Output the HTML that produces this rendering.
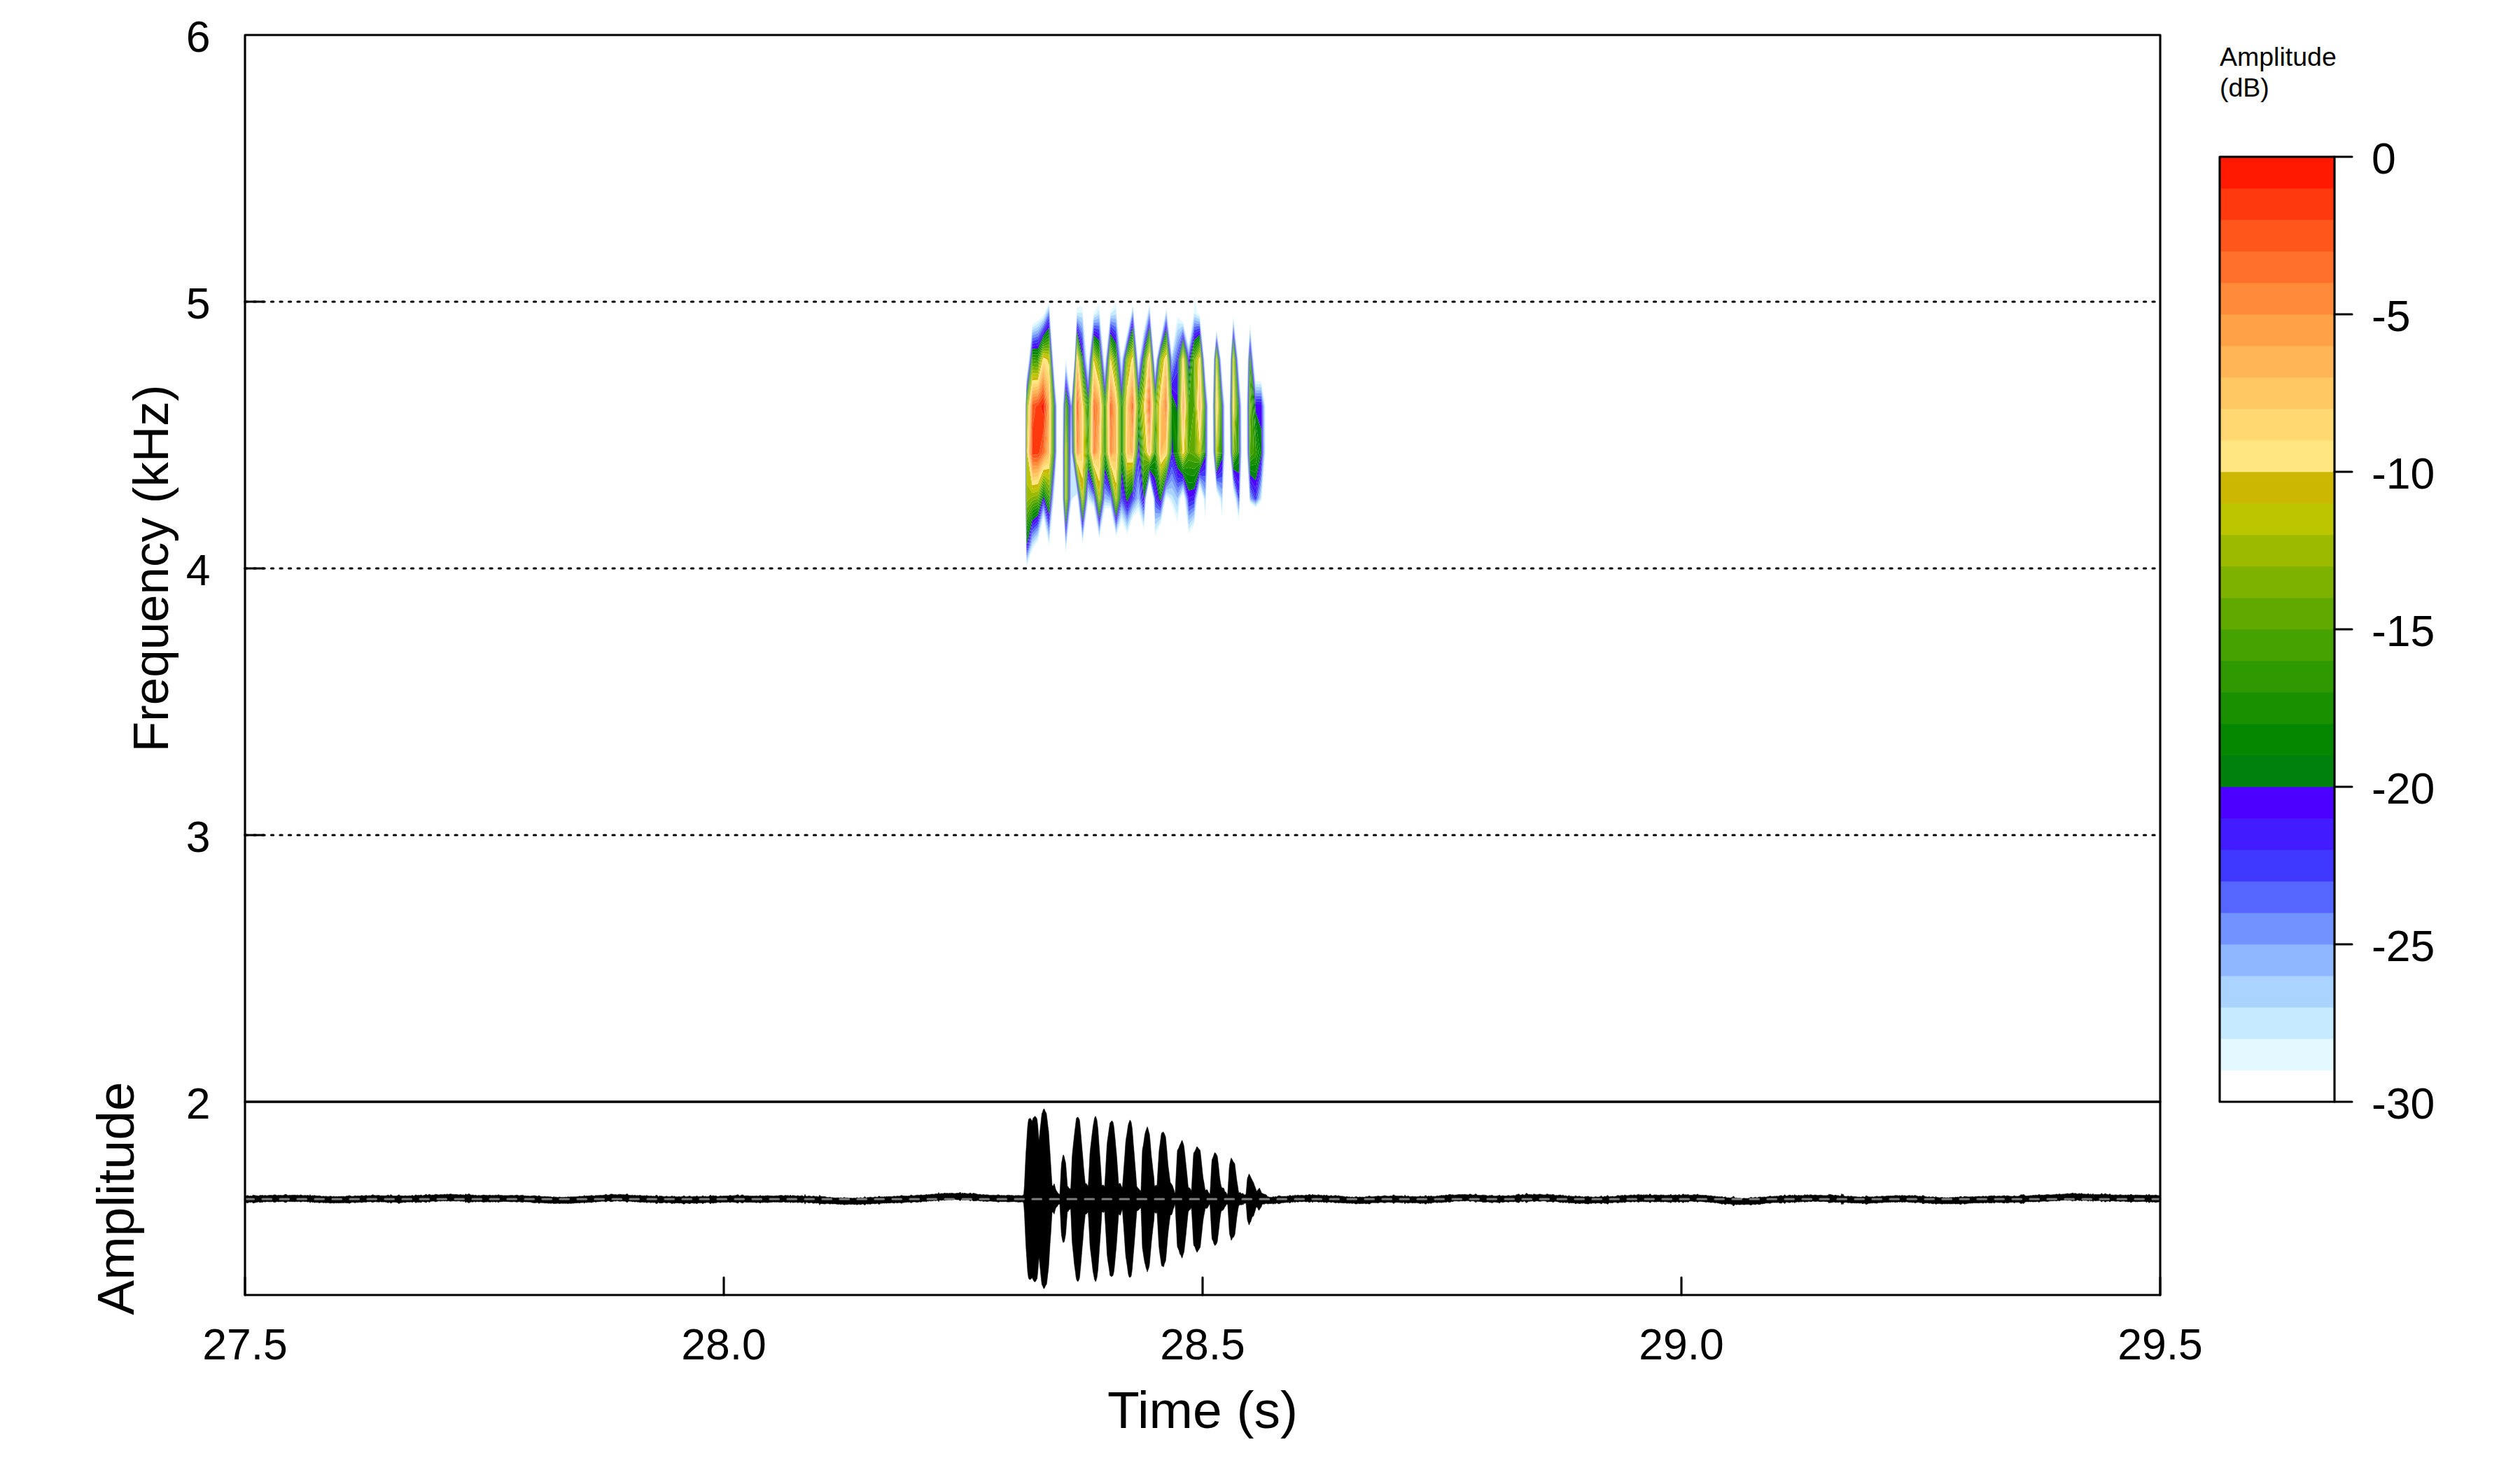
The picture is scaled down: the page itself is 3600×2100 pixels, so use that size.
<!DOCTYPE html>
<html lang="en"><head><meta charset="utf-8"><title>Spectrogram</title>
<style>html,body{margin:0;padding:0;background:#fff}svg{display:block}text{font-family:"Liberation Sans",sans-serif;fill:#000}</style></head><body>
<svg width="3600" height="2100" viewBox="0 0 3600 2100">
<rect width="3600" height="2100" fill="#fff"/>
<g id="spectro">
<path fill="#E3F8FF" d="M1466.7,810.0L1466.7,806.5L1465.8,778.9L1465.6,778.9ZM1465.6,778.9L1465.8,778.9L1464.9,712.6L1464.8,712.6ZM1464.8,712.6L1464.9,712.6L1464.8,646.3L1464.7,646.3ZM1464.7,646.3L1464.8,646.3L1465.0,580.1L1464.9,580.1ZM1464.9,580.1L1465.0,580.1L1466.7,537.9L1466.7,534.9ZM1474.7,785.3L1474.7,780.7L1466.7,806.5L1466.7,810.0ZM1469.9,513.8L1469.5,513.8L1466.7,534.9L1466.7,537.9ZM1469.5,513.8L1469.9,513.8L1474.7,467.8L1474.7,464.0ZM1478.8,778.9L1475.9,778.9L1474.7,780.7L1474.7,785.3ZM1475.9,778.9L1478.8,778.9L1482.7,773.6L1482.7,769.5ZM1482.7,462.4L1482.7,458.0L1474.7,464.0L1474.7,467.8ZM1490.7,739.3L1490.7,736.0L1482.7,769.5L1482.7,773.6ZM1490.7,453.7L1490.7,450.5L1482.7,458.0L1482.7,462.4ZM1498.6,786.7L1498.6,778.9L1498.4,778.9ZM1498.4,778.9L1498.6,778.9L1498.6,775.4L1490.7,736.0L1490.7,739.3ZM1493.3,447.6L1492.0,447.6L1490.7,450.5L1490.7,453.7ZM1492.0,447.6L1493.3,447.6L1498.6,435.6L1498.6,432.5ZM1498.8,778.9L1498.6,778.9L1498.6,786.7ZM1498.6,778.9L1498.8,778.9L1505.6,712.6L1505.1,712.6L1498.6,775.4ZM1505.1,712.6L1505.6,712.6L1506.6,700.6L1506.6,694.5ZM1506.6,543.5L1506.6,539.0L1504.8,513.8L1504.5,513.8ZM1504.5,513.8L1504.8,513.8L1499.9,447.6L1499.6,447.6ZM1499.6,447.6L1499.9,447.6L1498.6,432.5L1498.6,435.6ZM1510.2,646.3L1509.8,646.3L1506.6,694.5L1506.6,700.6ZM1509.8,646.3L1510.2,646.3L1510.2,580.1L1509.8,580.1ZM1509.8,580.1L1510.2,580.1L1506.6,539.0L1506.6,543.5ZM1522.6,791.7L1522.6,786.9L1522.2,778.9L1521.9,778.9ZM1521.9,778.9L1522.2,778.9L1518.0,712.6L1517.7,712.6ZM1517.7,712.6L1518.0,712.6L1517.9,646.3L1517.6,646.3ZM1517.6,646.3L1517.9,646.3L1518.4,580.1L1518.1,580.1ZM1518.1,580.1L1518.4,580.1L1522.6,515.9L1522.6,513.8L1522.4,513.8ZM1522.4,513.8L1522.6,513.8L1522.6,511.4ZM1523.7,778.9L1523.3,778.9L1522.6,786.9L1522.6,791.7ZM1523.3,778.9L1523.7,778.9L1530.5,717.2L1530.5,713.4ZM1530.5,573.6L1530.5,571.5L1522.7,513.8L1522.6,513.8L1522.6,515.9ZM1522.6,513.8L1522.7,513.8L1522.6,511.4ZM1533.5,712.6L1531.0,712.6L1530.5,713.4L1530.5,717.2ZM1531.0,712.6L1533.5,712.6L1538.5,707.6L1538.5,705.1ZM1535.1,513.8L1535.0,513.8L1530.5,571.5L1530.5,573.6ZM1535.0,513.8L1535.1,513.8L1538.5,447.6L1538.3,447.6ZM1538.3,447.6L1538.5,447.6L1538.5,446.8L1538.5,438.6ZM1546.5,778.3L1546.5,774.6L1539.7,712.6L1539.3,712.6ZM1539.3,712.6L1539.7,712.6L1538.5,705.1L1538.5,707.6ZM1546.5,446.8L1546.5,438.6L1538.5,438.6L1538.5,446.8ZM1554.5,717.7L1554.5,712.6L1546.5,774.6L1546.5,778.3ZM1554.5,529.9L1554.5,524.9L1553.0,513.8L1552.3,513.8ZM1552.3,513.8L1553.0,513.8L1546.9,447.6L1546.5,447.6ZM1546.5,447.6L1546.9,447.6L1546.5,438.6L1546.5,446.8ZM1562.5,725.1L1562.5,721.7L1554.5,712.6L1554.5,717.7ZM1555.7,513.8L1555.3,513.8L1554.5,524.9L1554.5,529.9ZM1555.3,513.8L1555.7,513.8L1562.5,450.5L1562.5,447.6L1562.4,447.6ZM1562.4,447.6L1562.5,447.6L1562.5,447.1ZM1570.4,770.0L1570.4,766.7L1562.5,721.7L1562.5,725.1ZM1566.8,447.6L1562.5,447.6L1562.5,450.5ZM1562.5,447.6L1566.8,447.6L1570.4,441.5L1570.4,432.9L1562.5,447.1ZM1578.4,726.8L1578.4,722.1L1570.4,766.7L1570.4,770.0ZM1578.4,527.7L1578.4,522.9L1577.5,513.8L1577.0,513.8ZM1577.0,513.8L1577.5,513.8L1571.0,447.6L1570.7,447.6ZM1570.7,447.6L1571.0,447.6L1570.4,432.9L1570.4,441.5ZM1586.4,725.9L1586.4,722.5L1578.4,722.1L1578.4,726.8ZM1579.5,513.8L1579.1,513.8L1578.4,522.9L1578.4,527.7ZM1579.1,513.8L1579.5,513.8L1586.4,447.9L1586.4,447.6L1586.1,447.6ZM1586.1,447.6L1586.4,447.6L1586.4,444.7ZM1594.4,766.7L1594.4,763.6L1586.4,722.5L1586.4,725.9ZM1587.3,447.6L1586.4,447.6L1586.4,447.9ZM1586.4,447.6L1587.3,447.6L1594.4,440.9L1594.4,431.4L1586.4,444.7ZM1602.3,743.2L1602.3,738.1L1594.4,763.6L1594.4,766.7ZM1602.3,519.8L1602.3,513.8L1601.7,513.8ZM1601.7,513.8L1602.3,513.8L1594.9,447.6L1594.6,447.6ZM1594.6,447.6L1594.9,447.6L1594.4,431.4L1594.4,440.9ZM1610.3,763.3L1610.3,758.2L1602.3,738.1L1602.3,743.2ZM1602.8,513.8L1602.3,513.8L1602.3,519.8ZM1602.3,513.8L1602.8,513.8L1610.3,477.0L1610.3,474.6ZM1618.3,739.6L1618.3,735.3L1610.3,758.2L1610.3,763.3ZM1616.5,447.6L1615.9,447.6L1610.3,474.6L1610.3,477.0ZM1615.9,447.6L1616.5,447.6L1618.3,436.1L1618.3,432.9ZM1626.3,729.2L1626.3,723.7L1618.3,735.3L1618.3,739.6ZM1626.3,523.3L1626.3,518.6L1625.9,513.8L1625.5,513.8ZM1625.5,513.8L1625.9,513.8L1619.7,447.6L1619.4,447.6ZM1619.4,447.6L1619.7,447.6L1618.3,432.9L1618.3,436.1ZM1634.2,756.7L1634.2,751.9L1626.3,723.7L1626.3,729.2ZM1627.5,513.8L1626.9,513.8L1626.3,518.6L1626.3,523.3ZM1626.9,513.8L1627.5,513.8L1634.2,473.3L1634.2,469.7ZM1637.5,712.6L1637.2,712.6L1634.2,751.9L1634.2,756.7ZM1637.2,712.6L1637.5,712.6L1642.2,688.0L1642.2,686.1ZM1639.8,447.6L1639.0,447.6L1634.2,469.7L1634.2,473.3ZM1639.0,447.6L1639.8,447.6L1642.2,436.6L1642.2,432.9ZM1650.2,766.7L1650.2,758.4L1647.9,712.6L1647.5,712.6ZM1647.5,712.6L1647.9,712.6L1642.2,686.1L1642.2,688.0ZM1650.2,529.4L1650.2,525.5L1649.2,513.8L1648.9,513.8ZM1648.9,513.8L1649.2,513.8L1643.5,447.6L1643.2,447.6ZM1643.2,447.6L1643.5,447.6L1642.2,432.9L1642.2,436.6ZM1658.2,748.0L1658.2,744.5L1650.2,758.4L1650.2,766.7ZM1651.9,513.8L1651.5,513.8L1650.2,525.5L1650.2,529.4ZM1651.5,513.8L1651.9,513.8L1658.2,482.8L1658.2,480.7ZM1665.4,712.6L1664.7,712.6L1658.2,744.5L1658.2,748.0ZM1664.7,712.6L1665.4,712.6L1666.2,709.5L1666.2,706.4ZM1665.3,447.6L1664.9,447.6L1658.2,480.7L1658.2,482.8ZM1664.9,447.6L1665.3,447.6L1666.2,441.7L1666.2,438.6ZM1674.1,720.7L1674.1,715.3L1672.5,712.6L1669.3,712.6ZM1669.3,712.6L1672.5,712.6L1666.2,706.4L1666.2,709.5ZM1674.1,506.9L1674.1,503.4L1667.4,447.6L1667.0,447.6ZM1667.0,447.6L1667.4,447.6L1666.2,438.6L1666.2,441.7ZM1682.1,746.7L1682.1,735.3L1674.1,715.3L1674.1,720.7ZM1682.1,461.9L1682.1,452.5L1674.1,503.4L1674.1,506.9ZM1686.4,712.6L1685.0,712.6L1682.1,735.3L1682.1,746.7ZM1685.0,712.6L1686.4,712.6L1690.1,705.0L1690.1,702.1ZM1690.1,462.6L1690.1,460.0L1682.1,452.5L1682.1,461.9ZM1698.1,762.5L1698.1,756.2L1692.8,712.6L1692.1,712.6ZM1692.1,712.6L1692.8,712.6L1690.1,702.1L1690.1,705.0ZM1698.1,495.4L1698.1,492.4L1690.1,460.0L1690.1,462.6ZM1706.0,750.0L1706.0,745.0L1698.1,756.2L1698.1,762.5ZM1706.0,447.6L1705.5,447.6L1698.1,492.4L1698.1,495.4ZM1705.5,447.6L1706.0,447.6L1706.0,421.0ZM1710.5,712.6L1709.9,712.6L1706.0,745.0L1706.0,750.0ZM1709.9,712.6L1710.5,712.6L1714.0,696.0L1714.0,693.3ZM1714.0,453.1L1714.0,450.0L1710.5,447.6L1706.0,447.6ZM1706.0,447.6L1710.5,447.6L1706.0,421.0ZM1722.0,745.0L1722.0,733.0L1720.4,712.6L1719.5,712.6ZM1719.5,712.6L1720.4,712.6L1714.0,693.3L1714.0,696.0ZM1722.0,537.5L1722.0,532.8L1720.7,513.8L1720.4,513.8ZM1720.4,513.8L1720.7,513.8L1714.0,450.0L1714.0,453.1ZM1722.9,712.6L1722.6,712.6L1722.0,733.0L1722.0,745.0ZM1722.6,712.6L1722.9,712.6L1726.1,646.3L1725.7,646.3ZM1725.7,646.3L1726.1,646.3L1726.2,580.1L1725.8,580.1ZM1725.8,580.1L1726.2,580.1L1722.0,532.8L1722.0,537.5ZM1737.9,703.1L1737.9,700.0L1732.9,646.3L1732.6,646.3ZM1732.6,646.3L1732.9,646.3L1732.5,580.1L1732.3,580.1ZM1732.3,580.1L1732.5,580.1L1733.9,513.8L1733.7,513.8ZM1733.7,513.8L1733.9,513.8L1737.9,472.4L1737.9,470.0ZM1745.9,740.0L1745.9,729.0L1743.7,712.6L1742.3,712.6ZM1742.3,712.6L1743.7,712.6L1737.9,700.0L1737.9,703.1ZM1745.9,539.3L1745.9,534.2L1744.5,513.8L1744.1,513.8ZM1744.1,513.8L1744.5,513.8L1737.9,470.0L1737.9,472.4ZM1746.8,712.6L1746.4,712.6L1745.9,729.0L1745.9,740.0ZM1746.4,712.6L1746.8,712.6L1750.1,646.3L1749.7,646.3ZM1749.7,646.3L1750.1,646.3L1749.9,580.1L1749.5,580.1ZM1749.5,580.1L1749.9,580.1L1745.9,534.2L1745.9,539.3ZM1761.9,702.1L1761.9,698.7L1757.1,646.3L1756.8,646.3ZM1756.8,646.3L1757.1,646.3L1756.6,580.1L1756.3,580.1ZM1756.3,580.1L1756.6,580.1L1757.8,513.8L1757.6,513.8ZM1757.6,513.8L1757.8,513.8L1761.9,454.2L1761.9,450.8ZM1769.8,743.3L1769.8,738.6L1765.2,712.6L1764.4,712.6ZM1764.4,712.6L1765.2,712.6L1761.9,698.7L1761.9,702.1ZM1769.8,531.1L1769.8,525.3L1769.1,513.8L1768.7,513.8ZM1768.7,513.8L1769.1,513.8L1761.9,450.8L1761.9,454.2ZM1771.7,712.6L1771.4,712.6L1769.8,738.6L1769.8,743.3ZM1771.4,712.6L1771.7,712.6L1774.2,646.3L1773.8,646.3ZM1773.8,646.3L1774.2,646.3L1773.9,580.1L1773.5,580.1ZM1773.5,580.1L1773.9,580.1L1769.8,525.3L1769.8,531.1ZM1785.8,718.0L1785.8,716.5L1785.0,712.6L1784.7,712.6ZM1784.7,712.6L1785.0,712.6L1781.3,646.3L1780.9,646.3ZM1780.9,646.3L1781.3,646.3L1781.1,580.1L1780.8,580.1ZM1780.8,580.1L1781.1,580.1L1782.6,513.8L1782.3,513.8ZM1782.3,513.8L1782.6,513.8L1785.8,465.9L1785.8,461.7ZM1793.8,725.0L1793.8,723.2L1785.8,716.5L1785.8,718.0ZM1793.8,548.8L1793.8,544.7L1790.8,513.8L1790.4,513.8ZM1790.4,513.8L1790.8,513.8L1785.8,461.7L1785.8,465.9ZM1801.8,716.0L1801.8,712.6L1793.8,723.2L1793.8,725.0ZM1801.8,548.8L1801.8,544.7L1793.8,544.7L1793.8,548.8ZM1802.4,712.6L1801.8,712.6L1801.8,716.0ZM1801.8,712.6L1802.4,712.6L1807.8,646.3L1807.2,646.3ZM1807.2,646.3L1807.8,646.3L1807.7,580.1L1807.0,580.1ZM1807.0,580.1L1807.7,580.1L1801.8,544.7L1801.8,548.8Z"/>
<path fill="#C6EAFF" d="M1466.7,806.5L1466.7,803.1L1465.9,778.9L1465.8,778.9ZM1465.8,778.9L1465.9,778.9L1465.0,712.6L1464.9,712.6ZM1464.9,712.6L1465.0,712.6L1464.9,646.3L1464.8,646.3ZM1464.8,646.3L1464.9,646.3L1465.2,580.1L1465.0,580.1ZM1465.0,580.1L1465.2,580.1L1466.7,540.9L1466.7,537.9ZM1474.7,780.7L1474.7,778.9L1474.1,778.9L1466.7,803.1L1466.7,806.5ZM1474.1,778.9L1474.7,778.9L1474.7,776.0ZM1470.3,513.8L1469.9,513.8L1466.7,537.9L1466.7,540.9ZM1469.9,513.8L1470.3,513.8L1474.7,471.7L1474.7,467.8ZM1475.9,778.9L1474.7,778.9L1474.7,780.7ZM1474.7,778.9L1475.9,778.9L1482.7,769.5L1482.7,765.4L1474.7,776.0ZM1482.7,466.9L1482.7,462.4L1474.7,467.8L1474.7,471.7ZM1490.7,736.0L1490.7,732.7L1482.7,765.4L1482.7,769.5ZM1490.7,456.8L1490.7,453.7L1482.7,462.4L1482.7,466.9ZM1498.6,775.4L1498.6,770.3L1490.7,732.7L1490.7,736.0ZM1494.7,447.6L1493.3,447.6L1490.7,453.7L1490.7,456.8ZM1493.3,447.6L1494.7,447.6L1498.6,438.8L1498.6,435.6ZM1505.1,712.6L1504.6,712.6L1498.6,770.3L1498.6,775.4ZM1504.6,712.6L1505.1,712.6L1506.6,694.5L1506.6,688.5ZM1506.6,548.1L1506.6,543.5L1504.5,513.8L1504.1,513.8ZM1504.1,513.8L1504.5,513.8L1499.6,447.6L1499.4,447.6ZM1499.4,447.6L1499.6,447.6L1498.6,435.6L1498.6,438.8ZM1509.8,646.3L1509.4,646.3L1506.6,688.5L1506.6,694.5ZM1509.4,646.3L1509.8,646.3L1509.8,580.1L1509.4,580.1ZM1509.4,580.1L1509.8,580.1L1506.6,543.5L1506.6,548.1ZM1522.6,786.9L1522.6,782.2L1522.4,778.9L1522.2,778.9ZM1522.2,778.9L1522.4,778.9L1518.2,712.6L1518.0,712.6ZM1518.0,712.6L1518.2,712.6L1518.2,646.3L1517.9,646.3ZM1517.9,646.3L1518.2,646.3L1518.7,580.1L1518.4,580.1ZM1518.4,580.1L1518.7,580.1L1522.6,520.9L1522.6,515.9ZM1523.3,778.9L1522.9,778.9L1522.6,782.2L1522.6,786.9ZM1522.9,778.9L1523.3,778.9L1530.5,713.4L1530.5,712.6L1530.2,712.6ZM1530.2,712.6L1530.5,712.6L1530.5,646.3L1530.4,646.3ZM1530.4,646.3L1530.5,646.3L1530.5,640.3ZM1530.5,575.8L1530.5,573.6L1522.6,515.9L1522.6,520.9ZM1531.0,712.6L1530.5,712.6L1530.5,713.4ZM1530.5,712.6L1531.0,712.6L1538.5,705.1L1538.5,702.6L1530.6,646.3L1530.5,646.3ZM1530.5,646.3L1530.6,646.3L1530.5,640.3ZM1535.3,513.8L1535.1,513.8L1530.5,573.6L1530.5,575.8ZM1535.1,513.8L1535.3,513.8L1538.5,450.5L1538.5,447.6L1538.5,447.6ZM1538.5,447.6L1538.5,447.6L1538.5,446.8ZM1546.5,774.6L1546.5,770.9L1540.1,712.6L1539.7,712.6ZM1539.7,712.6L1540.1,712.6L1538.5,702.6L1538.5,705.1ZM1546.5,454.5L1546.5,447.6L1538.5,447.6L1538.5,450.5ZM1538.5,447.6L1546.5,447.6L1546.5,446.8L1538.5,446.8ZM1554.5,712.6L1554.0,712.6L1546.5,770.9L1546.5,774.6ZM1554.0,712.6L1554.5,712.6L1554.5,707.1ZM1554.5,534.9L1554.5,529.9L1552.3,513.8L1551.7,513.8ZM1551.7,513.8L1552.3,513.8L1546.5,447.6L1546.5,447.6L1546.5,454.5ZM1546.5,447.6L1546.5,447.6L1546.5,446.8ZM1562.5,721.7L1562.5,718.3L1557.4,712.6L1554.5,712.6ZM1554.5,712.6L1557.4,712.6L1554.5,707.1ZM1556.1,513.8L1555.7,513.8L1554.5,529.9L1554.5,534.9ZM1555.7,513.8L1556.1,513.8L1562.5,454.1L1562.5,450.5ZM1570.4,766.7L1570.4,763.4L1562.5,718.3L1562.5,721.7ZM1570.4,449.2L1570.4,447.6L1566.8,447.6L1562.5,450.5L1562.5,454.1ZM1566.8,447.6L1570.4,447.6L1570.4,441.5ZM1578.4,722.1L1578.4,717.3L1570.4,763.4L1570.4,766.7ZM1578.4,532.4L1578.4,527.7L1577.0,513.8L1576.5,513.8ZM1576.5,513.8L1577.0,513.8L1570.7,447.6L1570.4,447.6L1570.4,449.2ZM1570.4,447.6L1570.7,447.6L1570.4,441.5ZM1586.4,722.5L1586.4,719.2L1578.4,717.3L1578.4,722.1ZM1579.9,513.8L1579.5,513.8L1578.4,527.7L1578.4,532.4ZM1579.5,513.8L1579.9,513.8L1586.4,451.5L1586.4,447.9ZM1594.4,763.6L1594.4,760.5L1586.4,719.2L1586.4,722.5ZM1594.4,449.3L1594.4,447.6L1587.3,447.6L1586.4,447.9L1586.4,451.5ZM1587.3,447.6L1594.4,447.6L1594.4,440.9ZM1602.3,738.1L1602.3,733.0L1594.4,760.5L1594.4,763.6ZM1602.3,525.9L1602.3,519.8L1601.7,513.8L1601.1,513.8ZM1601.1,513.8L1601.7,513.8L1594.6,447.6L1594.4,447.6L1594.4,449.3ZM1594.4,447.6L1594.6,447.6L1594.4,440.9ZM1610.3,758.2L1610.3,753.1L1602.3,733.0L1602.3,738.1ZM1603.3,513.8L1602.8,513.8L1602.3,519.8L1602.3,525.9ZM1602.8,513.8L1603.3,513.8L1610.3,479.5L1610.3,477.0ZM1618.3,735.3L1618.3,730.9L1610.3,753.1L1610.3,758.2ZM1617.0,447.6L1616.5,447.6L1610.3,477.0L1610.3,479.5ZM1616.5,447.6L1617.0,447.6L1618.3,439.3L1618.3,436.1ZM1626.3,723.7L1626.3,718.1L1618.3,730.9L1618.3,735.3ZM1626.3,528.0L1626.3,523.3L1625.5,513.8L1625.1,513.8ZM1625.1,513.8L1625.5,513.8L1619.4,447.6L1619.1,447.6ZM1619.1,447.6L1619.4,447.6L1618.3,436.1L1618.3,439.3ZM1634.2,751.9L1634.2,747.0L1626.3,718.1L1626.3,723.7ZM1628.1,513.8L1627.5,513.8L1626.3,523.3L1626.3,528.0ZM1627.5,513.8L1628.1,513.8L1634.2,477.0L1634.2,473.3ZM1637.2,712.6L1636.8,712.6L1634.2,747.0L1634.2,751.9ZM1636.8,712.6L1637.2,712.6L1642.2,686.1L1642.2,684.2ZM1640.6,447.6L1639.8,447.6L1634.2,473.3L1634.2,477.0ZM1639.8,447.6L1640.6,447.6L1642.2,440.2L1642.2,436.6ZM1650.2,758.4L1650.2,750.1L1648.4,712.6L1647.9,712.6ZM1647.9,712.6L1648.4,712.6L1642.2,684.2L1642.2,686.1ZM1650.2,533.3L1650.2,529.4L1648.9,513.8L1648.6,513.8ZM1648.6,513.8L1648.9,513.8L1643.2,447.6L1642.9,447.6ZM1642.9,447.6L1643.2,447.6L1642.2,436.6L1642.2,440.2ZM1658.2,744.5L1658.2,740.9L1650.2,750.1L1650.2,758.4ZM1652.3,513.8L1651.9,513.8L1650.2,529.4L1650.2,533.3ZM1651.9,513.8L1652.3,513.8L1658.2,484.8L1658.2,482.8ZM1664.7,712.6L1664.0,712.6L1658.2,740.9L1658.2,744.5ZM1664.0,712.6L1664.7,712.6L1666.2,706.4L1666.2,703.4ZM1665.8,447.6L1665.3,447.6L1658.2,482.8L1658.2,484.8ZM1665.3,447.6L1665.8,447.6L1666.2,444.8L1666.2,441.7ZM1674.1,715.3L1674.1,712.6L1672.5,712.6ZM1672.5,712.6L1674.1,712.6L1674.1,707.5L1666.2,703.4L1666.2,706.4ZM1674.1,510.3L1674.1,506.9L1667.0,447.6L1666.5,447.6ZM1666.5,447.6L1667.0,447.6L1666.2,441.7L1666.2,444.8ZM1682.1,735.3L1682.1,724.0L1676.8,712.6L1674.1,712.6L1674.1,715.3ZM1674.1,712.6L1676.8,712.6L1674.1,707.5ZM1682.1,471.4L1682.1,461.9L1674.1,506.9L1674.1,510.3ZM1685.0,712.6L1683.5,712.6L1682.1,724.0L1682.1,735.3ZM1683.5,712.6L1685.0,712.6L1690.1,702.1L1690.1,699.1ZM1690.1,465.3L1690.1,462.6L1682.1,461.9L1682.1,471.4ZM1698.1,756.2L1698.1,749.9L1693.6,712.6L1692.8,712.6ZM1692.8,712.6L1693.6,712.6L1690.1,699.1L1690.1,702.1ZM1698.1,498.5L1698.1,495.4L1690.1,462.6L1690.1,465.3ZM1706.0,745.0L1706.0,740.0L1698.1,749.9L1698.1,756.2ZM1706.0,452.3L1706.0,447.6L1698.1,495.4L1698.1,498.5ZM1709.9,712.6L1709.3,712.6L1706.0,740.0L1706.0,745.0ZM1709.3,712.6L1709.9,712.6L1714.0,693.3L1714.0,690.5ZM1714.0,456.3L1714.0,453.1L1706.0,447.6L1706.0,452.3ZM1722.0,733.0L1722.0,721.0L1721.3,712.6L1720.4,712.6ZM1720.4,712.6L1721.3,712.6L1714.0,690.5L1714.0,693.3ZM1722.0,542.2L1722.0,537.5L1720.4,513.8L1720.0,513.8ZM1720.0,513.8L1720.4,513.8L1714.0,453.1L1714.0,456.3ZM1722.6,712.6L1722.2,712.6L1722.0,721.0L1722.0,733.0ZM1722.2,712.6L1722.6,712.6L1725.7,646.3L1725.2,646.3ZM1725.2,646.3L1725.7,646.3L1725.8,580.1L1725.3,580.1ZM1725.3,580.1L1725.8,580.1L1722.0,537.5L1722.0,542.2ZM1737.9,700.0L1737.9,696.8L1733.2,646.3L1732.9,646.3ZM1732.9,646.3L1733.2,646.3L1732.8,580.1L1732.5,580.1ZM1732.5,580.1L1732.8,580.1L1734.1,513.8L1733.9,513.8ZM1733.9,513.8L1734.1,513.8L1737.9,474.7L1737.9,472.4ZM1745.9,729.0L1745.9,718.1L1745.2,712.6L1743.7,712.6ZM1743.7,712.6L1745.2,712.6L1737.9,696.8L1737.9,700.0ZM1745.9,544.4L1745.9,539.3L1744.1,513.8L1743.8,513.8ZM1743.8,513.8L1744.1,513.8L1737.9,472.4L1737.9,474.7ZM1746.4,712.6L1746.1,712.6L1745.9,718.1L1745.9,729.0ZM1746.1,712.6L1746.4,712.6L1749.7,646.3L1749.3,646.3ZM1749.3,646.3L1749.7,646.3L1749.5,580.1L1749.0,580.1ZM1749.0,580.1L1749.5,580.1L1745.9,539.3L1745.9,544.4ZM1761.9,698.7L1761.9,695.2L1757.4,646.3L1757.1,646.3ZM1757.1,646.3L1757.4,646.3L1756.9,580.1L1756.6,580.1ZM1756.6,580.1L1756.9,580.1L1758.0,513.8L1757.8,513.8ZM1757.8,513.8L1758.0,513.8L1761.9,457.5L1761.9,454.2ZM1769.8,738.6L1769.8,733.9L1766.1,712.6L1765.2,712.6ZM1765.2,712.6L1766.1,712.6L1761.9,695.2L1761.9,698.7ZM1769.8,536.9L1769.8,531.1L1768.7,513.8L1768.3,513.8ZM1768.3,513.8L1768.7,513.8L1761.9,454.2L1761.9,457.5ZM1771.4,712.6L1771.2,712.6L1769.8,733.9L1769.8,738.6ZM1771.2,712.6L1771.4,712.6L1773.8,646.3L1773.4,646.3ZM1773.4,646.3L1773.8,646.3L1773.5,580.1L1773.1,580.1ZM1773.1,580.1L1773.5,580.1L1769.8,531.1L1769.8,536.9ZM1785.8,716.5L1785.8,714.9L1785.3,712.6L1785.0,712.6ZM1785.0,712.6L1785.3,712.6L1781.6,646.3L1781.3,646.3ZM1781.3,646.3L1781.6,646.3L1781.4,580.1L1781.1,580.1ZM1781.1,580.1L1781.4,580.1L1782.9,513.8L1782.6,513.8ZM1782.6,513.8L1782.9,513.8L1785.8,470.2L1785.8,465.9ZM1793.8,723.2L1793.8,721.3L1785.8,714.9L1785.8,716.5ZM1793.8,553.0L1793.8,548.8L1790.4,513.8L1790.0,513.8ZM1790.0,513.8L1790.4,513.8L1785.8,465.9L1785.8,470.2ZM1801.8,712.6L1800.4,712.6L1793.8,721.3L1793.8,723.2ZM1800.4,712.6L1801.8,712.6L1801.8,704.8ZM1801.8,553.0L1801.8,548.8L1793.8,548.8L1793.8,553.0ZM1801.8,712.6L1807.2,646.3L1806.5,646.3L1801.8,704.8ZM1806.5,646.3L1807.2,646.3L1807.0,580.1L1806.3,580.1ZM1806.3,580.1L1807.0,580.1L1801.8,548.8L1801.8,553.0Z"/>
<path fill="#AAD4FF" d="M1466.7,803.1L1466.7,799.6L1466.0,778.9L1465.9,778.9ZM1465.9,778.9L1466.0,778.9L1465.1,712.6L1465.0,712.6ZM1465.0,712.6L1465.1,712.6L1465.0,646.3L1464.9,646.3ZM1464.9,646.3L1465.0,646.3L1465.3,580.1L1465.2,580.1ZM1465.2,580.1L1465.3,580.1L1466.7,543.9L1466.7,540.9ZM1474.1,778.9L1473.0,778.9L1466.7,799.6L1466.7,803.1ZM1473.0,778.9L1474.1,778.9L1474.7,776.0L1474.7,771.4ZM1470.7,513.8L1470.3,513.8L1466.7,540.9L1466.7,543.9ZM1470.3,513.8L1470.7,513.8L1474.7,475.5L1474.7,471.7ZM1482.7,765.4L1482.7,761.3L1474.7,771.4L1474.7,776.0ZM1482.7,471.3L1482.7,466.9L1474.7,471.7L1474.7,475.5ZM1490.7,732.7L1490.7,729.4L1482.7,761.3L1482.7,765.4ZM1490.7,460.0L1490.7,456.8L1482.7,466.9L1482.7,471.3ZM1498.6,770.3L1498.6,765.3L1490.7,729.4L1490.7,732.7ZM1496.1,447.6L1494.7,447.6L1490.7,456.8L1490.7,460.0ZM1494.7,447.6L1496.1,447.6L1498.6,441.9L1498.6,438.8ZM1504.6,712.6L1504.0,712.6L1498.6,765.3L1498.6,770.3ZM1504.0,712.6L1504.6,712.6L1506.6,688.5L1506.6,682.5ZM1506.6,552.7L1506.6,548.1L1504.1,513.8L1503.8,513.8ZM1503.8,513.8L1504.1,513.8L1499.4,447.6L1499.1,447.6ZM1499.1,447.6L1499.4,447.6L1498.6,438.8L1498.6,441.9ZM1509.4,646.3L1509.0,646.3L1506.6,682.5L1506.6,688.5ZM1509.0,646.3L1509.4,646.3L1509.4,580.1L1509.0,580.1ZM1509.0,580.1L1509.4,580.1L1506.6,548.1L1506.6,552.7ZM1522.6,782.2L1522.6,778.9L1522.4,778.9ZM1522.4,778.9L1522.6,778.9L1522.6,777.5L1518.5,712.6L1518.2,712.6ZM1518.2,712.6L1518.5,712.6L1518.4,646.3L1518.2,646.3ZM1518.2,646.3L1518.4,646.3L1519.1,580.1L1518.7,580.1ZM1518.7,580.1L1519.1,580.1L1522.6,525.8L1522.6,520.9ZM1522.9,778.9L1522.6,778.9L1522.6,782.2ZM1522.6,778.9L1522.9,778.9L1530.2,712.6L1529.7,712.6L1522.6,777.5ZM1529.7,712.6L1530.2,712.6L1530.4,646.3L1530.0,646.3ZM1530.0,646.3L1530.4,646.3L1530.5,640.3L1530.5,610.2ZM1530.5,577.9L1530.5,575.8L1522.6,520.9L1522.6,525.8ZM1538.5,702.6L1538.5,700.1L1531.0,646.3L1530.6,646.3ZM1530.6,646.3L1531.0,646.3L1530.5,610.2L1530.5,640.3ZM1535.4,513.8L1535.3,513.8L1530.5,575.8L1530.5,577.9ZM1535.3,513.8L1535.4,513.8L1538.5,453.7L1538.5,450.5ZM1546.5,770.9L1546.5,767.2L1540.5,712.6L1540.1,712.6ZM1540.1,712.6L1540.5,712.6L1538.5,700.1L1538.5,702.6ZM1546.5,462.2L1546.5,454.5L1538.5,450.5L1538.5,453.7ZM1554.0,712.6L1553.5,712.6L1546.5,767.2L1546.5,770.9ZM1553.5,712.6L1554.0,712.6L1554.5,707.1L1554.5,701.6ZM1554.5,539.9L1554.5,534.9L1551.7,513.8L1551.0,513.8ZM1551.0,513.8L1551.7,513.8L1546.5,454.5L1546.5,462.2ZM1562.5,718.3L1562.5,715.0L1560.4,712.6L1557.4,712.6ZM1557.4,712.6L1560.4,712.6L1554.5,701.6L1554.5,707.1ZM1556.4,513.8L1556.1,513.8L1554.5,534.9L1554.5,539.9ZM1556.1,513.8L1556.4,513.8L1562.5,457.6L1562.5,454.1ZM1570.4,763.4L1570.4,760.2L1562.5,715.0L1562.5,718.3ZM1570.4,454.5L1570.4,449.2L1562.5,454.1L1562.5,457.6ZM1578.4,717.3L1578.4,712.6L1570.4,760.2L1570.4,763.4ZM1578.4,537.2L1578.4,532.4L1576.5,513.8L1576.0,513.8ZM1576.0,513.8L1576.5,513.8L1570.4,449.2L1570.4,454.5ZM1586.4,719.2L1586.4,715.9L1578.4,712.6L1578.4,717.3ZM1580.3,513.8L1579.9,513.8L1578.4,532.4L1578.4,537.2ZM1579.9,513.8L1580.3,513.8L1586.4,455.1L1586.4,451.5ZM1594.4,760.5L1594.4,757.4L1586.4,715.9L1586.4,719.2ZM1594.4,455.3L1594.4,449.3L1586.4,451.5L1586.4,455.1ZM1602.3,733.0L1602.3,727.9L1594.4,757.4L1594.4,760.5ZM1602.3,531.9L1602.3,525.9L1601.1,513.8L1600.5,513.8ZM1600.5,513.8L1601.1,513.8L1594.4,449.3L1594.4,455.3ZM1610.3,753.1L1610.3,747.9L1602.3,727.9L1602.3,733.0ZM1603.8,513.8L1603.3,513.8L1602.3,525.9L1602.3,531.9ZM1603.3,513.8L1603.8,513.8L1610.3,481.9L1610.3,479.5ZM1618.3,730.9L1618.3,726.6L1610.3,747.9L1610.3,753.1ZM1617.5,447.6L1617.0,447.6L1610.3,479.5L1610.3,481.9ZM1617.0,447.6L1617.5,447.6L1618.3,442.5L1618.3,439.3ZM1626.3,718.1L1626.3,712.6L1618.3,726.6L1618.3,730.9ZM1626.3,532.8L1626.3,528.0L1625.1,513.8L1624.7,513.8ZM1624.7,513.8L1625.1,513.8L1619.1,447.6L1618.8,447.6ZM1618.8,447.6L1619.1,447.6L1618.3,439.3L1618.3,442.5ZM1634.2,747.0L1634.2,742.2L1626.3,712.6L1626.3,718.1ZM1628.7,513.8L1628.1,513.8L1626.3,528.0L1626.3,532.8ZM1628.1,513.8L1628.7,513.8L1634.2,480.7L1634.2,477.0ZM1636.8,712.6L1636.4,712.6L1634.2,742.2L1634.2,747.0ZM1636.4,712.6L1636.8,712.6L1642.2,684.2L1642.2,682.3ZM1641.4,447.6L1640.6,447.6L1634.2,477.0L1634.2,480.7ZM1640.6,447.6L1641.4,447.6L1642.2,443.9L1642.2,440.2ZM1650.2,750.1L1650.2,741.7L1648.8,712.6L1648.4,712.6ZM1648.4,712.6L1648.8,712.6L1642.2,682.3L1642.2,684.2ZM1650.2,537.2L1650.2,533.3L1648.6,513.8L1648.3,513.8ZM1648.3,513.8L1648.6,513.8L1642.9,447.6L1642.5,447.6ZM1642.5,447.6L1642.9,447.6L1642.2,440.2L1642.2,443.9ZM1658.2,740.9L1658.2,737.4L1650.2,741.7L1650.2,750.1ZM1652.7,513.8L1652.3,513.8L1650.2,533.3L1650.2,537.2ZM1652.3,513.8L1652.7,513.8L1658.2,486.9L1658.2,484.8ZM1664.0,712.6L1663.3,712.6L1658.2,737.4L1658.2,740.9ZM1663.3,712.6L1664.0,712.6L1666.2,703.4L1666.2,700.3ZM1666.2,447.9L1666.2,447.6L1665.8,447.6L1658.2,484.8L1658.2,486.9ZM1665.8,447.6L1666.2,447.6L1666.2,444.8ZM1674.1,707.5L1674.1,697.3L1666.2,700.3L1666.2,703.4ZM1674.1,513.8L1674.1,510.3L1666.5,447.6L1666.2,447.6L1666.2,447.9ZM1666.2,447.6L1666.5,447.6L1666.2,444.8ZM1682.1,724.0L1682.1,712.6L1676.8,712.6ZM1676.8,712.6L1682.1,712.6L1674.1,697.3L1674.1,707.5ZM1674.1,513.8L1682.1,480.8L1682.1,471.4L1674.1,510.3ZM1683.5,712.6L1682.1,712.6L1682.1,724.0ZM1682.1,712.6L1683.5,712.6L1690.1,699.1L1690.1,696.2ZM1690.1,467.9L1690.1,465.3L1682.1,471.4L1682.1,480.8ZM1698.1,749.9L1698.1,743.6L1694.3,712.6L1693.6,712.6ZM1693.6,712.6L1694.3,712.6L1690.1,696.2L1690.1,699.1ZM1698.1,501.6L1698.1,498.5L1690.1,465.3L1690.1,467.9ZM1706.0,740.0L1706.0,735.0L1698.1,743.6L1698.1,749.9ZM1706.0,457.1L1706.0,452.3L1698.1,498.5L1698.1,501.6ZM1709.3,712.6L1708.7,712.6L1706.0,735.0L1706.0,740.0ZM1708.7,712.6L1709.3,712.6L1714.0,690.5L1714.0,687.8ZM1714.0,459.4L1714.0,456.3L1706.0,452.3L1706.0,457.1ZM1722.0,721.0L1722.0,712.6L1721.3,712.6ZM1721.3,712.6L1722.0,712.6L1722.0,709.7L1714.0,687.8L1714.0,690.5ZM1722.0,547.0L1722.0,542.2L1720.0,513.8L1719.7,513.8ZM1719.7,513.8L1720.0,513.8L1714.0,456.3L1714.0,459.4ZM1722.2,712.6L1722.0,712.6L1722.0,721.0ZM1722.0,712.6L1722.2,712.6L1725.2,646.3L1724.8,646.3L1722.0,709.7ZM1724.8,646.3L1725.2,646.3L1725.3,580.1L1724.9,580.1ZM1724.9,580.1L1725.3,580.1L1722.0,542.2L1722.0,547.0ZM1737.9,696.8L1737.9,693.7L1733.5,646.3L1733.2,646.3ZM1733.2,646.3L1733.5,646.3L1733.1,580.1L1732.8,580.1ZM1732.8,580.1L1733.1,580.1L1734.4,513.8L1734.1,513.8ZM1734.1,513.8L1734.4,513.8L1737.9,477.1L1737.9,474.7ZM1745.9,718.1L1745.9,712.6L1745.2,712.6ZM1745.2,712.6L1745.9,712.6L1745.9,708.2L1737.9,693.7L1737.9,696.8ZM1745.9,549.5L1745.9,544.4L1743.8,513.8L1743.4,513.8ZM1743.4,513.8L1743.8,513.8L1737.9,474.7L1737.9,477.1ZM1746.1,712.6L1745.9,712.6L1745.9,718.1ZM1745.9,712.6L1746.1,712.6L1749.3,646.3L1748.9,646.3L1745.9,708.2ZM1748.9,646.3L1749.3,646.3L1749.0,580.1L1748.6,580.1ZM1748.6,580.1L1749.0,580.1L1745.9,544.4L1745.9,549.5ZM1761.9,695.2L1761.9,691.7L1757.7,646.3L1757.4,646.3ZM1757.4,646.3L1757.7,646.3L1757.1,580.1L1756.9,580.1ZM1756.9,580.1L1757.1,580.1L1758.3,513.8L1758.0,513.8ZM1758.0,513.8L1758.3,513.8L1761.9,460.9L1761.9,457.5ZM1769.8,733.9L1769.8,729.1L1766.9,712.6L1766.1,712.6ZM1766.1,712.6L1766.9,712.6L1761.9,691.7L1761.9,695.2ZM1769.8,542.6L1769.8,536.9L1768.3,513.8L1767.9,513.8ZM1767.9,513.8L1768.3,513.8L1761.9,457.5L1761.9,460.9ZM1771.2,712.6L1770.9,712.6L1769.8,729.1L1769.8,733.9ZM1770.9,712.6L1771.2,712.6L1773.4,646.3L1773.0,646.3ZM1773.0,646.3L1773.4,646.3L1773.1,580.1L1772.7,580.1ZM1772.7,580.1L1773.1,580.1L1769.8,536.9L1769.8,542.6ZM1785.8,714.9L1785.8,713.4L1785.6,712.6L1785.3,712.6ZM1785.3,712.6L1785.6,712.6L1782.0,646.3L1781.6,646.3ZM1781.6,646.3L1782.0,646.3L1781.7,580.1L1781.4,580.1ZM1781.4,580.1L1781.7,580.1L1783.2,513.8L1782.9,513.8ZM1782.9,513.8L1783.2,513.8L1785.8,474.4L1785.8,470.2ZM1793.8,721.3L1793.8,719.5L1785.8,713.4L1785.8,714.9ZM1793.8,557.2L1793.8,553.0L1790.0,513.8L1789.6,513.8ZM1789.6,513.8L1790.0,513.8L1785.8,470.2L1785.8,474.4ZM1800.4,712.6L1799.0,712.6L1793.8,719.5L1793.8,721.3ZM1799.0,712.6L1800.4,712.6L1801.8,704.8L1801.8,697.0ZM1801.8,557.2L1801.8,553.0L1793.8,553.0L1793.8,557.2ZM1806.5,646.3L1805.9,646.3L1801.8,697.0L1801.8,704.8ZM1805.9,646.3L1806.5,646.3L1806.3,580.1L1805.6,580.1ZM1805.6,580.1L1806.3,580.1L1801.8,553.0L1801.8,557.2Z"/>
<path fill="#8EB7FF" d="M1466.7,799.6L1466.7,796.2L1466.1,778.9L1466.0,778.9ZM1466.0,778.9L1466.1,778.9L1465.3,712.6L1465.1,712.6ZM1465.1,712.6L1465.3,712.6L1465.1,646.3L1465.0,646.3ZM1465.0,646.3L1465.1,646.3L1465.4,580.1L1465.3,580.1ZM1465.3,580.1L1465.4,580.1L1466.7,547.0L1466.7,543.9ZM1473.0,778.9L1472.0,778.9L1466.7,796.2L1466.7,799.6ZM1472.0,778.9L1473.0,778.9L1474.7,771.4L1474.7,766.7ZM1471.1,513.8L1470.7,513.8L1466.7,543.9L1466.7,547.0ZM1470.7,513.8L1471.1,513.8L1474.7,479.3L1474.7,475.5ZM1482.7,761.3L1482.7,757.2L1474.7,766.7L1474.7,771.4ZM1482.7,475.7L1482.7,471.3L1474.7,475.5L1474.7,479.3ZM1490.7,729.4L1490.7,726.1L1482.7,757.2L1482.7,761.3ZM1490.7,463.2L1490.7,460.0L1482.7,471.3L1482.7,475.7ZM1498.6,765.3L1498.6,760.3L1490.7,726.1L1490.7,729.4ZM1497.5,447.6L1496.1,447.6L1490.7,460.0L1490.7,463.2ZM1496.1,447.6L1497.5,447.6L1498.6,445.1L1498.6,441.9ZM1504.0,712.6L1503.5,712.6L1498.6,760.3L1498.6,765.3ZM1503.5,712.6L1504.0,712.6L1506.6,682.5L1506.6,676.5ZM1506.6,557.2L1506.6,552.7L1503.8,513.8L1503.5,513.8ZM1503.5,513.8L1503.8,513.8L1499.1,447.6L1498.8,447.6ZM1498.8,447.6L1499.1,447.6L1498.6,441.9L1498.6,445.1ZM1509.0,646.3L1508.6,646.3L1506.6,676.5L1506.6,682.5ZM1508.6,646.3L1509.0,646.3L1509.0,580.1L1508.6,580.1ZM1508.6,580.1L1509.0,580.1L1506.6,552.7L1506.6,557.2ZM1522.6,777.5L1522.6,773.0L1518.8,712.6L1518.5,712.6ZM1518.5,712.6L1518.8,712.6L1518.7,646.3L1518.4,646.3ZM1518.4,646.3L1518.7,646.3L1519.4,580.1L1519.1,580.1ZM1519.1,580.1L1519.4,580.1L1522.6,530.7L1522.6,525.8ZM1529.7,712.6L1529.2,712.6L1522.6,773.0L1522.6,777.5ZM1529.2,712.6L1529.7,712.6L1530.0,646.3L1529.5,646.3ZM1529.5,646.3L1530.0,646.3L1530.5,610.2L1530.5,580.1ZM1530.5,580.1L1530.5,577.9L1522.6,525.8L1522.6,530.7ZM1538.5,700.1L1538.5,697.6L1531.3,646.3L1531.0,646.3ZM1531.0,646.3L1531.3,646.3L1530.5,580.1L1530.5,610.2ZM1530.5,580.1L1535.6,513.8L1535.4,513.8L1530.5,577.9ZM1535.4,513.8L1535.6,513.8L1538.5,456.9L1538.5,453.7ZM1546.5,767.2L1546.5,763.5L1540.9,712.6L1540.5,712.6ZM1540.5,712.6L1540.9,712.6L1538.5,697.6L1538.5,700.1ZM1546.5,469.9L1546.5,462.2L1538.5,453.7L1538.5,456.9ZM1553.5,712.6L1553.1,712.6L1546.5,763.5L1546.5,767.2ZM1553.1,712.6L1553.5,712.6L1554.5,701.6L1554.5,696.0ZM1554.5,544.9L1554.5,539.9L1551.0,513.8L1550.3,513.8ZM1550.3,513.8L1551.0,513.8L1546.5,462.2L1546.5,469.9ZM1562.5,715.0L1562.5,712.6L1560.4,712.6ZM1560.4,712.6L1562.5,712.6L1562.5,711.7L1554.5,696.0L1554.5,701.6ZM1556.8,513.8L1556.4,513.8L1554.5,539.9L1554.5,544.9ZM1556.4,513.8L1556.8,513.8L1562.5,461.1L1562.5,457.6ZM1570.4,760.2L1570.4,756.9L1562.6,712.6L1562.5,712.6L1562.5,715.0ZM1562.5,712.6L1562.6,712.6L1562.5,711.7ZM1570.4,459.9L1570.4,454.5L1562.5,457.6L1562.5,461.1ZM1578.4,712.6L1577.9,712.6L1570.4,756.9L1570.4,760.2ZM1577.9,712.6L1578.4,712.6L1578.4,705.2ZM1578.4,542.0L1578.4,537.2L1576.0,513.8L1575.5,513.8ZM1575.5,513.8L1576.0,513.8L1570.4,454.5L1570.4,459.9ZM1586.4,715.9L1586.4,712.6L1578.4,712.6ZM1578.4,712.6L1586.4,712.6L1578.4,705.2ZM1580.6,513.8L1580.3,513.8L1578.4,537.2L1578.4,542.0ZM1580.3,513.8L1580.6,513.8L1586.4,458.7L1586.4,455.1ZM1594.4,757.4L1594.4,754.3L1586.4,712.6L1586.4,715.9ZM1594.4,461.2L1594.4,455.3L1586.4,455.1L1586.4,458.7ZM1602.3,727.9L1602.3,722.8L1594.4,754.3L1594.4,757.4ZM1602.3,537.9L1602.3,531.9L1600.5,513.8L1599.9,513.8ZM1599.9,513.8L1600.5,513.8L1594.4,455.3L1594.4,461.2ZM1610.3,747.9L1610.3,742.8L1602.3,722.8L1602.3,727.9ZM1604.3,513.8L1603.8,513.8L1602.3,531.9L1602.3,537.9ZM1603.8,513.8L1604.3,513.8L1610.3,484.4L1610.3,481.9ZM1618.3,726.6L1618.3,722.2L1610.3,742.8L1610.3,747.9ZM1618.0,447.6L1617.5,447.6L1610.3,481.9L1610.3,484.4ZM1617.5,447.6L1618.0,447.6L1618.3,445.7L1618.3,442.5ZM1626.3,712.6L1623.8,712.6L1618.3,722.2L1618.3,726.6ZM1623.8,712.6L1626.3,712.6L1626.3,696.0ZM1626.3,537.5L1626.3,532.8L1624.7,513.8L1624.4,513.8ZM1624.4,513.8L1624.7,513.8L1618.8,447.6L1618.5,447.6ZM1618.5,447.6L1618.8,447.6L1618.3,442.5L1618.3,445.7ZM1634.2,742.2L1634.2,737.3L1627.6,712.6L1626.3,712.6ZM1626.3,712.6L1627.6,712.6L1626.3,696.0ZM1629.3,513.8L1628.7,513.8L1626.3,532.8L1626.3,537.5ZM1628.7,513.8L1629.3,513.8L1634.2,484.4L1634.2,480.7ZM1636.4,712.6L1636.1,712.6L1634.2,737.3L1634.2,742.2ZM1636.1,712.6L1636.4,712.6L1642.2,682.3L1642.2,680.4ZM1642.2,447.6L1641.4,447.6L1634.2,480.7L1634.2,484.4ZM1641.4,447.6L1642.2,447.6L1642.2,443.9ZM1650.2,741.7L1650.2,733.4L1649.2,712.6L1648.8,712.6ZM1648.8,712.6L1649.2,712.6L1642.2,680.4L1642.2,682.3ZM1650.2,541.1L1650.2,537.2L1648.3,513.8L1648.0,513.8ZM1648.0,513.8L1648.3,513.8L1642.5,447.6L1642.2,447.6ZM1642.2,447.6L1642.5,447.6L1642.2,443.9ZM1658.2,737.4L1658.2,733.8L1650.2,733.4L1650.2,741.7ZM1653.1,513.8L1652.7,513.8L1650.2,537.2L1650.2,541.1ZM1652.7,513.8L1653.1,513.8L1658.2,489.0L1658.2,486.9ZM1663.3,712.6L1662.5,712.6L1658.2,733.8L1658.2,737.4ZM1662.5,712.6L1663.3,712.6L1666.2,700.3L1666.2,697.2ZM1666.2,451.6L1666.2,447.9L1658.2,486.9L1658.2,489.0ZM1674.1,697.3L1674.1,687.1L1666.2,697.2L1666.2,700.3ZM1674.1,522.1L1674.1,513.8L1673.7,513.8ZM1673.7,513.8L1674.1,513.8L1666.2,447.9L1666.2,451.6ZM1682.1,712.6L1682.1,705.2L1674.1,687.1L1674.1,697.3ZM1676.4,513.8L1674.1,513.8L1674.1,522.1ZM1674.1,513.8L1676.4,513.8L1682.1,490.2L1682.1,480.8ZM1682.1,712.6L1690.1,696.2L1690.1,693.3L1682.1,705.2ZM1690.1,470.6L1690.1,467.9L1682.1,480.8L1682.1,490.2ZM1698.1,743.6L1698.1,737.2L1695.1,712.6L1694.3,712.6ZM1694.3,712.6L1695.1,712.6L1690.1,693.3L1690.1,696.2ZM1698.1,504.6L1698.1,501.6L1690.1,467.9L1690.1,470.6ZM1706.0,735.0L1706.0,730.1L1698.1,737.2L1698.1,743.6ZM1706.0,461.9L1706.0,457.1L1698.1,501.6L1698.1,504.6ZM1708.7,712.6L1708.1,712.6L1706.0,730.1L1706.0,735.0ZM1708.1,712.6L1708.7,712.6L1714.0,687.8L1714.0,685.0ZM1714.0,462.5L1714.0,459.4L1706.0,457.1L1706.0,461.9ZM1722.0,709.7L1722.0,699.9L1714.0,685.0L1714.0,687.8ZM1722.0,551.7L1722.0,547.0L1719.7,513.8L1719.4,513.8ZM1719.4,513.8L1719.7,513.8L1714.0,459.4L1714.0,462.5ZM1724.8,646.3L1724.4,646.3L1722.0,699.9L1722.0,709.7ZM1724.4,646.3L1724.8,646.3L1724.9,580.1L1724.5,580.1ZM1724.5,580.1L1724.9,580.1L1722.0,547.0L1722.0,551.7ZM1737.9,693.7L1737.9,690.5L1733.8,646.3L1733.5,646.3ZM1733.5,646.3L1733.8,646.3L1733.3,580.1L1733.1,580.1ZM1733.1,580.1L1733.3,580.1L1734.6,513.8L1734.4,513.8ZM1734.4,513.8L1734.6,513.8L1737.9,479.5L1737.9,477.1ZM1745.9,708.2L1745.9,699.4L1737.9,690.5L1737.9,693.7ZM1745.9,554.6L1745.9,549.5L1743.4,513.8L1743.1,513.8ZM1743.1,513.8L1743.4,513.8L1737.9,477.1L1737.9,479.5ZM1748.9,646.3L1748.4,646.3L1745.9,699.4L1745.9,708.2ZM1748.4,646.3L1748.9,646.3L1748.6,580.1L1748.1,580.1ZM1748.1,580.1L1748.6,580.1L1745.9,549.5L1745.9,554.6ZM1761.9,691.7L1761.9,688.2L1758.0,646.3L1757.7,646.3ZM1757.7,646.3L1758.0,646.3L1757.4,580.1L1757.1,580.1ZM1757.1,580.1L1757.4,580.1L1758.5,513.8L1758.3,513.8ZM1758.3,513.8L1758.5,513.8L1761.9,464.2L1761.9,460.9ZM1769.8,729.1L1769.8,724.4L1767.7,712.6L1766.9,712.6ZM1766.9,712.6L1767.7,712.6L1761.9,688.2L1761.9,691.7ZM1769.8,548.4L1769.8,542.6L1767.9,513.8L1767.5,513.8ZM1767.5,513.8L1767.9,513.8L1761.9,460.9L1761.9,464.2ZM1770.9,712.6L1770.6,712.6L1769.8,724.4L1769.8,729.1ZM1770.6,712.6L1770.9,712.6L1773.0,646.3L1772.6,646.3ZM1772.6,646.3L1773.0,646.3L1772.7,580.1L1772.2,580.1ZM1772.2,580.1L1772.7,580.1L1769.8,542.6L1769.8,548.4ZM1785.8,713.4L1785.8,712.6L1785.6,712.6ZM1785.6,712.6L1785.8,712.6L1785.8,709.5L1782.3,646.3L1782.0,646.3ZM1782.0,646.3L1782.3,646.3L1782.1,580.1L1781.7,580.1ZM1781.7,580.1L1782.1,580.1L1783.5,513.8L1783.2,513.8ZM1783.2,513.8L1783.5,513.8L1785.8,478.7L1785.8,474.4ZM1793.8,719.5L1793.8,717.6L1787.0,712.6L1785.8,712.6L1785.8,713.4ZM1785.8,712.6L1787.0,712.6L1785.8,709.5ZM1793.8,561.3L1793.8,557.2L1789.6,513.8L1789.2,513.8ZM1789.2,513.8L1789.6,513.8L1785.8,474.4L1785.8,478.7ZM1799.0,712.6L1797.6,712.6L1793.8,717.6L1793.8,719.5ZM1797.6,712.6L1799.0,712.6L1801.8,697.0L1801.8,689.2ZM1801.8,561.3L1801.8,557.2L1793.8,557.2L1793.8,561.3ZM1805.9,646.3L1805.3,646.3L1801.8,689.2L1801.8,697.0ZM1805.3,646.3L1805.9,646.3L1805.6,580.1L1804.9,580.1ZM1804.9,580.1L1805.6,580.1L1801.8,557.2L1801.8,561.3Z"/>
<path fill="#7192FF" d="M1466.7,796.2L1466.7,792.7L1466.2,778.9L1466.1,778.9ZM1466.1,778.9L1466.2,778.9L1465.4,712.6L1465.3,712.6ZM1465.3,712.6L1465.4,712.6L1465.2,646.3L1465.1,646.3ZM1465.1,646.3L1465.2,646.3L1465.5,580.1L1465.4,580.1ZM1465.4,580.1L1465.5,580.1L1466.7,550.0L1466.7,547.0ZM1472.0,778.9L1470.9,778.9L1466.7,792.7L1466.7,796.2ZM1470.9,778.9L1472.0,778.9L1474.7,766.7L1474.7,762.0ZM1471.5,513.8L1471.1,513.8L1466.7,547.0L1466.7,550.0ZM1471.1,513.8L1471.5,513.8L1474.7,483.2L1474.7,479.3ZM1482.7,757.2L1482.7,753.1L1474.7,762.0L1474.7,766.7ZM1482.7,480.2L1482.7,475.7L1474.7,479.3L1474.7,483.2ZM1490.7,726.1L1490.7,722.8L1482.7,753.1L1482.7,757.2ZM1490.7,466.3L1490.7,463.2L1482.7,475.7L1482.7,480.2ZM1498.6,760.3L1498.6,755.3L1490.7,722.8L1490.7,726.1ZM1498.6,448.5L1498.6,447.6L1497.5,447.6L1490.7,463.2L1490.7,466.3ZM1497.5,447.6L1498.6,447.6L1498.6,445.1ZM1503.5,712.6L1503.0,712.6L1498.6,755.3L1498.6,760.3ZM1503.0,712.6L1503.5,712.6L1506.6,676.5L1506.6,670.4ZM1506.6,561.8L1506.6,557.2L1503.5,513.8L1503.1,513.8ZM1503.1,513.8L1503.5,513.8L1498.8,447.6L1498.6,447.6L1498.6,448.5ZM1498.6,447.6L1498.8,447.6L1498.6,445.1ZM1508.6,646.3L1508.2,646.3L1506.6,670.4L1506.6,676.5ZM1508.2,646.3L1508.6,646.3L1508.6,580.1L1508.2,580.1ZM1508.2,580.1L1508.6,580.1L1506.6,557.2L1506.6,561.8ZM1522.6,773.0L1522.6,768.6L1519.1,712.6L1518.8,712.6ZM1518.8,712.6L1519.1,712.6L1519.0,646.3L1518.7,646.3ZM1518.7,646.3L1519.0,646.3L1519.7,580.1L1519.4,580.1ZM1519.4,580.1L1519.7,580.1L1522.6,535.7L1522.6,530.7ZM1529.2,712.6L1528.7,712.6L1522.6,768.6L1522.6,773.0ZM1528.7,712.6L1529.2,712.6L1529.5,646.3L1529.0,646.3ZM1529.0,646.3L1529.5,646.3L1530.5,580.1L1529.8,580.1ZM1529.8,580.1L1530.5,580.1L1522.6,530.7L1522.6,535.7ZM1538.5,697.6L1538.5,695.1L1531.7,646.3L1531.3,646.3ZM1531.3,646.3L1531.7,646.3L1530.9,580.1L1530.5,580.1ZM1530.5,580.1L1530.9,580.1L1535.8,513.8L1535.6,513.8ZM1535.6,513.8L1535.8,513.8L1538.5,460.1L1538.5,456.9ZM1546.5,763.5L1546.5,759.8L1541.3,712.6L1540.9,712.6ZM1540.9,712.6L1541.3,712.6L1538.5,695.1L1538.5,697.6ZM1546.5,477.6L1546.5,469.9L1538.5,456.9L1538.5,460.1ZM1553.1,712.6L1552.6,712.6L1546.5,759.8L1546.5,763.5ZM1552.6,712.6L1553.1,712.6L1554.5,696.0L1554.5,690.5ZM1554.5,550.0L1554.5,544.9L1550.3,513.8L1549.7,513.8ZM1549.7,513.8L1550.3,513.8L1546.5,469.9L1546.5,477.6ZM1562.5,711.7L1562.5,708.6L1554.5,690.5L1554.5,696.0ZM1557.2,513.8L1556.8,513.8L1554.5,544.9L1554.5,550.0ZM1556.8,513.8L1557.2,513.8L1562.5,464.7L1562.5,461.1ZM1570.4,756.9L1570.4,753.6L1563.2,712.6L1562.6,712.6ZM1562.6,712.6L1563.2,712.6L1562.5,708.6L1562.5,711.7ZM1570.4,465.2L1570.4,459.9L1562.5,461.1L1562.5,464.7ZM1577.9,712.6L1577.3,712.6L1570.4,753.6L1570.4,756.9ZM1577.3,712.6L1577.9,712.6L1578.4,705.2L1578.4,697.9ZM1578.4,546.7L1578.4,542.0L1575.5,513.8L1575.0,513.8ZM1575.0,513.8L1575.5,513.8L1570.4,459.9L1570.4,465.2ZM1586.4,712.6L1586.4,709.4L1578.4,697.9L1578.4,705.2ZM1581.0,513.8L1580.6,513.8L1578.4,542.0L1578.4,546.7ZM1580.6,513.8L1581.0,513.8L1586.4,462.3L1586.4,458.7ZM1594.4,754.3L1594.4,751.2L1587.0,712.6L1586.4,712.6ZM1586.4,712.6L1587.0,712.6L1586.4,709.4ZM1594.4,467.1L1594.4,461.2L1586.4,458.7L1586.4,462.3ZM1602.3,722.8L1602.3,717.7L1594.4,751.2L1594.4,754.3ZM1602.3,543.9L1602.3,537.9L1599.9,513.8L1599.2,513.8ZM1599.2,513.8L1599.9,513.8L1594.4,461.2L1594.4,467.1ZM1610.3,742.8L1610.3,737.7L1602.3,717.7L1602.3,722.8ZM1604.8,513.8L1604.3,513.8L1602.3,537.9L1602.3,543.9ZM1604.3,513.8L1604.8,513.8L1610.3,486.8L1610.3,484.4ZM1618.3,722.2L1618.3,717.8L1610.3,737.7L1610.3,742.8ZM1618.3,449.3L1618.3,447.6L1618.0,447.6L1610.3,484.4L1610.3,486.8ZM1618.0,447.6L1618.3,447.6L1618.3,445.7ZM1623.8,712.6L1621.3,712.6L1618.3,717.8L1618.3,722.2ZM1621.3,712.6L1623.8,712.6L1626.3,696.0L1626.3,679.5ZM1626.3,542.2L1626.3,537.5L1624.4,513.8L1624.0,513.8ZM1624.0,513.8L1624.4,513.8L1618.5,447.6L1618.3,447.6L1618.3,449.3ZM1618.3,447.6L1618.5,447.6L1618.3,445.7ZM1634.2,737.3L1634.2,732.5L1628.9,712.6L1627.6,712.6ZM1627.6,712.6L1628.9,712.6L1626.3,679.5L1626.3,696.0ZM1629.9,513.8L1629.3,513.8L1626.3,537.5L1626.3,542.2ZM1629.3,513.8L1629.9,513.8L1634.2,488.1L1634.2,484.4ZM1636.1,712.6L1635.7,712.6L1634.2,732.5L1634.2,737.3ZM1635.7,712.6L1636.1,712.6L1642.2,680.4L1642.2,678.5ZM1642.2,451.2L1642.2,447.6L1634.2,484.4L1634.2,488.1ZM1650.2,733.4L1650.2,725.1L1649.6,712.6L1649.2,712.6ZM1649.2,712.6L1649.6,712.6L1642.2,678.5L1642.2,680.4ZM1650.2,545.0L1650.2,541.1L1648.0,513.8L1647.7,513.8ZM1647.7,513.8L1648.0,513.8L1642.2,447.6L1642.2,451.2ZM1658.2,733.8L1658.2,730.3L1650.2,725.1L1650.2,733.4ZM1653.6,513.8L1653.1,513.8L1650.2,541.1L1650.2,545.0ZM1653.1,513.8L1653.6,513.8L1658.2,491.0L1658.2,489.0ZM1662.5,712.6L1661.8,712.6L1658.2,730.3L1658.2,733.8ZM1661.8,712.6L1662.5,712.6L1666.2,697.2L1666.2,694.1ZM1666.2,455.2L1666.2,451.6L1658.2,489.0L1658.2,491.0ZM1674.1,687.1L1674.1,676.9L1666.2,694.1L1666.2,697.2ZM1674.1,530.4L1674.1,522.1L1673.7,513.8L1673.2,513.8ZM1673.2,513.8L1673.7,513.8L1666.2,451.6L1666.2,455.2ZM1682.1,705.2L1682.1,697.9L1674.1,676.9L1674.1,687.1ZM1678.7,513.8L1676.4,513.8L1674.1,522.1L1674.1,530.4ZM1676.4,513.8L1678.7,513.8L1682.1,499.7L1682.1,490.2ZM1690.1,693.3L1690.1,690.3L1682.1,697.9L1682.1,705.2ZM1690.1,473.2L1690.1,470.6L1682.1,490.2L1682.1,499.7ZM1698.1,737.2L1698.1,730.9L1695.9,712.6L1695.1,712.6ZM1695.1,712.6L1695.9,712.6L1690.1,690.3L1690.1,693.3ZM1698.1,507.7L1698.1,504.6L1690.1,470.6L1690.1,473.2ZM1706.0,730.1L1706.0,725.1L1698.1,730.9L1698.1,737.2ZM1706.0,466.6L1706.0,461.9L1698.1,504.6L1698.1,507.7ZM1708.1,712.6L1707.5,712.6L1706.0,725.1L1706.0,730.1ZM1707.5,712.6L1708.1,712.6L1714.0,685.0L1714.0,682.2ZM1714.0,465.6L1714.0,462.5L1706.0,461.9L1706.0,466.6ZM1722.0,699.9L1722.0,690.2L1714.0,682.2L1714.0,685.0ZM1722.0,556.4L1722.0,551.7L1719.4,513.8L1719.0,513.8ZM1719.0,513.8L1719.4,513.8L1714.0,462.5L1714.0,465.6ZM1724.4,646.3L1723.9,646.3L1722.0,690.2L1722.0,699.9ZM1723.9,646.3L1724.4,646.3L1724.5,580.1L1724.1,580.1ZM1724.1,580.1L1724.5,580.1L1722.0,551.7L1722.0,556.4ZM1737.9,690.5L1737.9,687.4L1734.1,646.3L1733.8,646.3ZM1733.8,646.3L1734.1,646.3L1733.6,580.1L1733.3,580.1ZM1733.3,580.1L1733.6,580.1L1734.8,513.8L1734.6,513.8ZM1734.6,513.8L1734.8,513.8L1737.9,481.8L1737.9,479.5ZM1745.9,699.4L1745.9,690.5L1737.9,687.4L1737.9,690.5ZM1745.9,559.7L1745.9,554.6L1743.1,513.8L1742.7,513.8ZM1742.7,513.8L1743.1,513.8L1737.9,479.5L1737.9,481.8ZM1748.4,646.3L1748.0,646.3L1745.9,690.5L1745.9,699.4ZM1748.0,646.3L1748.4,646.3L1748.1,580.1L1747.7,580.1ZM1747.7,580.1L1748.1,580.1L1745.9,554.6L1745.9,559.7ZM1761.9,688.2L1761.9,684.7L1758.4,646.3L1758.0,646.3ZM1758.0,646.3L1758.4,646.3L1757.7,580.1L1757.4,580.1ZM1757.4,580.1L1757.7,580.1L1758.7,513.8L1758.5,513.8ZM1758.5,513.8L1758.7,513.8L1761.9,467.6L1761.9,464.2ZM1769.8,724.4L1769.8,719.7L1768.6,712.6L1767.7,712.6ZM1767.7,712.6L1768.6,712.6L1761.9,684.7L1761.9,688.2ZM1769.8,554.2L1769.8,548.4L1767.5,513.8L1767.2,513.8ZM1767.2,513.8L1767.5,513.8L1761.9,464.2L1761.9,467.6ZM1770.6,712.6L1770.3,712.6L1769.8,719.7L1769.8,724.4ZM1770.3,712.6L1770.6,712.6L1772.6,646.3L1772.2,646.3ZM1772.2,646.3L1772.6,646.3L1772.2,580.1L1771.8,580.1ZM1771.8,580.1L1772.2,580.1L1769.8,548.4L1769.8,554.2ZM1785.8,709.5L1785.8,703.1L1782.7,646.3L1782.3,646.3ZM1782.3,646.3L1782.7,646.3L1782.4,580.1L1782.1,580.1ZM1782.1,580.1L1782.4,580.1L1783.7,513.8L1783.5,513.8ZM1783.5,513.8L1783.7,513.8L1785.8,482.9L1785.8,478.7ZM1793.8,717.6L1793.8,715.8L1789.5,712.6L1787.0,712.6ZM1787.0,712.6L1789.5,712.6L1785.8,703.1L1785.8,709.5ZM1793.8,565.5L1793.8,561.3L1789.2,513.8L1788.8,513.8ZM1788.8,513.8L1789.2,513.8L1785.8,478.7L1785.8,482.9ZM1797.6,712.6L1796.2,712.6L1793.8,715.8L1793.8,717.6ZM1796.2,712.6L1797.6,712.6L1801.8,689.2L1801.8,681.4ZM1801.8,565.5L1801.8,561.3L1793.8,561.3L1793.8,565.5ZM1805.3,646.3L1804.6,646.3L1801.8,681.4L1801.8,689.2ZM1804.6,646.3L1805.3,646.3L1804.9,580.1L1804.2,580.1ZM1804.2,580.1L1804.9,580.1L1801.8,561.3L1801.8,565.5Z"/>
<path fill="#5566FF" d="M1466.7,792.7L1466.7,789.2L1466.4,778.9L1466.2,778.9ZM1466.2,778.9L1466.4,778.9L1465.5,712.6L1465.4,712.6ZM1465.4,712.6L1465.5,712.6L1465.3,646.3L1465.2,646.3ZM1465.2,646.3L1465.3,646.3L1465.6,580.1L1465.5,580.1ZM1465.5,580.1L1465.6,580.1L1466.7,553.0L1466.7,550.0ZM1470.9,778.9L1469.9,778.9L1466.7,789.2L1466.7,792.7ZM1469.9,778.9L1470.9,778.9L1474.7,762.0L1474.7,757.3ZM1471.9,513.8L1471.5,513.8L1466.7,550.0L1466.7,553.0ZM1471.5,513.8L1471.9,513.8L1474.7,487.0L1474.7,483.2ZM1482.7,753.1L1482.7,749.0L1474.7,757.3L1474.7,762.0ZM1482.7,484.6L1482.7,480.2L1474.7,483.2L1474.7,487.0ZM1490.7,722.8L1490.7,719.5L1482.7,749.0L1482.7,753.1ZM1490.7,469.5L1490.7,466.3L1482.7,480.2L1482.7,484.6ZM1498.6,755.3L1498.6,750.3L1490.7,719.5L1490.7,722.8ZM1498.6,453.4L1498.6,448.5L1490.7,466.3L1490.7,469.5ZM1503.0,712.6L1502.5,712.6L1498.6,750.3L1498.6,755.3ZM1502.5,712.6L1503.0,712.6L1506.6,670.4L1506.6,664.4ZM1506.6,566.4L1506.6,561.8L1503.1,513.8L1502.8,513.8ZM1502.8,513.8L1503.1,513.8L1498.6,448.5L1498.6,453.4ZM1508.2,646.3L1507.8,646.3L1506.6,664.4L1506.6,670.4ZM1507.8,646.3L1508.2,646.3L1508.2,580.1L1507.8,580.1ZM1507.8,580.1L1508.2,580.1L1506.6,561.8L1506.6,566.4ZM1522.6,768.6L1522.6,764.1L1519.4,712.6L1519.1,712.6ZM1519.1,712.6L1519.4,712.6L1519.3,646.3L1519.0,646.3ZM1519.0,646.3L1519.3,646.3L1520.0,580.1L1519.7,580.1ZM1519.7,580.1L1520.0,580.1L1522.6,540.6L1522.6,535.7ZM1528.7,712.6L1528.2,712.6L1522.6,764.1L1522.6,768.6ZM1528.2,712.6L1528.7,712.6L1529.0,646.3L1528.5,646.3ZM1528.5,646.3L1529.0,646.3L1529.8,580.1L1529.0,580.1ZM1529.0,580.1L1529.8,580.1L1522.6,535.7L1522.6,540.6ZM1538.5,695.1L1538.5,692.6L1532.0,646.3L1531.7,646.3ZM1531.7,646.3L1532.0,646.3L1531.3,580.1L1530.9,580.1ZM1530.9,580.1L1531.3,580.1L1535.9,513.8L1535.8,513.8ZM1535.8,513.8L1535.9,513.8L1538.5,463.3L1538.5,460.1ZM1546.5,759.8L1546.5,756.2L1541.7,712.6L1541.3,712.6ZM1541.3,712.6L1541.7,712.6L1538.5,692.6L1538.5,695.1ZM1546.5,485.3L1546.5,477.6L1538.5,460.1L1538.5,463.3ZM1552.6,712.6L1552.1,712.6L1546.5,756.2L1546.5,759.8ZM1552.1,712.6L1552.6,712.6L1554.5,690.5L1554.5,685.0ZM1554.5,555.0L1554.5,550.0L1549.7,513.8L1549.0,513.8ZM1549.0,513.8L1549.7,513.8L1546.5,477.6L1546.5,485.3ZM1562.5,708.6L1562.5,705.5L1554.5,685.0L1554.5,690.5ZM1557.6,513.8L1557.2,513.8L1554.5,550.0L1554.5,555.0ZM1557.2,513.8L1557.6,513.8L1562.5,468.2L1562.5,464.7ZM1570.4,753.6L1570.4,750.3L1563.8,712.6L1563.2,712.6ZM1563.2,712.6L1563.8,712.6L1562.5,705.5L1562.5,708.6ZM1570.4,470.5L1570.4,465.2L1562.5,464.7L1562.5,468.2ZM1577.3,712.6L1576.8,712.6L1570.4,750.3L1570.4,753.6ZM1576.8,712.6L1577.3,712.6L1578.4,697.9L1578.4,690.5ZM1578.4,551.5L1578.4,546.7L1575.0,513.8L1574.5,513.8ZM1574.5,513.8L1575.0,513.8L1570.4,465.2L1570.4,470.5ZM1586.4,709.4L1586.4,706.1L1578.4,690.5L1578.4,697.9ZM1581.4,513.8L1581.0,513.8L1578.4,546.7L1578.4,551.5ZM1581.0,513.8L1581.4,513.8L1586.4,465.9L1586.4,462.3ZM1594.4,751.2L1594.4,748.2L1587.6,712.6L1587.0,712.6ZM1587.0,712.6L1587.6,712.6L1586.4,706.1L1586.4,709.4ZM1594.4,473.0L1594.4,467.1L1586.4,462.3L1586.4,465.9ZM1602.3,717.7L1602.3,712.6L1594.4,748.2L1594.4,751.2ZM1602.3,550.0L1602.3,543.9L1599.2,513.8L1598.6,513.8ZM1598.6,513.8L1599.2,513.8L1594.4,467.1L1594.4,473.0ZM1610.3,737.7L1610.3,732.6L1602.3,712.6L1602.3,717.7ZM1605.3,513.8L1604.8,513.8L1602.3,543.9L1602.3,550.0ZM1604.8,513.8L1605.3,513.8L1610.3,489.3L1610.3,486.8ZM1618.3,717.8L1618.3,713.5L1610.3,732.6L1610.3,737.7ZM1618.3,453.6L1618.3,449.3L1610.3,486.8L1610.3,489.3ZM1621.3,712.6L1618.8,712.6L1618.3,713.5L1618.3,717.8ZM1618.8,712.6L1621.3,712.6L1626.3,679.5L1626.3,662.9ZM1626.3,547.0L1626.3,542.2L1624.0,513.8L1623.6,513.8ZM1623.6,513.8L1624.0,513.8L1618.3,449.3L1618.3,453.6ZM1634.2,732.5L1634.2,727.6L1630.2,712.6L1628.9,712.6ZM1628.9,712.6L1630.2,712.6L1626.3,662.9L1626.3,679.5ZM1630.6,513.8L1629.9,513.8L1626.3,542.2L1626.3,547.0ZM1629.9,513.8L1630.6,513.8L1634.2,491.7L1634.2,488.1ZM1635.7,712.6L1635.4,712.6L1634.2,727.6L1634.2,732.5ZM1635.4,712.6L1635.7,712.6L1642.2,678.5L1642.2,676.6ZM1642.2,454.8L1642.2,451.2L1634.2,488.1L1634.2,491.7ZM1650.2,725.1L1650.2,716.8L1650.0,712.6L1649.6,712.6ZM1649.6,712.6L1650.0,712.6L1642.2,676.6L1642.2,678.5ZM1650.2,548.9L1650.2,545.0L1647.7,513.8L1647.3,513.8ZM1647.3,513.8L1647.7,513.8L1642.2,451.2L1642.2,454.8ZM1658.2,730.3L1658.2,726.8L1650.2,716.8L1650.2,725.1ZM1654.0,513.8L1653.6,513.8L1650.2,545.0L1650.2,548.9ZM1653.6,513.8L1654.0,513.8L1658.2,493.1L1658.2,491.0ZM1661.8,712.6L1661.1,712.6L1658.2,726.8L1658.2,730.3ZM1661.1,712.6L1661.8,712.6L1666.2,694.1L1666.2,691.0ZM1666.2,458.9L1666.2,455.2L1658.2,491.0L1658.2,493.1ZM1674.1,676.9L1674.1,666.7L1666.2,691.0L1666.2,694.1ZM1674.1,538.7L1674.1,530.4L1673.2,513.8L1672.8,513.8ZM1672.8,513.8L1673.2,513.8L1666.2,455.2L1666.2,458.9ZM1682.1,697.9L1682.1,690.5L1674.1,666.7L1674.1,676.9ZM1681.0,513.8L1678.7,513.8L1674.1,530.4L1674.1,538.7ZM1678.7,513.8L1681.0,513.8L1682.1,509.1L1682.1,499.7ZM1690.1,690.3L1690.1,687.4L1682.1,690.5L1682.1,697.9ZM1690.1,475.8L1690.1,473.2L1682.1,499.7L1682.1,509.1ZM1698.1,730.9L1698.1,724.6L1696.6,712.6L1695.9,712.6ZM1695.9,712.6L1696.6,712.6L1690.1,687.4L1690.1,690.3ZM1698.1,510.8L1698.1,507.7L1690.1,473.2L1690.1,475.8ZM1706.0,725.1L1706.0,720.1L1698.1,724.6L1698.1,730.9ZM1706.0,471.4L1706.0,466.6L1698.1,507.7L1698.1,510.8ZM1707.5,712.6L1706.9,712.6L1706.0,720.1L1706.0,725.1ZM1706.9,712.6L1707.5,712.6L1714.0,682.2L1714.0,679.5ZM1714.0,468.8L1714.0,465.6L1706.0,466.6L1706.0,471.4ZM1722.0,690.2L1722.0,680.5L1714.0,679.5L1714.0,682.2ZM1722.0,561.2L1722.0,556.4L1719.0,513.8L1718.7,513.8ZM1718.7,513.8L1719.0,513.8L1714.0,465.6L1714.0,468.8ZM1723.9,646.3L1723.5,646.3L1722.0,680.5L1722.0,690.2ZM1723.5,646.3L1723.9,646.3L1724.1,580.1L1723.7,580.1ZM1723.7,580.1L1724.1,580.1L1722.0,556.4L1722.0,561.2ZM1737.9,687.4L1737.9,684.2L1734.4,646.3L1734.1,646.3ZM1734.1,646.3L1734.4,646.3L1733.8,580.1L1733.6,580.1ZM1733.6,580.1L1733.8,580.1L1735.1,513.8L1734.8,513.8ZM1734.8,513.8L1735.1,513.8L1737.9,484.2L1737.9,481.8ZM1745.9,690.5L1745.9,681.7L1737.9,684.2L1737.9,687.4ZM1745.9,564.8L1745.9,559.7L1742.7,513.8L1742.4,513.8ZM1742.4,513.8L1742.7,513.8L1737.9,481.8L1737.9,484.2ZM1748.0,646.3L1747.6,646.3L1745.9,681.7L1745.9,690.5ZM1747.6,646.3L1748.0,646.3L1747.7,580.1L1747.2,580.1ZM1747.2,580.1L1747.7,580.1L1745.9,559.7L1745.9,564.8ZM1761.9,684.7L1761.9,681.2L1758.7,646.3L1758.4,646.3ZM1758.4,646.3L1758.7,646.3L1758.0,580.1L1757.7,580.1ZM1757.7,580.1L1758.0,580.1L1758.9,513.8L1758.7,513.8ZM1758.7,513.8L1758.9,513.8L1761.9,470.9L1761.9,467.6ZM1769.8,719.7L1769.8,715.0L1769.4,712.6L1768.6,712.6ZM1768.6,712.6L1769.4,712.6L1761.9,681.2L1761.9,684.7ZM1769.8,559.9L1769.8,554.2L1767.2,513.8L1766.8,513.8ZM1766.8,513.8L1767.2,513.8L1761.9,467.6L1761.9,470.9ZM1770.3,712.6L1770.0,712.6L1769.8,715.0L1769.8,719.7ZM1770.0,712.6L1770.3,712.6L1772.2,646.3L1771.8,646.3ZM1771.8,646.3L1772.2,646.3L1771.8,580.1L1771.4,580.1ZM1771.4,580.1L1771.8,580.1L1769.8,554.2L1769.8,559.9ZM1785.8,703.1L1785.8,696.8L1783.0,646.3L1782.7,646.3ZM1782.7,646.3L1783.0,646.3L1782.7,580.1L1782.4,580.1ZM1782.4,580.1L1782.7,580.1L1784.0,513.8L1783.7,513.8ZM1783.7,513.8L1784.0,513.8L1785.8,487.1L1785.8,482.9ZM1793.8,715.8L1793.8,713.9L1792.0,712.6L1789.5,712.6ZM1789.5,712.6L1792.0,712.6L1785.8,696.8L1785.8,703.1ZM1793.8,569.7L1793.8,565.5L1788.8,513.8L1788.4,513.8ZM1788.4,513.8L1788.8,513.8L1785.8,482.9L1785.8,487.1ZM1796.2,712.6L1794.8,712.6L1793.8,713.9L1793.8,715.8ZM1794.8,712.6L1796.2,712.6L1801.8,681.4L1801.8,673.6ZM1801.8,569.7L1801.8,565.5L1793.8,565.5L1793.8,569.7ZM1804.6,646.3L1804.0,646.3L1801.8,673.6L1801.8,681.4ZM1804.0,646.3L1804.6,646.3L1804.2,580.1L1803.5,580.1ZM1803.5,580.1L1804.2,580.1L1801.8,565.5L1801.8,569.7Z"/>
<path fill="#3F39FF" d="M1466.7,789.2L1466.7,785.8L1466.5,778.9L1466.4,778.9ZM1466.4,778.9L1466.5,778.9L1465.6,712.6L1465.5,712.6ZM1465.5,712.6L1465.6,712.6L1465.5,646.3L1465.3,646.3ZM1465.3,646.3L1465.5,646.3L1465.8,580.1L1465.6,580.1ZM1465.6,580.1L1465.8,580.1L1466.7,556.0L1466.7,553.0ZM1469.9,778.9L1468.8,778.9L1466.7,785.8L1466.7,789.2ZM1468.8,778.9L1469.9,778.9L1474.7,757.3L1474.7,752.6ZM1472.3,513.8L1471.9,513.8L1466.7,553.0L1466.7,556.0ZM1471.9,513.8L1472.3,513.8L1474.7,490.8L1474.7,487.0ZM1482.7,749.0L1482.7,744.9L1474.7,752.6L1474.7,757.3ZM1482.7,489.0L1482.7,484.6L1474.7,487.0L1474.7,490.8ZM1490.7,719.5L1490.7,716.2L1482.7,744.9L1482.7,749.0ZM1490.7,472.7L1490.7,469.5L1482.7,484.6L1482.7,489.0ZM1498.6,750.3L1498.6,745.2L1490.7,716.2L1490.7,719.5ZM1498.6,458.2L1498.6,453.4L1490.7,469.5L1490.7,472.7ZM1502.5,712.6L1502.0,712.6L1498.6,745.2L1498.6,750.3ZM1502.0,712.6L1502.5,712.6L1506.6,664.4L1506.6,658.4ZM1506.6,570.9L1506.6,566.4L1502.8,513.8L1502.5,513.8ZM1502.5,513.8L1502.8,513.8L1498.6,453.4L1498.6,458.2ZM1507.8,646.3L1507.4,646.3L1506.6,658.4L1506.6,664.4ZM1507.4,646.3L1507.8,646.3L1507.8,580.1L1507.4,580.1ZM1507.4,580.1L1507.8,580.1L1506.6,566.4L1506.6,570.9ZM1522.6,764.1L1522.6,759.6L1519.6,712.6L1519.4,712.6ZM1519.4,712.6L1519.6,712.6L1519.5,646.3L1519.3,646.3ZM1519.3,646.3L1519.5,646.3L1520.3,580.1L1520.0,580.1ZM1520.0,580.1L1520.3,580.1L1522.6,545.5L1522.6,540.6ZM1528.2,712.6L1527.7,712.6L1522.6,759.6L1522.6,764.1ZM1527.7,712.6L1528.2,712.6L1528.5,646.3L1528.0,646.3ZM1528.0,646.3L1528.5,646.3L1529.0,580.1L1528.2,580.1ZM1528.2,580.1L1529.0,580.1L1522.6,540.6L1522.6,545.5ZM1538.5,692.6L1538.5,690.1L1532.4,646.3L1532.0,646.3ZM1532.0,646.3L1532.4,646.3L1531.6,580.1L1531.3,580.1ZM1531.3,580.1L1531.6,580.1L1536.1,513.8L1535.9,513.8ZM1535.9,513.8L1536.1,513.8L1538.5,466.5L1538.5,463.3ZM1546.5,756.2L1546.5,752.5L1542.2,712.6L1541.7,712.6ZM1541.7,712.6L1542.2,712.6L1538.5,690.1L1538.5,692.6ZM1546.5,493.0L1546.5,485.3L1538.5,463.3L1538.5,466.5ZM1552.1,712.6L1551.6,712.6L1546.5,752.5L1546.5,756.2ZM1551.6,712.6L1552.1,712.6L1554.5,685.0L1554.5,679.5ZM1554.5,560.0L1554.5,555.0L1549.0,513.8L1548.3,513.8ZM1548.3,513.8L1549.0,513.8L1546.5,485.3L1546.5,493.0ZM1562.5,705.5L1562.5,702.3L1554.5,679.5L1554.5,685.0ZM1558.0,513.8L1557.6,513.8L1554.5,555.0L1554.5,560.0ZM1557.6,513.8L1558.0,513.8L1562.5,471.8L1562.5,468.2ZM1570.4,750.3L1570.4,747.0L1564.4,712.6L1563.8,712.6ZM1563.8,712.6L1564.4,712.6L1562.5,702.3L1562.5,705.5ZM1570.4,475.9L1570.4,470.5L1562.5,468.2L1562.5,471.8ZM1576.8,712.6L1576.2,712.6L1570.4,747.0L1570.4,750.3ZM1576.2,712.6L1576.8,712.6L1578.4,690.5L1578.4,683.2ZM1578.4,556.3L1578.4,551.5L1574.5,513.8L1574.0,513.8ZM1574.0,513.8L1574.5,513.8L1570.4,470.5L1570.4,475.9ZM1586.4,706.1L1586.4,702.9L1578.4,683.2L1578.4,690.5ZM1581.8,513.8L1581.4,513.8L1578.4,551.5L1578.4,556.3ZM1581.4,513.8L1581.8,513.8L1586.4,469.5L1586.4,465.9ZM1594.4,748.2L1594.4,745.1L1588.2,712.6L1587.6,712.6ZM1587.6,712.6L1588.2,712.6L1586.4,702.9L1586.4,706.1ZM1594.4,478.9L1594.4,473.0L1586.4,465.9L1586.4,469.5ZM1602.3,712.6L1601.6,712.6L1594.4,745.1L1594.4,748.2ZM1601.6,712.6L1602.3,712.6L1602.3,699.4ZM1602.3,556.0L1602.3,550.0L1598.6,513.8L1598.0,513.8ZM1598.0,513.8L1598.6,513.8L1594.4,473.0L1594.4,478.9ZM1610.3,732.6L1610.3,727.5L1604.4,712.6L1602.3,712.6ZM1602.3,712.6L1604.4,712.6L1602.3,699.4ZM1605.8,513.8L1605.3,513.8L1602.3,550.0L1602.3,556.0ZM1605.3,513.8L1605.8,513.8L1610.3,491.7L1610.3,489.3ZM1618.3,713.5L1618.3,712.6L1616.6,712.6L1610.3,727.5L1610.3,732.6ZM1616.6,712.6L1618.3,712.6L1618.3,709.4ZM1618.3,457.9L1618.3,453.6L1610.3,489.3L1610.3,491.7ZM1618.8,712.6L1618.3,712.6L1618.3,713.5ZM1618.3,712.6L1618.8,712.6L1626.3,662.9L1626.3,646.3L1618.3,709.4ZM1626.3,551.7L1626.3,547.0L1623.6,513.8L1623.2,513.8ZM1623.2,513.8L1623.6,513.8L1618.3,453.6L1618.3,457.9ZM1634.2,727.6L1634.2,722.8L1631.5,712.6L1630.2,712.6ZM1630.2,712.6L1631.5,712.6L1626.3,646.3L1626.3,662.9ZM1631.2,513.8L1630.6,513.8L1626.3,547.0L1626.3,551.7ZM1630.6,513.8L1631.2,513.8L1634.2,495.4L1634.2,491.7ZM1635.4,712.6L1635.0,712.6L1634.2,722.8L1634.2,727.6ZM1635.0,712.6L1635.4,712.6L1642.2,676.6L1642.2,674.7ZM1642.2,458.5L1642.2,454.8L1634.2,491.7L1634.2,495.4ZM1650.2,716.8L1650.2,712.6L1650.0,712.6ZM1650.0,712.6L1650.2,712.6L1650.2,706.6L1642.2,674.7L1642.2,676.6ZM1650.2,552.8L1650.2,548.9L1647.3,513.8L1647.0,513.8ZM1647.0,513.8L1647.3,513.8L1642.2,454.8L1642.2,458.5ZM1658.2,726.8L1658.2,723.2L1651.3,712.6L1650.2,712.6L1650.2,716.8ZM1650.2,712.6L1651.3,712.6L1650.2,706.6ZM1654.4,513.8L1654.0,513.8L1650.2,548.9L1650.2,552.8ZM1654.0,513.8L1654.4,513.8L1658.2,495.2L1658.2,493.1ZM1661.1,712.6L1660.4,712.6L1658.2,723.2L1658.2,726.8ZM1660.4,712.6L1661.1,712.6L1666.2,691.0L1666.2,688.0ZM1666.2,462.5L1666.2,458.9L1658.2,493.1L1658.2,495.2ZM1674.1,666.7L1674.1,656.5L1666.2,688.0L1666.2,691.0ZM1674.1,547.0L1674.1,538.7L1672.8,513.8L1672.4,513.8ZM1672.4,513.8L1672.8,513.8L1666.2,458.9L1666.2,462.5ZM1682.1,690.5L1682.1,683.2L1674.1,656.5L1674.1,666.7ZM1682.1,530.4L1682.1,513.8L1681.0,513.8L1674.1,538.7L1674.1,547.0ZM1681.0,513.8L1682.1,513.8L1682.1,509.1ZM1690.1,687.4L1690.1,684.5L1682.1,683.2L1682.1,690.5ZM1682.4,513.8L1682.1,513.8L1682.1,530.4ZM1682.1,513.8L1682.4,513.8L1690.1,478.5L1690.1,475.8L1682.1,509.1ZM1698.1,724.6L1698.1,718.3L1697.4,712.6L1696.6,712.6ZM1696.6,712.6L1697.4,712.6L1690.1,684.5L1690.1,687.4ZM1698.1,513.8L1698.1,510.8L1690.1,475.8L1690.1,478.5ZM1706.0,720.1L1706.0,715.1L1698.1,718.3L1698.1,724.6ZM1698.1,513.8L1706.0,476.2L1706.0,471.4L1698.1,510.8ZM1706.9,712.6L1706.3,712.6L1706.0,715.1L1706.0,720.1ZM1706.3,712.6L1706.9,712.6L1714.0,679.5L1714.0,676.7ZM1714.0,471.9L1714.0,468.8L1706.0,471.4L1706.0,476.2ZM1722.0,680.5L1722.0,670.7L1714.0,676.7L1714.0,679.5ZM1722.0,565.9L1722.0,561.2L1718.7,513.8L1718.4,513.8ZM1718.4,513.8L1718.7,513.8L1714.0,468.8L1714.0,471.9ZM1723.5,646.3L1723.1,646.3L1722.0,670.7L1722.0,680.5ZM1723.1,646.3L1723.5,646.3L1723.7,580.1L1723.2,580.1ZM1723.2,580.1L1723.7,580.1L1722.0,561.2L1722.0,565.9ZM1737.9,684.2L1737.9,681.1L1734.7,646.3L1734.4,646.3ZM1734.4,646.3L1734.7,646.3L1734.1,580.1L1733.8,580.1ZM1733.8,580.1L1734.1,580.1L1735.3,513.8L1735.1,513.8ZM1735.1,513.8L1735.3,513.8L1737.9,486.6L1737.9,484.2ZM1745.9,681.7L1745.9,672.9L1737.9,681.1L1737.9,684.2ZM1745.9,569.9L1745.9,564.8L1742.4,513.8L1742.0,513.8ZM1742.0,513.8L1742.4,513.8L1737.9,484.2L1737.9,486.6ZM1747.6,646.3L1747.2,646.3L1745.9,672.9L1745.9,681.7ZM1747.2,646.3L1747.6,646.3L1747.2,580.1L1746.8,580.1ZM1746.8,580.1L1747.2,580.1L1745.9,564.8L1745.9,569.9ZM1761.9,681.2L1761.9,677.7L1759.0,646.3L1758.7,646.3ZM1758.7,646.3L1759.0,646.3L1758.2,580.1L1758.0,580.1ZM1758.0,580.1L1758.2,580.1L1759.2,513.8L1758.9,513.8ZM1758.9,513.8L1759.2,513.8L1761.9,474.3L1761.9,470.9ZM1769.8,715.0L1769.8,712.6L1769.4,712.6ZM1769.4,712.6L1769.8,712.6L1769.8,705.2L1761.9,677.7L1761.9,681.2ZM1769.8,565.7L1769.8,559.9L1766.8,513.8L1766.4,513.8ZM1766.4,513.8L1766.8,513.8L1761.9,470.9L1761.9,474.3ZM1770.0,712.6L1769.8,712.6L1769.8,715.0ZM1769.8,712.6L1770.0,712.6L1771.8,646.3L1771.4,646.3L1769.8,705.2ZM1771.4,646.3L1771.8,646.3L1771.4,580.1L1770.9,580.1ZM1770.9,580.1L1771.4,580.1L1769.8,559.9L1769.8,565.7ZM1785.8,696.8L1785.8,690.5L1783.4,646.3L1783.0,646.3ZM1783.0,646.3L1783.4,646.3L1783.0,580.1L1782.7,580.1ZM1782.7,580.1L1783.0,580.1L1784.3,513.8L1784.0,513.8ZM1784.0,513.8L1784.3,513.8L1785.8,491.4L1785.8,487.1ZM1793.8,713.9L1793.8,712.6L1792.0,712.6ZM1792.0,712.6L1793.8,712.6L1793.8,709.2L1785.8,690.5L1785.8,696.8ZM1793.8,573.8L1793.8,569.7L1788.4,513.8L1787.9,513.8ZM1787.9,513.8L1788.4,513.8L1785.8,487.1L1785.8,491.4ZM1794.8,712.6L1793.8,712.6L1793.8,713.9ZM1793.8,712.6L1794.8,712.6L1801.8,673.6L1801.8,665.8L1793.8,709.2ZM1801.8,573.8L1801.8,569.7L1793.8,569.7L1793.8,573.8ZM1804.0,646.3L1803.4,646.3L1801.8,665.8L1801.8,673.6ZM1803.4,646.3L1804.0,646.3L1803.5,580.1L1802.8,580.1ZM1802.8,580.1L1803.5,580.1L1801.8,569.7L1801.8,573.8Z"/>
<path fill="#421CFF" d="M1466.7,785.8L1466.7,782.3L1466.6,778.9L1466.5,778.9ZM1466.5,778.9L1466.6,778.9L1465.7,712.6L1465.6,712.6ZM1465.6,712.6L1465.7,712.6L1465.6,646.3L1465.5,646.3ZM1465.5,646.3L1465.6,646.3L1465.9,580.1L1465.8,580.1ZM1465.8,580.1L1465.9,580.1L1466.7,559.0L1466.7,556.0ZM1468.8,778.9L1467.8,778.9L1466.7,782.3L1466.7,785.8ZM1467.8,778.9L1468.8,778.9L1474.7,752.6L1474.7,747.9ZM1472.7,513.8L1472.3,513.8L1466.7,556.0L1466.7,559.0ZM1472.3,513.8L1472.7,513.8L1474.7,494.7L1474.7,490.8ZM1482.7,744.9L1482.7,740.8L1474.7,747.9L1474.7,752.6ZM1482.7,493.4L1482.7,489.0L1474.7,490.8L1474.7,494.7ZM1490.7,716.2L1490.7,712.9L1482.7,740.8L1482.7,744.9ZM1490.7,475.8L1490.7,472.7L1482.7,489.0L1482.7,493.4ZM1498.6,745.2L1498.6,740.2L1490.7,712.9L1490.7,716.2ZM1498.6,463.0L1498.6,458.2L1490.7,472.7L1490.7,475.8ZM1502.0,712.6L1501.5,712.6L1498.6,740.2L1498.6,745.2ZM1501.5,712.6L1502.0,712.6L1506.6,658.4L1506.6,652.4ZM1506.6,575.5L1506.6,570.9L1502.5,513.8L1502.1,513.8ZM1502.1,513.8L1502.5,513.8L1498.6,458.2L1498.6,463.0ZM1507.4,646.3L1507.0,646.3L1506.6,652.4L1506.6,658.4ZM1507.0,646.3L1507.4,646.3L1507.4,580.1L1507.0,580.1ZM1507.0,580.1L1507.4,580.1L1506.6,570.9L1506.6,575.5ZM1522.6,759.6L1522.6,755.1L1519.9,712.6L1519.6,712.6ZM1519.6,712.6L1519.9,712.6L1519.8,646.3L1519.5,646.3ZM1519.5,646.3L1519.8,646.3L1520.7,580.1L1520.3,580.1ZM1520.3,580.1L1520.7,580.1L1522.6,550.5L1522.6,545.5ZM1527.7,712.6L1527.2,712.6L1522.6,755.1L1522.6,759.6ZM1527.2,712.6L1527.7,712.6L1528.0,646.3L1527.5,646.3ZM1527.5,646.3L1528.0,646.3L1528.2,580.1L1527.4,580.1ZM1527.4,580.1L1528.2,580.1L1522.6,545.5L1522.6,550.5ZM1538.5,690.1L1538.5,687.6L1532.7,646.3L1532.4,646.3ZM1532.4,646.3L1532.7,646.3L1532.0,580.1L1531.6,580.1ZM1531.6,580.1L1532.0,580.1L1536.3,513.8L1536.1,513.8ZM1536.1,513.8L1536.3,513.8L1538.5,469.8L1538.5,466.5ZM1546.5,752.5L1546.5,748.8L1542.6,712.6L1542.2,712.6ZM1542.2,712.6L1542.6,712.6L1538.5,687.6L1538.5,690.1ZM1546.5,500.7L1546.5,493.0L1538.5,466.5L1538.5,469.8ZM1551.6,712.6L1551.2,712.6L1546.5,748.8L1546.5,752.5ZM1551.2,712.6L1551.6,712.6L1554.5,679.5L1554.5,674.0ZM1554.5,565.0L1554.5,560.0L1548.3,513.8L1547.6,513.8ZM1547.6,513.8L1548.3,513.8L1546.5,493.0L1546.5,500.7ZM1562.5,702.3L1562.5,699.2L1554.5,674.0L1554.5,679.5ZM1558.3,513.8L1558.0,513.8L1554.5,560.0L1554.5,565.0ZM1558.0,513.8L1558.3,513.8L1562.5,475.3L1562.5,471.8ZM1570.4,747.0L1570.4,743.8L1564.9,712.6L1564.4,712.6ZM1564.4,712.6L1564.9,712.6L1562.5,699.2L1562.5,702.3ZM1570.4,481.2L1570.4,475.9L1562.5,471.8L1562.5,475.3ZM1576.2,712.6L1575.7,712.6L1570.4,743.8L1570.4,747.0ZM1575.7,712.6L1576.2,712.6L1578.4,683.2L1578.4,675.8ZM1578.4,561.0L1578.4,556.3L1574.0,513.8L1573.5,513.8ZM1573.5,513.8L1574.0,513.8L1570.4,475.9L1570.4,481.2ZM1586.4,702.9L1586.4,699.7L1578.4,675.8L1578.4,683.2ZM1582.1,513.8L1581.8,513.8L1578.4,556.3L1578.4,561.0ZM1581.8,513.8L1582.1,513.8L1586.4,473.1L1586.4,469.5ZM1594.4,745.1L1594.4,742.0L1588.7,712.6L1588.2,712.6ZM1588.2,712.6L1588.7,712.6L1586.4,699.7L1586.4,702.9ZM1594.4,484.8L1594.4,478.9L1586.4,469.5L1586.4,473.1ZM1601.6,712.6L1601.0,712.6L1594.4,742.0L1594.4,745.1ZM1601.0,712.6L1601.6,712.6L1602.3,699.4L1602.3,686.1ZM1602.3,562.0L1602.3,556.0L1598.0,513.8L1597.4,513.8ZM1597.4,513.8L1598.0,513.8L1594.4,478.9L1594.4,484.8ZM1610.3,727.5L1610.3,722.3L1606.4,712.6L1604.4,712.6ZM1604.4,712.6L1606.4,712.6L1602.3,686.1L1602.3,699.4ZM1606.3,513.8L1605.8,513.8L1602.3,556.0L1602.3,562.0ZM1605.8,513.8L1606.3,513.8L1610.3,494.2L1610.3,491.7ZM1616.6,712.6L1614.4,712.6L1610.3,722.3L1610.3,727.5ZM1614.4,712.6L1616.6,712.6L1618.3,709.4L1618.3,705.3ZM1618.3,462.2L1618.3,457.9L1610.3,491.7L1610.3,494.2ZM1626.3,646.3L1625.8,646.3L1618.3,705.3L1618.3,709.4ZM1625.8,646.3L1626.3,646.3L1626.3,635.3ZM1626.3,556.4L1626.3,551.7L1623.2,513.8L1622.8,513.8ZM1622.8,513.8L1623.2,513.8L1618.3,457.9L1618.3,462.2ZM1634.2,722.8L1634.2,717.9L1632.8,712.6L1631.5,712.6ZM1631.5,712.6L1632.8,712.6L1627.2,646.3L1626.3,646.3ZM1626.3,646.3L1627.2,646.3L1626.3,635.3ZM1631.8,513.8L1631.2,513.8L1626.3,551.7L1626.3,556.4ZM1631.2,513.8L1631.8,513.8L1634.2,499.1L1634.2,495.4ZM1635.0,712.6L1634.6,712.6L1634.2,717.9L1634.2,722.8ZM1634.6,712.6L1635.0,712.6L1642.2,674.7L1642.2,672.9ZM1642.2,462.1L1642.2,458.5L1634.2,495.4L1634.2,499.1ZM1650.2,706.6L1650.2,694.5L1642.2,672.9L1642.2,674.7ZM1650.2,556.7L1650.2,552.8L1647.0,513.8L1646.7,513.8ZM1646.7,513.8L1647.0,513.8L1642.2,458.5L1642.2,462.1ZM1658.2,723.2L1658.2,719.7L1653.6,712.6L1651.3,712.6ZM1651.3,712.6L1653.6,712.6L1650.2,694.5L1650.2,706.6ZM1654.8,513.8L1654.4,513.8L1650.2,552.8L1650.2,556.7ZM1654.4,513.8L1654.8,513.8L1658.2,497.3L1658.2,495.2ZM1660.4,712.6L1659.6,712.6L1658.2,719.7L1658.2,723.2ZM1659.6,712.6L1660.4,712.6L1666.2,688.0L1666.2,684.9ZM1666.2,466.1L1666.2,462.5L1658.2,495.2L1658.2,497.3ZM1674.1,656.5L1674.1,646.3L1666.2,684.9L1666.2,688.0ZM1674.1,555.2L1674.1,547.0L1672.4,513.8L1671.9,513.8ZM1671.9,513.8L1672.4,513.8L1666.2,462.5L1666.2,466.1ZM1682.1,683.2L1682.1,675.8L1674.1,646.3L1674.1,656.5ZM1682.1,563.5L1682.1,530.4L1674.1,547.0L1674.1,555.2ZM1690.1,684.5L1690.1,681.5L1682.1,675.8L1682.1,683.2ZM1683.0,513.8L1682.4,513.8L1682.1,530.4L1682.1,563.5ZM1682.4,513.8L1683.0,513.8L1690.1,481.1L1690.1,478.5ZM1698.1,718.3L1698.1,712.6L1697.4,712.6ZM1697.4,712.6L1698.1,712.6L1698.1,711.5L1690.1,681.5L1690.1,684.5ZM1698.1,524.0L1698.1,513.8L1697.5,513.8ZM1697.5,513.8L1698.1,513.8L1690.1,478.5L1690.1,481.1ZM1706.0,715.1L1706.0,712.6L1698.1,712.6L1698.1,718.3ZM1698.1,712.6L1706.0,712.6L1706.0,707.9L1698.1,711.5ZM1699.1,513.8L1698.1,513.8L1698.1,524.0ZM1698.1,513.8L1699.1,513.8L1706.0,480.9L1706.0,476.2ZM1706.3,712.6L1706.0,712.6L1706.0,715.1ZM1706.0,712.6L1706.3,712.6L1714.0,676.7L1714.0,674.0L1706.0,707.9ZM1714.0,475.0L1714.0,471.9L1706.0,476.2L1706.0,480.9ZM1722.0,670.7L1722.0,661.0L1714.0,674.0L1714.0,676.7ZM1722.0,570.6L1722.0,565.9L1718.4,513.8L1718.1,513.8ZM1718.1,513.8L1718.4,513.8L1714.0,471.9L1714.0,475.0ZM1723.1,646.3L1722.6,646.3L1722.0,661.0L1722.0,670.7ZM1722.6,646.3L1723.1,646.3L1723.2,580.1L1722.8,580.1ZM1722.8,580.1L1723.2,580.1L1722.0,565.9L1722.0,570.6ZM1737.9,681.1L1737.9,677.9L1735.0,646.3L1734.7,646.3ZM1734.7,646.3L1735.0,646.3L1734.3,580.1L1734.1,580.1ZM1734.1,580.1L1734.3,580.1L1735.5,513.8L1735.3,513.8ZM1735.3,513.8L1735.5,513.8L1737.9,489.0L1737.9,486.6ZM1745.9,672.9L1745.9,664.0L1737.9,677.9L1737.9,681.1ZM1745.9,575.0L1745.9,569.9L1742.0,513.8L1741.7,513.8ZM1741.7,513.8L1742.0,513.8L1737.9,486.6L1737.9,489.0ZM1747.2,646.3L1746.8,646.3L1745.9,664.0L1745.9,672.9ZM1746.8,646.3L1747.2,646.3L1746.8,580.1L1746.4,580.1ZM1746.4,580.1L1746.8,580.1L1745.9,569.9L1745.9,575.0ZM1761.9,677.7L1761.9,674.2L1759.3,646.3L1759.0,646.3ZM1759.0,646.3L1759.3,646.3L1758.5,580.1L1758.2,580.1ZM1758.2,580.1L1758.5,580.1L1759.4,513.8L1759.2,513.8ZM1759.2,513.8L1759.4,513.8L1761.9,477.6L1761.9,474.3ZM1769.8,705.2L1769.8,690.5L1761.9,674.2L1761.9,677.7ZM1769.8,571.4L1769.8,565.7L1766.4,513.8L1766.0,513.8ZM1766.0,513.8L1766.4,513.8L1761.9,474.3L1761.9,477.6ZM1771.4,646.3L1771.0,646.3L1769.8,690.5L1769.8,705.2ZM1771.0,646.3L1771.4,646.3L1770.9,580.1L1770.5,580.1ZM1770.5,580.1L1770.9,580.1L1769.8,565.7L1769.8,571.4ZM1785.8,690.5L1785.8,684.2L1783.7,646.3L1783.4,646.3ZM1783.4,646.3L1783.7,646.3L1783.4,580.1L1783.0,580.1ZM1783.0,580.1L1783.4,580.1L1784.6,513.8L1784.3,513.8ZM1784.3,513.8L1784.6,513.8L1785.8,495.6L1785.8,491.4ZM1793.8,709.2L1793.8,697.8L1785.8,684.2L1785.8,690.5ZM1793.8,578.0L1793.8,573.8L1787.9,513.8L1787.5,513.8ZM1787.5,513.8L1787.9,513.8L1785.8,491.4L1785.8,495.6ZM1801.8,665.8L1801.8,658.0L1793.8,697.8L1793.8,709.2ZM1801.8,578.0L1801.8,573.8L1793.8,573.8L1793.8,578.0ZM1803.4,646.3L1802.7,646.3L1801.8,658.0L1801.8,665.8ZM1802.7,646.3L1803.4,646.3L1802.8,580.1L1802.1,580.1ZM1802.1,580.1L1802.8,580.1L1801.8,573.8L1801.8,578.0Z"/>
<path fill="#4C00FF" d="M1466.7,782.3L1466.7,778.9L1466.6,778.9ZM1466.6,778.9L1466.7,778.9L1465.8,712.6L1465.7,712.6ZM1465.7,712.6L1465.8,712.6L1465.7,646.3L1465.6,646.3ZM1465.6,646.3L1465.7,646.3L1466.0,580.1L1465.9,580.1ZM1465.9,580.1L1466.0,580.1L1466.7,562.0L1466.7,559.0ZM1467.8,778.9L1466.7,778.9L1466.7,782.3ZM1466.7,778.9L1467.8,778.9L1474.7,747.9L1474.7,743.2ZM1473.1,513.8L1472.7,513.8L1466.7,559.0L1466.7,562.0ZM1472.7,513.8L1473.1,513.8L1474.7,498.5L1474.7,494.7ZM1482.7,740.8L1482.7,736.7L1474.7,743.2L1474.7,747.9ZM1482.7,497.9L1482.7,493.4L1474.7,494.7L1474.7,498.5ZM1490.7,712.9L1490.7,712.6L1489.6,712.6L1482.7,736.7L1482.7,740.8ZM1489.6,712.6L1490.7,712.6L1490.7,709.2ZM1490.7,479.0L1490.7,475.8L1482.7,493.4L1482.7,497.9ZM1498.6,740.2L1498.6,735.2L1492.0,712.6L1490.7,712.6L1490.7,712.9ZM1490.7,712.6L1492.0,712.6L1490.7,709.2ZM1498.6,467.9L1498.6,463.0L1490.7,475.8L1490.7,479.0ZM1501.5,712.6L1501.0,712.6L1498.6,735.2L1498.6,740.2ZM1501.0,712.6L1501.5,712.6L1506.6,652.4L1506.6,646.3ZM1506.6,580.1L1506.6,575.5L1502.1,513.8L1501.8,513.8ZM1501.8,513.8L1502.1,513.8L1498.6,463.0L1498.6,467.9ZM1507.0,646.3L1506.6,646.3L1506.6,652.4ZM1506.6,646.3L1507.0,646.3L1507.0,580.1L1506.6,580.1ZM1506.6,580.1L1507.0,580.1L1506.6,575.5ZM1522.6,755.1L1522.6,750.7L1520.2,712.6L1519.9,712.6ZM1519.9,712.6L1520.2,712.6L1520.1,646.3L1519.8,646.3ZM1519.8,646.3L1520.1,646.3L1521.0,580.1L1520.7,580.1ZM1520.7,580.1L1521.0,580.1L1522.6,555.4L1522.6,550.5ZM1527.2,712.6L1526.7,712.6L1522.6,750.7L1522.6,755.1ZM1526.7,712.6L1527.2,712.6L1527.5,646.3L1527.0,646.3ZM1527.0,646.3L1527.5,646.3L1527.4,580.1L1526.6,580.1ZM1526.6,580.1L1527.4,580.1L1522.6,550.5L1522.6,555.4ZM1538.5,687.6L1538.5,685.1L1533.1,646.3L1532.7,646.3ZM1532.7,646.3L1533.1,646.3L1532.3,580.1L1532.0,580.1ZM1532.0,580.1L1532.3,580.1L1536.4,513.8L1536.3,513.8ZM1536.3,513.8L1536.4,513.8L1538.5,473.0L1538.5,469.8ZM1546.5,748.8L1546.5,745.1L1543.0,712.6L1542.6,712.6ZM1542.6,712.6L1543.0,712.6L1538.5,685.1L1538.5,687.6ZM1546.5,508.4L1546.5,500.7L1538.5,469.8L1538.5,473.0ZM1551.2,712.6L1550.7,712.6L1546.5,745.1L1546.5,748.8ZM1550.7,712.6L1551.2,712.6L1554.5,674.0L1554.5,668.4ZM1554.5,570.0L1554.5,565.0L1547.6,513.8L1547.0,513.8ZM1547.0,513.8L1547.6,513.8L1546.5,500.7L1546.5,508.4ZM1562.5,699.2L1562.5,696.1L1554.5,668.4L1554.5,674.0ZM1558.7,513.8L1558.3,513.8L1554.5,565.0L1554.5,570.0ZM1558.3,513.8L1558.7,513.8L1562.5,478.8L1562.5,475.3ZM1570.4,743.8L1570.4,740.5L1565.5,712.6L1564.9,712.6ZM1564.9,712.6L1565.5,712.6L1562.5,696.1L1562.5,699.2ZM1570.4,486.6L1570.4,481.2L1562.5,475.3L1562.5,478.8ZM1575.7,712.6L1575.1,712.6L1570.4,740.5L1570.4,743.8ZM1575.1,712.6L1575.7,712.6L1578.4,675.8L1578.4,668.4ZM1578.4,565.8L1578.4,561.0L1573.5,513.8L1573.0,513.8ZM1573.0,513.8L1573.5,513.8L1570.4,481.2L1570.4,486.6ZM1586.4,699.7L1586.4,696.4L1578.4,668.4L1578.4,675.8ZM1582.5,513.8L1582.1,513.8L1578.4,561.0L1578.4,565.8ZM1582.1,513.8L1582.5,513.8L1586.4,476.7L1586.4,473.1ZM1594.4,742.0L1594.4,738.9L1589.3,712.6L1588.7,712.6ZM1588.7,712.6L1589.3,712.6L1586.4,696.4L1586.4,699.7ZM1594.4,490.8L1594.4,484.8L1586.4,473.1L1586.4,476.7ZM1601.0,712.6L1600.3,712.6L1594.4,738.9L1594.4,742.0ZM1600.3,712.6L1601.0,712.6L1602.3,686.1L1602.3,672.9ZM1602.3,568.0L1602.3,562.0L1597.4,513.8L1596.8,513.8ZM1596.8,513.8L1597.4,513.8L1594.4,484.8L1594.4,490.8ZM1610.3,722.3L1610.3,717.2L1608.5,712.6L1606.4,712.6ZM1606.4,712.6L1608.5,712.6L1602.3,672.9L1602.3,686.1ZM1606.8,513.8L1606.3,513.8L1602.3,562.0L1602.3,568.0ZM1606.3,513.8L1606.8,513.8L1610.3,496.6L1610.3,494.2ZM1614.4,712.6L1612.3,712.6L1610.3,717.2L1610.3,722.3ZM1612.3,712.6L1614.4,712.6L1618.3,705.3L1618.3,701.2ZM1618.3,466.5L1618.3,462.2L1610.3,494.2L1610.3,496.6ZM1625.8,646.3L1625.2,646.3L1618.3,701.2L1618.3,705.3ZM1625.2,646.3L1625.8,646.3L1626.3,635.3L1626.3,624.3ZM1626.3,561.2L1626.3,556.4L1622.8,513.8L1622.5,513.8ZM1622.5,513.8L1622.8,513.8L1618.3,462.2L1618.3,466.5ZM1634.2,717.9L1634.2,713.1L1634.1,712.6L1632.8,712.6ZM1632.8,712.6L1634.1,712.6L1628.0,646.3L1627.2,646.3ZM1627.2,646.3L1628.0,646.3L1626.3,624.3L1626.3,635.3ZM1632.4,513.8L1631.8,513.8L1626.3,556.4L1626.3,561.2ZM1631.8,513.8L1632.4,513.8L1634.2,502.8L1634.2,499.1ZM1634.6,712.6L1634.3,712.6L1634.2,713.1L1634.2,717.9ZM1634.3,712.6L1634.6,712.6L1642.2,672.9L1642.2,671.0ZM1642.2,465.8L1642.2,462.1L1634.2,499.1L1634.2,502.8ZM1650.2,694.5L1650.2,682.5L1642.2,671.0L1642.2,672.9ZM1650.2,560.6L1650.2,556.7L1646.7,513.8L1646.4,513.8ZM1646.4,513.8L1646.7,513.8L1642.2,462.1L1642.2,465.8ZM1658.2,719.7L1658.2,716.1L1655.9,712.6L1653.6,712.6ZM1653.6,712.6L1655.9,712.6L1650.2,682.5L1650.2,694.5ZM1655.2,513.8L1654.8,513.8L1650.2,556.7L1650.2,560.6ZM1654.8,513.8L1655.2,513.8L1658.2,499.3L1658.2,497.3ZM1659.6,712.6L1658.9,712.6L1658.2,716.1L1658.2,719.7ZM1658.9,712.6L1659.6,712.6L1666.2,684.9L1666.2,681.8ZM1666.2,469.8L1666.2,466.1L1658.2,497.3L1658.2,499.3ZM1674.1,646.3L1673.5,646.3L1666.2,681.8L1666.2,684.9ZM1673.5,646.3L1674.1,646.3L1674.1,624.3ZM1674.1,563.5L1674.1,555.2L1671.9,513.8L1671.5,513.8ZM1671.5,513.8L1671.9,513.8L1666.2,466.1L1666.2,469.8ZM1682.1,675.8L1682.1,668.4L1676.1,646.3L1674.1,646.3ZM1674.1,646.3L1676.1,646.3L1682.1,589.6L1682.1,580.1L1680.5,580.1L1674.1,624.3ZM1680.5,580.1L1682.1,580.1L1682.1,563.5L1674.1,555.2L1674.1,563.5ZM1690.1,681.5L1690.1,678.6L1682.1,668.4L1682.1,675.8ZM1682.4,580.1L1682.1,580.1L1682.1,589.6ZM1682.1,580.1L1682.4,580.1L1683.5,513.8L1683.0,513.8L1682.1,563.5ZM1683.0,513.8L1683.5,513.8L1690.1,483.7L1690.1,481.1ZM1698.1,711.5L1698.1,700.7L1690.1,678.6L1690.1,681.5ZM1698.1,534.2L1698.1,524.0L1697.5,513.8L1696.9,513.8ZM1696.9,513.8L1697.5,513.8L1690.1,481.1L1690.1,483.7ZM1706.0,707.9L1706.0,698.4L1698.1,700.7L1698.1,711.5ZM1700.1,513.8L1699.1,513.8L1698.1,524.0L1698.1,534.2ZM1699.1,513.8L1700.1,513.8L1706.0,485.7L1706.0,480.9ZM1714.0,674.0L1714.0,671.2L1706.0,698.4L1706.0,707.9ZM1714.0,478.2L1714.0,475.0L1706.0,480.9L1706.0,485.7ZM1722.0,661.0L1722.0,651.2L1714.0,671.2L1714.0,674.0ZM1722.0,575.4L1722.0,570.6L1718.1,513.8L1717.7,513.8ZM1717.7,513.8L1718.1,513.8L1714.0,475.0L1714.0,478.2ZM1722.6,646.3L1722.2,646.3L1722.0,651.2L1722.0,661.0ZM1722.2,646.3L1722.6,646.3L1722.8,580.1L1722.4,580.1ZM1722.4,580.1L1722.8,580.1L1722.0,570.6L1722.0,575.4ZM1737.9,677.9L1737.9,674.7L1735.3,646.3L1735.0,646.3ZM1735.0,646.3L1735.3,646.3L1734.6,580.1L1734.3,580.1ZM1734.3,580.1L1734.6,580.1L1735.7,513.8L1735.5,513.8ZM1735.5,513.8L1735.7,513.8L1737.9,491.3L1737.9,489.0ZM1745.9,664.0L1745.9,655.2L1737.9,674.7L1737.9,677.9ZM1745.9,580.1L1745.9,575.0L1741.7,513.8L1741.3,513.8ZM1741.3,513.8L1741.7,513.8L1737.9,489.0L1737.9,491.3ZM1746.8,646.3L1746.3,646.3L1745.9,655.2L1745.9,664.0ZM1746.3,646.3L1746.8,646.3L1746.4,580.1L1745.9,580.1ZM1745.9,580.1L1746.4,580.1L1745.9,575.0ZM1761.9,674.2L1761.9,670.8L1759.6,646.3L1759.3,646.3ZM1759.3,646.3L1759.6,646.3L1758.8,580.1L1758.5,580.1ZM1758.5,580.1L1758.8,580.1L1759.6,513.8L1759.4,513.8ZM1759.4,513.8L1759.6,513.8L1761.9,481.0L1761.9,477.6ZM1769.8,690.5L1769.8,675.8L1761.9,670.8L1761.9,674.2ZM1769.8,577.2L1769.8,571.4L1766.0,513.8L1765.6,513.8ZM1765.6,513.8L1766.0,513.8L1761.9,477.6L1761.9,481.0ZM1771.0,646.3L1770.6,646.3L1769.8,675.8L1769.8,690.5ZM1770.6,646.3L1771.0,646.3L1770.5,580.1L1770.1,580.1ZM1770.1,580.1L1770.5,580.1L1769.8,571.4L1769.8,577.2ZM1785.8,684.2L1785.8,677.9L1784.1,646.3L1783.7,646.3ZM1783.7,646.3L1784.1,646.3L1783.7,580.1L1783.4,580.1ZM1783.4,580.1L1783.7,580.1L1784.9,513.8L1784.6,513.8ZM1784.6,513.8L1784.9,513.8L1785.8,499.8L1785.8,495.6ZM1793.8,697.8L1793.8,686.3L1785.8,677.9L1785.8,684.2ZM1793.8,588.4L1793.8,580.1L1793.2,580.1ZM1793.2,580.1L1793.8,580.1L1793.8,578.0L1787.5,513.8L1787.1,513.8ZM1787.1,513.8L1787.5,513.8L1785.8,495.6L1785.8,499.8ZM1801.8,658.0L1801.8,650.2L1793.8,686.3L1793.8,697.8ZM1801.8,613.2L1801.8,580.1L1793.8,580.1L1793.8,588.4ZM1793.8,580.1L1801.8,580.1L1801.8,578.0L1793.8,578.0ZM1802.7,646.3L1802.1,646.3L1801.8,650.2L1801.8,658.0ZM1802.1,646.3L1802.7,646.3L1802.1,580.1L1801.8,580.1L1801.8,613.2ZM1801.8,580.1L1802.1,580.1L1801.8,578.0Z"/>
<path fill="#00800D" d="M1466.7,778.9L1466.7,770.0L1466.0,712.6L1465.8,712.6ZM1465.8,712.6L1466.0,712.6L1465.8,646.3L1465.7,646.3ZM1465.7,646.3L1465.8,646.3L1466.1,580.1L1466.0,580.1ZM1466.0,580.1L1466.1,580.1L1466.7,565.0L1466.7,562.0ZM1466.7,778.9L1474.7,743.2L1474.7,738.5L1466.7,770.0ZM1473.5,513.8L1473.1,513.8L1466.7,562.0L1466.7,565.0ZM1473.1,513.8L1473.5,513.8L1474.7,502.3L1474.7,498.5ZM1482.7,736.7L1482.7,732.7L1474.7,738.5L1474.7,743.2ZM1482.7,502.3L1482.7,497.9L1474.7,498.5L1474.7,502.3ZM1489.6,712.6L1488.4,712.6L1482.7,732.7L1482.7,736.7ZM1488.4,712.6L1489.6,712.6L1490.7,709.2L1490.7,705.4ZM1490.7,482.2L1490.7,479.0L1482.7,497.9L1482.7,502.3ZM1498.6,735.2L1498.6,730.2L1493.5,712.6L1492.0,712.6ZM1492.0,712.6L1493.5,712.6L1490.7,705.4L1490.7,709.2ZM1498.6,472.7L1498.6,467.9L1490.7,479.0L1490.7,482.2ZM1501.0,712.6L1500.4,712.6L1498.6,730.2L1498.6,735.2ZM1500.4,712.6L1501.0,712.6L1506.6,646.3L1506.0,646.3ZM1506.0,646.3L1506.6,646.3L1506.6,580.1L1506.0,580.1ZM1506.0,580.1L1506.6,580.1L1501.8,513.8L1501.5,513.8ZM1501.5,513.8L1501.8,513.8L1498.6,467.9L1498.6,472.7ZM1522.6,750.7L1522.6,746.2L1520.5,712.6L1520.2,712.6ZM1520.2,712.6L1520.5,712.6L1520.4,646.3L1520.1,646.3ZM1520.1,646.3L1520.4,646.3L1521.3,580.1L1521.0,580.1ZM1521.0,580.1L1521.3,580.1L1522.6,560.3L1522.6,555.4ZM1526.7,712.6L1526.2,712.6L1522.6,746.2L1522.6,750.7ZM1526.2,712.6L1526.7,712.6L1527.0,646.3L1526.5,646.3ZM1526.5,646.3L1527.0,646.3L1526.6,580.1L1525.8,580.1ZM1525.8,580.1L1526.6,580.1L1522.6,555.4L1522.6,560.3ZM1538.5,685.1L1538.5,682.6L1533.4,646.3L1533.1,646.3ZM1533.1,646.3L1533.4,646.3L1532.7,580.1L1532.3,580.1ZM1532.3,580.1L1532.7,580.1L1536.6,513.8L1536.4,513.8ZM1536.4,513.8L1536.6,513.8L1538.5,476.2L1538.5,473.0ZM1546.5,745.1L1546.5,741.4L1543.4,712.6L1543.0,712.6ZM1543.0,712.6L1543.4,712.6L1538.5,682.6L1538.5,685.1ZM1546.5,515.8L1546.5,513.8L1546.3,513.8ZM1546.3,513.8L1546.5,513.8L1546.5,508.4L1538.5,473.0L1538.5,476.2ZM1550.7,712.6L1550.2,712.6L1546.5,741.4L1546.5,745.1ZM1550.2,712.6L1550.7,712.6L1554.5,668.4L1554.5,662.9ZM1554.5,575.1L1554.5,570.0L1547.0,513.8L1546.5,513.8L1546.5,515.8ZM1546.5,513.8L1547.0,513.8L1546.5,508.4ZM1562.5,696.1L1562.5,693.0L1554.5,662.9L1554.5,668.4ZM1559.1,513.8L1558.7,513.8L1554.5,570.0L1554.5,575.1ZM1558.7,513.8L1559.1,513.8L1562.5,482.4L1562.5,478.8ZM1570.4,740.5L1570.4,737.2L1566.1,712.6L1565.5,712.6ZM1565.5,712.6L1566.1,712.6L1562.5,693.0L1562.5,696.1ZM1570.4,491.9L1570.4,486.6L1562.5,478.8L1562.5,482.4ZM1575.1,712.6L1574.6,712.6L1570.4,737.2L1570.4,740.5ZM1574.6,712.6L1575.1,712.6L1578.4,668.4L1578.4,661.1ZM1578.4,570.6L1578.4,565.8L1573.0,513.8L1572.5,513.8ZM1572.5,513.8L1573.0,513.8L1570.4,486.6L1570.4,491.9ZM1586.4,696.4L1586.4,693.2L1578.4,661.1L1578.4,668.4ZM1582.9,513.8L1582.5,513.8L1578.4,565.8L1578.4,570.6ZM1582.5,513.8L1582.9,513.8L1586.4,480.3L1586.4,476.7ZM1594.4,738.9L1594.4,735.8L1589.9,712.6L1589.3,712.6ZM1589.3,712.6L1589.9,712.6L1586.4,693.2L1586.4,696.4ZM1594.4,496.7L1594.4,490.8L1586.4,476.7L1586.4,480.3ZM1600.3,712.6L1599.6,712.6L1594.4,735.8L1594.4,738.9ZM1599.6,712.6L1600.3,712.6L1602.3,672.9L1602.3,659.6ZM1602.3,574.1L1602.3,568.0L1596.8,513.8L1596.2,513.8ZM1596.2,513.8L1596.8,513.8L1594.4,490.8L1594.4,496.7ZM1610.3,717.2L1610.3,712.6L1608.5,712.6ZM1608.5,712.6L1610.3,712.6L1610.3,712.0L1602.3,659.6L1602.3,672.9ZM1607.3,513.8L1606.8,513.8L1602.3,568.0L1602.3,574.1ZM1606.8,513.8L1607.3,513.8L1610.3,499.1L1610.3,496.6ZM1612.3,712.6L1610.3,712.6L1610.3,717.2ZM1610.3,712.6L1612.3,712.6L1618.3,701.2L1618.3,697.2L1610.3,712.0ZM1618.3,470.8L1618.3,466.5L1610.3,496.6L1610.3,499.1ZM1625.2,646.3L1624.7,646.3L1618.3,697.2L1618.3,701.2ZM1624.7,646.3L1625.2,646.3L1626.3,624.3L1626.3,613.2ZM1626.3,565.9L1626.3,561.2L1622.5,513.8L1622.1,513.8ZM1622.1,513.8L1622.5,513.8L1618.3,466.5L1618.3,470.8ZM1634.2,713.1L1634.2,712.6L1634.1,712.6ZM1634.1,712.6L1634.2,712.6L1634.2,704.0L1628.9,646.3L1628.0,646.3ZM1628.0,646.3L1628.9,646.3L1626.3,613.2L1626.3,624.3ZM1633.0,513.8L1632.4,513.8L1626.3,561.2L1626.3,565.9ZM1632.4,513.8L1633.0,513.8L1634.2,506.5L1634.2,502.8ZM1634.3,712.6L1634.2,712.6L1634.2,713.1ZM1634.2,712.6L1634.3,712.6L1642.2,671.0L1642.2,669.1L1634.2,704.0ZM1642.2,469.4L1642.2,465.8L1634.2,502.8L1634.2,506.5ZM1650.2,682.5L1650.2,670.4L1642.2,669.1L1642.2,671.0ZM1650.2,564.5L1650.2,560.6L1646.4,513.8L1646.1,513.8ZM1646.1,513.8L1646.4,513.8L1642.2,465.8L1642.2,469.4ZM1658.2,716.1L1658.2,712.6L1655.9,712.6ZM1655.9,712.6L1658.2,712.6L1650.2,670.4L1650.2,682.5ZM1655.7,513.8L1655.2,513.8L1650.2,560.6L1650.2,564.5ZM1655.2,513.8L1655.7,513.8L1658.2,501.4L1658.2,499.3ZM1658.9,712.6L1658.2,712.6L1658.2,716.1ZM1658.2,712.6L1658.9,712.6L1666.2,681.8L1666.2,678.7ZM1666.2,473.4L1666.2,469.8L1658.2,499.3L1658.2,501.4ZM1673.5,646.3L1672.9,646.3L1666.2,678.7L1666.2,681.8ZM1672.9,646.3L1673.5,646.3L1674.1,624.3L1674.1,602.2ZM1674.1,571.8L1674.1,563.5L1671.5,513.8L1671.0,513.8ZM1671.0,513.8L1671.5,513.8L1666.2,469.8L1666.2,473.4ZM1682.1,668.4L1682.1,661.1L1678.1,646.3L1676.1,646.3ZM1676.1,646.3L1678.1,646.3L1682.1,608.5L1682.1,589.6L1680.5,580.1L1677.3,580.1L1674.1,602.2L1674.1,624.3ZM1677.3,580.1L1680.5,580.1L1674.1,563.5L1674.1,571.8ZM1690.1,678.6L1690.1,675.7L1682.1,661.1L1682.1,668.4ZM1682.9,580.1L1682.4,580.1L1682.1,589.6L1682.1,608.5ZM1682.4,580.1L1682.9,580.1L1684.1,513.8L1683.5,513.8ZM1683.5,513.8L1684.1,513.8L1690.1,486.4L1690.1,483.7ZM1698.1,700.7L1698.1,689.8L1690.1,675.7L1690.1,678.6ZM1698.1,544.4L1698.1,534.2L1696.9,513.8L1696.3,513.8ZM1696.3,513.8L1696.9,513.8L1690.1,483.7L1690.1,486.4ZM1706.0,698.4L1706.0,688.9L1698.1,689.8L1698.1,700.7ZM1701.1,513.8L1700.1,513.8L1698.1,534.2L1698.1,544.4ZM1700.1,513.8L1701.1,513.8L1706.0,490.5L1706.0,485.7ZM1714.0,671.2L1714.0,668.4L1706.0,688.9L1706.0,698.4ZM1714.0,481.3L1714.0,478.2L1706.0,485.7L1706.0,490.5ZM1722.0,651.2L1722.0,646.3L1721.5,646.3L1714.0,668.4L1714.0,671.2ZM1721.5,646.3L1722.0,646.3L1722.0,580.1ZM1722.0,580.1L1722.0,575.4L1717.7,513.8L1717.4,513.8ZM1717.4,513.8L1717.7,513.8L1714.0,478.2L1714.0,481.3ZM1722.2,646.3L1722.0,646.3L1722.0,651.2ZM1722.0,646.3L1722.2,646.3L1722.4,580.1L1722.0,580.1ZM1722.0,580.1L1722.4,580.1L1722.0,575.4ZM1737.9,674.7L1737.9,671.6L1735.6,646.3L1735.3,646.3ZM1735.3,646.3L1735.6,646.3L1734.9,580.1L1734.6,580.1ZM1734.6,580.1L1734.9,580.1L1736.0,513.8L1735.7,513.8ZM1735.7,513.8L1736.0,513.8L1737.9,493.7L1737.9,491.3ZM1745.9,655.2L1745.9,646.3L1737.9,671.6L1737.9,674.7ZM1745.9,646.3L1745.9,580.1L1745.3,580.1ZM1745.3,580.1L1745.9,580.1L1741.3,513.8L1741.0,513.8ZM1741.0,513.8L1741.3,513.8L1737.9,491.3L1737.9,493.7ZM1746.3,646.3L1745.9,646.3L1745.9,655.2ZM1745.9,646.3L1746.3,646.3L1745.9,580.1ZM1761.9,670.8L1761.9,667.3L1760.0,646.3L1759.6,646.3ZM1759.6,646.3L1760.0,646.3L1759.0,580.1L1758.8,580.1ZM1758.8,580.1L1759.0,580.1L1759.9,513.8L1759.6,513.8ZM1759.6,513.8L1759.9,513.8L1761.9,484.3L1761.9,481.0ZM1769.8,675.8L1769.8,661.1L1761.9,667.3L1761.9,670.8ZM1769.8,602.2L1769.8,580.1L1769.5,580.1ZM1769.5,580.1L1769.8,580.1L1769.8,577.2L1765.6,513.8L1765.2,513.8ZM1765.2,513.8L1765.6,513.8L1761.9,481.0L1761.9,484.3ZM1770.6,646.3L1770.2,646.3L1769.8,661.1L1769.8,675.8ZM1770.2,646.3L1770.6,646.3L1770.1,580.1L1769.8,580.1L1769.8,602.2ZM1769.8,580.1L1770.1,580.1L1769.8,577.2ZM1785.8,677.9L1785.8,671.6L1784.4,646.3L1784.1,646.3ZM1784.1,646.3L1784.4,646.3L1784.0,580.1L1783.7,580.1ZM1783.7,580.1L1784.0,580.1L1785.2,513.8L1784.9,513.8ZM1784.9,513.8L1785.2,513.8L1785.8,504.1L1785.8,499.8ZM1793.8,686.3L1793.8,674.9L1785.8,671.6L1785.8,677.9ZM1793.8,604.9L1793.8,588.4L1793.2,580.1L1792.1,580.1ZM1792.1,580.1L1793.2,580.1L1787.1,513.8L1786.7,513.8ZM1786.7,513.8L1787.1,513.8L1785.8,499.8L1785.8,504.1ZM1801.8,650.2L1801.8,646.3L1800.4,646.3L1793.8,674.9L1793.8,686.3ZM1800.4,646.3L1801.8,646.3L1801.8,613.2L1793.8,588.4L1793.8,604.9ZM1802.1,646.3L1801.8,646.3L1801.8,650.2ZM1801.8,646.3L1802.1,646.3L1801.8,613.2Z"/>
<path fill="#058800" d="M1466.7,770.0L1466.7,761.2L1466.1,712.6L1466.0,712.6ZM1466.0,712.6L1466.1,712.6L1465.9,646.3L1465.8,646.3ZM1465.8,646.3L1465.9,646.3L1466.3,580.1L1466.1,580.1ZM1466.1,580.1L1466.3,580.1L1466.7,568.0L1466.7,565.0ZM1474.7,738.5L1474.7,733.8L1466.7,761.2L1466.7,770.0ZM1473.9,513.8L1473.5,513.8L1466.7,565.0L1466.7,568.0ZM1473.5,513.8L1473.9,513.8L1474.7,506.2L1474.7,502.3ZM1482.7,732.7L1482.7,728.6L1474.7,733.8L1474.7,738.5ZM1482.7,506.7L1482.7,502.3L1474.7,502.3L1474.7,506.2ZM1488.4,712.6L1487.3,712.6L1482.7,728.6L1482.7,732.7ZM1487.3,712.6L1488.4,712.6L1490.7,705.4L1490.7,701.6ZM1490.7,485.3L1490.7,482.2L1482.7,502.3L1482.7,506.7ZM1498.6,730.2L1498.6,725.2L1494.9,712.6L1493.5,712.6ZM1493.5,712.6L1494.9,712.6L1490.7,701.6L1490.7,705.4ZM1498.6,477.6L1498.6,472.7L1490.7,482.2L1490.7,485.3ZM1500.4,712.6L1499.9,712.6L1498.6,725.2L1498.6,730.2ZM1499.9,712.6L1500.4,712.6L1506.0,646.3L1505.4,646.3ZM1505.4,646.3L1506.0,646.3L1506.0,580.1L1505.5,580.1ZM1505.5,580.1L1506.0,580.1L1501.5,513.8L1501.1,513.8ZM1501.1,513.8L1501.5,513.8L1498.6,472.7L1498.6,477.6ZM1522.6,746.2L1522.6,741.7L1520.8,712.6L1520.5,712.6ZM1520.5,712.6L1520.8,712.6L1520.6,646.3L1520.4,646.3ZM1520.4,646.3L1520.6,646.3L1521.6,580.1L1521.3,580.1ZM1521.3,580.1L1521.6,580.1L1522.6,565.3L1522.6,560.3ZM1526.2,712.6L1525.8,712.6L1522.6,741.7L1522.6,746.2ZM1525.8,712.6L1526.2,712.6L1526.5,646.3L1526.0,646.3ZM1526.0,646.3L1526.5,646.3L1525.8,580.1L1525.0,580.1ZM1525.0,580.1L1525.8,580.1L1522.6,560.3L1522.6,565.3ZM1538.5,682.6L1538.5,680.1L1533.8,646.3L1533.4,646.3ZM1533.4,646.3L1533.8,646.3L1533.0,580.1L1532.7,580.1ZM1532.7,580.1L1533.0,580.1L1536.8,513.8L1536.6,513.8ZM1536.6,513.8L1536.8,513.8L1538.5,479.4L1538.5,476.2ZM1546.5,741.4L1546.5,737.7L1543.8,712.6L1543.4,712.6ZM1543.4,712.6L1543.8,712.6L1538.5,680.1L1538.5,682.6ZM1546.5,522.2L1546.5,515.8L1546.3,513.8L1545.6,513.8ZM1545.6,513.8L1546.3,513.8L1538.5,476.2L1538.5,479.4ZM1550.2,712.6L1549.7,712.6L1546.5,737.7L1546.5,741.4ZM1549.7,712.6L1550.2,712.6L1554.5,662.9L1554.5,657.4ZM1554.5,580.1L1554.5,575.1L1546.5,515.8L1546.5,522.2ZM1562.5,693.0L1562.5,689.9L1554.5,657.4L1554.5,662.9ZM1554.5,580.1L1559.5,513.8L1559.1,513.8L1554.5,575.1ZM1559.1,513.8L1559.5,513.8L1562.5,485.9L1562.5,482.4ZM1570.4,737.2L1570.4,733.9L1566.7,712.6L1566.1,712.6ZM1566.1,712.6L1566.7,712.6L1562.5,689.9L1562.5,693.0ZM1570.4,497.3L1570.4,491.9L1562.5,482.4L1562.5,485.9ZM1574.6,712.6L1574.0,712.6L1570.4,733.9L1570.4,737.2ZM1574.0,712.6L1574.6,712.6L1578.4,661.1L1578.4,653.7ZM1578.4,575.3L1578.4,570.6L1572.5,513.8L1572.0,513.8ZM1572.0,513.8L1572.5,513.8L1570.4,491.9L1570.4,497.3ZM1586.4,693.2L1586.4,690.0L1578.4,653.7L1578.4,661.1ZM1583.3,513.8L1582.9,513.8L1578.4,570.6L1578.4,575.3ZM1582.9,513.8L1583.3,513.8L1586.4,483.9L1586.4,480.3ZM1594.4,735.8L1594.4,732.7L1590.5,712.6L1589.9,712.6ZM1589.9,712.6L1590.5,712.6L1586.4,690.0L1586.4,693.2ZM1594.4,502.6L1594.4,496.7L1586.4,480.3L1586.4,483.9ZM1599.6,712.6L1598.9,712.6L1594.4,732.7L1594.4,735.8ZM1598.9,712.6L1599.6,712.6L1602.3,659.6L1602.3,646.3ZM1602.3,580.1L1602.3,574.1L1596.2,513.8L1595.5,513.8ZM1595.5,513.8L1596.2,513.8L1594.4,496.7L1594.4,502.6ZM1610.3,712.0L1610.3,706.3L1602.3,646.3L1602.3,659.6ZM1602.3,580.1L1607.8,513.8L1607.3,513.8L1602.3,574.1ZM1607.3,513.8L1607.8,513.8L1610.3,501.6L1610.3,499.1ZM1618.3,697.2L1618.3,693.1L1610.3,706.3L1610.3,712.0ZM1618.3,475.1L1618.3,470.8L1610.3,499.1L1610.3,501.6ZM1624.7,646.3L1624.2,646.3L1618.3,693.1L1618.3,697.2ZM1624.2,646.3L1624.7,646.3L1626.3,613.2L1626.3,602.2ZM1626.3,570.6L1626.3,565.9L1622.1,513.8L1621.7,513.8ZM1621.7,513.8L1622.1,513.8L1618.3,470.8L1618.3,475.1ZM1634.2,704.0L1634.2,694.4L1629.8,646.3L1628.9,646.3ZM1628.9,646.3L1629.8,646.3L1626.3,602.2L1626.3,613.2ZM1633.6,513.8L1633.0,513.8L1626.3,565.9L1626.3,570.6ZM1633.0,513.8L1633.6,513.8L1634.2,510.1L1634.2,506.5ZM1642.2,669.1L1642.2,667.2L1634.2,694.4L1634.2,704.0ZM1642.2,473.1L1642.2,469.4L1634.2,506.5L1634.2,510.1ZM1650.2,670.4L1650.2,658.4L1642.2,667.2L1642.2,669.1ZM1650.2,568.4L1650.2,564.5L1646.1,513.8L1645.8,513.8ZM1645.8,513.8L1646.1,513.8L1642.2,469.4L1642.2,473.1ZM1658.2,712.6L1658.2,707.1L1650.2,658.4L1650.2,670.4ZM1656.1,513.8L1655.7,513.8L1650.2,564.5L1650.2,568.4ZM1655.7,513.8L1656.1,513.8L1658.2,503.5L1658.2,501.4ZM1658.2,712.6L1666.2,678.7L1666.2,675.6L1658.2,707.1ZM1666.2,477.1L1666.2,473.4L1658.2,501.4L1658.2,503.5ZM1672.9,646.3L1672.2,646.3L1666.2,675.6L1666.2,678.7ZM1672.2,646.3L1672.9,646.3L1674.1,602.2L1674.1,580.1ZM1674.1,580.1L1674.1,571.8L1671.0,513.8L1670.6,513.8ZM1670.6,513.8L1671.0,513.8L1666.2,473.4L1666.2,477.1ZM1682.1,661.1L1682.1,653.7L1680.1,646.3L1678.1,646.3ZM1678.1,646.3L1680.1,646.3L1682.1,627.4L1682.1,608.5L1677.3,580.1L1674.1,580.1L1674.1,602.2ZM1674.1,580.1L1677.3,580.1L1674.1,571.8ZM1690.1,675.7L1690.1,672.7L1682.1,653.7L1682.1,661.1ZM1683.4,580.1L1682.9,580.1L1682.1,608.5L1682.1,627.4ZM1682.9,580.1L1683.4,580.1L1684.7,513.8L1684.1,513.8ZM1684.1,513.8L1684.7,513.8L1690.1,489.0L1690.1,486.4ZM1698.1,689.8L1698.1,678.9L1690.1,672.7L1690.1,675.7ZM1698.1,554.6L1698.1,544.4L1696.3,513.8L1695.7,513.8ZM1695.7,513.8L1696.3,513.8L1690.1,486.4L1690.1,489.0ZM1706.0,688.9L1706.0,679.5L1698.1,678.9L1698.1,689.8ZM1702.1,513.8L1701.1,513.8L1698.1,544.4L1698.1,554.6ZM1701.1,513.8L1702.1,513.8L1706.0,495.2L1706.0,490.5ZM1714.0,668.4L1714.0,665.7L1706.0,679.5L1706.0,688.9ZM1714.0,484.4L1714.0,481.3L1706.0,490.5L1706.0,495.2ZM1721.5,646.3L1720.6,646.3L1714.0,665.7L1714.0,668.4ZM1720.6,646.3L1721.5,646.3L1722.0,580.1L1721.4,580.1ZM1721.4,580.1L1722.0,580.1L1717.4,513.8L1717.1,513.8ZM1717.1,513.8L1717.4,513.8L1714.0,481.3L1714.0,484.4ZM1737.9,671.6L1737.9,668.4L1735.9,646.3L1735.6,646.3ZM1735.6,646.3L1735.9,646.3L1735.1,580.1L1734.9,580.1ZM1734.9,580.1L1735.1,580.1L1736.2,513.8L1736.0,513.8ZM1736.0,513.8L1736.2,513.8L1737.9,496.1L1737.9,493.7ZM1745.9,646.3L1744.9,646.3L1737.9,668.4L1737.9,671.6ZM1744.9,646.3L1745.9,646.3L1745.3,580.1L1744.7,580.1ZM1744.7,580.1L1745.3,580.1L1741.0,513.8L1740.6,513.8ZM1740.6,513.8L1741.0,513.8L1737.9,493.7L1737.9,496.1ZM1761.9,667.3L1761.9,663.8L1760.3,646.3L1760.0,646.3ZM1760.0,646.3L1760.3,646.3L1759.3,580.1L1759.0,580.1ZM1759.0,580.1L1759.3,580.1L1760.1,513.8L1759.9,513.8ZM1759.9,513.8L1760.1,513.8L1761.9,487.7L1761.9,484.3ZM1769.8,661.1L1769.8,646.3L1761.9,663.8L1761.9,667.3ZM1769.8,646.3L1769.8,602.2L1769.5,580.1L1768.8,580.1ZM1768.8,580.1L1769.5,580.1L1765.2,513.8L1764.9,513.8ZM1764.9,513.8L1765.2,513.8L1761.9,484.3L1761.9,487.7ZM1770.2,646.3L1769.8,646.3L1769.8,661.1ZM1769.8,646.3L1770.2,646.3L1769.8,602.2ZM1785.8,671.6L1785.8,665.3L1784.8,646.3L1784.4,646.3ZM1784.4,646.3L1784.8,646.3L1784.3,580.1L1784.0,580.1ZM1784.0,580.1L1784.3,580.1L1785.4,513.8L1785.2,513.8ZM1785.2,513.8L1785.4,513.8L1785.8,508.3L1785.8,504.1ZM1793.8,674.9L1793.8,663.5L1785.8,665.3L1785.8,671.6ZM1793.8,621.5L1793.8,604.9L1792.1,580.1L1790.9,580.1ZM1790.9,580.1L1792.1,580.1L1786.7,513.8L1786.3,513.8ZM1786.3,513.8L1786.7,513.8L1785.8,504.1L1785.8,508.3ZM1800.4,646.3L1797.8,646.3L1793.8,663.5L1793.8,674.9ZM1797.8,646.3L1800.4,646.3L1793.8,604.9L1793.8,621.5Z"/>
<path fill="#189000" d="M1466.7,761.2L1466.7,752.4L1466.2,712.6L1466.1,712.6ZM1466.1,712.6L1466.2,712.6L1466.0,646.3L1465.9,646.3ZM1465.9,646.3L1466.0,646.3L1466.4,580.1L1466.3,580.1ZM1466.3,580.1L1466.4,580.1L1466.7,571.1L1466.7,568.0ZM1474.7,733.8L1474.7,729.1L1466.7,752.4L1466.7,761.2ZM1474.3,513.8L1473.9,513.8L1466.7,568.0L1466.7,571.1ZM1473.9,513.8L1474.3,513.8L1474.7,510.0L1474.7,506.2ZM1482.7,728.6L1482.7,724.5L1474.7,729.1L1474.7,733.8ZM1482.7,511.2L1482.7,506.7L1474.7,506.2L1474.7,510.0ZM1487.3,712.6L1486.1,712.6L1482.7,724.5L1482.7,728.6ZM1486.1,712.6L1487.3,712.6L1490.7,701.6L1490.7,697.8ZM1490.7,488.5L1490.7,485.3L1482.7,506.7L1482.7,511.2ZM1498.6,725.2L1498.6,720.1L1496.4,712.6L1494.9,712.6ZM1494.9,712.6L1496.4,712.6L1490.7,697.8L1490.7,701.6ZM1498.6,482.4L1498.6,477.6L1490.7,485.3L1490.7,488.5ZM1499.9,712.6L1499.4,712.6L1498.6,720.1L1498.6,725.2ZM1499.4,712.6L1499.9,712.6L1505.4,646.3L1504.8,646.3ZM1504.8,646.3L1505.4,646.3L1505.5,580.1L1504.9,580.1ZM1504.9,580.1L1505.5,580.1L1501.1,513.8L1500.8,513.8ZM1500.8,513.8L1501.1,513.8L1498.6,477.6L1498.6,482.4ZM1522.6,741.7L1522.6,737.2L1521.0,712.6L1520.8,712.6ZM1520.8,712.6L1521.0,712.6L1520.9,646.3L1520.6,646.3ZM1520.6,646.3L1520.9,646.3L1521.9,580.1L1521.6,580.1ZM1521.6,580.1L1521.9,580.1L1522.6,570.2L1522.6,565.3ZM1525.8,712.6L1525.3,712.6L1522.6,737.2L1522.6,741.7ZM1525.3,712.6L1525.8,712.6L1526.0,646.3L1525.5,646.3ZM1525.5,646.3L1526.0,646.3L1525.0,580.1L1524.2,580.1ZM1524.2,580.1L1525.0,580.1L1522.6,565.3L1522.6,570.2ZM1538.5,680.1L1538.5,677.6L1534.1,646.3L1533.8,646.3ZM1533.8,646.3L1534.1,646.3L1533.4,580.1L1533.0,580.1ZM1533.0,580.1L1533.4,580.1L1536.9,513.8L1536.8,513.8ZM1536.8,513.8L1536.9,513.8L1538.5,482.6L1538.5,479.4ZM1546.5,737.7L1546.5,734.0L1544.2,712.6L1543.8,712.6ZM1543.8,712.6L1544.2,712.6L1538.5,677.6L1538.5,680.1ZM1546.5,528.6L1546.5,522.2L1545.6,513.8L1545.0,513.8ZM1545.0,513.8L1545.6,513.8L1538.5,479.4L1538.5,482.6ZM1549.7,712.6L1549.3,712.6L1546.5,734.0L1546.5,737.7ZM1549.3,712.6L1549.7,712.6L1554.5,657.4L1554.5,651.9ZM1554.5,613.2L1554.5,580.1L1553.6,580.1ZM1553.6,580.1L1554.5,580.1L1546.5,522.2L1546.5,528.6ZM1562.5,689.9L1562.5,686.8L1554.5,651.9L1554.5,657.4ZM1555.0,580.1L1554.5,580.1L1554.5,613.2ZM1554.5,580.1L1555.0,580.1L1559.8,513.8L1559.5,513.8ZM1559.5,513.8L1559.8,513.8L1562.5,489.4L1562.5,485.9ZM1570.4,733.9L1570.4,730.6L1567.3,712.6L1566.7,712.6ZM1566.7,712.6L1567.3,712.6L1562.5,686.8L1562.5,689.9ZM1570.4,502.6L1570.4,497.3L1562.5,485.9L1562.5,489.4ZM1574.0,712.6L1573.5,712.6L1570.4,730.6L1570.4,733.9ZM1573.5,712.6L1574.0,712.6L1578.4,653.7L1578.4,646.3ZM1578.4,580.1L1578.4,575.3L1572.0,513.8L1571.5,513.8ZM1571.5,513.8L1572.0,513.8L1570.4,497.3L1570.4,502.6ZM1586.4,690.0L1586.4,686.8L1578.4,646.3L1578.4,653.7ZM1578.4,580.1L1583.6,513.8L1583.3,513.8L1578.4,575.3ZM1583.3,513.8L1583.6,513.8L1586.4,487.5L1586.4,483.9ZM1594.4,732.7L1594.4,729.6L1591.1,712.6L1590.5,712.6ZM1590.5,712.6L1591.1,712.6L1586.4,686.8L1586.4,690.0ZM1594.4,508.5L1594.4,502.6L1586.4,483.9L1586.4,487.5ZM1598.9,712.6L1598.2,712.6L1594.4,729.6L1594.4,732.7ZM1598.2,712.6L1598.9,712.6L1602.3,646.3L1601.6,646.3ZM1601.6,646.3L1602.3,646.3L1602.3,580.1L1601.6,580.1ZM1601.6,580.1L1602.3,580.1L1595.5,513.8L1594.9,513.8ZM1594.9,513.8L1595.5,513.8L1594.4,502.6L1594.4,508.5ZM1610.3,706.3L1610.3,700.6L1603.1,646.3L1602.3,646.3ZM1602.3,646.3L1603.1,646.3L1603.1,580.1L1602.3,580.1ZM1602.3,580.1L1603.1,580.1L1608.3,513.8L1607.8,513.8ZM1607.8,513.8L1608.3,513.8L1610.3,504.0L1610.3,501.6ZM1618.3,693.1L1618.3,689.0L1610.3,700.6L1610.3,706.3ZM1618.3,479.4L1618.3,475.1L1610.3,501.6L1610.3,504.0ZM1624.2,646.3L1623.7,646.3L1618.3,689.0L1618.3,693.1ZM1623.7,646.3L1624.2,646.3L1626.3,602.2L1626.3,591.1ZM1626.3,575.4L1626.3,570.6L1621.7,513.8L1621.3,513.8ZM1621.3,513.8L1621.7,513.8L1618.3,475.1L1618.3,479.4ZM1634.2,694.4L1634.2,684.8L1630.7,646.3L1629.8,646.3ZM1629.8,646.3L1630.7,646.3L1626.3,591.1L1626.3,602.2ZM1634.2,513.8L1633.6,513.8L1626.3,570.6L1626.3,575.4ZM1633.6,513.8L1634.2,513.8L1634.2,510.1ZM1642.2,667.2L1642.2,665.3L1634.2,684.8L1634.2,694.4ZM1634.2,513.8L1642.2,476.7L1642.2,473.1L1634.2,510.1ZM1650.2,658.4L1650.2,646.3L1642.2,665.3L1642.2,667.2ZM1650.2,572.3L1650.2,568.4L1645.8,513.8L1645.5,513.8ZM1645.5,513.8L1645.8,513.8L1642.2,473.1L1642.2,476.7ZM1658.2,707.1L1658.2,701.6L1650.2,646.3L1650.2,658.4ZM1656.5,513.8L1656.1,513.8L1650.2,568.4L1650.2,572.3ZM1656.1,513.8L1656.5,513.8L1658.2,505.5L1658.2,503.5ZM1666.2,675.6L1666.2,672.5L1658.2,701.6L1658.2,707.1ZM1666.2,480.7L1666.2,477.1L1658.2,503.5L1658.2,505.5ZM1672.2,646.3L1671.6,646.3L1666.2,672.5L1666.2,675.6ZM1671.6,646.3L1672.2,646.3L1674.1,580.1L1673.6,580.1ZM1673.6,580.1L1674.1,580.1L1670.6,513.8L1670.2,513.8ZM1670.2,513.8L1670.6,513.8L1666.2,477.1L1666.2,480.7ZM1682.1,653.7L1682.1,646.3L1680.1,646.3ZM1680.1,646.3L1682.1,646.3L1682.1,627.4L1674.1,580.1ZM1690.1,672.7L1690.1,669.8L1682.1,646.3L1682.1,653.7ZM1682.1,646.3L1683.9,580.1L1683.4,580.1L1682.1,627.4ZM1683.4,580.1L1683.9,580.1L1685.3,513.8L1684.7,513.8ZM1684.7,513.8L1685.3,513.8L1690.1,491.7L1690.1,489.0ZM1698.1,678.9L1698.1,668.1L1690.1,669.8L1690.1,672.7ZM1698.1,564.8L1698.1,554.6L1695.7,513.8L1695.1,513.8ZM1695.1,513.8L1695.7,513.8L1690.1,489.0L1690.1,491.7ZM1706.0,679.5L1706.0,670.0L1698.1,668.1L1698.1,678.9ZM1703.1,513.8L1702.1,513.8L1698.1,554.6L1698.1,564.8ZM1702.1,513.8L1703.1,513.8L1706.0,500.0L1706.0,495.2ZM1714.0,665.7L1714.0,662.9L1706.0,670.0L1706.0,679.5ZM1714.0,487.5L1714.0,484.4L1706.0,495.2L1706.0,500.0ZM1720.6,646.3L1719.6,646.3L1714.0,662.9L1714.0,665.7ZM1719.6,646.3L1720.6,646.3L1721.4,580.1L1720.8,580.1ZM1720.8,580.1L1721.4,580.1L1717.1,513.8L1716.8,513.8ZM1716.8,513.8L1717.1,513.8L1714.0,484.4L1714.0,487.5ZM1737.9,668.4L1737.9,665.3L1736.2,646.3L1735.9,646.3ZM1735.9,646.3L1736.2,646.3L1735.4,580.1L1735.1,580.1ZM1735.1,580.1L1735.4,580.1L1736.4,513.8L1736.2,513.8ZM1736.2,513.8L1736.4,513.8L1737.9,498.4L1737.9,496.1ZM1744.9,646.3L1743.9,646.3L1737.9,665.3L1737.9,668.4ZM1743.9,646.3L1744.9,646.3L1744.7,580.1L1744.1,580.1ZM1744.1,580.1L1744.7,580.1L1740.6,513.8L1740.2,513.8ZM1740.2,513.8L1740.6,513.8L1737.9,496.1L1737.9,498.4ZM1761.9,663.8L1761.9,660.3L1760.6,646.3L1760.3,646.3ZM1760.3,646.3L1760.6,646.3L1759.6,580.1L1759.3,580.1ZM1759.3,580.1L1759.6,580.1L1760.3,513.8L1760.1,513.8ZM1760.1,513.8L1760.3,513.8L1761.9,491.0L1761.9,487.7ZM1769.8,646.3L1768.3,646.3L1761.9,660.3L1761.9,663.8ZM1768.3,646.3L1769.8,646.3L1768.8,580.1L1768.0,580.1ZM1768.0,580.1L1768.8,580.1L1764.9,513.8L1764.5,513.8ZM1764.5,513.8L1764.9,513.8L1761.9,487.7L1761.9,491.0ZM1785.8,665.3L1785.8,659.0L1785.1,646.3L1784.8,646.3ZM1784.8,646.3L1785.1,646.3L1784.7,580.1L1784.3,580.1ZM1784.3,580.1L1784.7,580.1L1785.7,513.8L1785.4,513.8ZM1785.4,513.8L1785.7,513.8L1785.8,512.6L1785.8,508.3ZM1793.8,663.5L1793.8,652.1L1785.8,659.0L1785.8,665.3ZM1793.8,638.1L1793.8,621.5L1790.9,580.1L1789.8,580.1ZM1789.8,580.1L1790.9,580.1L1786.3,513.8L1785.9,513.8ZM1785.9,513.8L1786.3,513.8L1785.8,508.3L1785.8,512.6ZM1797.8,646.3L1795.1,646.3L1793.8,652.1L1793.8,663.5ZM1795.1,646.3L1797.8,646.3L1793.8,621.5L1793.8,638.1Z"/>
<path fill="#2E9900" d="M1466.7,752.4L1466.7,743.5L1466.3,712.6L1466.2,712.6ZM1466.2,712.6L1466.3,712.6L1466.2,646.3L1466.0,646.3ZM1466.0,646.3L1466.2,646.3L1466.5,580.1L1466.4,580.1ZM1466.4,580.1L1466.5,580.1L1466.7,574.1L1466.7,571.1ZM1474.7,729.1L1474.7,724.4L1466.7,743.5L1466.7,752.4ZM1474.7,513.8L1474.3,513.8L1466.7,571.1L1466.7,574.1ZM1474.3,513.8L1474.7,513.8L1474.7,510.0ZM1482.7,724.5L1482.7,720.4L1474.7,724.4L1474.7,729.1ZM1482.7,515.6L1482.7,513.8L1474.7,513.8ZM1474.7,513.8L1482.7,513.8L1482.7,511.2L1474.7,510.0ZM1486.1,712.6L1484.9,712.6L1482.7,720.4L1482.7,724.5ZM1484.9,712.6L1486.1,712.6L1490.7,697.8L1490.7,693.9ZM1483.1,513.8L1482.7,513.8L1482.7,515.6ZM1482.7,513.8L1483.1,513.8L1490.7,491.7L1490.7,488.5L1482.7,511.2ZM1498.6,720.1L1498.6,715.1L1497.9,712.6L1496.4,712.6ZM1496.4,712.6L1497.9,712.6L1490.7,693.9L1490.7,697.8ZM1498.6,487.2L1498.6,482.4L1490.7,488.5L1490.7,491.7ZM1499.4,712.6L1498.9,712.6L1498.6,715.1L1498.6,720.1ZM1498.9,712.6L1499.4,712.6L1504.8,646.3L1504.2,646.3ZM1504.2,646.3L1504.8,646.3L1504.9,580.1L1504.3,580.1ZM1504.3,580.1L1504.9,580.1L1500.8,513.8L1500.5,513.8ZM1500.5,513.8L1500.8,513.8L1498.6,482.4L1498.6,487.2ZM1522.6,737.2L1522.6,732.8L1521.3,712.6L1521.0,712.6ZM1521.0,712.6L1521.3,712.6L1521.2,646.3L1520.9,646.3ZM1520.9,646.3L1521.2,646.3L1522.3,580.1L1521.9,580.1ZM1521.9,580.1L1522.3,580.1L1522.6,575.2L1522.6,570.2ZM1525.3,712.6L1524.8,712.6L1522.6,732.8L1522.6,737.2ZM1524.8,712.6L1525.3,712.6L1525.5,646.3L1525.0,646.3ZM1525.0,646.3L1525.5,646.3L1524.2,580.1L1523.4,580.1ZM1523.4,580.1L1524.2,580.1L1522.6,570.2L1522.6,575.2ZM1538.5,677.6L1538.5,675.1L1534.5,646.3L1534.1,646.3ZM1534.1,646.3L1534.5,646.3L1533.7,580.1L1533.4,580.1ZM1533.4,580.1L1533.7,580.1L1537.1,513.8L1536.9,513.8ZM1536.9,513.8L1537.1,513.8L1538.5,485.8L1538.5,482.6ZM1546.5,734.0L1546.5,730.3L1544.6,712.6L1544.2,712.6ZM1544.2,712.6L1544.6,712.6L1538.5,675.1L1538.5,677.6ZM1546.5,535.1L1546.5,528.6L1545.0,513.8L1544.3,513.8ZM1544.3,513.8L1545.0,513.8L1538.5,482.6L1538.5,485.8ZM1549.3,712.6L1548.8,712.6L1546.5,730.3L1546.5,734.0ZM1548.8,712.6L1549.3,712.6L1554.5,651.9L1554.5,646.3ZM1554.5,646.3L1554.5,613.2L1553.6,580.1L1552.7,580.1ZM1552.7,580.1L1553.6,580.1L1546.5,528.6L1546.5,535.1ZM1562.5,686.8L1562.5,683.7L1554.5,646.3L1554.5,651.9ZM1554.5,646.3L1555.6,580.1L1555.0,580.1L1554.5,613.2ZM1555.0,580.1L1555.6,580.1L1560.2,513.8L1559.8,513.8ZM1559.8,513.8L1560.2,513.8L1562.5,493.0L1562.5,489.4ZM1570.4,730.6L1570.4,727.4L1567.8,712.6L1567.3,712.6ZM1567.3,712.6L1567.8,712.6L1562.5,683.7L1562.5,686.8ZM1570.4,507.9L1570.4,502.6L1562.5,489.4L1562.5,493.0ZM1573.5,712.6L1572.9,712.6L1570.4,727.4L1570.4,730.6ZM1572.9,712.6L1573.5,712.6L1578.4,646.3L1577.6,646.3ZM1577.6,646.3L1578.4,646.3L1578.4,580.1L1577.7,580.1ZM1577.7,580.1L1578.4,580.1L1571.5,513.8L1571.0,513.8ZM1571.0,513.8L1571.5,513.8L1570.4,502.6L1570.4,507.9ZM1586.4,686.8L1586.4,683.5L1579.0,646.3L1578.4,646.3ZM1578.4,646.3L1579.0,646.3L1579.0,580.1L1578.4,580.1ZM1578.4,580.1L1579.0,580.1L1584.0,513.8L1583.6,513.8ZM1583.6,513.8L1584.0,513.8L1586.4,491.1L1586.4,487.5ZM1594.4,729.6L1594.4,726.5L1591.7,712.6L1591.1,712.6ZM1591.1,712.6L1591.7,712.6L1586.4,683.5L1586.4,686.8ZM1594.4,514.6L1594.4,513.8L1594.2,513.8ZM1594.2,513.8L1594.4,513.8L1594.4,508.5L1586.4,487.5L1586.4,491.1ZM1598.2,712.6L1597.5,712.6L1594.4,726.5L1594.4,729.6ZM1597.5,712.6L1598.2,712.6L1601.6,646.3L1600.9,646.3ZM1600.9,646.3L1601.6,646.3L1601.6,580.1L1600.9,580.1ZM1600.9,580.1L1601.6,580.1L1594.9,513.8L1594.4,513.8L1594.4,514.6ZM1594.4,513.8L1594.9,513.8L1594.4,508.5ZM1610.3,700.6L1610.3,694.9L1603.9,646.3L1603.1,646.3ZM1603.1,646.3L1603.9,646.3L1603.9,580.1L1603.1,580.1ZM1603.1,580.1L1603.9,580.1L1608.8,513.8L1608.3,513.8ZM1608.3,513.8L1608.8,513.8L1610.3,506.5L1610.3,504.0ZM1618.3,689.0L1618.3,685.0L1610.3,694.9L1610.3,700.6ZM1618.3,483.7L1618.3,479.4L1610.3,504.0L1610.3,506.5ZM1623.7,646.3L1623.2,646.3L1618.3,685.0L1618.3,689.0ZM1623.2,646.3L1623.7,646.3L1626.3,591.1L1626.3,580.1ZM1626.3,580.1L1626.3,575.4L1621.3,513.8L1621.0,513.8ZM1621.0,513.8L1621.3,513.8L1618.3,479.4L1618.3,483.7ZM1634.2,684.8L1634.2,675.2L1631.6,646.3L1630.7,646.3ZM1630.7,646.3L1631.6,646.3L1626.3,580.1L1626.3,591.1ZM1626.3,580.1L1634.2,523.3L1634.2,513.8L1626.3,575.4ZM1642.2,665.3L1642.2,663.4L1634.2,675.2L1634.2,684.8ZM1635.0,513.8L1634.2,513.8L1634.2,523.3ZM1634.2,513.8L1635.0,513.8L1642.2,480.3L1642.2,476.7ZM1650.2,646.3L1649.4,646.3L1642.2,663.4L1642.2,665.3ZM1649.4,646.3L1650.2,646.3L1650.2,613.2ZM1650.2,576.2L1650.2,572.3L1645.5,513.8L1645.1,513.8ZM1645.1,513.8L1645.5,513.8L1642.2,476.7L1642.2,480.3ZM1658.2,701.6L1658.2,696.0L1651.0,646.3L1650.2,646.3ZM1650.2,646.3L1651.0,646.3L1650.2,613.2ZM1656.9,513.8L1656.5,513.8L1650.2,572.3L1650.2,576.2ZM1656.5,513.8L1656.9,513.8L1658.2,507.6L1658.2,505.5ZM1666.2,672.5L1666.2,669.5L1658.2,696.0L1658.2,701.6ZM1666.2,484.3L1666.2,480.7L1658.2,505.5L1658.2,507.6ZM1671.6,646.3L1670.9,646.3L1666.2,669.5L1666.2,672.5ZM1670.9,646.3L1671.6,646.3L1673.6,580.1L1673.0,580.1ZM1673.0,580.1L1673.6,580.1L1670.2,513.8L1669.7,513.8ZM1669.7,513.8L1670.2,513.8L1666.2,480.7L1666.2,484.3ZM1690.1,669.8L1690.1,666.9L1683.1,646.3L1682.1,646.3ZM1682.1,646.3L1683.1,646.3L1684.4,580.1L1683.9,580.1ZM1683.9,580.1L1684.4,580.1L1685.8,513.8L1685.3,513.8ZM1685.3,513.8L1685.8,513.8L1690.1,494.3L1690.1,491.7ZM1698.1,668.1L1698.1,657.2L1690.1,666.9L1690.1,669.8ZM1698.1,575.0L1698.1,564.8L1695.1,513.8L1694.5,513.8ZM1694.5,513.8L1695.1,513.8L1690.1,491.7L1690.1,494.3ZM1706.0,670.0L1706.0,660.5L1698.1,657.2L1698.1,668.1ZM1704.1,513.8L1703.1,513.8L1698.1,564.8L1698.1,575.0ZM1703.1,513.8L1704.1,513.8L1706.0,504.8L1706.0,500.0ZM1714.0,662.9L1714.0,660.2L1706.0,660.5L1706.0,670.0ZM1714.0,490.7L1714.0,487.5L1706.0,500.0L1706.0,504.8ZM1719.6,646.3L1718.7,646.3L1714.0,660.2L1714.0,662.9ZM1718.7,646.3L1719.6,646.3L1720.8,580.1L1720.2,580.1ZM1720.2,580.1L1720.8,580.1L1716.8,513.8L1716.4,513.8ZM1716.4,513.8L1716.8,513.8L1714.0,487.5L1714.0,490.7ZM1737.9,665.3L1737.9,662.1L1736.5,646.3L1736.2,646.3ZM1736.2,646.3L1736.5,646.3L1735.6,580.1L1735.4,580.1ZM1735.4,580.1L1735.6,580.1L1736.7,513.8L1736.4,513.8ZM1736.4,513.8L1736.7,513.8L1737.9,500.8L1737.9,498.4ZM1743.9,646.3L1742.9,646.3L1737.9,662.1L1737.9,665.3ZM1742.9,646.3L1743.9,646.3L1744.1,580.1L1743.5,580.1ZM1743.5,580.1L1744.1,580.1L1740.2,513.8L1739.9,513.8ZM1739.9,513.8L1740.2,513.8L1737.9,498.4L1737.9,500.8ZM1761.9,660.3L1761.9,656.8L1760.9,646.3L1760.6,646.3ZM1760.6,646.3L1760.9,646.3L1759.8,580.1L1759.6,580.1ZM1759.6,580.1L1759.8,580.1L1760.5,513.8L1760.3,513.8ZM1760.3,513.8L1760.5,513.8L1761.9,494.4L1761.9,491.0ZM1768.3,646.3L1766.7,646.3L1761.9,656.8L1761.9,660.3ZM1766.7,646.3L1768.3,646.3L1768.0,580.1L1767.3,580.1ZM1767.3,580.1L1768.0,580.1L1764.5,513.8L1764.1,513.8ZM1764.1,513.8L1764.5,513.8L1761.9,491.0L1761.9,494.4ZM1785.8,659.0L1785.8,652.7L1785.5,646.3L1785.1,646.3ZM1785.1,646.3L1785.5,646.3L1785.0,580.1L1784.7,580.1ZM1784.7,580.1L1785.0,580.1L1785.8,528.3L1785.8,513.8L1785.7,513.8ZM1785.7,513.8L1785.8,513.8L1785.8,512.6ZM1793.8,652.1L1793.8,646.3L1791.1,646.3L1785.8,652.7L1785.8,659.0ZM1791.1,646.3L1793.8,646.3L1793.8,638.1L1789.8,580.1L1788.7,580.1ZM1788.7,580.1L1789.8,580.1L1785.9,513.8L1785.8,513.8L1785.8,528.3ZM1785.8,513.8L1785.9,513.8L1785.8,512.6ZM1795.1,646.3L1793.8,646.3L1793.8,652.1ZM1793.8,646.3L1795.1,646.3L1793.8,638.1Z"/>
<path fill="#46A200" d="M1466.7,743.5L1466.7,734.7L1466.4,712.6L1466.3,712.6ZM1466.3,712.6L1466.4,712.6L1466.3,646.3L1466.2,646.3ZM1466.2,646.3L1466.3,646.3L1466.6,580.1L1466.5,580.1ZM1466.5,580.1L1466.6,580.1L1466.7,577.1L1466.7,574.1ZM1474.7,724.4L1474.7,719.7L1466.7,734.7L1466.7,743.5ZM1474.7,518.7L1474.7,513.8L1466.7,574.1L1466.7,577.1ZM1482.7,720.4L1482.7,716.3L1474.7,719.7L1474.7,724.4ZM1482.7,520.1L1482.7,515.6L1474.7,513.8L1474.7,518.7ZM1484.9,712.6L1483.7,712.6L1482.7,716.3L1482.7,720.4ZM1483.7,712.6L1484.9,712.6L1490.7,693.9L1490.7,690.1ZM1484.2,513.8L1483.1,513.8L1482.7,515.6L1482.7,520.1ZM1483.1,513.8L1484.2,513.8L1490.7,494.8L1490.7,491.7ZM1498.6,715.1L1498.6,712.6L1497.9,712.6ZM1497.9,712.6L1498.6,712.6L1498.6,708.7L1490.7,690.1L1490.7,693.9ZM1498.6,492.1L1498.6,487.2L1490.7,491.7L1490.7,494.8ZM1498.9,712.6L1498.6,712.6L1498.6,715.1ZM1498.6,712.6L1498.9,712.6L1504.2,646.3L1503.6,646.3L1498.6,708.7ZM1503.6,646.3L1504.2,646.3L1504.3,580.1L1503.8,580.1ZM1503.8,580.1L1504.3,580.1L1500.5,513.8L1500.1,513.8ZM1500.1,513.8L1500.5,513.8L1498.6,487.2L1498.6,492.1ZM1522.6,732.8L1522.6,728.3L1521.6,712.6L1521.3,712.6ZM1521.3,712.6L1521.6,712.6L1521.5,646.3L1521.2,646.3ZM1521.2,646.3L1521.5,646.3L1522.6,580.1L1522.3,580.1ZM1522.3,580.1L1522.6,580.1L1522.6,575.2ZM1524.8,712.6L1524.3,712.6L1522.6,728.3L1522.6,732.8ZM1524.3,712.6L1524.8,712.6L1525.0,646.3L1524.5,646.3ZM1524.5,646.3L1525.0,646.3L1523.4,580.1L1522.6,580.1ZM1522.6,580.1L1523.4,580.1L1522.6,575.2ZM1538.5,675.1L1538.5,672.6L1534.8,646.3L1534.5,646.3ZM1534.5,646.3L1534.8,646.3L1534.1,580.1L1533.7,580.1ZM1533.7,580.1L1534.1,580.1L1537.3,513.8L1537.1,513.8ZM1537.1,513.8L1537.3,513.8L1538.5,489.1L1538.5,485.8ZM1546.5,730.3L1546.5,726.6L1545.0,712.6L1544.6,712.6ZM1544.6,712.6L1545.0,712.6L1538.5,672.6L1538.5,675.1ZM1546.5,541.5L1546.5,535.1L1544.3,513.8L1543.6,513.8ZM1543.6,513.8L1544.3,513.8L1538.5,485.8L1538.5,489.1ZM1548.8,712.6L1548.3,712.6L1546.5,726.6L1546.5,730.3ZM1548.3,712.6L1548.8,712.6L1554.5,646.3L1553.4,646.3ZM1553.4,646.3L1554.5,646.3L1552.7,580.1L1551.8,580.1ZM1551.8,580.1L1552.7,580.1L1546.5,535.1L1546.5,541.5ZM1562.5,683.7L1562.5,680.6L1555.1,646.3L1554.5,646.3ZM1554.5,646.3L1555.1,646.3L1556.1,580.1L1555.6,580.1ZM1555.6,580.1L1556.1,580.1L1560.6,513.8L1560.2,513.8ZM1560.2,513.8L1560.6,513.8L1562.5,496.5L1562.5,493.0ZM1570.4,727.4L1570.4,724.1L1568.4,712.6L1567.8,712.6ZM1567.8,712.6L1568.4,712.6L1562.5,680.6L1562.5,683.7ZM1570.4,513.3L1570.4,507.9L1562.5,493.0L1562.5,496.5ZM1572.9,712.6L1572.4,712.6L1570.4,724.1L1570.4,727.4ZM1572.4,712.6L1572.9,712.6L1577.6,646.3L1576.7,646.3ZM1576.7,646.3L1577.6,646.3L1577.7,580.1L1577.0,580.1ZM1577.0,580.1L1577.7,580.1L1571.0,513.8L1570.5,513.8ZM1570.5,513.8L1571.0,513.8L1570.4,507.9L1570.4,513.3ZM1586.4,683.5L1586.4,680.3L1579.7,646.3L1579.0,646.3ZM1579.0,646.3L1579.7,646.3L1579.5,580.1L1579.0,580.1ZM1579.0,580.1L1579.5,580.1L1584.4,513.8L1584.0,513.8ZM1584.0,513.8L1584.4,513.8L1586.4,494.7L1586.4,491.1ZM1594.4,726.5L1594.4,723.4L1592.3,712.6L1591.7,712.6ZM1591.7,712.6L1592.3,712.6L1586.4,680.3L1586.4,683.5ZM1594.4,521.8L1594.4,514.6L1594.2,513.8L1593.0,513.8ZM1593.0,513.8L1594.2,513.8L1586.4,491.1L1586.4,494.7ZM1597.5,712.6L1596.8,712.6L1594.4,723.4L1594.4,726.5ZM1596.8,712.6L1597.5,712.6L1600.9,646.3L1600.2,646.3ZM1600.2,646.3L1600.9,646.3L1600.9,580.1L1600.2,580.1ZM1600.2,580.1L1600.9,580.1L1594.4,514.6L1594.4,521.8ZM1610.3,694.9L1610.3,689.2L1604.6,646.3L1603.9,646.3ZM1603.9,646.3L1604.6,646.3L1604.7,580.1L1603.9,580.1ZM1603.9,580.1L1604.7,580.1L1609.3,513.8L1608.8,513.8ZM1608.8,513.8L1609.3,513.8L1610.3,508.9L1610.3,506.5ZM1618.3,685.0L1618.3,680.9L1610.3,689.2L1610.3,694.9ZM1618.3,488.0L1618.3,483.7L1610.3,506.5L1610.3,508.9ZM1623.2,646.3L1622.7,646.3L1618.3,680.9L1618.3,685.0ZM1622.7,646.3L1623.2,646.3L1626.3,580.1L1625.7,580.1ZM1625.7,580.1L1626.3,580.1L1621.0,513.8L1620.6,513.8ZM1620.6,513.8L1621.0,513.8L1618.3,483.7L1618.3,488.0ZM1634.2,675.2L1634.2,665.6L1632.5,646.3L1631.6,646.3ZM1631.6,646.3L1632.5,646.3L1627.6,580.1L1626.3,580.1ZM1626.3,580.1L1627.6,580.1L1634.2,532.8L1634.2,523.3ZM1642.2,663.4L1642.2,661.5L1634.2,665.6L1634.2,675.2ZM1635.8,513.8L1635.0,513.8L1634.2,523.3L1634.2,532.8ZM1635.0,513.8L1635.8,513.8L1642.2,484.0L1642.2,480.3ZM1649.4,646.3L1648.6,646.3L1642.2,661.5L1642.2,663.4ZM1648.6,646.3L1649.4,646.3L1650.2,613.2L1650.2,580.1ZM1650.2,580.1L1650.2,576.2L1645.1,513.8L1644.8,513.8ZM1644.8,513.8L1645.1,513.8L1642.2,480.3L1642.2,484.0ZM1658.2,696.0L1658.2,690.5L1651.8,646.3L1651.0,646.3ZM1651.0,646.3L1651.8,646.3L1650.2,580.1L1650.2,613.2ZM1650.2,580.1L1657.3,513.8L1656.9,513.8L1650.2,576.2ZM1656.9,513.8L1657.3,513.8L1658.2,509.7L1658.2,507.6ZM1666.2,669.5L1666.2,666.4L1658.2,690.5L1658.2,696.0ZM1666.2,488.0L1666.2,484.3L1658.2,507.6L1658.2,509.7ZM1670.9,646.3L1670.3,646.3L1666.2,666.4L1666.2,669.5ZM1670.3,646.3L1670.9,646.3L1673.0,580.1L1672.4,580.1ZM1672.4,580.1L1673.0,580.1L1669.7,513.8L1669.3,513.8ZM1669.3,513.8L1669.7,513.8L1666.2,484.3L1666.2,488.0ZM1690.1,666.9L1690.1,663.9L1684.1,646.3L1683.1,646.3ZM1683.1,646.3L1684.1,646.3L1684.9,580.1L1684.4,580.1ZM1684.4,580.1L1684.9,580.1L1686.4,513.8L1685.8,513.8ZM1685.8,513.8L1686.4,513.8L1690.1,496.9L1690.1,494.3ZM1698.1,657.2L1698.1,646.3L1690.1,663.9L1690.1,666.9ZM1698.1,646.3L1698.1,580.1L1697.7,580.1ZM1697.7,580.1L1698.1,580.1L1698.1,575.0L1694.5,513.8L1693.9,513.8ZM1693.9,513.8L1694.5,513.8L1690.1,494.3L1690.1,496.9ZM1706.0,660.5L1706.0,651.1L1698.1,646.3L1698.1,657.2ZM1698.1,646.3L1706.0,580.1L1698.1,580.1ZM1698.1,580.1L1706.0,580.1L1705.1,513.8L1704.1,513.8L1698.1,575.0ZM1704.1,513.8L1705.1,513.8L1706.0,509.5L1706.0,504.8ZM1714.0,660.2L1714.0,657.4L1706.0,651.1L1706.0,660.5ZM1714.0,493.8L1714.0,490.7L1706.0,504.8L1706.0,509.5ZM1718.7,646.3L1717.8,646.3L1714.0,657.4L1714.0,660.2ZM1717.8,646.3L1718.7,646.3L1720.2,580.1L1719.6,580.1ZM1719.6,580.1L1720.2,580.1L1716.4,513.8L1716.1,513.8ZM1716.1,513.8L1716.4,513.8L1714.0,490.7L1714.0,493.8ZM1737.9,662.1L1737.9,659.0L1736.8,646.3L1736.5,646.3ZM1736.5,646.3L1736.8,646.3L1735.9,580.1L1735.6,580.1ZM1735.6,580.1L1735.9,580.1L1736.9,513.8L1736.7,513.8ZM1736.7,513.8L1736.9,513.8L1737.9,503.2L1737.9,500.8ZM1742.9,646.3L1741.9,646.3L1737.9,659.0L1737.9,662.1ZM1741.9,646.3L1742.9,646.3L1743.5,580.1L1742.9,580.1ZM1742.9,580.1L1743.5,580.1L1739.9,513.8L1739.5,513.8ZM1739.5,513.8L1739.9,513.8L1737.9,500.8L1737.9,503.2ZM1761.9,656.8L1761.9,653.3L1761.2,646.3L1760.9,646.3ZM1760.9,646.3L1761.2,646.3L1760.1,580.1L1759.8,580.1ZM1759.8,580.1L1760.1,580.1L1760.8,513.8L1760.5,513.8ZM1760.5,513.8L1760.8,513.8L1761.9,497.7L1761.9,494.4ZM1766.7,646.3L1765.1,646.3L1761.9,653.3L1761.9,656.8ZM1765.1,646.3L1766.7,646.3L1767.3,580.1L1766.6,580.1ZM1766.6,580.1L1767.3,580.1L1764.1,513.8L1763.7,513.8ZM1763.7,513.8L1764.1,513.8L1761.9,494.4L1761.9,497.7ZM1785.8,652.7L1785.8,646.3L1785.5,646.3ZM1785.5,646.3L1785.8,646.3L1785.3,580.1L1785.0,580.1ZM1785.0,580.1L1785.3,580.1L1785.8,549.0L1785.8,528.3ZM1791.1,646.3L1785.8,646.3L1785.8,652.7ZM1785.8,646.3L1791.1,646.3L1788.7,580.1L1787.5,580.1ZM1787.5,580.1L1788.7,580.1L1785.8,528.3L1785.8,549.0Z"/>
<path fill="#60AA00" d="M1466.7,734.7L1466.7,725.9L1466.6,712.6L1466.4,712.6ZM1466.4,712.6L1466.6,712.6L1466.4,646.3L1466.3,646.3ZM1466.3,646.3L1466.4,646.3L1466.7,580.1L1466.6,580.1ZM1466.6,580.1L1466.7,580.1L1466.7,577.1ZM1474.7,719.7L1474.7,715.0L1466.7,725.9L1466.7,734.7ZM1466.7,580.1L1474.7,523.6L1474.7,518.7L1466.7,577.1ZM1482.7,716.3L1482.7,712.6L1481.4,712.6L1474.7,715.0L1474.7,719.7ZM1481.4,712.6L1482.7,712.6L1482.7,712.1ZM1482.7,524.6L1482.7,520.1L1474.7,518.7L1474.7,523.6ZM1483.7,712.6L1482.7,712.6L1482.7,716.3ZM1482.7,712.6L1483.7,712.6L1490.7,690.1L1490.7,686.3L1482.7,712.1ZM1485.3,513.8L1484.2,513.8L1482.7,520.1L1482.7,524.6ZM1484.2,513.8L1485.3,513.8L1490.7,498.0L1490.7,494.8ZM1498.6,708.7L1498.6,700.9L1490.7,686.3L1490.7,690.1ZM1498.6,496.9L1498.6,492.1L1490.7,494.8L1490.7,498.0ZM1503.6,646.3L1502.9,646.3L1498.6,700.9L1498.6,708.7ZM1502.9,646.3L1503.6,646.3L1503.8,580.1L1503.2,580.1ZM1503.2,580.1L1503.8,580.1L1500.1,513.8L1499.8,513.8ZM1499.8,513.8L1500.1,513.8L1498.6,492.1L1498.6,496.9ZM1522.6,728.3L1522.6,723.8L1521.9,712.6L1521.6,712.6ZM1521.6,712.6L1521.9,712.6L1521.7,646.3L1521.5,646.3ZM1521.5,646.3L1521.7,646.3L1522.6,596.7L1522.6,580.1ZM1524.3,712.6L1523.8,712.6L1522.6,723.8L1522.6,728.3ZM1523.8,712.6L1524.3,712.6L1524.5,646.3L1524.0,646.3ZM1524.0,646.3L1524.5,646.3L1522.6,580.1L1522.6,596.7ZM1538.5,672.6L1538.5,670.1L1535.2,646.3L1534.8,646.3ZM1534.8,646.3L1535.2,646.3L1534.4,580.1L1534.1,580.1ZM1534.1,580.1L1534.4,580.1L1537.4,513.8L1537.3,513.8ZM1537.3,513.8L1537.4,513.8L1538.5,492.3L1538.5,489.1ZM1546.5,726.6L1546.5,722.9L1545.4,712.6L1545.0,712.6ZM1545.0,712.6L1545.4,712.6L1538.5,670.1L1538.5,672.6ZM1546.5,547.9L1546.5,541.5L1543.6,513.8L1543.0,513.8ZM1543.0,513.8L1543.6,513.8L1538.5,489.1L1538.5,492.3ZM1548.3,712.6L1547.8,712.6L1546.5,722.9L1546.5,726.6ZM1547.8,712.6L1548.3,712.6L1553.4,646.3L1552.4,646.3ZM1552.4,646.3L1553.4,646.3L1551.8,580.1L1550.9,580.1ZM1550.9,580.1L1551.8,580.1L1546.5,541.5L1546.5,547.9ZM1562.5,680.6L1562.5,677.5L1555.8,646.3L1555.1,646.3ZM1555.1,646.3L1555.8,646.3L1556.7,580.1L1556.1,580.1ZM1556.1,580.1L1556.7,580.1L1561.0,513.8L1560.6,513.8ZM1560.6,513.8L1561.0,513.8L1562.5,500.0L1562.5,496.5ZM1570.4,724.1L1570.4,720.8L1569.0,712.6L1568.4,712.6ZM1568.4,712.6L1569.0,712.6L1562.5,677.5L1562.5,680.6ZM1570.4,520.2L1570.4,513.8L1568.9,513.8ZM1568.9,513.8L1570.4,513.8L1570.4,513.3L1562.5,496.5L1562.5,500.0ZM1572.4,712.6L1571.8,712.6L1570.4,720.8L1570.4,724.1ZM1571.8,712.6L1572.4,712.6L1576.7,646.3L1575.9,646.3ZM1575.9,646.3L1576.7,646.3L1577.0,580.1L1576.3,580.1ZM1576.3,580.1L1577.0,580.1L1570.5,513.8L1570.4,513.8L1570.4,520.2ZM1570.4,513.8L1570.5,513.8L1570.4,513.3ZM1586.4,680.3L1586.4,677.1L1580.3,646.3L1579.7,646.3ZM1579.7,646.3L1580.3,646.3L1580.1,580.1L1579.5,580.1ZM1579.5,580.1L1580.1,580.1L1584.8,513.8L1584.4,513.8ZM1584.4,513.8L1584.8,513.8L1586.4,498.3L1586.4,494.7ZM1594.4,723.4L1594.4,720.3L1592.9,712.6L1592.3,712.6ZM1592.3,712.6L1592.9,712.6L1586.4,677.1L1586.4,680.3ZM1594.4,529.1L1594.4,521.8L1593.0,513.8L1591.7,513.8ZM1591.7,513.8L1593.0,513.8L1586.4,494.7L1586.4,498.3ZM1596.8,712.6L1596.1,712.6L1594.4,720.3L1594.4,723.4ZM1596.1,712.6L1596.8,712.6L1600.2,646.3L1599.4,646.3ZM1599.4,646.3L1600.2,646.3L1600.2,580.1L1599.4,580.1ZM1599.4,580.1L1600.2,580.1L1594.4,521.8L1594.4,529.1ZM1610.3,689.2L1610.3,683.5L1605.4,646.3L1604.6,646.3ZM1604.6,646.3L1605.4,646.3L1605.5,580.1L1604.7,580.1ZM1604.7,580.1L1605.5,580.1L1609.8,513.8L1609.3,513.8ZM1609.3,513.8L1609.8,513.8L1610.3,511.4L1610.3,508.9ZM1618.3,680.9L1618.3,676.8L1610.3,683.5L1610.3,689.2ZM1618.3,492.3L1618.3,488.0L1610.3,508.9L1610.3,511.4ZM1622.7,646.3L1622.2,646.3L1618.3,676.8L1618.3,680.9ZM1622.2,646.3L1622.7,646.3L1625.7,580.1L1625.0,580.1ZM1625.0,580.1L1625.7,580.1L1620.6,513.8L1620.2,513.8ZM1620.2,513.8L1620.6,513.8L1618.3,488.0L1618.3,492.3ZM1634.2,665.6L1634.2,656.0L1633.4,646.3L1632.5,646.3ZM1632.5,646.3L1633.4,646.3L1628.9,580.1L1627.6,580.1ZM1627.6,580.1L1628.9,580.1L1634.2,542.2L1634.2,532.8ZM1642.2,661.5L1642.2,659.6L1634.2,656.0L1634.2,665.6ZM1636.6,513.8L1635.8,513.8L1634.2,532.8L1634.2,542.2ZM1635.8,513.8L1636.6,513.8L1642.2,487.6L1642.2,484.0ZM1648.6,646.3L1647.8,646.3L1642.2,659.6L1642.2,661.5ZM1647.8,646.3L1648.6,646.3L1650.2,580.1L1649.6,580.1ZM1649.6,580.1L1650.2,580.1L1644.8,513.8L1644.5,513.8ZM1644.5,513.8L1644.8,513.8L1642.2,484.0L1642.2,487.6ZM1658.2,690.5L1658.2,685.0L1652.6,646.3L1651.8,646.3ZM1651.8,646.3L1652.6,646.3L1651.3,580.1L1650.2,580.1ZM1650.2,580.1L1651.3,580.1L1657.8,513.8L1657.3,513.8ZM1657.3,513.8L1657.8,513.8L1658.2,511.8L1658.2,509.7ZM1666.2,666.4L1666.2,663.3L1658.2,685.0L1658.2,690.5ZM1666.2,491.6L1666.2,488.0L1658.2,509.7L1658.2,511.8ZM1670.3,646.3L1669.7,646.3L1666.2,663.3L1666.2,666.4ZM1669.7,646.3L1670.3,646.3L1672.4,580.1L1671.8,580.1ZM1671.8,580.1L1672.4,580.1L1669.3,513.8L1668.8,513.8ZM1668.8,513.8L1669.3,513.8L1666.2,488.0L1666.2,491.6ZM1690.1,663.9L1690.1,661.0L1685.1,646.3L1684.1,646.3ZM1684.1,646.3L1685.1,646.3L1685.5,580.1L1684.9,580.1ZM1684.9,580.1L1685.5,580.1L1687.0,513.8L1686.4,513.8ZM1686.4,513.8L1687.0,513.8L1690.1,499.6L1690.1,496.9ZM1698.1,646.3L1696.7,646.3L1690.1,661.0L1690.1,663.9ZM1696.7,646.3L1698.1,646.3L1697.7,580.1L1696.9,580.1ZM1696.9,580.1L1697.7,580.1L1693.9,513.8L1693.3,513.8ZM1693.3,513.8L1693.9,513.8L1690.1,496.9L1690.1,499.6ZM1706.0,651.1L1706.0,646.3L1698.1,646.3ZM1698.1,646.3L1706.0,646.3L1706.0,580.1ZM1706.0,580.1L1706.0,513.8L1705.1,513.8ZM1705.1,513.8L1706.0,513.8L1706.0,509.5ZM1714.0,657.4L1714.0,654.6L1707.2,646.3L1706.0,646.3L1706.0,651.1ZM1706.0,646.3L1707.2,646.3L1706.9,580.1L1706.0,580.1ZM1706.0,580.1L1706.9,580.1L1706.2,513.8L1706.0,513.8ZM1706.0,513.8L1706.2,513.8L1714.0,496.9L1714.0,493.8L1706.0,509.5ZM1717.8,646.3L1716.8,646.3L1714.0,654.6L1714.0,657.4ZM1716.8,646.3L1717.8,646.3L1719.6,580.1L1719.0,580.1ZM1719.0,580.1L1719.6,580.1L1716.1,513.8L1715.8,513.8ZM1715.8,513.8L1716.1,513.8L1714.0,493.8L1714.0,496.9ZM1737.9,659.0L1737.9,655.8L1737.1,646.3L1736.8,646.3ZM1736.8,646.3L1737.1,646.3L1736.1,580.1L1735.9,580.1ZM1735.9,580.1L1736.1,580.1L1737.1,513.8L1736.9,513.8ZM1736.9,513.8L1737.1,513.8L1737.9,505.5L1737.9,503.2ZM1741.9,646.3L1740.9,646.3L1737.9,655.8L1737.9,659.0ZM1740.9,646.3L1741.9,646.3L1742.9,580.1L1742.2,580.1ZM1742.2,580.1L1742.9,580.1L1739.5,513.8L1739.2,513.8ZM1739.2,513.8L1739.5,513.8L1737.9,503.2L1737.9,505.5ZM1761.9,653.3L1761.9,649.8L1761.6,646.3L1761.2,646.3ZM1761.2,646.3L1761.6,646.3L1760.4,580.1L1760.1,580.1ZM1760.1,580.1L1760.4,580.1L1761.0,513.8L1760.8,513.8ZM1760.8,513.8L1761.0,513.8L1761.9,501.1L1761.9,497.7ZM1765.1,646.3L1763.5,646.3L1761.9,649.8L1761.9,653.3ZM1763.5,646.3L1765.1,646.3L1766.6,580.1L1765.9,580.1ZM1765.9,580.1L1766.6,580.1L1763.7,513.8L1763.3,513.8ZM1763.3,513.8L1763.7,513.8L1761.9,497.7L1761.9,501.1ZM1785.8,646.3L1785.8,602.2L1785.6,580.1L1785.3,580.1ZM1785.3,580.1L1785.6,580.1L1785.8,569.7L1785.8,549.0ZM1785.8,646.3L1787.5,580.1L1786.4,580.1L1785.8,602.2ZM1786.4,580.1L1787.5,580.1L1785.8,549.0L1785.8,569.7Z"/>
<path fill="#7DB300" d="M1466.7,725.9L1466.7,717.0L1466.7,712.6L1466.6,712.6ZM1466.6,712.6L1466.7,712.6L1466.5,646.3L1466.4,646.3ZM1466.4,646.3L1466.5,646.3L1466.7,602.2L1466.7,580.1ZM1474.7,715.0L1474.7,712.6L1470.7,712.6L1466.7,717.0L1466.7,725.9ZM1470.7,712.6L1474.7,712.6L1474.7,709.8ZM1467.4,580.1L1466.7,580.1L1466.7,602.2ZM1466.7,580.1L1467.4,580.1L1474.7,528.6L1474.7,523.6ZM1481.4,712.6L1474.7,712.6L1474.7,715.0ZM1474.7,712.6L1481.4,712.6L1482.7,712.1L1482.7,706.9L1474.7,709.8ZM1482.7,529.2L1482.7,524.6L1474.7,523.6L1474.7,528.6ZM1490.7,686.3L1490.7,682.5L1482.7,706.9L1482.7,712.1ZM1486.4,513.8L1485.3,513.8L1482.7,524.6L1482.7,529.2ZM1485.3,513.8L1486.4,513.8L1490.7,501.2L1490.7,498.0ZM1498.6,700.9L1498.6,693.1L1490.7,682.5L1490.7,686.3ZM1498.6,501.7L1498.6,496.9L1490.7,498.0L1490.7,501.2ZM1502.9,646.3L1502.3,646.3L1498.6,693.1L1498.6,700.9ZM1502.3,646.3L1502.9,646.3L1503.2,580.1L1502.6,580.1ZM1502.6,580.1L1503.2,580.1L1499.8,513.8L1499.5,513.8ZM1499.5,513.8L1499.8,513.8L1498.6,496.9L1498.6,501.7ZM1522.6,723.8L1522.6,719.3L1522.2,712.6L1521.9,712.6ZM1521.9,712.6L1522.2,712.6L1522.0,646.3L1521.7,646.3ZM1521.7,646.3L1522.0,646.3L1522.6,613.2L1522.6,596.7ZM1523.8,712.6L1523.3,712.6L1522.6,719.3L1522.6,723.8ZM1523.3,712.6L1523.8,712.6L1524.0,646.3L1523.6,646.3ZM1523.6,646.3L1524.0,646.3L1522.6,596.7L1522.6,613.2ZM1538.5,670.1L1538.5,667.6L1535.5,646.3L1535.2,646.3ZM1535.2,646.3L1535.5,646.3L1534.8,580.1L1534.4,580.1ZM1534.4,580.1L1534.8,580.1L1537.6,513.8L1537.4,513.8ZM1537.4,513.8L1537.6,513.8L1538.5,495.5L1538.5,492.3ZM1546.5,722.9L1546.5,719.3L1545.8,712.6L1545.4,712.6ZM1545.4,712.6L1545.8,712.6L1538.5,667.6L1538.5,670.1ZM1546.5,554.4L1546.5,547.9L1543.0,513.8L1542.3,513.8ZM1542.3,513.8L1543.0,513.8L1538.5,492.3L1538.5,495.5ZM1547.8,712.6L1547.4,712.6L1546.5,719.3L1546.5,722.9ZM1547.4,712.6L1547.8,712.6L1552.4,646.3L1551.3,646.3ZM1551.3,646.3L1552.4,646.3L1550.9,580.1L1550.0,580.1ZM1550.0,580.1L1550.9,580.1L1546.5,547.9L1546.5,554.4ZM1562.5,677.5L1562.5,674.3L1556.5,646.3L1555.8,646.3ZM1555.8,646.3L1556.5,646.3L1557.2,580.1L1556.7,580.1ZM1556.7,580.1L1557.2,580.1L1561.4,513.8L1561.0,513.8ZM1561.0,513.8L1561.4,513.8L1562.5,503.6L1562.5,500.0ZM1570.4,720.8L1570.4,717.5L1569.6,712.6L1569.0,712.6ZM1569.0,712.6L1569.6,712.6L1562.5,674.3L1562.5,677.5ZM1570.4,527.2L1570.4,520.2L1568.9,513.8L1567.3,513.8ZM1567.3,513.8L1568.9,513.8L1562.5,500.0L1562.5,503.6ZM1571.8,712.6L1571.3,712.6L1570.4,717.5L1570.4,720.8ZM1571.3,712.6L1571.8,712.6L1575.9,646.3L1575.0,646.3ZM1575.0,646.3L1575.9,646.3L1576.3,580.1L1575.6,580.1ZM1575.6,580.1L1576.3,580.1L1570.4,520.2L1570.4,527.2ZM1586.4,677.1L1586.4,673.8L1581.0,646.3L1580.3,646.3ZM1580.3,646.3L1581.0,646.3L1580.7,580.1L1580.1,580.1ZM1580.1,580.1L1580.7,580.1L1585.1,513.8L1584.8,513.8ZM1584.8,513.8L1585.1,513.8L1586.4,501.9L1586.4,498.3ZM1594.4,720.3L1594.4,717.2L1593.5,712.6L1592.9,712.6ZM1592.9,712.6L1593.5,712.6L1586.4,673.8L1586.4,677.1ZM1594.4,536.4L1594.4,529.1L1591.7,513.8L1590.5,513.8ZM1590.5,513.8L1591.7,513.8L1586.4,498.3L1586.4,501.9ZM1596.1,712.6L1595.4,712.6L1594.4,717.2L1594.4,720.3ZM1595.4,712.6L1596.1,712.6L1599.4,646.3L1598.7,646.3ZM1598.7,646.3L1599.4,646.3L1599.4,580.1L1598.7,580.1ZM1598.7,580.1L1599.4,580.1L1594.4,529.1L1594.4,536.4ZM1610.3,683.5L1610.3,677.8L1606.1,646.3L1605.4,646.3ZM1605.4,646.3L1606.1,646.3L1606.3,580.1L1605.5,580.1ZM1605.5,580.1L1606.3,580.1L1610.3,513.8L1609.8,513.8ZM1609.8,513.8L1610.3,513.8L1610.3,511.4ZM1618.3,676.8L1618.3,672.8L1610.3,677.8L1610.3,683.5ZM1610.3,513.8L1618.3,496.6L1618.3,492.3L1610.3,511.4ZM1622.2,646.3L1621.6,646.3L1618.3,672.8L1618.3,676.8ZM1621.6,646.3L1622.2,646.3L1625.0,580.1L1624.4,580.1ZM1624.4,580.1L1625.0,580.1L1620.2,513.8L1619.8,513.8ZM1619.8,513.8L1620.2,513.8L1618.3,492.3L1618.3,496.6ZM1634.2,656.0L1634.2,646.3L1633.4,646.3ZM1633.4,646.3L1634.2,646.3L1630.3,580.1L1628.9,580.1ZM1628.9,580.1L1630.3,580.1L1634.2,551.7L1634.2,542.2ZM1642.2,659.6L1642.2,657.7L1634.2,646.3L1634.2,656.0ZM1637.4,513.8L1636.6,513.8L1634.2,542.2L1634.2,551.7ZM1636.6,513.8L1637.4,513.8L1642.2,491.3L1642.2,487.6ZM1647.8,646.3L1647.0,646.3L1642.2,657.7L1642.2,659.6ZM1647.0,646.3L1647.8,646.3L1649.6,580.1L1648.9,580.1ZM1648.9,580.1L1649.6,580.1L1644.5,513.8L1644.2,513.8ZM1644.2,513.8L1644.5,513.8L1642.2,487.6L1642.2,491.3ZM1658.2,685.0L1658.2,679.5L1653.4,646.3L1652.6,646.3ZM1652.6,646.3L1653.4,646.3L1652.5,580.1L1651.3,580.1ZM1651.3,580.1L1652.5,580.1L1658.2,513.8L1657.8,513.8ZM1657.8,513.8L1658.2,513.8L1658.2,511.8ZM1666.2,663.3L1666.2,660.2L1658.2,679.5L1658.2,685.0ZM1658.2,513.8L1666.2,495.3L1666.2,491.6L1658.2,511.8ZM1669.7,646.3L1669.0,646.3L1666.2,660.2L1666.2,663.3ZM1669.0,646.3L1669.7,646.3L1671.8,580.1L1671.3,580.1ZM1671.3,580.1L1671.8,580.1L1668.8,513.8L1668.4,513.8ZM1668.4,513.8L1668.8,513.8L1666.2,491.6L1666.2,495.3ZM1690.1,661.0L1690.1,658.1L1686.1,646.3L1685.1,646.3ZM1685.1,646.3L1686.1,646.3L1686.0,580.1L1685.5,580.1ZM1685.5,580.1L1686.0,580.1L1687.6,513.8L1687.0,513.8ZM1687.0,513.8L1687.6,513.8L1690.1,502.2L1690.1,499.6ZM1696.7,646.3L1695.4,646.3L1690.1,658.1L1690.1,661.0ZM1695.4,646.3L1696.7,646.3L1696.9,580.1L1696.2,580.1ZM1696.2,580.1L1696.9,580.1L1693.3,513.8L1692.7,513.8ZM1692.7,513.8L1693.3,513.8L1690.1,499.6L1690.1,502.2ZM1714.0,654.6L1714.0,651.9L1709.5,646.3L1707.2,646.3ZM1707.2,646.3L1709.5,646.3L1707.7,580.1L1706.9,580.1ZM1706.9,580.1L1707.7,580.1L1707.6,513.8L1706.2,513.8ZM1706.2,513.8L1707.6,513.8L1714.0,500.1L1714.0,496.9ZM1716.8,646.3L1715.9,646.3L1714.0,651.9L1714.0,654.6ZM1715.9,646.3L1716.8,646.3L1719.0,580.1L1718.4,580.1ZM1718.4,580.1L1719.0,580.1L1715.8,513.8L1715.5,513.8ZM1715.5,513.8L1715.8,513.8L1714.0,496.9L1714.0,500.1ZM1737.9,655.8L1737.9,652.7L1737.4,646.3L1737.1,646.3ZM1737.1,646.3L1737.4,646.3L1736.4,580.1L1736.1,580.1ZM1736.1,580.1L1736.4,580.1L1737.4,513.8L1737.1,513.8ZM1737.1,513.8L1737.4,513.8L1737.9,507.9L1737.9,505.5ZM1740.9,646.3L1739.9,646.3L1737.9,652.7L1737.9,655.8ZM1739.9,646.3L1740.9,646.3L1742.2,580.1L1741.6,580.1ZM1741.6,580.1L1742.2,580.1L1739.2,513.8L1738.8,513.8ZM1738.8,513.8L1739.2,513.8L1737.9,505.5L1737.9,507.9ZM1761.9,649.8L1761.9,646.3L1761.6,646.3ZM1761.6,646.3L1761.9,646.3L1760.7,580.1L1760.4,580.1ZM1760.4,580.1L1760.7,580.1L1761.2,513.8L1761.0,513.8ZM1761.0,513.8L1761.2,513.8L1761.9,504.4L1761.9,501.1ZM1763.5,646.3L1761.9,646.3L1761.9,649.8ZM1761.9,646.3L1763.5,646.3L1765.9,580.1L1765.1,580.1ZM1765.1,580.1L1765.9,580.1L1763.3,513.8L1762.9,513.8ZM1762.9,513.8L1763.3,513.8L1761.9,501.1L1761.9,504.4ZM1785.8,602.2L1785.8,580.1L1785.6,580.1ZM1785.6,580.1L1785.8,580.1L1785.8,569.7ZM1786.4,580.1L1785.8,580.1L1785.8,602.2ZM1785.8,580.1L1786.4,580.1L1785.8,569.7Z"/>
<path fill="#9CBB00" d="M1466.7,717.0L1466.7,712.6L1466.7,712.6ZM1466.7,712.6L1466.7,712.6L1466.7,690.5L1466.6,646.3L1466.5,646.3ZM1466.5,646.3L1466.6,646.3L1466.7,624.3L1466.7,602.2ZM1470.7,712.6L1466.7,712.6L1466.7,717.0ZM1466.7,712.6L1470.7,712.6L1474.7,709.8L1474.7,704.3L1466.7,690.5ZM1468.1,580.1L1467.4,580.1L1466.7,602.2L1466.7,624.3ZM1467.4,580.1L1468.1,580.1L1474.7,533.5L1474.7,528.6ZM1482.7,706.9L1482.7,701.7L1474.7,704.3L1474.7,709.8ZM1482.7,533.7L1482.7,529.2L1474.7,528.6L1474.7,533.5ZM1490.7,682.5L1490.7,678.7L1482.7,701.7L1482.7,706.9ZM1487.4,513.8L1486.4,513.8L1482.7,529.2L1482.7,533.7ZM1486.4,513.8L1487.4,513.8L1490.7,504.3L1490.7,501.2ZM1498.6,693.1L1498.6,685.3L1490.7,678.7L1490.7,682.5ZM1498.6,506.6L1498.6,501.7L1490.7,501.2L1490.7,504.3ZM1502.3,646.3L1501.7,646.3L1498.6,685.3L1498.6,693.1ZM1501.7,646.3L1502.3,646.3L1502.6,580.1L1502.1,580.1ZM1502.1,580.1L1502.6,580.1L1499.5,513.8L1499.1,513.8ZM1499.1,513.8L1499.5,513.8L1498.6,501.7L1498.6,506.6ZM1522.6,719.3L1522.6,714.8L1522.4,712.6L1522.2,712.6ZM1522.2,712.6L1522.4,712.6L1522.3,646.3L1522.0,646.3ZM1522.0,646.3L1522.3,646.3L1522.6,629.8L1522.6,613.2ZM1523.3,712.6L1522.8,712.6L1522.6,714.8L1522.6,719.3ZM1522.8,712.6L1523.3,712.6L1523.6,646.3L1523.1,646.3ZM1523.1,646.3L1523.6,646.3L1522.6,613.2L1522.6,629.8ZM1538.5,667.6L1538.5,665.1L1535.9,646.3L1535.5,646.3ZM1535.5,646.3L1535.9,646.3L1535.2,580.1L1534.8,580.1ZM1534.8,580.1L1535.2,580.1L1537.8,513.8L1537.6,513.8ZM1537.6,513.8L1537.8,513.8L1538.5,498.7L1538.5,495.5ZM1546.5,719.3L1546.5,715.6L1546.2,712.6L1545.8,712.6ZM1545.8,712.6L1546.2,712.6L1538.5,665.1L1538.5,667.6ZM1546.5,560.8L1546.5,554.4L1542.3,513.8L1541.6,513.8ZM1541.6,513.8L1542.3,513.8L1538.5,495.5L1538.5,498.7ZM1547.4,712.6L1546.9,712.6L1546.5,715.6L1546.5,719.3ZM1546.9,712.6L1547.4,712.6L1551.3,646.3L1550.2,646.3ZM1550.2,646.3L1551.3,646.3L1550.0,580.1L1549.2,580.1ZM1549.2,580.1L1550.0,580.1L1546.5,554.4L1546.5,560.8ZM1562.5,674.3L1562.5,671.2L1557.1,646.3L1556.5,646.3ZM1556.5,646.3L1557.1,646.3L1557.8,580.1L1557.2,580.1ZM1557.2,580.1L1557.8,580.1L1561.7,513.8L1561.4,513.8ZM1561.4,513.8L1561.7,513.8L1562.5,507.1L1562.5,503.6ZM1570.4,717.5L1570.4,714.2L1570.1,712.6L1569.6,712.6ZM1569.6,712.6L1570.1,712.6L1562.5,671.2L1562.5,674.3ZM1570.4,534.3L1570.4,527.2L1567.3,513.8L1565.6,513.8ZM1565.6,513.8L1567.3,513.8L1562.5,503.6L1562.5,507.1ZM1571.3,712.6L1570.7,712.6L1570.4,714.2L1570.4,717.5ZM1570.7,712.6L1571.3,712.6L1575.0,646.3L1574.2,646.3ZM1574.2,646.3L1575.0,646.3L1575.6,580.1L1574.9,580.1ZM1574.9,580.1L1575.6,580.1L1570.4,527.2L1570.4,534.3ZM1586.4,673.8L1586.4,670.6L1581.6,646.3L1581.0,646.3ZM1581.0,646.3L1581.6,646.3L1581.3,580.1L1580.7,580.1ZM1580.7,580.1L1581.3,580.1L1585.5,513.8L1585.1,513.8ZM1585.1,513.8L1585.5,513.8L1586.4,505.5L1586.4,501.9ZM1594.4,717.2L1594.4,714.2L1594.1,712.6L1593.5,712.6ZM1593.5,712.6L1594.1,712.6L1586.4,670.6L1586.4,673.8ZM1594.4,543.7L1594.4,536.4L1590.5,513.8L1589.3,513.8ZM1589.3,513.8L1590.5,513.8L1586.4,501.9L1586.4,505.5ZM1595.4,712.6L1594.7,712.6L1594.4,714.2L1594.4,717.2ZM1594.7,712.6L1595.4,712.6L1598.7,646.3L1598.0,646.3ZM1598.0,646.3L1598.7,646.3L1598.7,580.1L1598.0,580.1ZM1598.0,580.1L1598.7,580.1L1594.4,536.4L1594.4,543.7ZM1610.3,677.8L1610.3,672.1L1606.9,646.3L1606.1,646.3ZM1606.1,646.3L1606.9,646.3L1607.1,580.1L1606.3,580.1ZM1606.3,580.1L1607.1,580.1L1610.3,527.1L1610.3,513.8ZM1618.3,672.8L1618.3,668.7L1610.3,672.1L1610.3,677.8ZM1612.3,513.8L1610.3,513.8L1610.3,527.1ZM1610.3,513.8L1612.3,513.8L1618.3,500.9L1618.3,496.6ZM1621.6,646.3L1621.1,646.3L1618.3,668.7L1618.3,672.8ZM1621.1,646.3L1621.6,646.3L1624.4,580.1L1623.8,580.1ZM1623.8,580.1L1624.4,580.1L1619.8,513.8L1619.4,513.8ZM1619.4,513.8L1619.8,513.8L1618.3,496.6L1618.3,500.9ZM1634.2,646.3L1634.2,624.3L1631.6,580.1L1630.3,580.1ZM1630.3,580.1L1631.6,580.1L1634.2,561.2L1634.2,551.7ZM1642.2,657.7L1642.2,655.8L1635.6,646.3L1634.2,646.3ZM1634.2,646.3L1635.6,646.3L1634.2,624.3ZM1638.2,513.8L1637.4,513.8L1634.2,551.7L1634.2,561.2ZM1637.4,513.8L1638.2,513.8L1642.2,494.9L1642.2,491.3ZM1647.0,646.3L1646.2,646.3L1642.2,655.8L1642.2,657.7ZM1646.2,646.3L1647.0,646.3L1648.9,580.1L1648.3,580.1ZM1648.3,580.1L1648.9,580.1L1644.2,513.8L1643.9,513.8ZM1643.9,513.8L1644.2,513.8L1642.2,491.3L1642.2,494.9ZM1658.2,679.5L1658.2,674.0L1654.2,646.3L1653.4,646.3ZM1653.4,646.3L1654.2,646.3L1653.6,580.1L1652.5,580.1ZM1652.5,580.1L1653.6,580.1L1658.2,527.1L1658.2,513.8ZM1666.2,660.2L1666.2,657.1L1658.2,674.0L1658.2,679.5ZM1659.7,513.8L1658.2,513.8L1658.2,527.1ZM1658.2,513.8L1659.7,513.8L1666.2,498.9L1666.2,495.3ZM1669.0,646.3L1668.4,646.3L1666.2,657.1L1666.2,660.2ZM1668.4,646.3L1669.0,646.3L1671.3,580.1L1670.7,580.1ZM1670.7,580.1L1671.3,580.1L1668.4,513.8L1668.0,513.8ZM1668.0,513.8L1668.4,513.8L1666.2,495.3L1666.2,498.9ZM1690.1,658.1L1690.1,655.1L1687.1,646.3L1686.1,646.3ZM1686.1,646.3L1687.1,646.3L1686.5,580.1L1686.0,580.1ZM1686.0,580.1L1686.5,580.1L1688.1,513.8L1687.6,513.8ZM1687.6,513.8L1688.1,513.8L1690.1,504.9L1690.1,502.2ZM1695.4,646.3L1694.1,646.3L1690.1,655.1L1690.1,658.1ZM1694.1,646.3L1695.4,646.3L1696.2,580.1L1695.4,580.1ZM1695.4,580.1L1696.2,580.1L1692.7,513.8L1692.1,513.8ZM1692.1,513.8L1692.7,513.8L1690.1,502.2L1690.1,504.9ZM1714.0,651.9L1714.0,649.1L1711.7,646.3L1709.5,646.3ZM1709.5,646.3L1711.7,646.3L1708.6,580.1L1707.7,580.1ZM1707.7,580.1L1708.6,580.1L1709.1,513.8L1707.6,513.8ZM1707.6,513.8L1709.1,513.8L1714.0,503.2L1714.0,500.1ZM1715.9,646.3L1715.0,646.3L1714.0,649.1L1714.0,651.9ZM1715.0,646.3L1715.9,646.3L1718.4,580.1L1717.9,580.1ZM1717.9,580.1L1718.4,580.1L1715.5,513.8L1715.1,513.8ZM1715.1,513.8L1715.5,513.8L1714.0,500.1L1714.0,503.2ZM1737.9,652.7L1737.9,649.5L1737.6,646.3L1737.4,646.3ZM1737.4,646.3L1737.6,646.3L1736.7,580.1L1736.4,580.1ZM1736.4,580.1L1736.7,580.1L1737.6,513.8L1737.4,513.8ZM1737.4,513.8L1737.6,513.8L1737.9,510.3L1737.9,507.9ZM1739.9,646.3L1738.9,646.3L1737.9,649.5L1737.9,652.7ZM1738.9,646.3L1739.9,646.3L1741.6,580.1L1741.0,580.1ZM1741.0,580.1L1741.6,580.1L1738.8,513.8L1738.5,513.8ZM1738.5,513.8L1738.8,513.8L1737.9,507.9L1737.9,510.3ZM1761.9,646.3L1761.9,631.6L1760.9,580.1L1760.7,580.1ZM1760.7,580.1L1760.9,580.1L1761.5,513.8L1761.2,513.8ZM1761.2,513.8L1761.5,513.8L1761.9,507.8L1761.9,504.4ZM1761.9,646.3L1765.1,580.1L1764.4,580.1L1761.9,631.6ZM1764.4,580.1L1765.1,580.1L1762.9,513.8L1762.6,513.8ZM1762.6,513.8L1762.9,513.8L1761.9,504.4L1761.9,507.8Z"/>
<path fill="#BDC400" d="M1466.7,690.5L1466.7,646.3L1466.6,646.3ZM1466.6,646.3L1466.7,646.3L1466.7,624.3ZM1474.7,704.3L1474.7,698.8L1466.7,646.3L1466.7,690.5ZM1466.7,646.3L1468.8,580.1L1468.1,580.1L1466.7,624.3ZM1468.1,580.1L1468.8,580.1L1474.7,538.4L1474.7,533.5ZM1482.7,701.7L1482.7,696.4L1474.7,698.8L1474.7,704.3ZM1482.7,538.2L1482.7,533.7L1474.7,533.5L1474.7,538.4ZM1490.7,678.7L1490.7,674.9L1482.7,696.4L1482.7,701.7ZM1488.5,513.8L1487.4,513.8L1482.7,533.7L1482.7,538.2ZM1487.4,513.8L1488.5,513.8L1490.7,507.5L1490.7,504.3ZM1498.6,685.3L1498.6,677.5L1490.7,674.9L1490.7,678.7ZM1498.6,511.4L1498.6,506.6L1490.7,504.3L1490.7,507.5ZM1501.7,646.3L1501.1,646.3L1498.6,677.5L1498.6,685.3ZM1501.1,646.3L1501.7,646.3L1502.1,580.1L1501.5,580.1ZM1501.5,580.1L1502.1,580.1L1499.1,513.8L1498.8,513.8ZM1498.8,513.8L1499.1,513.8L1498.6,506.6L1498.6,511.4ZM1522.6,714.8L1522.6,712.6L1522.4,712.6ZM1522.4,712.6L1522.6,712.6L1522.6,646.3L1522.3,646.3ZM1522.3,646.3L1522.6,646.3L1522.6,629.8ZM1522.8,712.6L1522.6,712.6L1522.6,714.8ZM1522.6,712.6L1522.8,712.6L1523.1,646.3L1522.6,646.3ZM1522.6,646.3L1523.1,646.3L1522.6,629.8ZM1538.5,665.1L1538.5,662.6L1536.2,646.3L1535.9,646.3ZM1535.9,646.3L1536.2,646.3L1535.5,580.1L1535.2,580.1ZM1535.2,580.1L1535.5,580.1L1537.9,513.8L1537.8,513.8ZM1537.8,513.8L1537.9,513.8L1538.5,501.9L1538.5,498.7ZM1546.5,715.6L1546.5,712.6L1546.2,712.6ZM1546.2,712.6L1546.5,712.6L1546.5,707.7L1538.5,662.6L1538.5,665.1ZM1546.5,567.2L1546.5,560.8L1541.6,513.8L1541.0,513.8ZM1541.0,513.8L1541.6,513.8L1538.5,498.7L1538.5,501.9ZM1546.9,712.6L1546.5,712.6L1546.5,715.6ZM1546.5,712.6L1546.9,712.6L1550.2,646.3L1549.2,646.3L1546.5,707.7ZM1549.2,646.3L1550.2,646.3L1549.2,580.1L1548.3,580.1ZM1548.3,580.1L1549.2,580.1L1546.5,560.8L1546.5,567.2ZM1562.5,671.2L1562.5,668.1L1557.8,646.3L1557.1,646.3ZM1557.1,646.3L1557.8,646.3L1558.3,580.1L1557.8,580.1ZM1557.8,580.1L1558.3,580.1L1562.1,513.8L1561.7,513.8ZM1561.7,513.8L1562.1,513.8L1562.5,510.6L1562.5,507.1ZM1570.4,714.2L1570.4,712.6L1570.1,712.6ZM1570.1,712.6L1570.4,712.6L1570.4,704.3L1562.5,668.1L1562.5,671.2ZM1570.4,541.3L1570.4,534.3L1565.6,513.8L1564.0,513.8ZM1564.0,513.8L1565.6,513.8L1562.5,507.1L1562.5,510.6ZM1570.7,712.6L1570.4,712.6L1570.4,714.2ZM1570.4,712.6L1570.7,712.6L1574.2,646.3L1573.4,646.3L1570.4,704.3ZM1573.4,646.3L1574.2,646.3L1574.9,580.1L1574.2,580.1ZM1574.2,580.1L1574.9,580.1L1570.4,534.3L1570.4,541.3ZM1586.4,670.6L1586.4,667.4L1582.2,646.3L1581.6,646.3ZM1581.6,646.3L1582.2,646.3L1581.8,580.1L1581.3,580.1ZM1581.3,580.1L1581.8,580.1L1585.9,513.8L1585.5,513.8ZM1585.5,513.8L1585.9,513.8L1586.4,509.1L1586.4,505.5ZM1594.4,714.2L1594.4,712.6L1594.1,712.6ZM1594.1,712.6L1594.4,712.6L1594.4,705.2L1586.4,667.4L1586.4,670.6ZM1594.4,551.0L1594.4,543.7L1589.3,513.8L1588.0,513.8ZM1588.0,513.8L1589.3,513.8L1586.4,505.5L1586.4,509.1ZM1594.7,712.6L1594.4,712.6L1594.4,714.2ZM1594.4,712.6L1594.7,712.6L1598.0,646.3L1597.3,646.3L1594.4,705.2ZM1597.3,646.3L1598.0,646.3L1598.0,580.1L1597.3,580.1ZM1597.3,580.1L1598.0,580.1L1594.4,543.7L1594.4,551.0ZM1610.3,672.1L1610.3,666.3L1607.7,646.3L1606.9,646.3ZM1606.9,646.3L1607.7,646.3L1607.9,580.1L1607.1,580.1ZM1607.1,580.1L1607.9,580.1L1610.3,540.3L1610.3,527.1ZM1618.3,668.7L1618.3,664.6L1610.3,666.3L1610.3,672.1ZM1614.3,513.8L1612.3,513.8L1610.3,527.1L1610.3,540.3ZM1612.3,513.8L1614.3,513.8L1618.3,505.2L1618.3,500.9ZM1621.1,646.3L1620.6,646.3L1618.3,664.6L1618.3,668.7ZM1620.6,646.3L1621.1,646.3L1623.8,580.1L1623.2,580.1ZM1623.2,580.1L1623.8,580.1L1619.4,513.8L1619.1,513.8ZM1619.1,513.8L1619.4,513.8L1618.3,500.9L1618.3,505.2ZM1634.2,624.3L1634.2,602.2L1632.9,580.1L1631.6,580.1ZM1631.6,580.1L1632.9,580.1L1634.2,570.6L1634.2,561.2ZM1642.2,655.8L1642.2,653.9L1636.9,646.3L1635.6,646.3ZM1635.6,646.3L1636.9,646.3L1634.2,602.2L1634.2,624.3ZM1638.9,513.8L1638.2,513.8L1634.2,561.2L1634.2,570.6ZM1638.2,513.8L1638.9,513.8L1642.2,498.5L1642.2,494.9ZM1646.2,646.3L1645.4,646.3L1642.2,653.9L1642.2,655.8ZM1645.4,646.3L1646.2,646.3L1648.3,580.1L1647.6,580.1ZM1647.6,580.1L1648.3,580.1L1643.9,513.8L1643.6,513.8ZM1643.6,513.8L1643.9,513.8L1642.2,494.9L1642.2,498.5ZM1658.2,674.0L1658.2,668.4L1655.0,646.3L1654.2,646.3ZM1654.2,646.3L1655.0,646.3L1654.8,580.1L1653.6,580.1ZM1653.6,580.1L1654.8,580.1L1658.2,540.3L1658.2,527.1ZM1666.2,657.1L1666.2,654.1L1658.2,668.4L1658.2,674.0ZM1661.3,513.8L1659.7,513.8L1658.2,527.1L1658.2,540.3ZM1659.7,513.8L1661.3,513.8L1666.2,502.5L1666.2,498.9ZM1668.4,646.3L1667.7,646.3L1666.2,654.1L1666.2,657.1ZM1667.7,646.3L1668.4,646.3L1670.7,580.1L1670.1,580.1ZM1670.1,580.1L1670.7,580.1L1668.0,513.8L1667.5,513.8ZM1667.5,513.8L1668.0,513.8L1666.2,498.9L1666.2,502.5ZM1690.1,655.1L1690.1,652.2L1688.1,646.3L1687.1,646.3ZM1687.1,646.3L1688.1,646.3L1687.0,580.1L1686.5,580.1ZM1686.5,580.1L1687.0,580.1L1688.7,513.8L1688.1,513.8ZM1688.1,513.8L1688.7,513.8L1690.1,507.5L1690.1,504.9ZM1694.1,646.3L1692.7,646.3L1690.1,652.2L1690.1,655.1ZM1692.7,646.3L1694.1,646.3L1695.4,580.1L1694.6,580.1ZM1694.6,580.1L1695.4,580.1L1692.1,513.8L1691.5,513.8ZM1691.5,513.8L1692.1,513.8L1690.1,504.9L1690.1,507.5ZM1714.0,649.1L1714.0,646.3L1711.7,646.3ZM1711.7,646.3L1714.0,646.3L1709.4,580.1L1708.6,580.1ZM1708.6,580.1L1709.4,580.1L1710.5,513.8L1709.1,513.8ZM1709.1,513.8L1710.5,513.8L1714.0,506.3L1714.0,503.2ZM1715.0,646.3L1714.0,646.3L1714.0,649.1ZM1714.0,646.3L1715.0,646.3L1717.9,580.1L1717.3,580.1ZM1717.3,580.1L1717.9,580.1L1715.1,513.8L1714.8,513.8ZM1714.8,513.8L1715.1,513.8L1714.0,503.2L1714.0,506.3ZM1737.9,649.5L1737.9,646.3L1737.6,646.3ZM1737.6,646.3L1737.9,646.3L1736.9,580.1L1736.7,580.1ZM1736.7,580.1L1736.9,580.1L1737.8,513.8L1737.6,513.8ZM1737.6,513.8L1737.8,513.8L1737.9,512.6L1737.9,510.3ZM1738.9,646.3L1737.9,646.3L1737.9,649.5ZM1737.9,646.3L1738.9,646.3L1741.0,580.1L1740.4,580.1ZM1740.4,580.1L1741.0,580.1L1738.5,513.8L1738.1,513.8ZM1738.1,513.8L1738.5,513.8L1737.9,510.3L1737.9,512.6ZM1761.9,631.6L1761.9,616.9L1761.2,580.1L1760.9,580.1ZM1760.9,580.1L1761.2,580.1L1761.7,513.8L1761.5,513.8ZM1761.5,513.8L1761.7,513.8L1761.9,511.1L1761.9,507.8ZM1764.4,580.1L1763.7,580.1L1761.9,616.9L1761.9,631.6ZM1763.7,580.1L1764.4,580.1L1762.6,513.8L1762.2,513.8ZM1762.2,513.8L1762.6,513.8L1761.9,507.8L1761.9,511.1Z"/>
<path fill="#CCB800" d="M1474.7,698.8L1474.7,693.3L1467.6,646.3L1466.7,646.3ZM1466.7,646.3L1467.6,646.3L1469.5,580.1L1468.8,580.1ZM1468.8,580.1L1469.5,580.1L1474.7,543.3L1474.7,538.4ZM1482.7,696.4L1482.7,691.2L1474.7,693.3L1474.7,698.8ZM1482.7,542.7L1482.7,538.2L1474.7,538.4L1474.7,543.3ZM1490.7,674.9L1490.7,671.1L1482.7,691.2L1482.7,696.4ZM1489.6,513.8L1488.5,513.8L1482.7,538.2L1482.7,542.7ZM1488.5,513.8L1489.6,513.8L1490.7,510.7L1490.7,507.5ZM1498.6,677.5L1498.6,669.7L1490.7,671.1L1490.7,674.9ZM1498.6,521.2L1498.6,513.8L1496.0,513.8ZM1496.0,513.8L1498.6,513.8L1498.6,511.4L1490.7,507.5L1490.7,510.7ZM1501.1,646.3L1500.5,646.3L1498.6,669.7L1498.6,677.5ZM1500.5,646.3L1501.1,646.3L1501.5,580.1L1500.9,580.1ZM1500.9,580.1L1501.5,580.1L1498.8,513.8L1498.6,513.8L1498.6,521.2ZM1498.6,513.8L1498.8,513.8L1498.6,511.4ZM1538.5,662.6L1538.5,660.1L1536.6,646.3L1536.2,646.3ZM1536.2,646.3L1536.6,646.3L1535.9,580.1L1535.5,580.1ZM1535.5,580.1L1535.9,580.1L1538.1,513.8L1537.9,513.8ZM1537.9,513.8L1538.1,513.8L1538.5,505.1L1538.5,501.9ZM1546.5,707.7L1546.5,683.2L1538.5,660.1L1538.5,662.6ZM1546.5,573.7L1546.5,567.2L1541.0,513.8L1540.3,513.8ZM1540.3,513.8L1541.0,513.8L1538.5,501.9L1538.5,505.1ZM1549.2,646.3L1548.1,646.3L1546.5,683.2L1546.5,707.7ZM1548.1,646.3L1549.2,646.3L1548.3,580.1L1547.4,580.1ZM1547.4,580.1L1548.3,580.1L1546.5,567.2L1546.5,573.7ZM1562.5,668.1L1562.5,665.0L1558.5,646.3L1557.8,646.3ZM1557.8,646.3L1558.5,646.3L1558.9,580.1L1558.3,580.1ZM1558.3,580.1L1558.9,580.1L1562.5,514.8L1562.5,513.8L1562.1,513.8ZM1562.1,513.8L1562.5,513.8L1562.5,510.6ZM1570.4,704.3L1570.4,687.8L1562.5,665.0L1562.5,668.1ZM1570.4,548.4L1570.4,541.3L1564.0,513.8L1562.5,513.8L1562.5,514.8ZM1562.5,513.8L1564.0,513.8L1562.5,510.6ZM1573.4,646.3L1572.5,646.3L1570.4,687.8L1570.4,704.3ZM1572.5,646.3L1573.4,646.3L1574.2,580.1L1573.6,580.1ZM1573.6,580.1L1574.2,580.1L1570.4,541.3L1570.4,548.4ZM1586.4,667.4L1586.4,664.1L1582.9,646.3L1582.2,646.3ZM1582.2,646.3L1582.9,646.3L1582.4,580.1L1581.8,580.1ZM1581.8,580.1L1582.4,580.1L1586.3,513.8L1585.9,513.8ZM1585.9,513.8L1586.3,513.8L1586.4,512.7L1586.4,509.1ZM1594.4,705.2L1594.4,690.5L1586.4,664.1L1586.4,667.4ZM1594.4,558.2L1594.4,551.0L1588.0,513.8L1586.8,513.8ZM1586.8,513.8L1588.0,513.8L1586.4,509.1L1586.4,512.7ZM1597.3,646.3L1596.5,646.3L1594.4,690.5L1594.4,705.2ZM1596.5,646.3L1597.3,646.3L1597.3,580.1L1596.5,580.1ZM1596.5,580.1L1597.3,580.1L1594.4,551.0L1594.4,558.2ZM1610.3,666.3L1610.3,660.6L1608.4,646.3L1607.7,646.3ZM1607.7,646.3L1608.4,646.3L1608.7,580.1L1607.9,580.1ZM1607.9,580.1L1608.7,580.1L1610.3,553.6L1610.3,540.3ZM1618.3,664.6L1618.3,660.6L1610.3,660.6L1610.3,666.3ZM1616.3,513.8L1614.3,513.8L1610.3,540.3L1610.3,553.6ZM1614.3,513.8L1616.3,513.8L1618.3,509.5L1618.3,505.2ZM1620.6,646.3L1620.1,646.3L1618.3,660.6L1618.3,664.6ZM1620.1,646.3L1620.6,646.3L1623.2,580.1L1622.6,580.1ZM1622.6,580.1L1623.2,580.1L1619.1,513.8L1618.7,513.8ZM1618.7,513.8L1619.1,513.8L1618.3,505.2L1618.3,509.5ZM1634.2,602.2L1634.2,580.1L1632.9,580.1ZM1632.9,580.1L1634.2,580.1L1634.2,570.6ZM1642.2,653.9L1642.2,652.0L1638.2,646.3L1636.9,646.3ZM1636.9,646.3L1638.2,646.3L1634.2,580.1L1634.2,602.2ZM1634.2,580.1L1639.7,513.8L1638.9,513.8L1634.2,570.6ZM1638.9,513.8L1639.7,513.8L1642.2,502.2L1642.2,498.5ZM1645.4,646.3L1644.6,646.3L1642.2,652.0L1642.2,653.9ZM1644.6,646.3L1645.4,646.3L1647.6,580.1L1647.0,580.1ZM1647.0,580.1L1647.6,580.1L1643.6,513.8L1643.2,513.8ZM1643.2,513.8L1643.6,513.8L1642.2,498.5L1642.2,502.2ZM1658.2,668.4L1658.2,662.9L1655.8,646.3L1655.0,646.3ZM1655.0,646.3L1655.8,646.3L1655.9,580.1L1654.8,580.1ZM1654.8,580.1L1655.9,580.1L1658.2,553.6L1658.2,540.3ZM1666.2,654.1L1666.2,651.0L1658.2,662.9L1658.2,668.4ZM1662.9,513.8L1661.3,513.8L1658.2,540.3L1658.2,553.6ZM1661.3,513.8L1662.9,513.8L1666.2,506.2L1666.2,502.5ZM1667.7,646.3L1667.1,646.3L1666.2,651.0L1666.2,654.1ZM1667.1,646.3L1667.7,646.3L1670.1,580.1L1669.6,580.1ZM1669.6,580.1L1670.1,580.1L1667.5,513.8L1667.1,513.8ZM1667.1,513.8L1667.5,513.8L1666.2,502.5L1666.2,506.2ZM1690.1,652.2L1690.1,649.3L1689.1,646.3L1688.1,646.3ZM1688.1,646.3L1689.1,646.3L1687.5,580.1L1687.0,580.1ZM1687.0,580.1L1687.5,580.1L1689.3,513.8L1688.7,513.8ZM1688.7,513.8L1689.3,513.8L1690.1,510.1L1690.1,507.5ZM1692.7,646.3L1691.4,646.3L1690.1,649.3L1690.1,652.2ZM1691.4,646.3L1692.7,646.3L1694.6,580.1L1693.9,580.1ZM1693.9,580.1L1694.6,580.1L1691.5,513.8L1690.9,513.8ZM1690.9,513.8L1691.5,513.8L1690.1,507.5L1690.1,510.1ZM1714.0,646.3L1714.0,634.3L1710.2,580.1L1709.4,580.1ZM1709.4,580.1L1710.2,580.1L1712.0,513.8L1710.5,513.8ZM1710.5,513.8L1712.0,513.8L1714.0,509.4L1714.0,506.3ZM1714.0,646.3L1717.3,580.1L1716.7,580.1L1714.0,634.3ZM1716.7,580.1L1717.3,580.1L1714.8,513.8L1714.5,513.8ZM1714.5,513.8L1714.8,513.8L1714.0,506.3L1714.0,509.4ZM1737.9,646.3L1737.9,629.8L1737.2,580.1L1736.9,580.1ZM1736.9,580.1L1737.2,580.1L1737.9,523.3L1737.9,513.8L1737.8,513.8ZM1737.8,513.8L1737.9,513.8L1737.9,512.6ZM1737.9,646.3L1740.4,580.1L1739.8,580.1L1737.9,629.8ZM1739.8,580.1L1740.4,580.1L1738.1,513.8L1737.9,513.8L1737.9,523.3ZM1737.9,513.8L1738.1,513.8L1737.9,512.6ZM1761.9,616.9L1761.9,602.2L1761.5,580.1L1761.2,580.1ZM1761.2,580.1L1761.5,580.1L1761.9,521.6L1761.9,513.8L1761.7,513.8ZM1761.7,513.8L1761.9,513.8L1761.9,511.1ZM1763.7,580.1L1763.0,580.1L1761.9,602.2L1761.9,616.9ZM1763.0,580.1L1763.7,580.1L1762.2,513.8L1761.9,513.8L1761.9,521.6ZM1761.9,513.8L1762.2,513.8L1761.9,511.1Z"/>
<path fill="#FFE680" d="M1474.7,693.3L1474.7,687.8L1468.4,646.3L1467.6,646.3ZM1467.6,646.3L1468.4,646.3L1470.2,580.1L1469.5,580.1ZM1469.5,580.1L1470.2,580.1L1474.7,548.2L1474.7,543.3ZM1482.7,691.2L1482.7,686.0L1474.7,687.8L1474.7,693.3ZM1482.7,547.2L1482.7,542.7L1474.7,543.3L1474.7,548.2ZM1490.7,671.1L1490.7,667.3L1482.7,686.0L1482.7,691.2ZM1490.7,513.8L1489.6,513.8L1482.7,542.7L1482.7,547.2ZM1489.6,513.8L1490.7,513.8L1490.7,510.7ZM1498.6,669.7L1498.6,661.9L1490.7,667.3L1490.7,671.1ZM1498.6,535.9L1498.6,521.2L1496.0,513.8L1490.7,513.8ZM1490.7,513.8L1496.0,513.8L1490.7,510.7ZM1500.5,646.3L1499.9,646.3L1498.6,661.9L1498.6,669.7ZM1499.9,646.3L1500.5,646.3L1500.9,580.1L1500.4,580.1ZM1500.4,580.1L1500.9,580.1L1498.6,521.2L1498.6,535.9ZM1538.5,660.1L1538.5,657.6L1536.9,646.3L1536.6,646.3ZM1536.6,646.3L1536.9,646.3L1536.2,580.1L1535.9,580.1ZM1535.9,580.1L1536.2,580.1L1538.2,513.8L1538.1,513.8ZM1538.1,513.8L1538.2,513.8L1538.5,508.4L1538.5,505.1ZM1546.5,683.2L1546.5,658.6L1538.5,657.6L1538.5,660.1ZM1546.5,580.1L1546.5,573.7L1540.3,513.8L1539.7,513.8ZM1539.7,513.8L1540.3,513.8L1538.5,505.1L1538.5,508.4ZM1548.1,646.3L1547.0,646.3L1546.5,658.6L1546.5,683.2ZM1547.0,646.3L1548.1,646.3L1547.4,580.1L1546.5,580.1ZM1546.5,580.1L1547.4,580.1L1546.5,573.7ZM1562.5,665.0L1562.5,661.9L1559.1,646.3L1558.5,646.3ZM1558.5,646.3L1559.1,646.3L1559.4,580.1L1558.9,580.1ZM1558.9,580.1L1559.4,580.1L1562.5,524.9L1562.5,514.8ZM1570.4,687.8L1570.4,671.2L1562.5,661.9L1562.5,665.0ZM1570.4,555.4L1570.4,548.4L1562.5,514.8L1562.5,524.9ZM1572.5,646.3L1571.7,646.3L1570.4,671.2L1570.4,687.8ZM1571.7,646.3L1572.5,646.3L1573.6,580.1L1572.9,580.1ZM1572.9,580.1L1573.6,580.1L1570.4,548.4L1570.4,555.4ZM1586.4,664.1L1586.4,660.9L1583.5,646.3L1582.9,646.3ZM1582.9,646.3L1583.5,646.3L1583.0,580.1L1582.4,580.1ZM1582.4,580.1L1583.0,580.1L1586.4,520.7L1586.4,513.8L1586.3,513.8ZM1586.3,513.8L1586.4,513.8L1586.4,512.7ZM1594.4,690.5L1594.4,675.8L1586.4,660.9L1586.4,664.1ZM1594.4,565.5L1594.4,558.2L1586.8,513.8L1586.4,513.8L1586.4,520.7ZM1586.4,513.8L1586.8,513.8L1586.4,512.7ZM1596.5,646.3L1595.8,646.3L1594.4,675.8L1594.4,690.5ZM1595.8,646.3L1596.5,646.3L1596.5,580.1L1595.8,580.1ZM1595.8,580.1L1596.5,580.1L1594.4,558.2L1594.4,565.5ZM1610.3,660.6L1610.3,654.9L1609.2,646.3L1608.4,646.3ZM1608.4,646.3L1609.2,646.3L1609.5,580.1L1608.7,580.1ZM1608.7,580.1L1609.5,580.1L1610.3,566.8L1610.3,553.6ZM1618.3,660.6L1618.3,656.5L1610.3,654.9L1610.3,660.6ZM1618.3,513.8L1616.3,513.8L1610.3,553.6L1610.3,566.8ZM1616.3,513.8L1618.3,513.8L1618.3,509.5ZM1620.1,646.3L1619.6,646.3L1618.3,656.5L1618.3,660.6ZM1619.6,646.3L1620.1,646.3L1622.6,580.1L1622.0,580.1ZM1622.0,580.1L1622.6,580.1L1618.7,513.8L1618.3,513.8ZM1618.3,513.8L1618.7,513.8L1618.3,509.5ZM1642.2,652.0L1642.2,650.1L1639.6,646.3L1638.2,646.3ZM1638.2,646.3L1639.6,646.3L1635.3,580.1L1634.2,580.1ZM1634.2,580.1L1635.3,580.1L1640.5,513.8L1639.7,513.8ZM1639.7,513.8L1640.5,513.8L1642.2,505.8L1642.2,502.2ZM1644.6,646.3L1643.8,646.3L1642.2,650.1L1642.2,652.0ZM1643.8,646.3L1644.6,646.3L1647.0,580.1L1646.4,580.1ZM1646.4,580.1L1647.0,580.1L1643.2,513.8L1642.9,513.8ZM1642.9,513.8L1643.2,513.8L1642.2,502.2L1642.2,505.8ZM1658.2,662.9L1658.2,657.4L1656.6,646.3L1655.8,646.3ZM1655.8,646.3L1656.6,646.3L1657.0,580.1L1655.9,580.1ZM1655.9,580.1L1657.0,580.1L1658.2,566.8L1658.2,553.6ZM1666.2,651.0L1666.2,647.9L1658.2,657.4L1658.2,662.9ZM1664.4,513.8L1662.9,513.8L1658.2,553.6L1658.2,566.8ZM1662.9,513.8L1664.4,513.8L1666.2,509.8L1666.2,506.2ZM1667.1,646.3L1666.5,646.3L1666.2,647.9L1666.2,651.0ZM1666.5,646.3L1667.1,646.3L1669.6,580.1L1669.0,580.1ZM1669.0,580.1L1669.6,580.1L1667.1,513.8L1666.6,513.8ZM1666.6,513.8L1667.1,513.8L1666.2,506.2L1666.2,509.8ZM1690.1,649.3L1690.1,646.3L1689.1,646.3ZM1689.1,646.3L1690.1,646.3L1688.0,580.1L1687.5,580.1ZM1687.5,580.1L1688.0,580.1L1689.9,513.8L1689.3,513.8ZM1689.3,513.8L1689.9,513.8L1690.1,512.8L1690.1,510.1ZM1691.4,646.3L1690.1,646.3L1690.1,649.3ZM1690.1,646.3L1691.4,646.3L1693.9,580.1L1693.1,580.1ZM1693.1,580.1L1693.9,580.1L1690.9,513.8L1690.3,513.8ZM1690.3,513.8L1690.9,513.8L1690.1,510.1L1690.1,512.8ZM1714.0,634.3L1714.0,622.3L1711.1,580.1L1710.2,580.1ZM1710.2,580.1L1711.1,580.1L1713.4,513.8L1712.0,513.8ZM1712.0,513.8L1713.4,513.8L1714.0,512.6L1714.0,509.4ZM1716.7,580.1L1716.1,580.1L1714.0,622.3L1714.0,634.3ZM1716.1,580.1L1716.7,580.1L1714.5,513.8L1714.1,513.8ZM1714.1,513.8L1714.5,513.8L1714.0,509.4L1714.0,512.6ZM1737.9,629.8L1737.9,613.2L1737.4,580.1L1737.2,580.1ZM1737.2,580.1L1737.4,580.1L1737.9,542.2L1737.9,523.3ZM1739.8,580.1L1739.2,580.1L1737.9,613.2L1737.9,629.8ZM1739.2,580.1L1739.8,580.1L1737.9,523.3L1737.9,542.2ZM1761.9,602.2L1761.9,587.4L1761.7,580.1L1761.5,580.1ZM1761.5,580.1L1761.7,580.1L1761.9,560.6L1761.9,521.6ZM1763.0,580.1L1762.2,580.1L1761.9,587.4L1761.9,602.2ZM1762.2,580.1L1763.0,580.1L1761.9,521.6L1761.9,560.6Z"/>
<path fill="#FFD871" d="M1474.7,687.8L1474.7,682.2L1469.3,646.3L1468.4,646.3ZM1468.4,646.3L1469.3,646.3L1470.9,580.1L1470.2,580.1ZM1470.2,580.1L1470.9,580.1L1474.7,553.1L1474.7,548.2ZM1482.7,686.0L1482.7,680.8L1474.7,682.2L1474.7,687.8ZM1482.7,551.7L1482.7,547.2L1474.7,548.2L1474.7,553.1ZM1490.7,667.3L1490.7,663.5L1482.7,680.8L1482.7,686.0ZM1490.7,521.4L1490.7,513.8L1482.7,547.2L1482.7,551.7ZM1498.6,661.9L1498.6,654.1L1490.7,663.5L1490.7,667.3ZM1498.6,550.6L1498.6,535.9L1490.7,513.8L1490.7,521.4ZM1499.9,646.3L1499.3,646.3L1498.6,654.1L1498.6,661.9ZM1499.3,646.3L1499.9,646.3L1500.4,580.1L1499.8,580.1ZM1499.8,580.1L1500.4,580.1L1498.6,535.9L1498.6,550.6ZM1538.5,657.6L1538.5,655.1L1537.3,646.3L1536.9,646.3ZM1536.9,646.3L1537.3,646.3L1536.6,580.1L1536.2,580.1ZM1536.2,580.1L1536.6,580.1L1538.4,513.8L1538.2,513.8ZM1538.2,513.8L1538.4,513.8L1538.5,511.6L1538.5,508.4ZM1546.5,658.6L1546.5,646.3L1545.5,646.3L1538.5,655.1L1538.5,657.6ZM1545.5,646.3L1546.5,646.3L1546.5,580.1L1545.3,580.1ZM1545.3,580.1L1546.5,580.1L1539.7,513.8L1539.0,513.8ZM1539.0,513.8L1539.7,513.8L1538.5,508.4L1538.5,511.6ZM1547.0,646.3L1546.5,646.3L1546.5,658.6ZM1546.5,646.3L1547.0,646.3L1546.5,580.1ZM1562.5,661.9L1562.5,658.8L1559.8,646.3L1559.1,646.3ZM1559.1,646.3L1559.8,646.3L1560.0,580.1L1559.4,580.1ZM1559.4,580.1L1560.0,580.1L1562.5,534.9L1562.5,524.9ZM1570.4,671.2L1570.4,654.6L1562.5,658.8L1562.5,661.9ZM1570.4,562.5L1570.4,555.4L1562.5,524.9L1562.5,534.9ZM1571.7,646.3L1570.9,646.3L1570.4,654.6L1570.4,671.2ZM1570.9,646.3L1571.7,646.3L1572.9,580.1L1572.2,580.1ZM1572.2,580.1L1572.9,580.1L1570.4,555.4L1570.4,562.5ZM1586.4,660.9L1586.4,657.7L1584.2,646.3L1583.5,646.3ZM1583.5,646.3L1584.2,646.3L1583.5,580.1L1583.0,580.1ZM1583.0,580.1L1583.5,580.1L1586.4,530.6L1586.4,520.7ZM1594.4,675.8L1594.4,661.1L1586.4,657.7L1586.4,660.9ZM1594.4,572.8L1594.4,565.5L1586.4,520.7L1586.4,530.6ZM1595.8,646.3L1595.1,646.3L1594.4,661.1L1594.4,675.8ZM1595.1,646.3L1595.8,646.3L1595.8,580.1L1595.1,580.1ZM1595.1,580.1L1595.8,580.1L1594.4,565.5L1594.4,572.8ZM1610.3,654.9L1610.3,649.2L1609.9,646.3L1609.2,646.3ZM1609.2,646.3L1609.9,646.3L1610.3,580.1L1609.5,580.1ZM1609.5,580.1L1610.3,580.1L1610.3,566.8ZM1618.3,656.5L1618.3,652.4L1610.3,649.2L1610.3,654.9ZM1610.3,580.1L1618.3,524.9L1618.3,513.8L1610.3,566.8ZM1619.6,646.3L1619.1,646.3L1618.3,652.4L1618.3,656.5ZM1619.1,646.3L1619.6,646.3L1622.0,580.1L1621.4,580.1ZM1621.4,580.1L1622.0,580.1L1618.3,513.8L1618.3,524.9ZM1642.2,650.1L1642.2,648.2L1640.9,646.3L1639.6,646.3ZM1639.6,646.3L1640.9,646.3L1636.4,580.1L1635.3,580.1ZM1635.3,580.1L1636.4,580.1L1641.3,513.8L1640.5,513.8ZM1640.5,513.8L1641.3,513.8L1642.2,509.5L1642.2,505.8ZM1643.8,646.3L1643.0,646.3L1642.2,648.2L1642.2,650.1ZM1643.0,646.3L1643.8,646.3L1646.4,580.1L1645.7,580.1ZM1645.7,580.1L1646.4,580.1L1642.9,513.8L1642.6,513.8ZM1642.6,513.8L1642.9,513.8L1642.2,505.8L1642.2,509.5ZM1658.2,657.4L1658.2,651.9L1657.4,646.3L1656.6,646.3ZM1656.6,646.3L1657.4,646.3L1658.2,580.1L1657.0,580.1ZM1657.0,580.1L1658.2,580.1L1658.2,566.8ZM1666.2,647.9L1666.2,646.3L1663.5,646.3L1658.2,651.9L1658.2,657.4ZM1663.5,646.3L1666.2,646.3L1666.2,639.0L1658.2,580.1ZM1658.2,580.1L1666.0,513.8L1664.4,513.8L1658.2,566.8ZM1664.4,513.8L1666.0,513.8L1666.2,513.5L1666.2,509.8ZM1666.5,646.3L1666.2,646.3L1666.2,647.9ZM1666.2,646.3L1666.5,646.3L1669.0,580.1L1668.4,580.1L1666.2,639.0ZM1668.4,580.1L1669.0,580.1L1666.6,513.8L1666.2,513.8ZM1666.2,513.8L1666.6,513.8L1666.2,509.8L1666.2,513.5ZM1690.1,646.3L1690.1,629.8L1688.5,580.1L1688.0,580.1ZM1688.0,580.1L1688.5,580.1L1690.1,524.9L1690.1,513.8L1689.9,513.8ZM1689.9,513.8L1690.1,513.8L1690.1,512.8ZM1690.1,646.3L1693.1,580.1L1692.4,580.1L1690.1,629.8ZM1692.4,580.1L1693.1,580.1L1690.3,513.8L1690.1,513.8L1690.1,524.9ZM1690.1,513.8L1690.3,513.8L1690.1,512.8ZM1714.0,622.3L1714.0,610.2L1711.9,580.1L1711.1,580.1ZM1711.1,580.1L1711.9,580.1L1714.0,526.7L1714.0,513.8L1713.4,513.8ZM1713.4,513.8L1714.0,513.8L1714.0,512.6ZM1716.1,580.1L1715.5,580.1L1714.0,610.2L1714.0,622.3ZM1715.5,580.1L1716.1,580.1L1714.1,513.8L1714.0,513.8L1714.0,526.7ZM1714.0,513.8L1714.1,513.8L1714.0,512.6ZM1737.9,613.2L1737.9,596.7L1737.7,580.1L1737.4,580.1ZM1737.4,580.1L1737.7,580.1L1737.9,561.2L1737.9,542.2ZM1739.2,580.1L1738.6,580.1L1737.9,596.7L1737.9,613.2ZM1738.6,580.1L1739.2,580.1L1737.9,542.2L1737.9,561.2ZM1761.9,587.4L1761.9,580.1L1761.7,580.1ZM1761.7,580.1L1761.9,580.1L1761.9,560.6ZM1762.2,580.1L1761.9,580.1L1761.9,587.4ZM1761.9,580.1L1762.2,580.1L1761.9,560.6Z"/>
<path fill="#FFC863" d="M1474.7,682.2L1474.7,676.7L1470.1,646.3L1469.3,646.3ZM1469.3,646.3L1470.1,646.3L1471.6,580.1L1470.9,580.1ZM1470.9,580.1L1471.6,580.1L1474.7,558.0L1474.7,553.1ZM1482.7,680.8L1482.7,675.6L1474.7,676.7L1474.7,682.2ZM1482.7,556.2L1482.7,551.7L1474.7,553.1L1474.7,558.0ZM1490.7,663.5L1490.7,659.7L1482.7,675.6L1482.7,680.8ZM1490.7,529.1L1490.7,521.4L1482.7,551.7L1482.7,556.2ZM1498.6,654.1L1498.6,646.3L1490.7,659.7L1490.7,663.5ZM1498.6,565.4L1498.6,550.6L1490.7,521.4L1490.7,529.1ZM1499.3,646.3L1498.6,646.3L1498.6,654.1ZM1498.6,646.3L1499.3,646.3L1499.8,580.1L1499.2,580.1ZM1499.2,580.1L1499.8,580.1L1498.6,550.6L1498.6,565.4ZM1538.5,655.1L1538.5,652.6L1537.6,646.3L1537.3,646.3ZM1537.3,646.3L1537.6,646.3L1536.9,580.1L1536.6,580.1ZM1536.6,580.1L1536.9,580.1L1538.5,518.0L1538.5,513.8L1538.4,513.8ZM1538.4,513.8L1538.5,513.8L1538.5,511.6ZM1545.5,646.3L1543.5,646.3L1538.5,652.6L1538.5,655.1ZM1543.5,646.3L1545.5,646.3L1545.3,580.1L1544.0,580.1ZM1544.0,580.1L1545.3,580.1L1539.0,513.8L1538.5,513.8L1538.5,518.0ZM1538.5,513.8L1539.0,513.8L1538.5,511.6ZM1562.5,658.8L1562.5,655.7L1560.5,646.3L1559.8,646.3ZM1559.8,646.3L1560.5,646.3L1560.5,580.1L1560.0,580.1ZM1560.0,580.1L1560.5,580.1L1562.5,544.9L1562.5,534.9ZM1570.4,654.6L1570.4,646.3L1569.3,646.3L1562.5,655.7L1562.5,658.8ZM1569.3,646.3L1570.4,646.3L1570.4,629.8ZM1570.4,569.5L1570.4,562.5L1562.5,534.9L1562.5,544.9ZM1570.9,646.3L1570.4,646.3L1570.4,654.6ZM1570.4,646.3L1570.9,646.3L1572.2,580.1L1571.5,580.1L1570.4,629.8ZM1571.5,580.1L1572.2,580.1L1570.4,562.5L1570.4,569.5ZM1586.4,657.7L1586.4,654.4L1584.8,646.3L1584.2,646.3ZM1584.2,646.3L1584.8,646.3L1584.1,580.1L1583.5,580.1ZM1583.5,580.1L1584.1,580.1L1586.4,540.5L1586.4,530.6ZM1594.4,661.1L1594.4,646.3L1586.4,654.4L1586.4,657.7ZM1594.4,580.1L1594.4,572.8L1586.4,530.6L1586.4,540.5ZM1595.1,646.3L1594.4,646.3L1594.4,661.1ZM1594.4,646.3L1595.1,646.3L1595.1,580.1L1594.4,580.1ZM1594.4,580.1L1595.1,580.1L1594.4,572.8ZM1610.3,649.2L1610.3,646.3L1609.9,646.3ZM1609.9,646.3L1610.3,646.3L1610.3,580.1ZM1618.3,652.4L1618.3,648.4L1614.3,646.3L1610.3,646.3L1610.3,649.2ZM1610.3,646.3L1614.3,646.3L1611.9,580.1L1610.3,580.1ZM1610.3,580.1L1611.9,580.1L1618.3,535.9L1618.3,524.9ZM1619.1,646.3L1618.5,646.3L1618.3,648.4L1618.3,652.4ZM1618.5,646.3L1619.1,646.3L1621.4,580.1L1620.7,580.1ZM1620.7,580.1L1621.4,580.1L1618.3,524.9L1618.3,535.9ZM1642.2,648.2L1642.2,646.3L1640.9,646.3ZM1640.9,646.3L1642.2,646.3L1637.4,580.1L1636.4,580.1ZM1636.4,580.1L1637.4,580.1L1642.1,513.8L1641.3,513.8ZM1641.3,513.8L1642.1,513.8L1642.2,513.1L1642.2,509.5ZM1643.0,646.3L1642.2,646.3L1642.2,648.2ZM1642.2,646.3L1643.0,646.3L1645.7,580.1L1645.1,580.1ZM1645.1,580.1L1645.7,580.1L1642.6,513.8L1642.3,513.8ZM1642.3,513.8L1642.6,513.8L1642.2,509.5L1642.2,513.1ZM1658.2,651.9L1658.2,646.3L1657.4,646.3ZM1657.4,646.3L1658.2,646.3L1658.2,580.1ZM1663.5,646.3L1658.2,646.3L1658.2,651.9ZM1658.2,646.3L1663.5,646.3L1666.2,639.0L1666.2,624.3L1660.2,580.1L1658.2,580.1ZM1658.2,580.1L1660.2,580.1L1666.2,529.1L1666.2,513.8L1666.0,513.8ZM1666.0,513.8L1666.2,513.8L1666.2,513.5ZM1668.4,580.1L1667.9,580.1L1666.2,624.3L1666.2,639.0ZM1667.9,580.1L1668.4,580.1L1666.2,513.8L1666.2,513.8L1666.2,529.1ZM1666.2,513.8L1666.2,513.8L1666.2,513.5ZM1690.1,629.8L1690.1,613.2L1689.1,580.1L1688.5,580.1ZM1688.5,580.1L1689.1,580.1L1690.1,543.3L1690.1,524.9ZM1692.4,580.1L1691.6,580.1L1690.1,613.2L1690.1,629.8ZM1691.6,580.1L1692.4,580.1L1690.1,524.9L1690.1,543.3ZM1714.0,610.2L1714.0,598.2L1712.8,580.1L1711.9,580.1ZM1711.9,580.1L1712.8,580.1L1714.0,548.0L1714.0,526.7ZM1715.5,580.1L1714.9,580.1L1714.0,598.2L1714.0,610.2ZM1714.9,580.1L1715.5,580.1L1714.0,526.7L1714.0,548.0ZM1737.9,596.7L1737.9,580.1L1737.7,580.1ZM1737.7,580.1L1737.9,580.1L1737.9,561.2ZM1738.6,580.1L1737.9,580.1L1737.9,596.7ZM1737.9,580.1L1738.6,580.1L1737.9,561.2Z"/>
<path fill="#FFB555" d="M1474.7,676.7L1474.7,671.2L1470.9,646.3L1470.1,646.3ZM1470.1,646.3L1470.9,646.3L1472.3,580.1L1471.6,580.1ZM1471.6,580.1L1472.3,580.1L1474.7,562.9L1474.7,558.0ZM1482.7,675.6L1482.7,670.3L1474.7,671.2L1474.7,676.7ZM1482.7,560.7L1482.7,556.2L1474.7,558.0L1474.7,562.9ZM1490.7,659.7L1490.7,655.9L1482.7,670.3L1482.7,675.6ZM1490.7,536.7L1490.7,529.1L1482.7,556.2L1482.7,560.7ZM1498.6,646.3L1496.4,646.3L1490.7,655.9L1490.7,659.7ZM1496.4,646.3L1498.6,646.3L1498.6,580.1ZM1498.6,580.1L1498.6,565.4L1490.7,529.1L1490.7,536.7ZM1498.6,646.3L1499.2,580.1L1498.6,580.1ZM1498.6,580.1L1499.2,580.1L1498.6,565.4ZM1538.5,652.6L1538.5,650.1L1538.0,646.3L1537.6,646.3ZM1537.6,646.3L1538.0,646.3L1537.3,580.1L1536.9,580.1ZM1536.9,580.1L1537.3,580.1L1538.5,531.8L1538.5,518.0ZM1543.5,646.3L1541.5,646.3L1538.5,650.1L1538.5,652.6ZM1541.5,646.3L1543.5,646.3L1544.0,580.1L1542.8,580.1ZM1542.8,580.1L1544.0,580.1L1538.5,518.0L1538.5,531.8ZM1562.5,655.7L1562.5,652.6L1561.1,646.3L1560.5,646.3ZM1560.5,646.3L1561.1,646.3L1561.1,580.1L1560.5,580.1ZM1560.5,580.1L1561.1,580.1L1562.5,555.0L1562.5,544.9ZM1569.3,646.3L1567.0,646.3L1562.5,652.6L1562.5,655.7ZM1567.0,646.3L1569.3,646.3L1570.4,629.8L1570.4,596.7ZM1570.4,576.6L1570.4,569.5L1562.5,544.9L1562.5,555.0ZM1571.5,580.1L1570.8,580.1L1570.4,596.7L1570.4,629.8ZM1570.8,580.1L1571.5,580.1L1570.4,569.5L1570.4,576.6ZM1586.4,654.4L1586.4,651.2L1585.4,646.3L1584.8,646.3ZM1584.8,646.3L1585.4,646.3L1584.7,580.1L1584.1,580.1ZM1584.1,580.1L1584.7,580.1L1586.4,550.4L1586.4,540.5ZM1594.4,646.3L1591.2,646.3L1586.4,651.2L1586.4,654.4ZM1591.2,646.3L1594.4,646.3L1594.4,580.1L1592.4,580.1ZM1592.4,580.1L1594.4,580.1L1586.4,540.5L1586.4,550.4ZM1618.3,648.4L1618.3,646.3L1614.3,646.3ZM1614.3,646.3L1618.3,646.3L1618.3,636.9L1613.5,580.1L1611.9,580.1ZM1611.9,580.1L1613.5,580.1L1618.3,547.0L1618.3,535.9ZM1618.5,646.3L1618.3,646.3L1618.3,648.4ZM1618.3,646.3L1618.5,646.3L1620.7,580.1L1620.1,580.1L1618.3,636.9ZM1620.1,580.1L1620.7,580.1L1618.3,535.9L1618.3,547.0ZM1642.2,646.3L1642.2,631.6L1638.5,580.1L1637.4,580.1ZM1637.4,580.1L1638.5,580.1L1642.2,526.2L1642.2,513.8L1642.1,513.8ZM1642.1,513.8L1642.2,513.8L1642.2,513.1ZM1642.2,646.3L1645.1,580.1L1644.5,580.1L1642.2,631.6ZM1644.5,580.1L1645.1,580.1L1642.3,513.8L1642.2,513.8L1642.2,526.2ZM1642.2,513.8L1642.3,513.8L1642.2,513.1ZM1658.2,646.3L1666.2,624.3L1666.2,609.5L1662.2,580.1L1660.2,580.1ZM1660.2,580.1L1662.2,580.1L1666.2,546.1L1666.2,529.1ZM1667.9,580.1L1667.3,580.1L1666.2,609.5L1666.2,624.3ZM1667.3,580.1L1667.9,580.1L1666.2,529.1L1666.2,546.1ZM1690.1,613.2L1690.1,596.7L1689.6,580.1L1689.1,580.1ZM1689.1,580.1L1689.6,580.1L1690.1,561.7L1690.1,543.3ZM1691.6,580.1L1690.8,580.1L1690.1,596.7L1690.1,613.2ZM1690.8,580.1L1691.6,580.1L1690.1,543.3L1690.1,561.7ZM1714.0,598.2L1714.0,586.1L1713.6,580.1L1712.8,580.1ZM1712.8,580.1L1713.6,580.1L1714.0,569.4L1714.0,548.0ZM1714.9,580.1L1714.3,580.1L1714.0,586.1L1714.0,598.2ZM1714.3,580.1L1714.9,580.1L1714.0,548.0L1714.0,569.4Z"/>
<path fill="#FFA147" d="M1474.7,671.2L1474.7,665.7L1471.8,646.3L1470.9,646.3ZM1470.9,646.3L1471.8,646.3L1473.0,580.1L1472.3,580.1ZM1472.3,580.1L1473.0,580.1L1474.7,567.8L1474.7,562.9ZM1482.7,670.3L1482.7,665.1L1474.7,665.7L1474.7,671.2ZM1482.7,565.2L1482.7,560.7L1474.7,562.9L1474.7,567.8ZM1490.7,655.9L1490.7,652.1L1482.7,665.1L1482.7,670.3ZM1490.7,544.3L1490.7,536.7L1482.7,560.7L1482.7,565.2ZM1496.4,646.3L1494.1,646.3L1490.7,652.1L1490.7,655.9ZM1494.1,646.3L1496.4,646.3L1498.6,580.1L1497.2,580.1ZM1497.2,580.1L1498.6,580.1L1490.7,536.7L1490.7,544.3ZM1538.5,650.1L1538.5,647.6L1538.3,646.3L1538.0,646.3ZM1538.0,646.3L1538.3,646.3L1537.6,580.1L1537.3,580.1ZM1537.3,580.1L1537.6,580.1L1538.5,545.6L1538.5,531.8ZM1541.5,646.3L1539.5,646.3L1538.5,647.6L1538.5,650.1ZM1539.5,646.3L1541.5,646.3L1542.8,580.1L1541.6,580.1ZM1541.6,580.1L1542.8,580.1L1538.5,531.8L1538.5,545.6ZM1562.5,652.6L1562.5,649.5L1561.8,646.3L1561.1,646.3ZM1561.1,646.3L1561.8,646.3L1561.6,580.1L1561.1,580.1ZM1561.1,580.1L1561.6,580.1L1562.5,565.0L1562.5,555.0ZM1567.0,646.3L1564.7,646.3L1562.5,649.5L1562.5,652.6ZM1564.7,646.3L1567.0,646.3L1570.4,596.7L1570.4,580.1L1568.4,580.1ZM1568.4,580.1L1570.4,580.1L1570.4,576.6L1562.5,555.0L1562.5,565.0ZM1570.8,580.1L1570.4,580.1L1570.4,596.7ZM1570.4,580.1L1570.8,580.1L1570.4,576.6ZM1586.4,651.2L1586.4,648.0L1586.1,646.3L1585.4,646.3ZM1585.4,646.3L1586.1,646.3L1585.2,580.1L1584.7,580.1ZM1584.7,580.1L1585.2,580.1L1586.4,560.3L1586.4,550.4ZM1591.2,646.3L1588.0,646.3L1586.4,648.0L1586.4,651.2ZM1588.0,646.3L1591.2,646.3L1592.4,580.1L1590.4,580.1ZM1590.4,580.1L1592.4,580.1L1586.4,550.4L1586.4,560.3ZM1618.3,636.9L1618.3,618.0L1615.1,580.1L1613.5,580.1ZM1613.5,580.1L1615.1,580.1L1618.3,558.0L1618.3,547.0ZM1620.1,580.1L1619.5,580.1L1618.3,618.0L1618.3,636.9ZM1619.5,580.1L1620.1,580.1L1618.3,547.0L1618.3,558.0ZM1642.2,631.6L1642.2,616.9L1639.6,580.1L1638.5,580.1ZM1638.5,580.1L1639.6,580.1L1642.2,541.6L1642.2,526.2ZM1644.5,580.1L1643.8,580.1L1642.2,616.9L1642.2,631.6ZM1643.8,580.1L1644.5,580.1L1642.2,526.2L1642.2,541.6ZM1666.2,609.5L1666.2,594.8L1664.2,580.1L1662.2,580.1ZM1662.2,580.1L1664.2,580.1L1666.2,563.1L1666.2,546.1ZM1667.3,580.1L1666.7,580.1L1666.2,594.8L1666.2,609.5ZM1666.7,580.1L1667.3,580.1L1666.2,546.1L1666.2,563.1ZM1690.1,596.7L1690.1,580.1L1689.6,580.1ZM1689.6,580.1L1690.1,580.1L1690.1,561.7ZM1690.8,580.1L1690.1,580.1L1690.1,596.7ZM1690.1,580.1L1690.8,580.1L1690.1,561.7ZM1714.0,586.1L1714.0,580.1L1713.6,580.1ZM1713.6,580.1L1714.0,580.1L1714.0,569.4ZM1714.3,580.1L1714.0,580.1L1714.0,586.1ZM1714.0,580.1L1714.3,580.1L1714.0,569.4Z"/>
<path fill="#FF8A39" d="M1474.7,665.7L1474.7,660.2L1472.6,646.3L1471.8,646.3ZM1471.8,646.3L1472.6,646.3L1473.7,580.1L1473.0,580.1ZM1473.0,580.1L1473.7,580.1L1474.7,572.7L1474.7,567.8ZM1482.7,665.1L1482.7,659.9L1474.7,660.2L1474.7,665.7ZM1482.7,569.7L1482.7,565.2L1474.7,567.8L1474.7,572.7ZM1490.7,652.1L1490.7,648.3L1482.7,659.9L1482.7,665.1ZM1490.7,551.9L1490.7,544.3L1482.7,565.2L1482.7,569.7ZM1494.1,646.3L1491.8,646.3L1490.7,648.3L1490.7,652.1ZM1491.8,646.3L1494.1,646.3L1497.2,580.1L1495.8,580.1ZM1495.8,580.1L1497.2,580.1L1490.7,544.3L1490.7,551.9ZM1538.5,647.6L1538.5,646.3L1538.3,646.3ZM1538.3,646.3L1538.5,646.3L1538.5,629.8L1538.0,580.1L1537.6,580.1ZM1537.6,580.1L1538.0,580.1L1538.5,559.4L1538.5,545.6ZM1539.5,646.3L1538.5,646.3L1538.5,647.6ZM1538.5,646.3L1539.5,646.3L1541.6,580.1L1540.4,580.1L1538.5,629.8ZM1540.4,580.1L1541.6,580.1L1538.5,545.6L1538.5,559.4ZM1562.5,649.5L1562.5,646.3L1561.8,646.3ZM1561.8,646.3L1562.5,646.3L1562.2,580.1L1561.6,580.1ZM1561.6,580.1L1562.2,580.1L1562.5,575.1L1562.5,565.0ZM1564.7,646.3L1562.5,646.3L1562.5,649.5ZM1562.5,646.3L1564.7,646.3L1568.4,580.1L1564.4,580.1ZM1564.4,580.1L1568.4,580.1L1562.5,565.0L1562.5,575.1ZM1586.4,648.0L1586.4,646.3L1586.1,646.3ZM1586.1,646.3L1586.4,646.3L1586.4,624.3L1585.8,580.1L1585.2,580.1ZM1585.2,580.1L1585.8,580.1L1586.4,570.2L1586.4,560.3ZM1588.0,646.3L1586.4,646.3L1586.4,648.0ZM1586.4,646.3L1588.0,646.3L1590.4,580.1L1588.4,580.1L1586.4,624.3ZM1588.4,580.1L1590.4,580.1L1586.4,560.3L1586.4,570.2ZM1618.3,618.0L1618.3,599.0L1616.7,580.1L1615.1,580.1ZM1615.1,580.1L1616.7,580.1L1618.3,569.0L1618.3,558.0ZM1619.5,580.1L1618.9,580.1L1618.3,599.0L1618.3,618.0ZM1618.9,580.1L1619.5,580.1L1618.3,558.0L1618.3,569.0ZM1642.2,616.9L1642.2,602.2L1640.6,580.1L1639.6,580.1ZM1639.6,580.1L1640.6,580.1L1642.2,557.0L1642.2,541.6ZM1643.8,580.1L1643.2,580.1L1642.2,602.2L1642.2,616.9ZM1643.2,580.1L1643.8,580.1L1642.2,541.6L1642.2,557.0ZM1666.2,594.8L1666.2,580.1L1664.2,580.1ZM1664.2,580.1L1666.2,580.1L1666.2,563.1ZM1666.7,580.1L1666.2,580.1L1666.2,594.8ZM1666.2,580.1L1666.7,580.1L1666.2,563.1Z"/>
<path fill="#FF712B" d="M1474.7,660.2L1474.7,654.6L1473.5,646.3L1472.6,646.3ZM1472.6,646.3L1473.5,646.3L1474.4,580.1L1473.7,580.1ZM1473.7,580.1L1474.4,580.1L1474.7,577.6L1474.7,572.7ZM1482.7,659.9L1482.7,654.7L1474.7,654.6L1474.7,660.2ZM1482.7,574.2L1482.7,569.7L1474.7,572.7L1474.7,577.6ZM1490.7,648.3L1490.7,646.3L1488.8,646.3L1482.7,654.7L1482.7,659.9ZM1488.8,646.3L1490.7,646.3L1490.7,636.0ZM1490.7,559.5L1490.7,551.9L1482.7,569.7L1482.7,574.2ZM1491.8,646.3L1490.7,646.3L1490.7,648.3ZM1490.7,646.3L1491.8,646.3L1495.8,580.1L1494.4,580.1L1490.7,636.0ZM1494.4,580.1L1495.8,580.1L1490.7,551.9L1490.7,559.5ZM1538.5,629.8L1538.5,596.7L1538.3,580.1L1538.0,580.1ZM1538.0,580.1L1538.3,580.1L1538.5,573.2L1538.5,559.4ZM1540.4,580.1L1539.1,580.1L1538.5,596.7L1538.5,629.8ZM1539.1,580.1L1540.4,580.1L1538.5,559.4L1538.5,573.2ZM1562.5,646.3L1562.5,580.1L1562.2,580.1ZM1562.2,580.1L1562.5,580.1L1562.5,575.1ZM1562.5,646.3L1564.4,580.1L1562.5,580.1ZM1562.5,580.1L1564.4,580.1L1562.5,575.1ZM1586.4,624.3L1586.4,580.1L1585.8,580.1ZM1585.8,580.1L1586.4,580.1L1586.4,570.2ZM1588.4,580.1L1586.4,580.1L1586.4,624.3ZM1586.4,580.1L1588.4,580.1L1586.4,570.2ZM1618.3,599.0L1618.3,580.1L1616.7,580.1ZM1616.7,580.1L1618.3,580.1L1618.3,569.0ZM1618.9,580.1L1618.3,580.1L1618.3,599.0ZM1618.3,580.1L1618.9,580.1L1618.3,569.0ZM1642.2,602.2L1642.2,587.4L1641.7,580.1L1640.6,580.1ZM1640.6,580.1L1641.7,580.1L1642.2,572.4L1642.2,557.0ZM1643.2,580.1L1642.5,580.1L1642.2,587.4L1642.2,602.2ZM1642.5,580.1L1643.2,580.1L1642.2,557.0L1642.2,572.4Z"/>
<path fill="#FF561C" d="M1474.7,654.6L1474.7,649.1L1474.3,646.3L1473.5,646.3ZM1473.5,646.3L1474.3,646.3L1474.7,613.2L1474.7,580.1L1474.4,580.1ZM1474.4,580.1L1474.7,580.1L1474.7,577.6ZM1482.7,654.7L1482.7,649.5L1474.7,649.1L1474.7,654.6ZM1479.7,580.1L1474.7,580.1L1474.7,613.2ZM1474.7,580.1L1479.7,580.1L1482.7,578.7L1482.7,574.2L1474.7,577.6ZM1488.8,646.3L1485.0,646.3L1482.7,649.5L1482.7,654.7ZM1485.0,646.3L1488.8,646.3L1490.7,636.0L1490.7,615.3ZM1490.7,567.1L1490.7,559.5L1482.7,574.2L1482.7,578.7ZM1494.4,580.1L1493.0,580.1L1490.7,615.3L1490.7,636.0ZM1493.0,580.1L1494.4,580.1L1490.7,559.5L1490.7,567.1ZM1538.5,596.7L1538.5,580.1L1538.3,580.1ZM1538.3,580.1L1538.5,580.1L1538.5,573.2ZM1539.1,580.1L1538.5,580.1L1538.5,596.7ZM1538.5,580.1L1539.1,580.1L1538.5,573.2ZM1642.2,587.4L1642.2,580.1L1641.7,580.1ZM1641.7,580.1L1642.2,580.1L1642.2,572.4ZM1642.5,580.1L1642.2,580.1L1642.2,587.4ZM1642.2,580.1L1642.5,580.1L1642.2,572.4Z"/>
<path fill="#FF390E" d="M1474.7,649.1L1474.7,646.3L1474.3,646.3ZM1474.3,646.3L1474.7,646.3L1474.7,613.2ZM1482.7,649.5L1482.7,646.3L1474.7,646.3L1474.7,649.1ZM1474.7,646.3L1482.7,646.3L1482.7,580.1L1479.7,580.1L1474.7,613.2ZM1479.7,580.1L1482.7,580.1L1482.7,578.7ZM1485.0,646.3L1482.7,646.3L1482.7,649.5ZM1482.7,646.3L1485.0,646.3L1490.7,615.3L1490.7,594.6L1486.7,580.1L1482.7,580.1ZM1482.7,580.1L1486.7,580.1L1490.7,574.8L1490.7,567.1L1482.7,578.7ZM1493.0,580.1L1491.6,580.1L1490.7,594.6L1490.7,615.3ZM1491.6,580.1L1493.0,580.1L1490.7,567.1L1490.7,574.8Z"/>
<path fill="#FF1900" d="M1490.7,594.6L1490.7,580.1L1486.7,580.1ZM1486.7,580.1L1490.7,580.1L1490.7,574.8ZM1491.6,580.1L1490.7,580.1L1490.7,594.6ZM1490.7,580.1L1491.6,580.1L1490.7,574.8Z"/>
</g>
<g stroke="#000" stroke-width="3.125" stroke-linecap="round" fill="none">
<line x1="350.0" y1="1193.0" x2="3086.0" y2="1193.0" stroke-dasharray="3.125 9.375"/>
<line x1="350.0" y1="1193.0" x2="377.0" y2="1193.0"/>
<line x1="350.0" y1="812.0" x2="3086.0" y2="812.0" stroke-dasharray="3.125 9.375"/>
<line x1="350.0" y1="812.0" x2="377.0" y2="812.0"/>
<line x1="350.0" y1="431.0" x2="3086.0" y2="431.0" stroke-dasharray="3.125 9.375"/>
<line x1="350.0" y1="431.0" x2="377.0" y2="431.0"/>
</g>
<polygon fill="#000" stroke="#000" stroke-width="0.6" stroke-linejoin="round" points="350.0,1708.3 351.0,1708.2 352.0,1708.6 353.0,1707.6 354.0,1708.0 355.0,1708.0 356.0,1708.9 357.0,1708.6 358.0,1708.3 359.0,1708.8 360.0,1708.8 361.0,1707.4 362.0,1707.1 363.0,1707.7 364.0,1707.7 365.0,1707.7 366.0,1708.5 367.0,1707.8 368.0,1708.5 369.0,1708.7 370.0,1708.5 371.0,1707.5 372.0,1707.6 373.0,1708.0 374.0,1707.5 375.0,1707.4 376.0,1707.8 377.0,1708.2 378.0,1707.7 379.0,1707.4 380.0,1707.9 381.0,1708.1 382.0,1707.9 383.0,1707.9 384.0,1707.5 385.0,1707.3 386.0,1707.8 387.0,1707.3 388.0,1707.5 389.0,1707.9 390.0,1707.5 391.0,1707.0 392.0,1706.9 393.0,1706.8 394.0,1707.1 395.0,1707.7 396.0,1707.7 397.0,1707.9 398.0,1707.1 399.0,1707.7 400.0,1707.5 401.0,1707.4 402.0,1707.7 403.0,1707.8 404.0,1707.8 405.0,1707.5 406.0,1707.2 407.0,1706.2 408.0,1706.3 409.0,1706.3 410.0,1707.0 411.0,1707.7 412.0,1707.7 413.0,1707.7 414.0,1707.3 415.0,1707.6 416.0,1707.8 417.0,1707.0 418.0,1707.3 419.0,1707.5 420.0,1707.1 421.0,1707.3 422.0,1707.2 423.0,1707.5 424.0,1707.8 425.0,1706.7 426.0,1707.7 427.0,1707.8 428.0,1707.5 429.0,1707.0 430.0,1706.8 431.0,1707.5 432.0,1707.7 433.0,1707.9 434.0,1707.9 435.0,1707.5 436.0,1707.7 437.0,1707.7 438.0,1708.0 439.0,1707.6 440.0,1707.5 441.0,1707.9 442.0,1708.2 443.0,1706.5 444.0,1708.4 445.0,1708.2 446.0,1707.9 447.0,1708.0 448.0,1708.3 449.0,1707.4 450.0,1708.1 451.0,1708.1 452.0,1708.5 453.0,1708.2 454.0,1708.5 455.0,1708.5 456.0,1707.8 457.0,1708.5 458.0,1708.7 459.0,1709.0 460.0,1709.3 461.0,1709.1 462.0,1708.7 463.0,1709.1 464.0,1709.2 465.0,1709.0 466.0,1708.8 467.0,1709.4 468.0,1709.3 469.0,1709.3 470.0,1709.5 471.0,1708.7 472.0,1708.8 473.0,1709.1 474.0,1709.2 475.0,1709.4 476.0,1709.5 477.0,1708.7 478.0,1709.4 479.0,1709.7 480.0,1709.0 481.0,1709.4 482.0,1709.6 483.0,1709.4 484.0,1709.0 485.0,1709.2 486.0,1709.6 487.0,1708.8 488.0,1709.3 489.0,1709.6 490.0,1708.6 491.0,1709.6 492.0,1709.2 493.0,1709.2 494.0,1709.2 495.0,1708.6 496.0,1708.6 497.0,1708.7 498.0,1708.5 499.0,1707.4 500.0,1708.4 501.0,1708.6 502.0,1709.0 503.0,1709.2 504.0,1709.0 505.0,1708.9 506.0,1708.8 507.0,1708.0 508.0,1708.1 509.0,1708.9 510.0,1708.5 511.0,1708.2 512.0,1708.5 513.0,1708.7 514.0,1708.6 515.0,1708.4 516.0,1708.1 517.0,1707.6 518.0,1708.2 519.0,1708.6 520.0,1708.0 521.0,1708.5 522.0,1707.7 523.0,1707.6 524.0,1707.9 525.0,1708.4 526.0,1708.0 527.0,1708.0 528.0,1707.9 529.0,1708.2 530.0,1708.0 531.0,1707.2 532.0,1706.9 533.0,1706.7 534.0,1707.4 535.0,1707.7 536.0,1707.8 537.0,1708.1 538.0,1707.8 539.0,1707.5 540.0,1708.1 541.0,1707.3 542.0,1707.7 543.0,1708.3 544.0,1708.3 545.0,1707.9 546.0,1708.2 547.0,1708.2 548.0,1707.9 549.0,1708.5 550.0,1708.3 551.0,1707.9 552.0,1708.3 553.0,1707.5 554.0,1707.5 555.0,1706.9 556.0,1708.5 557.0,1707.9 558.0,1706.6 559.0,1706.8 560.0,1707.8 561.0,1708.2 562.0,1708.7 563.0,1708.2 564.0,1708.6 565.0,1708.4 566.0,1708.4 567.0,1708.2 568.0,1708.0 569.0,1707.2 570.0,1706.8 571.0,1707.4 572.0,1708.4 573.0,1708.0 574.0,1708.5 575.0,1708.2 576.0,1708.6 577.0,1708.8 578.0,1708.1 579.0,1707.9 580.0,1708.3 581.0,1708.6 582.0,1708.6 583.0,1708.3 584.0,1708.3 585.0,1708.1 586.0,1708.2 587.0,1708.5 588.0,1708.0 589.0,1707.3 590.0,1708.2 591.0,1708.4 592.0,1708.2 593.0,1707.5 594.0,1706.8 595.0,1707.2 596.0,1708.1 597.0,1707.4 598.0,1707.4 599.0,1707.5 600.0,1707.8 601.0,1707.0 602.0,1706.9 603.0,1708.1 604.0,1708.1 605.0,1707.7 606.0,1707.6 607.0,1707.1 608.0,1706.4 609.0,1706.1 610.0,1707.0 611.0,1707.6 612.0,1706.6 613.0,1706.4 614.0,1706.0 615.0,1707.3 616.0,1707.2 617.0,1707.2 618.0,1707.1 619.0,1707.3 620.0,1707.0 621.0,1706.7 622.0,1706.2 623.0,1706.0 624.0,1706.8 625.0,1706.5 626.0,1707.0 627.0,1707.1 628.0,1706.8 629.0,1706.4 630.0,1706.6 631.0,1706.6 632.0,1706.8 633.0,1706.6 634.0,1706.6 635.0,1706.1 636.0,1706.3 637.0,1706.8 638.0,1705.9 639.0,1705.7 640.0,1706.5 641.0,1706.3 642.0,1706.1 643.0,1705.7 644.0,1705.6 645.0,1706.1 646.0,1706.3 647.0,1706.1 648.0,1706.6 649.0,1706.6 650.0,1706.0 651.0,1706.7 652.0,1706.1 653.0,1706.7 654.0,1706.6 655.0,1706.9 656.0,1707.1 657.0,1706.5 658.0,1706.6 659.0,1706.5 660.0,1707.2 661.0,1707.0 662.0,1706.5 663.0,1707.5 664.0,1707.2 665.0,1705.5 666.0,1706.4 667.0,1706.6 668.0,1706.3 669.0,1706.0 670.0,1705.1 671.0,1706.3 672.0,1706.7 673.0,1707.3 674.0,1707.2 675.0,1706.9 676.0,1707.1 677.0,1707.6 678.0,1707.7 679.0,1707.2 680.0,1707.2 681.0,1708.1 682.0,1708.1 683.0,1707.8 684.0,1707.5 685.0,1707.8 686.0,1707.9 687.0,1707.8 688.0,1707.7 689.0,1707.6 690.0,1707.1 691.0,1707.1 692.0,1707.1 693.0,1707.7 694.0,1707.3 695.0,1707.6 696.0,1707.8 697.0,1707.8 698.0,1707.8 699.0,1707.1 700.0,1707.5 701.0,1707.2 702.0,1707.9 703.0,1707.9 704.0,1707.0 705.0,1707.8 706.0,1708.0 707.0,1707.2 708.0,1707.4 709.0,1707.0 710.0,1708.0 711.0,1706.9 712.0,1706.9 713.0,1706.7 714.0,1707.7 715.0,1707.5 716.0,1707.6 717.0,1707.7 718.0,1707.8 719.0,1708.0 720.0,1708.0 721.0,1707.7 722.0,1708.0 723.0,1708.0 724.0,1707.8 725.0,1708.1 726.0,1707.9 727.0,1707.7 728.0,1708.0 729.0,1707.3 730.0,1708.0 731.0,1707.2 732.0,1707.8 733.0,1707.7 734.0,1707.9 735.0,1707.9 736.0,1707.5 737.0,1707.6 738.0,1706.9 739.0,1707.5 740.0,1707.6 741.0,1708.0 742.0,1708.0 743.0,1708.1 744.0,1707.4 745.0,1707.6 746.0,1707.7 747.0,1706.9 748.0,1708.3 749.0,1708.3 750.0,1708.2 751.0,1708.2 752.0,1708.5 753.0,1708.4 754.0,1708.4 755.0,1708.5 756.0,1708.7 757.0,1708.8 758.0,1708.9 759.0,1708.5 760.0,1708.2 761.0,1708.3 762.0,1708.0 763.0,1708.3 764.0,1707.8 765.0,1708.5 766.0,1708.5 767.0,1708.8 768.0,1709.2 769.0,1708.6 770.0,1707.6 771.0,1708.7 772.0,1709.0 773.0,1709.6 774.0,1709.1 775.0,1709.5 776.0,1709.4 777.0,1709.5 778.0,1709.0 779.0,1709.2 780.0,1709.7 781.0,1709.3 782.0,1709.8 783.0,1709.2 784.0,1709.6 785.0,1709.9 786.0,1709.6 787.0,1709.8 788.0,1710.0 789.0,1710.4 790.0,1710.2 791.0,1709.6 792.0,1709.9 793.0,1710.4 794.0,1709.7 795.0,1710.5 796.0,1710.4 797.0,1710.4 798.0,1710.4 799.0,1710.1 800.0,1709.8 801.0,1710.5 802.0,1710.5 803.0,1710.3 804.0,1710.4 805.0,1710.3 806.0,1710.5 807.0,1710.1 808.0,1710.3 809.0,1710.0 810.0,1710.5 811.0,1709.5 812.0,1709.7 813.0,1710.3 814.0,1709.7 815.0,1710.0 816.0,1709.4 817.0,1710.1 818.0,1709.7 819.0,1709.8 820.0,1709.8 821.0,1709.6 822.0,1709.8 823.0,1709.9 824.0,1709.3 825.0,1709.7 826.0,1709.5 827.0,1709.1 828.0,1708.7 829.0,1708.9 830.0,1709.3 831.0,1709.1 832.0,1708.8 833.0,1709.2 834.0,1708.4 835.0,1707.5 836.0,1709.0 837.0,1708.5 838.0,1708.4 839.0,1708.4 840.0,1708.6 841.0,1708.6 842.0,1707.9 843.0,1708.5 844.0,1708.0 845.0,1707.4 846.0,1708.0 847.0,1708.2 848.0,1708.4 849.0,1708.4 850.0,1708.4 851.0,1707.5 852.0,1707.7 853.0,1708.2 854.0,1707.6 855.0,1707.9 856.0,1707.7 857.0,1707.6 858.0,1707.4 859.0,1707.8 860.0,1707.7 861.0,1707.6 862.0,1707.3 863.0,1707.5 864.0,1706.8 865.0,1706.2 866.0,1706.2 867.0,1706.8 868.0,1707.4 869.0,1707.3 870.0,1707.0 871.0,1707.1 872.0,1705.8 873.0,1706.1 874.0,1705.8 875.0,1706.1 876.0,1706.5 877.0,1706.5 878.0,1706.8 879.0,1706.4 880.0,1706.4 881.0,1706.9 882.0,1707.0 883.0,1706.6 884.0,1706.3 885.0,1706.3 886.0,1706.1 887.0,1706.6 888.0,1706.5 889.0,1706.8 890.0,1706.7 891.0,1706.6 892.0,1706.7 893.0,1707.0 894.0,1706.5 895.0,1705.8 896.0,1705.4 897.0,1706.3 898.0,1707.4 899.0,1707.6 900.0,1707.4 901.0,1707.8 902.0,1707.6 903.0,1707.2 904.0,1707.4 905.0,1708.0 906.0,1707.4 907.0,1707.3 908.0,1707.8 909.0,1708.0 910.0,1707.9 911.0,1707.5 912.0,1708.2 913.0,1707.6 914.0,1707.8 915.0,1707.3 916.0,1708.3 917.0,1708.0 918.0,1708.5 919.0,1708.0 920.0,1708.4 921.0,1707.7 922.0,1708.5 923.0,1708.2 924.0,1707.4 925.0,1708.2 926.0,1708.8 927.0,1708.2 928.0,1709.0 929.0,1708.5 930.0,1708.0 931.0,1709.1 932.0,1708.7 933.0,1708.9 934.0,1708.8 935.0,1709.0 936.0,1709.0 937.0,1707.3 938.0,1707.8 939.0,1707.6 940.0,1709.4 941.0,1709.4 942.0,1708.4 943.0,1708.7 944.0,1708.6 945.0,1708.7 946.0,1708.9 947.0,1709.1 948.0,1709.6 949.0,1709.6 950.0,1709.4 951.0,1709.0 952.0,1708.9 953.0,1708.8 954.0,1709.5 955.0,1709.6 956.0,1709.5 957.0,1709.6 958.0,1709.4 959.0,1709.0 960.0,1708.2 961.0,1708.9 962.0,1709.5 963.0,1708.8 964.0,1709.1 965.0,1709.8 966.0,1709.7 967.0,1709.9 968.0,1709.6 969.0,1709.8 970.0,1709.2 971.0,1709.5 972.0,1709.8 973.0,1710.0 974.0,1709.3 975.0,1709.5 976.0,1708.6 977.0,1708.1 978.0,1708.7 979.0,1709.3 980.0,1710.0 981.0,1709.5 982.0,1709.5 983.0,1709.2 984.0,1709.0 985.0,1708.3 986.0,1708.7 987.0,1709.4 988.0,1709.8 989.0,1709.5 990.0,1709.8 991.0,1708.9 992.0,1709.3 993.0,1709.3 994.0,1709.2 995.0,1708.7 996.0,1708.3 997.0,1709.4 998.0,1709.7 999.0,1709.2 1000.0,1709.5 1001.0,1709.2 1002.0,1709.7 1003.0,1708.4 1004.0,1708.1 1005.0,1708.6 1006.0,1709.5 1007.0,1709.0 1008.0,1708.9 1009.0,1709.4 1010.0,1709.4 1011.0,1709.4 1012.0,1709.3 1013.0,1708.9 1014.0,1707.8 1015.0,1707.2 1016.0,1707.9 1017.0,1709.2 1018.0,1707.9 1019.0,1707.9 1020.0,1708.4 1021.0,1708.6 1022.0,1708.6 1023.0,1708.2 1024.0,1709.1 1025.0,1709.3 1026.0,1709.3 1027.0,1709.2 1028.0,1708.7 1029.0,1708.3 1030.0,1708.2 1031.0,1708.9 1032.0,1708.9 1033.0,1708.2 1034.0,1708.7 1035.0,1708.4 1036.0,1708.5 1037.0,1708.4 1038.0,1708.4 1039.0,1708.2 1040.0,1708.7 1041.0,1708.5 1042.0,1707.8 1043.0,1707.6 1044.0,1707.9 1045.0,1708.1 1046.0,1708.5 1047.0,1707.9 1048.0,1708.2 1049.0,1707.9 1050.0,1707.7 1051.0,1707.9 1052.0,1707.3 1053.0,1707.0 1054.0,1706.6 1055.0,1707.1 1056.0,1708.6 1057.0,1708.6 1058.0,1707.8 1059.0,1707.6 1060.0,1706.8 1061.0,1706.9 1062.0,1707.4 1063.0,1708.2 1064.0,1708.5 1065.0,1708.2 1066.0,1707.9 1067.0,1708.4 1068.0,1708.0 1069.0,1708.3 1070.0,1708.6 1071.0,1708.7 1072.0,1708.5 1073.0,1708.7 1074.0,1708.7 1075.0,1708.4 1076.0,1708.4 1077.0,1709.0 1078.0,1708.6 1079.0,1708.5 1080.0,1708.7 1081.0,1707.9 1082.0,1709.0 1083.0,1708.8 1084.0,1708.5 1085.0,1708.3 1086.0,1707.5 1087.0,1708.2 1088.0,1708.9 1089.0,1707.9 1090.0,1708.7 1091.0,1708.2 1092.0,1708.7 1093.0,1708.6 1094.0,1707.8 1095.0,1708.5 1096.0,1707.8 1097.0,1707.9 1098.0,1708.2 1099.0,1708.4 1100.0,1708.0 1101.0,1708.6 1102.0,1708.4 1103.0,1708.2 1104.0,1708.8 1105.0,1708.7 1106.0,1708.4 1107.0,1708.5 1108.0,1708.5 1109.0,1708.0 1110.0,1708.2 1111.0,1708.4 1112.0,1708.3 1113.0,1707.7 1114.0,1708.1 1115.0,1707.6 1116.0,1707.5 1117.0,1707.7 1118.0,1708.1 1119.0,1708.2 1120.0,1708.5 1121.0,1707.7 1122.0,1707.7 1123.0,1707.6 1124.0,1707.9 1125.0,1708.0 1126.0,1707.4 1127.0,1708.4 1128.0,1708.6 1129.0,1707.0 1130.0,1708.1 1131.0,1708.6 1132.0,1707.9 1133.0,1707.6 1134.0,1708.3 1135.0,1707.8 1136.0,1708.4 1137.0,1708.5 1138.0,1708.8 1139.0,1708.0 1140.0,1707.8 1141.0,1708.4 1142.0,1708.9 1143.0,1708.2 1144.0,1708.8 1145.0,1707.8 1146.0,1708.1 1147.0,1708.7 1148.0,1709.0 1149.0,1709.1 1150.0,1706.2 1151.0,1708.4 1152.0,1709.0 1153.0,1709.2 1154.0,1708.8 1155.0,1708.4 1156.0,1708.3 1157.0,1708.7 1158.0,1709.0 1159.0,1709.2 1160.0,1709.4 1161.0,1708.4 1162.0,1708.7 1163.0,1708.7 1164.0,1709.1 1165.0,1709.5 1166.0,1708.9 1167.0,1709.2 1168.0,1709.8 1169.0,1709.7 1170.0,1709.2 1171.0,1707.1 1172.0,1709.0 1173.0,1709.3 1174.0,1709.1 1175.0,1709.5 1176.0,1709.3 1177.0,1709.4 1178.0,1709.0 1179.0,1709.9 1180.0,1709.7 1181.0,1710.6 1182.0,1710.5 1183.0,1710.7 1184.0,1710.4 1185.0,1710.3 1186.0,1710.1 1187.0,1710.8 1188.0,1711.1 1189.0,1710.8 1190.0,1710.9 1191.0,1711.3 1192.0,1711.0 1193.0,1711.3 1194.0,1711.3 1195.0,1711.4 1196.0,1710.7 1197.0,1711.5 1198.0,1710.7 1199.0,1711.6 1200.0,1711.3 1201.0,1710.7 1202.0,1711.2 1203.0,1711.6 1204.0,1711.2 1205.0,1711.0 1206.0,1710.5 1207.0,1710.7 1208.0,1711.5 1209.0,1711.2 1210.0,1711.1 1211.0,1711.1 1212.0,1711.7 1213.0,1711.6 1214.0,1711.8 1215.0,1711.3 1216.0,1711.8 1217.0,1711.6 1218.0,1711.9 1219.0,1711.8 1220.0,1711.2 1221.0,1711.7 1222.0,1711.7 1223.0,1711.4 1224.0,1710.7 1225.0,1711.0 1226.0,1711.4 1227.0,1711.7 1228.0,1711.2 1229.0,1710.7 1230.0,1711.0 1231.0,1711.4 1232.0,1711.5 1233.0,1711.5 1234.0,1710.8 1235.0,1709.6 1236.0,1709.8 1237.0,1711.0 1238.0,1711.2 1239.0,1710.9 1240.0,1710.3 1241.0,1711.0 1242.0,1710.4 1243.0,1709.9 1244.0,1710.3 1245.0,1710.4 1246.0,1710.7 1247.0,1710.9 1248.0,1710.5 1249.0,1710.3 1250.0,1709.6 1251.0,1710.3 1252.0,1710.1 1253.0,1710.3 1254.0,1710.6 1255.0,1708.9 1256.0,1708.9 1257.0,1709.0 1258.0,1709.9 1259.0,1710.3 1260.0,1709.3 1261.0,1710.2 1262.0,1710.1 1263.0,1709.4 1264.0,1709.8 1265.0,1709.9 1266.0,1709.2 1267.0,1709.2 1268.0,1709.9 1269.0,1709.1 1270.0,1709.5 1271.0,1709.3 1272.0,1709.3 1273.0,1709.6 1274.0,1709.8 1275.0,1709.3 1276.0,1709.2 1277.0,1708.7 1278.0,1708.7 1279.0,1709.2 1280.0,1709.3 1281.0,1708.7 1282.0,1708.7 1283.0,1708.7 1284.0,1709.0 1285.0,1708.8 1286.0,1708.6 1287.0,1708.1 1288.0,1707.4 1289.0,1708.0 1290.0,1708.6 1291.0,1708.1 1292.0,1708.7 1293.0,1708.5 1294.0,1708.7 1295.0,1708.4 1296.0,1708.8 1297.0,1708.7 1298.0,1708.2 1299.0,1708.7 1300.0,1708.0 1301.0,1707.5 1302.0,1706.8 1303.0,1708.0 1304.0,1707.8 1305.0,1708.5 1306.0,1708.1 1307.0,1708.1 1308.0,1707.6 1309.0,1707.5 1310.0,1707.2 1311.0,1707.2 1312.0,1707.2 1313.0,1707.6 1314.0,1707.5 1315.0,1706.7 1316.0,1706.9 1317.0,1707.1 1318.0,1707.6 1319.0,1707.4 1320.0,1707.0 1321.0,1707.2 1322.0,1707.1 1323.0,1706.3 1324.0,1706.4 1325.0,1707.2 1326.0,1706.4 1327.0,1706.8 1328.0,1706.6 1329.0,1706.6 1330.0,1706.0 1331.0,1706.1 1332.0,1706.0 1333.0,1705.9 1334.0,1706.3 1335.0,1706.2 1336.0,1705.5 1337.0,1705.2 1338.0,1705.9 1339.0,1705.3 1340.0,1705.6 1341.0,1703.4 1342.0,1705.6 1343.0,1705.4 1344.0,1705.1 1345.0,1705.0 1346.0,1704.9 1347.0,1705.2 1348.0,1705.1 1349.0,1704.3 1350.0,1704.2 1351.0,1704.9 1352.0,1704.8 1353.0,1704.4 1354.0,1704.8 1355.0,1705.1 1356.0,1704.5 1357.0,1704.6 1358.0,1705.1 1359.0,1704.2 1360.0,1704.4 1361.0,1704.6 1362.0,1704.9 1363.0,1704.9 1364.0,1705.1 1365.0,1705.0 1366.0,1704.7 1367.0,1704.4 1368.0,1704.5 1369.0,1704.8 1370.0,1704.0 1371.0,1703.9 1372.0,1703.0 1373.0,1705.0 1374.0,1705.2 1375.0,1703.9 1376.0,1705.1 1377.0,1704.7 1378.0,1704.3 1379.0,1704.7 1380.0,1704.9 1381.0,1705.1 1382.0,1705.4 1383.0,1705.0 1384.0,1705.6 1385.0,1704.4 1386.0,1704.2 1387.0,1704.4 1388.0,1705.6 1389.0,1705.4 1390.0,1704.4 1391.0,1704.6 1392.0,1704.9 1393.0,1705.0 1394.0,1705.2 1395.0,1705.7 1396.0,1706.1 1397.0,1706.2 1398.0,1706.6 1399.0,1706.1 1400.0,1706.2 1401.0,1706.2 1402.0,1707.0 1403.0,1706.9 1404.0,1706.4 1405.0,1706.3 1406.0,1706.8 1407.0,1707.0 1408.0,1707.1 1409.0,1706.7 1410.0,1707.0 1411.0,1706.8 1412.0,1707.1 1413.0,1707.5 1414.0,1707.5 1415.0,1707.6 1416.0,1707.5 1417.0,1707.5 1418.0,1707.3 1419.0,1707.6 1420.0,1706.9 1421.0,1707.7 1422.0,1707.7 1423.0,1707.2 1424.0,1707.7 1425.0,1706.6 1426.0,1707.0 1427.0,1706.8 1428.0,1707.5 1429.0,1707.7 1430.0,1708.0 1431.0,1707.3 1432.0,1707.8 1433.0,1708.0 1434.0,1707.6 1435.0,1707.8 1436.0,1708.1 1437.0,1707.9 1438.0,1707.7 1439.0,1707.3 1440.0,1707.3 1441.0,1707.4 1442.0,1707.1 1443.0,1707.9 1444.0,1707.4 1445.0,1707.8 1446.0,1707.6 1447.0,1708.0 1448.0,1708.1 1449.0,1708.1 1450.0,1708.2 1451.0,1707.7 1452.0,1707.7 1453.0,1708.3 1454.0,1707.6 1455.0,1707.4 1455.5,1708.0 1456.0,1708.2 1456.5,1707.8 1457.0,1707.5 1457.5,1707.9 1458.0,1708.2 1458.5,1707.9 1459.0,1708.0 1459.5,1708.1 1460.0,1708.4 1460.5,1707.7 1461.0,1708.1 1461.5,1707.1 1462.0,1706.8 1462.5,1706.0 1463.0,1699.9 1463.5,1693.4 1464.0,1681.9 1464.5,1670.7 1465.0,1659.5 1465.5,1649.9 1466.0,1641.7 1466.5,1633.7 1467.0,1625.6 1467.5,1617.4 1468.0,1610.0 1468.5,1605.8 1469.0,1601.8 1469.5,1598.8 1470.0,1598.5 1470.5,1598.4 1471.0,1597.6 1471.5,1597.3 1472.0,1598.0 1472.5,1598.5 1473.0,1599.2 1473.5,1600.3 1474.0,1601.3 1474.5,1601.6 1475.0,1600.0 1475.5,1598.7 1476.0,1597.1 1476.5,1596.6 1477.0,1596.0 1477.5,1596.0 1478.0,1595.1 1478.5,1594.5 1479.0,1595.0 1479.5,1595.8 1480.0,1595.9 1480.5,1596.8 1481.0,1597.8 1481.5,1598.9 1482.0,1603.3 1482.5,1607.7 1483.0,1613.6 1483.5,1620.6 1484.0,1628.4 1484.5,1627.7 1485.0,1622.3 1485.5,1617.3 1486.0,1612.8 1486.5,1607.9 1487.0,1603.8 1487.5,1599.0 1488.0,1594.2 1488.5,1590.6 1489.0,1589.5 1489.5,1588.4 1490.0,1586.5 1490.5,1585.5 1491.0,1584.1 1491.5,1584.0 1492.0,1584.5 1492.5,1586.1 1493.0,1587.3 1493.5,1588.7 1494.0,1588.7 1494.5,1590.0 1495.0,1591.8 1495.5,1596.3 1496.0,1599.8 1496.5,1604.3 1497.0,1608.8 1497.5,1613.1 1498.0,1616.1 1498.5,1624.2 1499.0,1632.0 1499.5,1639.7 1500.0,1646.6 1500.5,1654.4 1501.0,1662.4 1501.5,1671.0 1502.0,1678.4 1502.5,1686.4 1503.0,1693.7 1503.5,1693.8 1504.0,1694.0 1504.5,1694.3 1505.0,1693.3 1505.5,1691.9 1506.0,1690.9 1506.5,1692.7 1507.0,1694.6 1507.5,1696.7 1508.0,1698.4 1508.5,1699.8 1509.0,1701.0 1509.5,1701.6 1510.0,1702.3 1510.5,1703.1 1511.0,1704.0 1511.5,1704.5 1512.0,1704.7 1512.5,1705.4 1513.0,1706.0 1513.5,1706.3 1514.0,1705.4 1514.5,1697.2 1515.0,1688.0 1515.5,1678.3 1516.0,1668.7 1516.5,1661.6 1517.0,1659.1 1517.5,1656.4 1518.0,1653.3 1518.5,1651.2 1519.0,1649.8 1519.5,1650.2 1520.0,1651.7 1520.5,1653.2 1521.0,1656.0 1521.5,1658.0 1522.0,1659.6 1522.5,1663.0 1523.0,1669.1 1523.5,1676.1 1524.0,1682.4 1524.5,1689.5 1525.0,1695.2 1525.5,1695.2 1526.0,1695.2 1526.5,1696.5 1527.0,1697.1 1527.5,1697.9 1528.0,1697.6 1528.5,1698.2 1529.0,1698.3 1529.5,1699.2 1530.0,1690.1 1530.5,1679.2 1531.0,1666.9 1531.5,1654.5 1532.0,1647.9 1532.5,1643.0 1533.0,1638.2 1533.5,1633.0 1534.0,1628.8 1534.5,1623.9 1535.0,1619.5 1535.5,1615.1 1536.0,1611.3 1536.5,1607.1 1537.0,1602.9 1537.5,1599.1 1538.0,1596.8 1538.5,1597.1 1539.0,1596.3 1539.5,1596.1 1540.0,1595.9 1540.5,1596.9 1541.0,1597.7 1541.5,1598.4 1542.0,1599.7 1542.5,1602.6 1543.0,1608.6 1543.5,1614.1 1544.0,1619.6 1544.5,1625.5 1545.0,1631.5 1545.5,1637.4 1546.0,1643.3 1546.5,1648.8 1547.0,1654.6 1547.5,1660.7 1548.0,1667.2 1548.5,1672.7 1549.0,1677.8 1549.5,1683.1 1550.0,1687.5 1550.5,1692.2 1551.0,1690.7 1551.5,1691.0 1552.0,1690.6 1552.5,1691.9 1553.0,1692.6 1553.5,1693.2 1554.0,1694.1 1554.5,1694.8 1555.0,1687.5 1555.5,1678.6 1556.0,1669.1 1556.5,1659.8 1557.0,1649.1 1557.5,1643.3 1558.0,1638.5 1558.5,1634.4 1559.0,1630.2 1559.5,1625.6 1560.0,1621.4 1560.5,1617.4 1561.0,1613.3 1561.5,1609.4 1562.0,1606.2 1562.5,1603.4 1563.0,1600.7 1563.5,1597.5 1564.0,1596.5 1564.5,1595.3 1565.0,1594.7 1565.5,1595.2 1566.0,1597.3 1566.5,1598.5 1567.0,1600.3 1567.5,1603.8 1568.0,1608.3 1568.5,1612.7 1569.0,1619.8 1569.5,1626.7 1570.0,1634.2 1570.5,1641.2 1571.0,1647.9 1571.5,1654.9 1572.0,1662.1 1572.5,1669.3 1573.0,1677.5 1573.5,1685.2 1574.0,1693.8 1574.5,1693.4 1575.0,1693.3 1575.5,1693.0 1576.0,1692.7 1576.5,1692.9 1577.0,1693.9 1577.5,1694.7 1578.0,1696.1 1578.5,1687.5 1579.0,1679.7 1579.5,1670.7 1580.0,1661.5 1580.5,1652.3 1581.0,1643.3 1581.5,1635.1 1582.0,1630.1 1582.5,1626.8 1583.0,1623.2 1583.5,1619.5 1584.0,1616.0 1584.5,1612.1 1585.0,1609.0 1585.5,1605.3 1586.0,1603.6 1586.5,1603.4 1587.0,1603.0 1587.5,1602.3 1588.0,1601.3 1588.5,1601.3 1589.0,1601.5 1589.5,1602.4 1590.0,1602.9 1590.5,1605.7 1591.0,1608.1 1591.5,1611.9 1592.0,1617.1 1592.5,1621.9 1593.0,1626.8 1593.5,1632.7 1594.0,1638.2 1594.5,1643.5 1595.0,1648.5 1595.5,1655.2 1596.0,1662.2 1596.5,1669.2 1597.0,1676.2 1597.5,1684.1 1598.0,1691.2 1598.5,1691.5 1599.0,1690.6 1599.5,1690.6 1600.0,1690.5 1600.5,1690.7 1601.0,1692.1 1601.5,1693.2 1602.0,1694.2 1602.5,1695.8 1603.0,1696.6 1603.5,1696.8 1604.0,1689.1 1604.5,1682.9 1605.0,1675.7 1605.5,1668.9 1606.0,1662.0 1606.5,1655.4 1607.0,1648.6 1607.5,1640.9 1608.0,1633.3 1608.5,1628.4 1609.0,1625.0 1609.5,1622.4 1610.0,1619.3 1610.5,1615.8 1611.0,1612.2 1611.5,1608.8 1612.0,1606.3 1612.5,1604.2 1613.0,1603.5 1613.5,1601.9 1614.0,1600.4 1614.5,1600.3 1615.0,1601.1 1615.5,1602.4 1616.0,1603.2 1616.5,1606.6 1617.0,1609.7 1617.5,1613.6 1618.0,1619.9 1618.5,1626.1 1619.0,1633.3 1619.5,1638.8 1620.0,1645.0 1620.5,1651.1 1621.0,1658.0 1621.5,1664.0 1622.0,1670.0 1622.5,1675.9 1623.0,1682.8 1623.5,1689.3 1624.0,1695.7 1624.5,1695.5 1625.0,1696.2 1625.5,1697.1 1626.0,1697.7 1626.5,1697.9 1627.0,1698.4 1627.5,1699.0 1628.0,1699.8 1628.5,1700.4 1629.0,1701.1 1629.5,1701.6 1630.0,1699.6 1630.5,1686.4 1631.0,1671.2 1631.5,1655.6 1632.0,1643.0 1632.5,1640.1 1633.0,1637.8 1633.5,1634.7 1634.0,1631.6 1634.5,1627.6 1635.0,1624.2 1635.5,1620.4 1636.0,1618.7 1636.5,1616.8 1637.0,1615.4 1637.5,1613.9 1638.0,1612.6 1638.5,1611.1 1639.0,1609.7 1639.5,1611.0 1640.0,1612.5 1640.5,1614.3 1641.0,1616.6 1641.5,1618.3 1642.0,1619.4 1642.5,1624.5 1643.0,1629.8 1643.5,1635.7 1644.0,1641.8 1644.5,1647.9 1645.0,1653.3 1645.5,1656.8 1646.0,1661.5 1646.5,1666.1 1647.0,1671.0 1647.5,1674.6 1648.0,1678.6 1648.5,1682.8 1649.0,1691.2 1649.5,1694.9 1650.0,1694.4 1650.5,1694.0 1651.0,1693.5 1651.5,1693.0 1652.0,1693.0 1652.5,1696.0 1653.0,1691.4 1653.5,1682.5 1654.0,1673.7 1654.5,1665.9 1655.0,1657.7 1655.5,1649.0 1656.0,1642.8 1656.5,1639.1 1657.0,1635.5 1657.5,1631.7 1658.0,1627.9 1658.5,1624.3 1659.0,1620.7 1659.5,1618.4 1660.0,1618.3 1660.5,1618.0 1661.0,1617.4 1661.5,1617.1 1662.0,1617.3 1662.5,1618.0 1663.0,1618.9 1663.5,1620.2 1664.0,1621.1 1664.5,1622.7 1665.0,1623.6 1665.5,1628.1 1666.0,1633.5 1666.5,1639.2 1667.0,1644.5 1667.5,1650.9 1668.0,1656.4 1668.5,1662.7 1669.0,1667.3 1669.5,1671.3 1670.0,1674.9 1670.5,1678.7 1671.0,1682.8 1671.5,1686.7 1672.0,1689.7 1672.5,1690.1 1673.0,1690.5 1673.5,1691.0 1674.0,1692.2 1674.5,1693.0 1675.0,1693.7 1675.5,1695.3 1676.0,1696.9 1676.5,1698.3 1677.0,1699.8 1677.5,1701.7 1678.0,1704.0 1678.5,1705.1 1679.0,1701.7 1679.5,1691.1 1680.0,1681.1 1680.5,1671.7 1681.0,1662.0 1681.5,1652.1 1682.0,1643.6 1682.5,1642.5 1683.0,1641.5 1683.5,1640.7 1684.0,1639.9 1684.5,1638.4 1685.0,1636.9 1685.5,1635.8 1686.0,1634.6 1686.5,1634.1 1687.0,1632.7 1687.5,1631.6 1688.0,1630.0 1688.5,1629.3 1689.0,1629.4 1689.5,1631.5 1690.0,1632.4 1690.5,1634.2 1691.0,1635.7 1691.5,1638.4 1692.0,1642.9 1692.5,1647.5 1693.0,1652.0 1693.5,1657.0 1694.0,1661.4 1694.5,1666.4 1695.0,1671.0 1695.5,1676.2 1696.0,1680.8 1696.5,1686.0 1697.0,1691.5 1697.5,1696.2 1698.0,1696.7 1698.5,1696.4 1699.0,1696.7 1699.5,1697.2 1700.0,1697.7 1700.5,1698.3 1701.0,1699.2 1701.5,1700.4 1702.0,1701.3 1702.5,1694.3 1703.0,1685.2 1703.5,1676.0 1704.0,1667.3 1704.5,1657.9 1705.0,1649.3 1705.5,1646.6 1706.0,1646.4 1706.5,1645.7 1707.0,1644.2 1707.5,1643.7 1708.0,1642.3 1708.5,1641.7 1709.0,1639.9 1709.5,1638.7 1710.0,1637.9 1710.5,1638.9 1711.0,1639.2 1711.5,1639.8 1712.0,1640.3 1712.5,1641.4 1713.0,1641.8 1713.5,1642.2 1714.0,1642.6 1714.5,1643.5 1715.0,1647.5 1715.5,1652.7 1716.0,1657.1 1716.5,1662.1 1717.0,1666.7 1717.5,1671.8 1718.0,1676.5 1718.5,1680.8 1719.0,1684.4 1719.5,1686.6 1720.0,1689.6 1720.5,1692.8 1721.0,1696.1 1721.5,1699.2 1722.0,1700.8 1722.5,1700.0 1723.0,1699.7 1723.5,1699.4 1724.0,1699.6 1724.5,1699.7 1725.0,1700.3 1725.5,1701.5 1726.0,1702.7 1726.5,1703.4 1727.0,1704.2 1727.5,1704.8 1728.0,1706.0 1728.5,1706.1 1729.0,1698.6 1729.5,1689.7 1730.0,1680.0 1730.5,1671.0 1731.0,1662.3 1731.5,1656.3 1732.0,1655.8 1732.5,1654.1 1733.0,1653.3 1733.5,1651.6 1734.0,1650.3 1734.5,1648.6 1735.0,1647.5 1735.5,1646.5 1736.0,1647.2 1736.5,1647.6 1737.0,1647.9 1737.5,1648.8 1738.0,1649.7 1738.5,1650.7 1739.0,1651.7 1739.5,1655.8 1740.0,1659.7 1740.5,1663.5 1741.0,1668.5 1741.5,1673.4 1742.0,1678.3 1742.5,1682.6 1743.0,1686.3 1743.5,1689.1 1744.0,1692.0 1744.5,1694.4 1745.0,1695.5 1745.5,1696.2 1746.0,1696.9 1746.5,1697.2 1747.0,1697.3 1747.5,1696.9 1748.0,1697.4 1748.5,1698.1 1749.0,1699.6 1749.5,1701.5 1750.0,1702.3 1750.5,1702.8 1751.0,1702.7 1751.5,1703.5 1752.0,1704.6 1752.5,1705.6 1753.0,1707.1 1753.5,1706.4 1754.0,1703.2 1754.5,1695.1 1755.0,1686.8 1755.5,1678.7 1756.0,1669.8 1756.5,1664.6 1757.0,1662.0 1757.5,1659.8 1758.0,1657.1 1758.5,1655.8 1759.0,1654.2 1759.5,1655.3 1760.0,1655.9 1760.5,1657.1 1761.0,1658.1 1761.5,1659.1 1762.0,1659.9 1762.5,1660.5 1763.0,1660.8 1763.5,1661.8 1764.0,1662.9 1764.5,1667.4 1765.0,1671.6 1765.5,1675.5 1766.0,1679.6 1766.5,1683.4 1767.0,1687.3 1767.5,1690.3 1768.0,1693.4 1768.5,1696.8 1769.0,1700.2 1769.5,1703.3 1770.0,1703.9 1770.5,1704.0 1771.0,1703.9 1771.5,1703.2 1772.0,1703.6 1772.5,1704.2 1773.0,1704.9 1773.5,1705.2 1774.0,1705.3 1774.5,1705.2 1775.0,1704.8 1775.5,1704.6 1776.0,1705.4 1776.5,1706.1 1777.0,1706.4 1777.5,1706.8 1778.0,1706.9 1778.5,1707.0 1779.0,1706.4 1779.5,1707.0 1780.0,1705.5 1780.5,1700.6 1781.0,1694.8 1781.5,1688.0 1782.0,1683.4 1782.5,1681.8 1783.0,1681.1 1783.5,1679.5 1784.0,1677.6 1784.5,1677.2 1785.0,1677.9 1785.5,1679.0 1786.0,1680.0 1786.5,1681.1 1787.0,1682.3 1787.5,1683.3 1788.0,1684.2 1788.5,1685.1 1789.0,1686.2 1789.5,1687.4 1790.0,1688.1 1790.5,1688.9 1791.0,1690.1 1791.5,1692.1 1792.0,1693.0 1792.5,1694.8 1793.0,1695.5 1793.5,1697.3 1794.0,1698.3 1794.5,1700.2 1795.0,1701.8 1795.5,1701.5 1796.0,1700.9 1796.5,1700.2 1797.0,1699.4 1797.5,1699.3 1798.0,1698.8 1798.5,1698.3 1799.0,1697.1 1799.5,1697.8 1800.0,1699.1 1800.5,1700.3 1801.0,1700.9 1801.5,1702.5 1802.0,1703.2 1802.5,1704.7 1803.0,1704.4 1803.5,1705.0 1804.0,1704.7 1804.5,1705.3 1805.0,1705.5 1805.5,1705.8 1806.0,1706.1 1806.5,1706.1 1807.0,1706.3 1807.5,1706.2 1808.0,1706.6 1808.5,1706.7 1809.0,1707.1 1809.5,1707.6 1810.0,1708.3 1810.5,1708.9 1811.0,1709.5 1811.5,1709.5 1812.0,1710.2 1812.5,1710.0 1813.0,1709.7 1813.5,1710.2 1814.0,1710.6 1814.5,1710.2 1815.0,1710.0 1815.5,1710.4 1816.0,1710.2 1816.5,1710.3 1817.0,1710.5 1817.5,1710.6 1818.0,1710.2 1818.5,1709.4 1819.0,1709.7 1819.5,1709.5 1820.0,1710.3 1820.5,1710.3 1821.0,1709.9 1821.5,1708.9 1822.0,1709.4 1822.5,1709.8 1823.0,1709.6 1823.5,1709.8 1824.0,1709.7 1824.5,1709.6 1825.0,1709.0 1826.0,1708.5 1827.0,1708.1 1828.0,1708.1 1829.0,1708.8 1830.0,1708.9 1831.0,1709.2 1832.0,1709.3 1833.0,1708.9 1834.0,1709.3 1835.0,1709.1 1836.0,1708.9 1837.0,1709.2 1838.0,1709.2 1839.0,1708.5 1840.0,1709.0 1841.0,1708.8 1842.0,1707.7 1843.0,1707.6 1844.0,1708.2 1845.0,1708.7 1846.0,1708.5 1847.0,1707.5 1848.0,1708.4 1849.0,1708.3 1850.0,1706.8 1851.0,1708.0 1852.0,1707.9 1853.0,1707.4 1854.0,1707.3 1855.0,1707.3 1856.0,1707.7 1857.0,1707.9 1858.0,1707.6 1859.0,1707.3 1860.0,1707.5 1861.0,1707.5 1862.0,1708.0 1863.0,1707.8 1864.0,1708.0 1865.0,1707.2 1866.0,1707.1 1867.0,1707.3 1868.0,1707.8 1869.0,1707.1 1870.0,1706.3 1871.0,1706.2 1872.0,1707.0 1873.0,1707.4 1874.0,1707.4 1875.0,1705.9 1876.0,1706.8 1877.0,1707.6 1878.0,1706.8 1879.0,1707.3 1880.0,1707.5 1881.0,1707.5 1882.0,1707.4 1883.0,1706.8 1884.0,1706.7 1885.0,1707.2 1886.0,1707.8 1887.0,1707.4 1888.0,1707.4 1889.0,1707.9 1890.0,1708.1 1891.0,1707.3 1892.0,1707.2 1893.0,1708.0 1894.0,1707.9 1895.0,1706.9 1896.0,1707.4 1897.0,1708.5 1898.0,1708.2 1899.0,1708.6 1900.0,1708.3 1901.0,1708.0 1902.0,1707.6 1903.0,1708.5 1904.0,1708.7 1905.0,1708.6 1906.0,1707.9 1907.0,1708.0 1908.0,1707.6 1909.0,1708.0 1910.0,1708.4 1911.0,1708.8 1912.0,1707.6 1913.0,1708.6 1914.0,1708.6 1915.0,1709.1 1916.0,1708.5 1917.0,1709.2 1918.0,1708.7 1919.0,1709.3 1920.0,1709.2 1921.0,1709.5 1922.0,1709.9 1923.0,1709.7 1924.0,1709.3 1925.0,1709.6 1926.0,1710.0 1927.0,1709.9 1928.0,1709.5 1929.0,1710.4 1930.0,1710.3 1931.0,1709.9 1932.0,1710.0 1933.0,1710.2 1934.0,1710.6 1935.0,1710.4 1936.0,1709.5 1937.0,1709.7 1938.0,1709.4 1939.0,1710.1 1940.0,1710.6 1941.0,1710.3 1942.0,1710.0 1943.0,1709.8 1944.0,1710.3 1945.0,1710.3 1946.0,1709.8 1947.0,1710.5 1948.0,1710.0 1949.0,1710.2 1950.0,1710.4 1951.0,1709.3 1952.0,1709.5 1953.0,1709.7 1954.0,1709.7 1955.0,1708.8 1956.0,1708.4 1957.0,1708.7 1958.0,1709.4 1959.0,1709.8 1960.0,1709.6 1961.0,1709.8 1962.0,1709.5 1963.0,1709.5 1964.0,1709.3 1965.0,1709.1 1966.0,1709.1 1967.0,1709.3 1968.0,1708.2 1969.0,1708.7 1970.0,1708.8 1971.0,1709.0 1972.0,1709.1 1973.0,1709.0 1974.0,1709.1 1975.0,1708.4 1976.0,1708.7 1977.0,1707.9 1978.0,1708.0 1979.0,1708.0 1980.0,1708.4 1981.0,1708.4 1982.0,1708.9 1983.0,1709.0 1984.0,1708.8 1985.0,1709.0 1986.0,1708.5 1987.0,1708.4 1988.0,1708.4 1989.0,1708.7 1990.0,1707.1 1991.0,1706.9 1992.0,1707.2 1993.0,1708.6 1994.0,1708.2 1995.0,1708.6 1996.0,1708.7 1997.0,1708.6 1998.0,1708.7 1999.0,1708.8 2000.0,1708.2 2001.0,1708.8 2002.0,1708.4 2003.0,1708.2 2004.0,1708.9 2005.0,1709.1 2006.0,1709.2 2007.0,1707.0 2008.0,1709.1 2009.0,1708.8 2010.0,1709.4 2011.0,1708.2 2012.0,1708.6 2013.0,1709.2 2014.0,1709.4 2015.0,1709.4 2016.0,1709.6 2017.0,1709.2 2018.0,1708.9 2019.0,1709.2 2020.0,1709.7 2021.0,1708.9 2022.0,1709.6 2023.0,1709.6 2024.0,1709.8 2025.0,1709.5 2026.0,1709.5 2027.0,1709.2 2028.0,1709.2 2029.0,1708.2 2030.0,1709.5 2031.0,1709.2 2032.0,1709.3 2033.0,1709.0 2034.0,1709.9 2035.0,1708.6 2036.0,1708.0 2037.0,1707.8 2038.0,1708.5 2039.0,1709.6 2040.0,1708.9 2041.0,1708.4 2042.0,1709.1 2043.0,1708.9 2044.0,1708.6 2045.0,1708.2 2046.0,1709.2 2047.0,1709.2 2048.0,1708.9 2049.0,1709.3 2050.0,1709.2 2051.0,1709.0 2052.0,1708.9 2053.0,1707.9 2054.0,1708.5 2055.0,1709.0 2056.0,1708.1 2057.0,1708.1 2058.0,1708.3 2059.0,1707.5 2060.0,1707.6 2061.0,1708.2 2062.0,1707.6 2063.0,1707.8 2064.0,1708.1 2065.0,1707.2 2066.0,1707.0 2067.0,1707.3 2068.0,1707.8 2069.0,1707.1 2070.0,1706.1 2071.0,1706.5 2072.0,1706.2 2073.0,1707.0 2074.0,1707.0 2075.0,1706.7 2076.0,1706.9 2077.0,1707.2 2078.0,1707.4 2079.0,1707.1 2080.0,1707.1 2081.0,1707.0 2082.0,1706.7 2083.0,1706.8 2084.0,1706.2 2085.0,1706.4 2086.0,1706.6 2087.0,1706.8 2088.0,1706.5 2089.0,1706.3 2090.0,1706.7 2091.0,1706.5 2092.0,1706.2 2093.0,1706.2 2094.0,1706.6 2095.0,1706.8 2096.0,1706.8 2097.0,1706.9 2098.0,1706.9 2099.0,1706.2 2100.0,1705.7 2101.0,1706.1 2102.0,1706.6 2103.0,1706.9 2104.0,1707.2 2105.0,1707.0 2106.0,1706.9 2107.0,1706.4 2108.0,1705.5 2109.0,1705.9 2110.0,1707.1 2111.0,1707.5 2112.0,1707.4 2113.0,1707.4 2114.0,1707.7 2115.0,1707.5 2116.0,1707.6 2117.0,1707.5 2118.0,1706.9 2119.0,1707.2 2120.0,1707.2 2121.0,1707.2 2122.0,1707.4 2123.0,1707.6 2124.0,1708.1 2125.0,1708.3 2126.0,1708.5 2127.0,1708.1 2128.0,1707.8 2129.0,1707.8 2130.0,1708.1 2131.0,1707.2 2132.0,1707.2 2133.0,1708.4 2134.0,1708.5 2135.0,1708.7 2136.0,1708.8 2137.0,1708.4 2138.0,1708.8 2139.0,1708.1 2140.0,1708.3 2141.0,1707.8 2142.0,1707.0 2143.0,1707.8 2144.0,1708.8 2145.0,1708.6 2146.0,1708.1 2147.0,1707.9 2148.0,1708.3 2149.0,1708.3 2150.0,1708.6 2151.0,1708.6 2152.0,1708.5 2153.0,1708.2 2154.0,1708.0 2155.0,1707.4 2156.0,1708.3 2157.0,1708.4 2158.0,1708.2 2159.0,1708.1 2160.0,1708.1 2161.0,1707.9 2162.0,1707.7 2163.0,1707.8 2164.0,1708.0 2165.0,1708.0 2166.0,1706.5 2167.0,1707.1 2168.0,1706.1 2169.0,1706.0 2170.0,1705.7 2171.0,1706.8 2172.0,1707.6 2173.0,1707.3 2174.0,1706.7 2175.0,1706.4 2176.0,1706.3 2177.0,1707.3 2178.0,1707.2 2179.0,1706.5 2180.0,1705.0 2181.0,1704.5 2182.0,1705.6 2183.0,1706.2 2184.0,1706.7 2185.0,1706.1 2186.0,1706.7 2187.0,1706.5 2188.0,1706.4 2189.0,1707.1 2190.0,1707.0 2191.0,1705.5 2192.0,1706.2 2193.0,1705.9 2194.0,1706.5 2195.0,1706.9 2196.0,1706.6 2197.0,1706.7 2198.0,1706.0 2199.0,1706.2 2200.0,1705.6 2201.0,1706.5 2202.0,1706.1 2203.0,1707.0 2204.0,1706.6 2205.0,1707.0 2206.0,1707.0 2207.0,1706.8 2208.0,1706.9 2209.0,1706.6 2210.0,1705.3 2211.0,1706.3 2212.0,1706.0 2213.0,1706.7 2214.0,1706.7 2215.0,1706.8 2216.0,1706.8 2217.0,1707.1 2218.0,1706.1 2219.0,1706.5 2220.0,1706.6 2221.0,1707.8 2222.0,1707.8 2223.0,1707.8 2224.0,1707.4 2225.0,1707.9 2226.0,1707.5 2227.0,1707.3 2228.0,1707.1 2229.0,1707.0 2230.0,1707.1 2231.0,1708.4 2232.0,1707.2 2233.0,1707.2 2234.0,1708.0 2235.0,1708.6 2236.0,1708.0 2237.0,1708.0 2238.0,1708.6 2239.0,1708.9 2240.0,1709.1 2241.0,1707.8 2242.0,1708.0 2243.0,1709.4 2244.0,1708.6 2245.0,1708.9 2246.0,1709.3 2247.0,1709.1 2248.0,1709.1 2249.0,1709.7 2250.0,1708.3 2251.0,1708.3 2252.0,1708.4 2253.0,1709.5 2254.0,1708.9 2255.0,1709.3 2256.0,1708.6 2257.0,1709.0 2258.0,1709.0 2259.0,1710.0 2260.0,1709.5 2261.0,1709.4 2262.0,1710.2 2263.0,1709.9 2264.0,1709.7 2265.0,1709.0 2266.0,1709.6 2267.0,1709.2 2268.0,1709.0 2269.0,1709.0 2270.0,1709.3 2271.0,1710.2 2272.0,1710.0 2273.0,1709.6 2274.0,1710.1 2275.0,1710.3 2276.0,1710.2 2277.0,1710.2 2278.0,1710.2 2279.0,1709.3 2280.0,1709.6 2281.0,1710.1 2282.0,1709.9 2283.0,1710.1 2284.0,1710.1 2285.0,1709.7 2286.0,1709.4 2287.0,1708.6 2288.0,1708.3 2289.0,1709.9 2290.0,1710.0 2291.0,1709.8 2292.0,1708.9 2293.0,1709.1 2294.0,1709.4 2295.0,1708.9 2296.0,1707.8 2297.0,1707.9 2298.0,1708.8 2299.0,1709.8 2300.0,1709.6 2301.0,1709.1 2302.0,1709.5 2303.0,1709.0 2304.0,1708.9 2305.0,1709.4 2306.0,1709.4 2307.0,1709.3 2308.0,1709.1 2309.0,1708.9 2310.0,1708.1 2311.0,1707.5 2312.0,1708.3 2313.0,1707.7 2314.0,1708.7 2315.0,1707.6 2316.0,1708.4 2317.0,1707.2 2318.0,1707.8 2319.0,1708.2 2320.0,1707.7 2321.0,1706.9 2322.0,1707.3 2323.0,1707.7 2324.0,1708.2 2325.0,1707.8 2326.0,1708.0 2327.0,1707.6 2328.0,1707.7 2329.0,1706.9 2330.0,1707.2 2331.0,1707.0 2332.0,1707.8 2333.0,1707.6 2334.0,1706.7 2335.0,1706.9 2336.0,1707.0 2337.0,1707.7 2338.0,1707.4 2339.0,1706.5 2340.0,1706.9 2341.0,1705.7 2342.0,1706.7 2343.0,1707.5 2344.0,1706.8 2345.0,1707.0 2346.0,1707.1 2347.0,1707.6 2348.0,1706.5 2349.0,1707.4 2350.0,1707.2 2351.0,1706.8 2352.0,1707.1 2353.0,1706.7 2354.0,1707.2 2355.0,1707.5 2356.0,1706.3 2357.0,1705.8 2358.0,1705.9 2359.0,1707.5 2360.0,1707.7 2361.0,1707.6 2362.0,1707.4 2363.0,1707.0 2364.0,1706.7 2365.0,1707.5 2366.0,1706.4 2367.0,1707.6 2368.0,1707.2 2369.0,1707.6 2370.0,1707.3 2371.0,1707.7 2372.0,1706.9 2373.0,1706.7 2374.0,1707.3 2375.0,1707.3 2376.0,1706.9 2377.0,1707.2 2378.0,1707.8 2379.0,1707.6 2380.0,1707.9 2381.0,1707.2 2382.0,1707.7 2383.0,1707.2 2384.0,1706.9 2385.0,1707.5 2386.0,1706.7 2387.0,1706.1 2388.0,1707.2 2389.0,1707.9 2390.0,1707.2 2391.0,1707.7 2392.0,1707.1 2393.0,1707.1 2394.0,1706.7 2395.0,1707.4 2396.0,1707.6 2397.0,1707.5 2398.0,1706.5 2399.0,1706.2 2400.0,1707.2 2401.0,1707.7 2402.0,1707.5 2403.0,1706.5 2404.0,1706.0 2405.0,1705.7 2406.0,1707.1 2407.0,1706.7 2408.0,1706.8 2409.0,1706.7 2410.0,1707.1 2411.0,1706.5 2412.0,1706.3 2413.0,1707.5 2414.0,1707.4 2415.0,1707.5 2416.0,1707.3 2417.0,1707.4 2418.0,1707.3 2419.0,1706.7 2420.0,1706.5 2421.0,1706.4 2422.0,1706.7 2423.0,1707.3 2424.0,1706.3 2425.0,1705.9 2426.0,1706.3 2427.0,1707.4 2428.0,1707.1 2429.0,1707.3 2430.0,1707.6 2431.0,1707.5 2432.0,1707.3 2433.0,1707.4 2434.0,1707.7 2435.0,1707.6 2436.0,1707.4 2437.0,1707.6 2438.0,1707.5 2439.0,1708.1 2440.0,1708.5 2441.0,1707.7 2442.0,1708.7 2443.0,1708.0 2444.0,1708.0 2445.0,1708.3 2446.0,1708.7 2447.0,1709.0 2448.0,1708.7 2449.0,1709.3 2450.0,1708.3 2451.0,1709.6 2452.0,1709.5 2453.0,1709.6 2454.0,1709.3 2455.0,1710.0 2456.0,1709.4 2457.0,1709.7 2458.0,1709.8 2459.0,1709.5 2460.0,1709.4 2461.0,1709.7 2462.0,1710.8 2463.0,1710.3 2464.0,1710.0 2465.0,1709.4 2466.0,1710.7 2467.0,1711.1 2468.0,1711.1 2469.0,1711.0 2470.0,1711.0 2471.0,1711.3 2472.0,1711.4 2473.0,1710.8 2474.0,1711.0 2475.0,1710.2 2476.0,1708.8 2477.0,1709.5 2478.0,1710.3 2479.0,1711.8 2480.0,1711.1 2481.0,1711.2 2482.0,1711.7 2483.0,1712.1 2484.0,1711.5 2485.0,1711.8 2486.0,1711.7 2487.0,1712.1 2488.0,1712.3 2489.0,1712.3 2490.0,1712.1 2491.0,1711.7 2492.0,1711.7 2493.0,1712.0 2494.0,1712.1 2495.0,1711.9 2496.0,1712.2 2497.0,1712.1 2498.0,1711.7 2499.0,1711.7 2500.0,1710.8 2501.0,1710.5 2502.0,1710.2 2503.0,1710.9 2504.0,1711.3 2505.0,1711.2 2506.0,1710.5 2507.0,1710.6 2508.0,1710.0 2509.0,1710.7 2510.0,1711.2 2511.0,1710.9 2512.0,1710.1 2513.0,1710.2 2514.0,1709.9 2515.0,1709.8 2516.0,1710.7 2517.0,1710.3 2518.0,1709.9 2519.0,1710.4 2520.0,1709.8 2521.0,1710.0 2522.0,1710.1 2523.0,1710.3 2524.0,1710.0 2525.0,1709.6 2526.0,1709.7 2527.0,1709.1 2528.0,1708.8 2529.0,1708.5 2530.0,1709.1 2531.0,1709.5 2532.0,1709.0 2533.0,1709.3 2534.0,1709.2 2535.0,1708.7 2536.0,1709.2 2537.0,1708.7 2538.0,1709.1 2539.0,1708.6 2540.0,1709.2 2541.0,1708.9 2542.0,1708.3 2543.0,1707.9 2544.0,1707.9 2545.0,1707.7 2546.0,1708.6 2547.0,1709.0 2548.0,1708.3 2549.0,1707.2 2550.0,1706.7 2551.0,1708.3 2552.0,1708.6 2553.0,1708.4 2554.0,1708.1 2555.0,1707.7 2556.0,1707.1 2557.0,1707.3 2558.0,1707.3 2559.0,1708.1 2560.0,1708.0 2561.0,1707.1 2562.0,1708.5 2563.0,1707.3 2564.0,1706.5 2565.0,1707.7 2566.0,1707.9 2567.0,1707.7 2568.0,1708.3 2569.0,1707.7 2570.0,1707.3 2571.0,1708.0 2572.0,1708.1 2573.0,1707.4 2574.0,1708.1 2575.0,1708.0 2576.0,1707.8 2577.0,1707.9 2578.0,1706.6 2579.0,1706.7 2580.0,1707.7 2581.0,1706.7 2582.0,1706.8 2583.0,1707.4 2584.0,1707.3 2585.0,1707.4 2586.0,1706.5 2587.0,1707.1 2588.0,1706.8 2589.0,1707.6 2590.0,1707.5 2591.0,1707.4 2592.0,1707.2 2593.0,1707.0 2594.0,1707.0 2595.0,1707.5 2596.0,1707.6 2597.0,1707.8 2598.0,1707.6 2599.0,1707.5 2600.0,1707.3 2601.0,1707.2 2602.0,1707.4 2603.0,1707.5 2604.0,1707.8 2605.0,1707.9 2606.0,1707.9 2607.0,1707.7 2608.0,1707.9 2609.0,1708.0 2610.0,1707.7 2611.0,1707.7 2612.0,1707.1 2613.0,1705.7 2614.0,1706.8 2615.0,1706.3 2616.0,1706.8 2617.0,1707.1 2618.0,1707.1 2619.0,1707.8 2620.0,1707.9 2621.0,1707.6 2622.0,1707.3 2623.0,1707.1 2624.0,1708.3 2625.0,1707.8 2626.0,1707.8 2627.0,1708.1 2628.0,1708.8 2629.0,1708.8 2630.0,1707.9 2631.0,1705.3 2632.0,1707.2 2633.0,1705.8 2634.0,1708.2 2635.0,1708.9 2636.0,1709.0 2637.0,1709.2 2638.0,1709.0 2639.0,1709.2 2640.0,1708.6 2641.0,1709.1 2642.0,1708.9 2643.0,1709.4 2644.0,1708.6 2645.0,1708.8 2646.0,1708.9 2647.0,1709.5 2648.0,1709.5 2649.0,1709.2 2650.0,1709.6 2651.0,1709.6 2652.0,1709.5 2653.0,1710.0 2654.0,1710.0 2655.0,1710.1 2656.0,1709.9 2657.0,1709.9 2658.0,1710.3 2659.0,1710.3 2660.0,1709.8 2661.0,1709.2 2662.0,1709.8 2663.0,1709.9 2664.0,1710.1 2665.0,1709.4 2666.0,1707.8 2667.0,1709.3 2668.0,1708.6 2669.0,1709.8 2670.0,1709.9 2671.0,1709.7 2672.0,1709.8 2673.0,1710.1 2674.0,1709.8 2675.0,1709.6 2676.0,1710.0 2677.0,1709.9 2678.0,1709.4 2679.0,1709.5 2680.0,1709.0 2681.0,1708.9 2682.0,1708.7 2683.0,1709.6 2684.0,1709.5 2685.0,1709.2 2686.0,1709.3 2687.0,1709.4 2688.0,1708.5 2689.0,1708.9 2690.0,1708.7 2691.0,1709.2 2692.0,1709.0 2693.0,1709.1 2694.0,1709.0 2695.0,1708.4 2696.0,1708.6 2697.0,1708.8 2698.0,1708.1 2699.0,1708.7 2700.0,1708.6 2701.0,1708.0 2702.0,1708.7 2703.0,1708.6 2704.0,1708.1 2705.0,1708.5 2706.0,1708.5 2707.0,1707.6 2708.0,1707.8 2709.0,1707.8 2710.0,1708.0 2711.0,1707.8 2712.0,1708.4 2713.0,1708.0 2714.0,1707.7 2715.0,1708.4 2716.0,1708.2 2717.0,1707.5 2718.0,1707.4 2719.0,1708.4 2720.0,1707.7 2721.0,1707.9 2722.0,1708.0 2723.0,1708.5 2724.0,1708.5 2725.0,1708.3 2726.0,1708.0 2727.0,1707.6 2728.0,1708.1 2729.0,1707.7 2730.0,1708.7 2731.0,1707.4 2732.0,1708.3 2733.0,1708.0 2734.0,1708.5 2735.0,1707.6 2736.0,1707.7 2737.0,1707.9 2738.0,1708.5 2739.0,1708.6 2740.0,1709.1 2741.0,1709.1 2742.0,1709.0 2743.0,1708.5 2744.0,1709.1 2745.0,1709.4 2746.0,1708.0 2747.0,1707.8 2748.0,1708.0 2749.0,1708.6 2750.0,1709.5 2751.0,1709.3 2752.0,1709.8 2753.0,1710.0 2754.0,1710.1 2755.0,1709.9 2756.0,1709.1 2757.0,1710.3 2758.0,1710.4 2759.0,1709.7 2760.0,1710.3 2761.0,1709.3 2762.0,1710.0 2763.0,1710.3 2764.0,1710.7 2765.0,1709.8 2766.0,1709.4 2767.0,1710.5 2768.0,1710.8 2769.0,1710.6 2770.0,1711.0 2771.0,1711.0 2772.0,1710.8 2773.0,1710.7 2774.0,1710.6 2775.0,1710.3 2776.0,1711.2 2777.0,1711.1 2778.0,1710.6 2779.0,1711.2 2780.0,1711.1 2781.0,1711.0 2782.0,1710.8 2783.0,1711.2 2784.0,1711.2 2785.0,1710.8 2786.0,1710.6 2787.0,1711.0 2788.0,1710.6 2789.0,1710.7 2790.0,1710.6 2791.0,1710.6 2792.0,1711.0 2793.0,1710.2 2794.0,1710.0 2795.0,1710.6 2796.0,1710.1 2797.0,1710.1 2798.0,1710.4 2799.0,1710.0 2800.0,1709.2 2801.0,1709.2 2802.0,1709.2 2803.0,1710.6 2804.0,1710.2 2805.0,1710.1 2806.0,1709.0 2807.0,1709.2 2808.0,1709.4 2809.0,1709.3 2810.0,1709.8 2811.0,1709.7 2812.0,1709.8 2813.0,1709.9 2814.0,1709.9 2815.0,1709.5 2816.0,1709.9 2817.0,1709.6 2818.0,1709.4 2819.0,1709.8 2820.0,1709.9 2821.0,1709.6 2822.0,1709.4 2823.0,1709.6 2824.0,1709.1 2825.0,1709.6 2826.0,1709.0 2827.0,1709.1 2828.0,1709.1 2829.0,1709.6 2830.0,1709.2 2831.0,1709.7 2832.0,1708.8 2833.0,1708.7 2834.0,1708.9 2835.0,1709.6 2836.0,1709.1 2837.0,1708.8 2838.0,1709.0 2839.0,1709.4 2840.0,1709.2 2841.0,1708.7 2842.0,1708.5 2843.0,1708.3 2844.0,1708.6 2845.0,1708.2 2846.0,1708.1 2847.0,1709.0 2848.0,1708.2 2849.0,1707.7 2850.0,1708.7 2851.0,1709.0 2852.0,1709.0 2853.0,1708.7 2854.0,1708.8 2855.0,1708.6 2856.0,1708.7 2857.0,1708.3 2858.0,1708.9 2859.0,1709.2 2860.0,1708.3 2861.0,1708.4 2862.0,1708.2 2863.0,1707.7 2864.0,1708.2 2865.0,1709.0 2866.0,1708.5 2867.0,1707.9 2868.0,1708.3 2869.0,1708.4 2870.0,1708.3 2871.0,1709.1 2872.0,1709.0 2873.0,1709.0 2874.0,1709.1 2875.0,1709.1 2876.0,1709.1 2877.0,1708.1 2878.0,1708.2 2879.0,1709.1 2880.0,1708.8 2881.0,1709.1 2882.0,1709.0 2883.0,1709.0 2884.0,1708.8 2885.0,1708.4 2886.0,1707.3 2887.0,1706.9 2888.0,1706.5 2889.0,1707.3 2890.0,1706.5 2891.0,1706.4 2892.0,1707.1 2893.0,1708.2 2894.0,1708.5 2895.0,1708.5 2896.0,1708.4 2897.0,1708.4 2898.0,1708.1 2899.0,1708.3 2900.0,1708.1 2901.0,1707.8 2902.0,1708.1 2903.0,1707.9 2904.0,1707.6 2905.0,1707.2 2906.0,1707.9 2907.0,1706.9 2908.0,1707.6 2909.0,1707.1 2910.0,1707.5 2911.0,1707.7 2912.0,1706.4 2913.0,1706.4 2914.0,1706.7 2915.0,1707.4 2916.0,1707.3 2917.0,1707.1 2918.0,1707.3 2919.0,1707.5 2920.0,1707.1 2921.0,1707.1 2922.0,1707.2 2923.0,1706.3 2924.0,1707.1 2925.0,1706.0 2926.0,1706.8 2927.0,1706.6 2928.0,1707.1 2929.0,1706.9 2930.0,1707.0 2931.0,1706.9 2932.0,1706.9 2933.0,1706.5 2934.0,1706.8 2935.0,1706.7 2936.0,1706.6 2937.0,1706.0 2938.0,1705.9 2939.0,1706.1 2940.0,1706.4 2941.0,1706.1 2942.0,1705.2 2943.0,1706.1 2944.0,1706.3 2945.0,1706.3 2946.0,1705.9 2947.0,1706.2 2948.0,1705.7 2949.0,1706.0 2950.0,1705.9 2951.0,1705.3 2952.0,1705.6 2953.0,1705.0 2954.0,1704.9 2955.0,1705.4 2956.0,1705.7 2957.0,1705.3 2958.0,1705.1 2959.0,1705.1 2960.0,1704.5 2961.0,1704.0 2962.0,1704.8 2963.0,1705.3 2964.0,1704.5 2965.0,1705.0 2966.0,1704.8 2967.0,1705.7 2968.0,1705.8 2969.0,1705.5 2970.0,1704.9 2971.0,1704.9 2972.0,1705.5 2973.0,1705.1 2974.0,1704.5 2975.0,1705.8 2976.0,1705.7 2977.0,1706.0 2978.0,1705.7 2979.0,1705.7 2980.0,1706.3 2981.0,1706.0 2982.0,1705.7 2983.0,1705.1 2984.0,1705.6 2985.0,1706.5 2986.0,1706.2 2987.0,1705.5 2988.0,1706.7 2989.0,1706.4 2990.0,1705.1 2991.0,1706.7 2992.0,1706.8 2993.0,1706.1 2994.0,1706.6 2995.0,1706.4 2996.0,1706.7 2997.0,1706.3 2998.0,1706.6 2999.0,1706.6 3000.0,1706.5 3001.0,1706.1 3002.0,1704.8 3003.0,1705.2 3004.0,1706.3 3005.0,1706.5 3006.0,1706.0 3007.0,1705.2 3008.0,1705.0 3009.0,1706.2 3010.0,1706.1 3011.0,1706.5 3012.0,1706.8 3013.0,1706.2 3014.0,1705.4 3015.0,1706.2 3016.0,1707.2 3017.0,1707.0 3018.0,1707.1 3019.0,1707.2 3020.0,1707.3 3021.0,1707.0 3022.0,1706.8 3023.0,1706.9 3024.0,1707.1 3025.0,1707.4 3026.0,1707.1 3027.0,1707.5 3028.0,1706.5 3029.0,1706.9 3030.0,1706.6 3031.0,1707.4 3032.0,1707.2 3033.0,1707.2 3034.0,1707.6 3035.0,1707.5 3036.0,1707.0 3037.0,1707.0 3038.0,1707.4 3039.0,1707.4 3040.0,1706.8 3041.0,1707.1 3042.0,1707.4 3043.0,1706.8 3044.0,1706.1 3045.0,1706.4 3046.0,1706.9 3047.0,1707.6 3048.0,1707.3 3049.0,1707.6 3050.0,1707.3 3051.0,1706.8 3052.0,1707.3 3053.0,1707.2 3054.0,1706.9 3055.0,1707.6 3056.0,1706.9 3057.0,1707.6 3058.0,1707.1 3059.0,1707.6 3060.0,1707.4 3061.0,1707.6 3062.0,1707.6 3063.0,1707.3 3064.0,1707.7 3065.0,1707.4 3066.0,1706.7 3067.0,1706.5 3068.0,1707.9 3069.0,1707.0 3070.0,1705.8 3071.0,1706.9 3072.0,1707.4 3073.0,1707.7 3074.0,1707.4 3075.0,1707.2 3076.0,1707.7 3077.0,1707.5 3078.0,1707.4 3079.0,1707.1 3080.0,1707.0 3081.0,1707.4 3082.0,1707.7 3083.0,1707.8 3084.0,1708.1 3085.0,1708.2 3086.0,1707.2 3086.0,1718.0 3085.0,1716.8 3084.0,1716.9 3083.0,1717.2 3082.0,1717.2 3081.0,1717.4 3080.0,1717.8 3079.0,1717.7 3078.0,1717.3 3077.0,1717.1 3076.0,1716.9 3075.0,1717.4 3074.0,1717.2 3073.0,1716.8 3072.0,1717.0 3071.0,1717.5 3070.0,1718.4 3069.0,1717.1 3068.0,1716.2 3067.0,1717.5 3066.0,1717.3 3065.0,1716.5 3064.0,1716.2 3063.0,1716.6 3062.0,1716.2 3061.0,1716.2 3060.0,1716.4 3059.0,1716.2 3058.0,1716.7 3057.0,1716.3 3056.0,1716.9 3055.0,1716.3 3054.0,1717.0 3053.0,1716.7 3052.0,1716.6 3051.0,1717.1 3050.0,1716.6 3049.0,1716.3 3048.0,1716.5 3047.0,1716.2 3046.0,1716.9 3045.0,1717.5 3044.0,1717.8 3043.0,1717.1 3042.0,1716.4 3041.0,1716.8 3040.0,1717.0 3039.0,1716.4 3038.0,1716.3 3037.0,1716.7 3036.0,1716.6 3035.0,1716.0 3034.0,1715.8 3033.0,1716.1 3032.0,1716.1 3031.0,1715.9 3030.0,1716.7 3029.0,1716.3 3028.0,1716.7 3027.0,1715.7 3026.0,1716.0 3025.0,1715.7 3024.0,1716.0 3023.0,1716.2 3022.0,1716.2 3021.0,1715.9 3020.0,1715.6 3019.0,1715.6 3018.0,1715.6 3017.0,1715.6 3016.0,1715.4 3015.0,1716.3 3014.0,1717.0 3013.0,1716.2 3012.0,1715.6 3011.0,1715.9 3010.0,1716.1 3009.0,1716.0 3008.0,1717.2 3007.0,1716.9 3006.0,1716.0 3005.0,1715.4 3004.0,1715.5 3003.0,1716.6 3002.0,1716.9 3001.0,1715.5 3000.0,1715.1 2999.0,1715.0 2998.0,1715.1 2997.0,1715.4 2996.0,1715.0 2995.0,1715.4 2994.0,1715.2 2993.0,1715.8 2992.0,1715.0 2991.0,1715.0 2990.0,1716.7 2989.0,1715.3 2988.0,1714.9 2987.0,1716.0 2986.0,1715.2 2985.0,1714.8 2984.0,1715.7 2983.0,1716.1 2982.0,1715.4 2981.0,1715.1 2980.0,1714.6 2979.0,1715.2 2978.0,1715.0 2977.0,1714.7 2976.0,1714.9 2975.0,1714.7 2974.0,1715.9 2973.0,1715.2 2972.0,1714.7 2971.0,1715.2 2970.0,1715.2 2969.0,1714.5 2968.0,1714.1 2967.0,1714.3 2966.0,1715.2 2965.0,1715.1 2964.0,1715.6 2963.0,1714.8 2962.0,1715.3 2961.0,1716.1 2960.0,1715.6 2959.0,1714.9 2958.0,1714.9 2957.0,1714.7 2956.0,1714.3 2955.0,1714.5 2954.0,1715.0 2953.0,1715.0 2952.0,1714.4 2951.0,1714.8 2950.0,1714.3 2949.0,1714.3 2948.0,1714.7 2947.0,1714.4 2946.0,1714.8 2945.0,1714.5 2944.0,1714.7 2943.0,1714.9 2942.0,1715.9 2941.0,1715.1 2940.0,1715.0 2939.0,1715.4 2938.0,1715.7 2937.0,1715.7 2936.0,1715.3 2935.0,1715.3 2934.0,1715.4 2933.0,1715.7 2932.0,1715.5 2931.0,1715.6 2930.0,1715.7 2929.0,1715.8 2928.0,1715.6 2927.0,1716.2 2926.0,1716.0 2925.0,1716.9 2924.0,1715.8 2923.0,1716.7 2922.0,1715.8 2921.0,1715.9 2920.0,1716.1 2919.0,1715.8 2918.0,1716.0 2917.0,1716.3 2916.0,1716.2 2915.0,1716.1 2914.0,1717.0 2913.0,1717.3 2912.0,1717.4 2911.0,1716.1 2910.0,1716.4 2909.0,1716.9 2908.0,1716.5 2907.0,1717.2 2906.0,1716.4 2905.0,1717.2 2904.0,1716.9 2903.0,1716.7 2902.0,1716.5 2901.0,1717.0 2900.0,1716.7 2899.0,1716.6 2898.0,1716.9 2897.0,1716.7 2896.0,1716.7 2895.0,1716.7 2894.0,1716.8 2893.0,1717.2 2892.0,1718.4 2891.0,1719.2 2890.0,1719.2 2889.0,1718.5 2888.0,1719.5 2887.0,1719.2 2886.0,1718.9 2885.0,1717.8 2884.0,1717.5 2883.0,1717.4 2882.0,1717.5 2881.0,1717.4 2880.0,1717.7 2879.0,1717.5 2878.0,1718.4 2877.0,1718.5 2876.0,1717.5 2875.0,1717.5 2874.0,1717.5 2873.0,1717.7 2872.0,1717.6 2871.0,1717.5 2870.0,1718.3 2869.0,1718.3 2868.0,1718.3 2867.0,1718.8 2866.0,1718.2 2865.0,1717.6 2864.0,1718.4 2863.0,1719.0 2862.0,1718.4 2861.0,1718.2 2860.0,1718.3 2859.0,1717.5 2858.0,1717.7 2857.0,1718.3 2856.0,1717.8 2855.0,1718.0 2854.0,1717.7 2853.0,1717.9 2852.0,1717.5 2851.0,1717.6 2850.0,1717.9 2849.0,1718.9 2848.0,1718.4 2847.0,1717.6 2846.0,1718.6 2845.0,1718.5 2844.0,1718.2 2843.0,1718.5 2842.0,1718.4 2841.0,1718.3 2840.0,1717.9 2839.0,1717.7 2838.0,1718.3 2837.0,1718.5 2836.0,1718.2 2835.0,1717.8 2834.0,1718.6 2833.0,1718.8 2832.0,1718.8 2831.0,1717.9 2830.0,1718.4 2829.0,1718.1 2828.0,1718.6 2827.0,1718.6 2826.0,1718.7 2825.0,1718.3 2824.0,1718.8 2823.0,1718.3 2822.0,1718.6 2821.0,1718.5 2820.0,1718.3 2819.0,1718.4 2818.0,1718.9 2817.0,1718.8 2816.0,1718.6 2815.0,1719.1 2814.0,1718.8 2813.0,1718.9 2812.0,1719.0 2811.0,1719.2 2810.0,1719.2 2809.0,1719.8 2808.0,1719.8 2807.0,1720.0 2806.0,1720.3 2805.0,1719.2 2804.0,1719.3 2803.0,1718.9 2802.0,1720.4 2801.0,1720.5 2800.0,1720.5 2799.0,1719.8 2798.0,1719.4 2797.0,1719.8 2796.0,1719.9 2795.0,1719.4 2794.0,1720.1 2793.0,1719.9 2792.0,1719.2 2791.0,1719.6 2790.0,1719.7 2789.0,1719.6 2788.0,1719.9 2787.0,1719.5 2786.0,1720.0 2785.0,1719.8 2784.0,1719.4 2783.0,1719.5 2782.0,1720.0 2781.0,1719.8 2780.0,1719.6 2779.0,1719.6 2778.0,1720.1 2777.0,1719.6 2776.0,1719.4 2775.0,1720.3 2774.0,1720.0 2773.0,1719.8 2772.0,1719.6 2771.0,1719.3 2770.0,1719.2 2769.0,1719.6 2768.0,1719.3 2767.0,1719.5 2766.0,1720.6 2765.0,1720.0 2764.0,1719.0 2763.0,1719.3 2762.0,1719.4 2761.0,1720.0 2760.0,1719.0 2759.0,1719.5 2758.0,1718.7 2757.0,1718.6 2756.0,1719.7 2755.0,1718.7 2754.0,1718.4 2753.0,1718.4 2752.0,1718.4 2751.0,1718.8 2750.0,1718.4 2749.0,1719.2 2748.0,1719.6 2747.0,1719.6 2746.0,1719.3 2745.0,1717.8 2744.0,1717.9 2743.0,1718.3 2742.0,1717.7 2741.0,1717.4 2740.0,1717.4 2739.0,1717.8 2738.0,1717.7 2737.0,1718.3 2736.0,1718.4 2735.0,1718.4 2734.0,1717.4 2733.0,1717.9 2732.0,1717.5 2731.0,1718.3 2730.0,1716.9 2729.0,1717.9 2728.0,1717.4 2727.0,1717.8 2726.0,1717.3 2725.0,1717.0 2724.0,1716.8 2723.0,1716.7 2722.0,1717.2 2721.0,1717.3 2720.0,1717.4 2719.0,1716.7 2718.0,1717.7 2717.0,1717.6 2716.0,1716.9 2715.0,1716.7 2714.0,1717.4 2713.0,1717.1 2712.0,1716.7 2711.0,1717.4 2710.0,1717.2 2709.0,1717.5 2708.0,1717.5 2707.0,1717.8 2706.0,1717.0 2705.0,1717.0 2704.0,1717.5 2703.0,1717.0 2702.0,1717.0 2701.0,1717.8 2700.0,1717.3 2699.0,1717.2 2698.0,1717.9 2697.0,1717.3 2696.0,1717.5 2695.0,1717.8 2694.0,1717.4 2693.0,1717.4 2692.0,1717.6 2691.0,1717.5 2690.0,1718.1 2689.0,1718.0 2688.0,1718.5 2687.0,1717.7 2686.0,1717.9 2685.0,1718.2 2684.0,1718.0 2683.0,1718.1 2682.0,1719.0 2681.0,1718.9 2680.0,1719.0 2679.0,1718.5 2678.0,1718.7 2677.0,1718.3 2676.0,1718.3 2675.0,1718.8 2674.0,1718.7 2673.0,1718.4 2672.0,1718.9 2671.0,1719.0 2670.0,1718.9 2669.0,1719.0 2668.0,1720.2 2667.0,1719.5 2666.0,1721.1 2665.0,1719.5 2664.0,1718.9 2663.0,1719.1 2662.0,1719.2 2661.0,1719.8 2660.0,1719.2 2659.0,1718.6 2658.0,1718.6 2657.0,1718.9 2656.0,1718.9 2655.0,1718.6 2654.0,1718.6 2653.0,1718.5 2652.0,1718.9 2651.0,1718.6 2650.0,1718.5 2649.0,1718.8 2648.0,1718.4 2647.0,1718.3 2646.0,1718.7 2645.0,1718.7 2644.0,1718.8 2643.0,1717.9 2642.0,1718.3 2641.0,1718.0 2640.0,1718.4 2639.0,1717.7 2638.0,1717.8 2637.0,1717.5 2636.0,1717.7 2635.0,1717.7 2634.0,1718.2 2633.0,1720.5 2632.0,1719.1 2631.0,1720.8 2630.0,1718.2 2629.0,1717.2 2628.0,1717.1 2627.0,1717.7 2626.0,1717.9 2625.0,1717.7 2624.0,1717.0 2623.0,1718.1 2622.0,1717.8 2621.0,1717.4 2620.0,1717.0 2619.0,1717.1 2618.0,1717.7 2617.0,1717.6 2616.0,1717.9 2615.0,1718.3 2614.0,1717.7 2613.0,1718.8 2612.0,1717.4 2611.0,1716.7 2610.0,1716.7 2609.0,1716.4 2608.0,1716.4 2607.0,1716.6 2606.0,1716.3 2605.0,1716.2 2604.0,1716.3 2603.0,1716.6 2602.0,1716.6 2601.0,1716.7 2600.0,1716.6 2599.0,1716.4 2598.0,1716.2 2597.0,1716.0 2596.0,1716.1 2595.0,1716.2 2594.0,1716.6 2593.0,1716.5 2592.0,1716.3 2591.0,1716.0 2590.0,1715.9 2589.0,1715.9 2588.0,1716.7 2587.0,1716.4 2586.0,1717.0 2585.0,1716.1 2584.0,1716.3 2583.0,1716.3 2582.0,1717.0 2581.0,1717.1 2580.0,1716.3 2579.0,1717.4 2578.0,1717.6 2577.0,1716.4 2576.0,1716.5 2575.0,1716.5 2574.0,1716.5 2573.0,1717.3 2572.0,1716.6 2571.0,1716.8 2570.0,1717.5 2569.0,1717.1 2568.0,1716.5 2567.0,1717.2 2566.0,1717.0 2565.0,1717.3 2564.0,1718.6 2563.0,1717.8 2562.0,1716.7 2561.0,1718.1 2560.0,1717.1 2559.0,1717.1 2558.0,1717.9 2557.0,1717.9 2556.0,1718.3 2555.0,1717.7 2554.0,1717.4 2553.0,1717.2 2552.0,1717.2 2551.0,1717.6 2550.0,1719.3 2549.0,1719.0 2548.0,1718.0 2547.0,1717.4 2546.0,1717.8 2545.0,1718.9 2544.0,1718.7 2543.0,1718.8 2542.0,1718.4 2541.0,1717.8 2540.0,1717.6 2539.0,1718.2 2538.0,1717.7 2537.0,1718.1 2536.0,1717.7 2535.0,1718.2 2534.0,1717.8 2533.0,1717.8 2532.0,1718.2 2531.0,1717.9 2530.0,1718.4 2529.0,1719.2 2528.0,1719.1 2527.0,1718.9 2526.0,1718.5 2525.0,1718.8 2524.0,1718.7 2523.0,1718.5 2522.0,1718.9 2521.0,1719.2 2520.0,1719.6 2519.0,1719.2 2518.0,1719.9 2517.0,1719.8 2516.0,1719.5 2515.0,1720.6 2514.0,1720.7 2513.0,1720.5 2512.0,1720.8 2511.0,1720.0 2510.0,1719.8 2509.0,1720.3 2508.0,1721.1 2507.0,1720.6 2506.0,1720.8 2505.0,1720.2 2504.0,1720.2 2503.0,1720.8 2502.0,1721.6 2501.0,1721.5 2500.0,1721.3 2499.0,1720.5 2498.0,1720.6 2497.0,1720.4 2496.0,1720.4 2495.0,1720.6 2494.0,1720.5 2493.0,1720.7 2492.0,1721.1 2491.0,1721.0 2490.0,1720.7 2489.0,1720.6 2488.0,1720.5 2487.0,1720.8 2486.0,1721.0 2485.0,1720.9 2484.0,1721.1 2483.0,1720.4 2482.0,1720.7 2481.0,1721.1 2480.0,1721.0 2479.0,1720.2 2478.0,1721.5 2477.0,1722.2 2476.0,1722.8 2475.0,1721.3 2474.0,1720.3 2473.0,1720.5 2472.0,1719.8 2471.0,1719.8 2470.0,1720.0 2469.0,1719.9 2468.0,1719.7 2467.0,1719.6 2466.0,1720.0 2465.0,1721.2 2464.0,1720.4 2463.0,1719.9 2462.0,1719.2 2461.0,1720.1 2460.0,1720.2 2459.0,1719.9 2458.0,1719.3 2457.0,1719.2 2456.0,1719.3 2455.0,1718.4 2454.0,1718.9 2453.0,1718.3 2452.0,1718.1 2451.0,1717.9 2450.0,1718.9 2449.0,1717.7 2448.0,1718.1 2447.0,1717.5 2446.0,1717.7 2445.0,1717.9 2444.0,1718.0 2443.0,1717.8 2442.0,1717.0 2441.0,1717.8 2440.0,1716.9 2439.0,1717.1 2438.0,1717.5 2437.0,1717.2 2436.0,1717.3 2435.0,1716.9 2434.0,1716.7 2433.0,1716.8 2432.0,1716.7 2431.0,1716.4 2430.0,1716.2 2429.0,1716.3 2428.0,1716.4 2427.0,1716.0 2426.0,1717.0 2425.0,1717.4 2424.0,1716.9 2423.0,1715.9 2422.0,1716.5 2421.0,1716.8 2420.0,1716.6 2419.0,1716.5 2418.0,1715.9 2417.0,1715.9 2416.0,1716.0 2415.0,1715.8 2414.0,1716.1 2413.0,1716.0 2412.0,1717.4 2411.0,1717.2 2410.0,1716.7 2409.0,1717.1 2408.0,1717.0 2407.0,1717.1 2406.0,1716.8 2405.0,1718.2 2404.0,1717.9 2403.0,1717.5 2402.0,1716.6 2401.0,1716.4 2400.0,1716.9 2399.0,1717.9 2398.0,1717.6 2397.0,1716.7 2396.0,1716.6 2395.0,1716.8 2394.0,1717.5 2393.0,1717.2 2392.0,1717.2 2391.0,1716.7 2390.0,1717.2 2389.0,1716.5 2388.0,1717.2 2387.0,1718.4 2386.0,1717.8 2385.0,1717.0 2384.0,1717.6 2383.0,1717.3 2382.0,1716.8 2381.0,1717.3 2380.0,1716.4 2379.0,1716.7 2378.0,1716.4 2377.0,1717.0 2376.0,1717.2 2375.0,1716.8 2374.0,1716.8 2373.0,1717.3 2372.0,1717.0 2371.0,1716.3 2370.0,1716.7 2369.0,1716.4 2368.0,1716.7 2367.0,1716.3 2366.0,1717.5 2365.0,1716.4 2364.0,1717.2 2363.0,1717.0 2362.0,1716.5 2361.0,1716.4 2360.0,1716.2 2359.0,1716.4 2358.0,1718.1 2357.0,1718.1 2356.0,1717.6 2355.0,1716.4 2354.0,1716.6 2353.0,1717.1 2352.0,1716.7 2351.0,1717.0 2350.0,1716.5 2349.0,1716.3 2348.0,1717.2 2347.0,1716.0 2346.0,1716.5 2345.0,1716.5 2344.0,1716.7 2343.0,1716.0 2342.0,1716.8 2341.0,1717.9 2340.0,1716.7 2339.0,1717.2 2338.0,1716.3 2337.0,1716.1 2336.0,1716.9 2335.0,1717.0 2334.0,1717.2 2333.0,1716.3 2332.0,1716.3 2331.0,1717.2 2330.0,1717.1 2329.0,1717.4 2328.0,1716.7 2327.0,1716.9 2326.0,1716.6 2325.0,1716.8 2324.0,1716.6 2323.0,1717.1 2322.0,1717.6 2321.0,1718.2 2320.0,1717.5 2319.0,1717.1 2318.0,1717.6 2317.0,1718.3 2316.0,1717.2 2315.0,1718.1 2314.0,1717.1 2313.0,1718.3 2312.0,1717.9 2311.0,1718.8 2310.0,1718.3 2309.0,1717.6 2308.0,1717.6 2307.0,1717.6 2306.0,1717.6 2305.0,1717.8 2304.0,1718.3 2303.0,1718.4 2302.0,1718.0 2301.0,1718.5 2300.0,1718.1 2299.0,1718.0 2298.0,1719.1 2297.0,1720.1 2296.0,1720.3 2295.0,1719.2 2294.0,1718.8 2293.0,1719.1 2292.0,1719.3 2291.0,1718.3 2290.0,1718.2 2289.0,1718.3 2288.0,1719.9 2287.0,1719.6 2286.0,1718.9 2285.0,1718.7 2284.0,1718.3 2283.0,1718.4 2282.0,1718.6 2281.0,1718.5 2280.0,1719.0 2279.0,1719.4 2278.0,1718.6 2277.0,1718.6 2276.0,1718.7 2275.0,1718.6 2274.0,1718.9 2273.0,1719.4 2272.0,1719.0 2271.0,1718.8 2270.0,1719.7 2269.0,1720.0 2268.0,1719.9 2267.0,1719.7 2266.0,1719.2 2265.0,1719.8 2264.0,1719.1 2263.0,1718.9 2262.0,1718.5 2261.0,1719.2 2260.0,1719.0 2259.0,1718.5 2258.0,1719.4 2257.0,1719.3 2256.0,1719.7 2255.0,1718.8 2254.0,1719.2 2253.0,1718.6 2252.0,1719.6 2251.0,1719.6 2250.0,1719.5 2249.0,1718.0 2248.0,1718.6 2247.0,1718.5 2246.0,1718.2 2245.0,1718.4 2244.0,1718.6 2243.0,1717.7 2242.0,1719.0 2241.0,1719.0 2240.0,1717.5 2239.0,1717.6 2238.0,1717.8 2237.0,1718.2 2236.0,1718.0 2235.0,1717.2 2234.0,1717.7 2233.0,1718.3 2232.0,1718.2 2231.0,1716.8 2230.0,1717.9 2229.0,1717.9 2228.0,1717.7 2227.0,1717.3 2226.0,1717.0 2225.0,1716.4 2224.0,1716.8 2223.0,1716.3 2222.0,1716.2 2221.0,1716.1 2220.0,1717.2 2219.0,1717.2 2218.0,1717.5 2217.0,1716.4 2216.0,1716.6 2215.0,1716.5 2214.0,1716.5 2213.0,1716.4 2212.0,1717.0 2211.0,1716.6 2210.0,1717.5 2209.0,1716.1 2208.0,1715.7 2207.0,1715.8 2206.0,1715.5 2205.0,1715.4 2204.0,1715.8 2203.0,1715.3 2202.0,1716.2 2201.0,1715.8 2200.0,1716.6 2199.0,1716.0 2198.0,1716.2 2197.0,1715.6 2196.0,1715.7 2195.0,1715.4 2194.0,1715.8 2193.0,1716.4 2192.0,1716.3 2191.0,1716.9 2190.0,1715.5 2189.0,1715.4 2188.0,1716.1 2187.0,1716.0 2186.0,1715.9 2185.0,1716.5 2184.0,1716.0 2183.0,1716.6 2182.0,1717.2 2181.0,1718.3 2180.0,1717.9 2179.0,1716.4 2178.0,1715.8 2177.0,1715.8 2176.0,1716.8 2175.0,1716.8 2174.0,1716.6 2173.0,1716.2 2172.0,1715.9 2171.0,1716.9 2170.0,1718.1 2169.0,1717.9 2168.0,1717.9 2167.0,1716.9 2166.0,1717.6 2165.0,1716.3 2164.0,1716.3 2163.0,1716.7 2162.0,1716.9 2161.0,1716.8 2160.0,1716.6 2159.0,1716.7 2158.0,1716.7 2157.0,1716.6 2156.0,1716.8 2155.0,1717.7 2154.0,1717.2 2153.0,1717.0 2152.0,1716.8 2151.0,1716.8 2150.0,1716.8 2149.0,1717.2 2148.0,1717.3 2147.0,1717.7 2146.0,1717.6 2145.0,1717.1 2144.0,1717.1 2143.0,1718.1 2142.0,1719.0 2141.0,1718.1 2140.0,1717.7 2139.0,1718.0 2138.0,1717.2 2137.0,1717.6 2136.0,1717.1 2135.0,1717.2 2134.0,1717.3 2133.0,1717.4 2132.0,1718.5 2131.0,1718.5 2130.0,1717.5 2129.0,1717.8 2128.0,1717.7 2127.0,1717.3 2126.0,1716.8 2125.0,1716.9 2124.0,1717.0 2123.0,1717.5 2122.0,1717.5 2121.0,1717.6 2120.0,1717.5 2119.0,1717.4 2118.0,1717.6 2117.0,1716.8 2116.0,1716.6 2115.0,1716.6 2114.0,1716.2 2113.0,1716.4 2112.0,1716.3 2111.0,1716.1 2110.0,1716.3 2109.0,1717.4 2108.0,1717.7 2107.0,1716.6 2106.0,1716.0 2105.0,1715.8 2104.0,1715.4 2103.0,1715.6 2102.0,1715.7 2101.0,1716.2 2100.0,1716.5 2099.0,1715.9 2098.0,1715.2 2097.0,1715.2 2096.0,1715.3 2095.0,1715.3 2094.0,1715.5 2093.0,1715.9 2092.0,1715.9 2091.0,1715.6 2090.0,1715.4 2089.0,1715.9 2088.0,1715.7 2087.0,1715.5 2086.0,1715.7 2085.0,1715.9 2084.0,1716.2 2083.0,1715.7 2082.0,1716.0 2081.0,1715.7 2080.0,1715.7 2079.0,1715.8 2078.0,1715.6 2077.0,1715.9 2076.0,1716.3 2075.0,1716.7 2074.0,1716.5 2073.0,1716.6 2072.0,1717.5 2071.0,1717.3 2070.0,1717.9 2069.0,1717.0 2068.0,1716.4 2067.0,1717.1 2066.0,1717.6 2065.0,1717.6 2064.0,1716.9 2063.0,1717.4 2062.0,1717.7 2061.0,1717.3 2060.0,1718.1 2059.0,1718.3 2058.0,1717.6 2057.0,1717.9 2056.0,1718.0 2055.0,1717.3 2054.0,1717.9 2053.0,1718.5 2052.0,1717.7 2051.0,1717.8 2050.0,1717.6 2049.0,1717.6 2048.0,1718.1 2047.0,1718.0 2046.0,1718.1 2045.0,1719.2 2044.0,1719.0 2043.0,1718.7 2042.0,1718.6 2041.0,1719.3 2040.0,1718.9 2039.0,1718.3 2038.0,1719.5 2037.0,1720.2 2036.0,1720.0 2035.0,1719.5 2034.0,1718.3 2033.0,1719.2 2032.0,1718.9 2031.0,1719.0 2030.0,1718.7 2029.0,1720.0 2028.0,1718.9 2027.0,1718.9 2026.0,1718.5 2025.0,1718.5 2024.0,1718.1 2023.0,1718.2 2022.0,1718.3 2021.0,1718.9 2020.0,1718.0 2019.0,1718.5 2018.0,1718.7 2017.0,1718.5 2016.0,1718.0 2015.0,1718.1 2014.0,1718.2 2013.0,1718.3 2012.0,1718.7 2011.0,1719.1 2010.0,1717.9 2009.0,1718.3 2008.0,1718.0 2007.0,1720.0 2006.0,1717.7 2005.0,1717.7 2004.0,1717.8 2003.0,1718.5 2002.0,1718.2 2001.0,1717.8 2000.0,1718.3 1999.0,1717.6 1998.0,1717.7 1997.0,1717.7 1996.0,1717.5 1995.0,1717.6 1994.0,1717.9 1993.0,1717.5 1992.0,1718.8 1991.0,1719.2 1990.0,1718.9 1989.0,1717.4 1988.0,1717.7 1987.0,1717.8 1986.0,1717.7 1985.0,1717.3 1984.0,1717.4 1983.0,1717.3 1982.0,1717.4 1981.0,1717.8 1980.0,1717.8 1979.0,1718.2 1978.0,1718.3 1977.0,1718.4 1976.0,1717.7 1975.0,1718.0 1974.0,1717.3 1973.0,1717.6 1972.0,1717.6 1971.0,1717.8 1970.0,1718.1 1969.0,1718.2 1968.0,1718.9 1967.0,1717.9 1966.0,1718.2 1965.0,1718.3 1964.0,1718.2 1963.0,1718.1 1962.0,1718.2 1961.0,1718.0 1960.0,1718.3 1959.0,1718.3 1958.0,1718.9 1957.0,1719.7 1956.0,1720.1 1955.0,1720.0 1954.0,1719.2 1953.0,1719.3 1952.0,1719.6 1951.0,1719.9 1950.0,1718.9 1949.0,1719.1 1948.0,1719.4 1947.0,1719.0 1946.0,1719.7 1945.0,1719.2 1944.0,1719.2 1943.0,1719.7 1942.0,1719.6 1941.0,1719.3 1940.0,1719.0 1939.0,1719.5 1938.0,1720.1 1937.0,1719.8 1936.0,1719.9 1935.0,1719.0 1934.0,1718.8 1933.0,1719.0 1932.0,1719.2 1931.0,1719.2 1930.0,1718.8 1929.0,1718.6 1928.0,1719.3 1927.0,1718.9 1926.0,1718.6 1925.0,1718.9 1924.0,1719.2 1923.0,1718.6 1922.0,1718.3 1921.0,1718.5 1920.0,1718.7 1919.0,1718.4 1918.0,1718.8 1917.0,1718.1 1916.0,1718.6 1915.0,1717.9 1914.0,1718.3 1913.0,1718.1 1912.0,1719.0 1911.0,1717.7 1910.0,1718.0 1909.0,1718.3 1908.0,1718.6 1907.0,1718.1 1906.0,1718.1 1905.0,1717.4 1904.0,1717.1 1903.0,1717.3 1902.0,1718.1 1901.0,1717.6 1900.0,1717.2 1899.0,1716.9 1898.0,1717.3 1897.0,1716.9 1896.0,1717.9 1895.0,1718.4 1894.0,1717.3 1893.0,1717.1 1892.0,1717.8 1891.0,1717.7 1890.0,1716.8 1889.0,1716.9 1888.0,1717.2 1887.0,1717.2 1886.0,1716.7 1885.0,1717.2 1884.0,1717.5 1883.0,1717.3 1882.0,1716.7 1881.0,1716.5 1880.0,1716.4 1879.0,1716.6 1878.0,1717.1 1877.0,1716.3 1876.0,1717.1 1875.0,1718.0 1874.0,1716.6 1873.0,1716.6 1872.0,1717.0 1871.0,1717.8 1870.0,1717.7 1869.0,1717.0 1868.0,1716.2 1867.0,1716.8 1866.0,1717.0 1865.0,1716.9 1864.0,1716.2 1863.0,1716.4 1862.0,1716.2 1861.0,1716.7 1860.0,1716.7 1859.0,1716.9 1858.0,1716.6 1857.0,1716.3 1856.0,1716.6 1855.0,1717.1 1854.0,1717.2 1853.0,1717.1 1852.0,1716.6 1851.0,1716.7 1850.0,1718.1 1849.0,1716.7 1848.0,1716.7 1847.0,1717.8 1846.0,1716.9 1845.0,1717.0 1844.0,1717.6 1843.0,1718.4 1842.0,1718.5 1841.0,1717.6 1840.0,1717.5 1839.0,1718.1 1838.0,1717.6 1837.0,1717.7 1836.0,1718.1 1835.0,1718.0 1834.0,1717.9 1833.0,1718.4 1832.0,1718.1 1831.0,1718.3 1830.0,1718.7 1829.0,1718.9 1828.0,1719.7 1827.0,1719.8 1826.0,1719.5 1825.0,1719.1 1824.5,1718.6 1824.0,1718.8 1823.5,1718.8 1823.0,1719.1 1822.5,1719.1 1822.0,1719.6 1821.5,1720.2 1821.0,1719.3 1820.5,1719.0 1820.0,1719.1 1819.5,1720.0 1819.0,1719.9 1818.5,1720.2 1818.0,1719.4 1817.5,1719.1 1817.0,1719.3 1816.5,1719.5 1816.0,1719.6 1815.5,1719.4 1815.0,1719.7 1814.5,1719.5 1814.0,1719.1 1813.5,1719.5 1813.0,1720.0 1812.5,1719.4 1812.0,1719.2 1811.5,1720.2 1811.0,1720.0 1810.5,1719.7 1810.0,1719.2 1809.5,1719.3 1809.0,1719.4 1808.5,1719.3 1808.0,1719.5 1807.5,1719.4 1807.0,1719.6 1806.5,1719.8 1806.0,1720.6 1805.5,1720.1 1805.0,1720.3 1804.5,1719.9 1804.0,1720.5 1803.5,1719.9 1803.0,1720.6 1802.5,1722.4 1802.0,1723.9 1801.5,1724.9 1801.0,1725.1 1800.5,1725.9 1800.0,1726.9 1799.5,1727.8 1799.0,1728.4 1798.5,1728.9 1798.0,1728.8 1797.5,1727.7 1797.0,1726.2 1796.5,1725.6 1796.0,1725.3 1795.5,1724.7 1795.0,1723.6 1794.5,1724.7 1794.0,1726.4 1793.5,1728.4 1793.0,1730.0 1792.5,1731.7 1792.0,1733.0 1791.5,1734.8 1791.0,1736.5 1790.5,1737.4 1790.0,1737.8 1789.5,1737.7 1789.0,1738.6 1788.5,1739.4 1788.0,1741.0 1787.5,1742.6 1787.0,1744.4 1786.5,1745.8 1786.0,1746.2 1785.5,1747.4 1785.0,1748.6 1784.5,1750.0 1784.0,1749.2 1783.5,1747.4 1783.0,1745.8 1782.5,1744.5 1782.0,1742.5 1781.5,1737.3 1781.0,1730.5 1780.5,1724.5 1780.0,1719.1 1779.5,1718.3 1779.0,1719.0 1778.5,1719.5 1778.0,1718.7 1777.5,1718.9 1777.0,1718.9 1776.5,1720.3 1776.0,1720.6 1775.5,1721.2 1775.0,1720.9 1774.5,1720.2 1774.0,1720.9 1773.5,1721.2 1773.0,1721.8 1772.5,1721.0 1772.0,1721.0 1771.5,1720.9 1771.0,1721.2 1770.5,1721.7 1770.0,1722.5 1769.5,1722.5 1769.0,1725.2 1768.5,1727.7 1768.0,1731.3 1767.5,1734.5 1767.0,1737.9 1766.5,1742.1 1766.0,1746.1 1765.5,1750.7 1765.0,1755.0 1764.5,1759.5 1764.0,1763.8 1763.5,1764.6 1763.0,1765.9 1762.5,1766.7 1762.0,1767.9 1761.5,1767.4 1761.0,1768.2 1760.5,1768.5 1760.0,1770.2 1759.5,1770.7 1759.0,1771.9 1758.5,1770.1 1758.0,1767.9 1757.5,1766.3 1757.0,1764.6 1756.5,1762.7 1756.0,1756.1 1755.5,1747.2 1755.0,1738.7 1754.5,1730.9 1754.0,1722.6 1753.5,1720.3 1753.0,1719.8 1752.5,1720.6 1752.0,1721.0 1751.5,1721.6 1751.0,1722.8 1750.5,1723.5 1750.0,1724.0 1749.5,1724.5 1749.0,1725.8 1748.5,1726.9 1748.0,1727.8 1747.5,1728.2 1747.0,1728.9 1746.5,1729.1 1746.0,1729.6 1745.5,1729.7 1745.0,1729.9 1744.5,1730.3 1744.0,1733.0 1743.5,1736.4 1743.0,1739.7 1742.5,1744.0 1742.0,1748.4 1741.5,1753.3 1741.0,1757.4 1740.5,1761.9 1740.0,1765.5 1739.5,1769.5 1739.0,1773.9 1738.5,1775.1 1738.0,1776.4 1737.5,1777.5 1737.0,1778.1 1736.5,1778.7 1736.0,1778.8 1735.5,1779.4 1735.0,1778.3 1734.5,1777.5 1734.0,1776.5 1733.5,1774.4 1733.0,1773.0 1732.5,1771.9 1732.0,1771.1 1731.5,1770.3 1731.0,1764.0 1730.5,1755.6 1730.0,1746.3 1729.5,1737.7 1729.0,1727.8 1728.5,1720.4 1728.0,1720.0 1727.5,1721.2 1727.0,1721.6 1726.5,1722.7 1726.0,1723.8 1725.5,1724.8 1725.0,1725.1 1724.5,1726.0 1724.0,1726.2 1723.5,1726.3 1723.0,1726.2 1722.5,1726.0 1722.0,1726.0 1721.5,1727.8 1721.0,1730.8 1720.5,1733.3 1720.0,1735.8 1719.5,1738.6 1719.0,1741.5 1718.5,1745.0 1718.0,1749.6 1717.5,1754.5 1717.0,1759.4 1716.5,1764.0 1716.0,1768.4 1715.5,1773.2 1715.0,1778.2 1714.5,1782.2 1714.0,1782.7 1713.5,1783.5 1713.0,1784.6 1712.5,1785.5 1712.0,1786.1 1711.5,1786.6 1711.0,1787.7 1710.5,1788.3 1710.0,1789.2 1709.5,1787.8 1709.0,1787.0 1708.5,1785.8 1708.0,1784.4 1707.5,1782.9 1707.0,1781.3 1706.5,1780.7 1706.0,1780.0 1705.5,1779.4 1705.0,1776.4 1704.5,1767.4 1704.0,1758.2 1703.5,1748.8 1703.0,1740.0 1702.5,1731.4 1702.0,1725.1 1701.5,1725.8 1701.0,1727.1 1700.5,1727.8 1700.0,1728.2 1699.5,1728.1 1699.0,1728.8 1698.5,1729.5 1698.0,1730.5 1697.5,1730.9 1697.0,1735.3 1696.5,1740.6 1696.0,1745.3 1695.5,1750.4 1695.0,1755.1 1694.5,1760.6 1694.0,1765.3 1693.5,1769.8 1693.0,1774.3 1692.5,1778.9 1692.0,1783.7 1691.5,1787.9 1691.0,1789.9 1690.5,1791.1 1690.0,1792.7 1689.5,1794.7 1689.0,1796.4 1688.5,1797.3 1688.0,1796.1 1687.5,1794.7 1687.0,1793.2 1686.5,1792.1 1686.0,1792.2 1685.5,1791.4 1685.0,1789.5 1684.5,1787.3 1684.0,1785.6 1683.5,1784.9 1683.0,1783.3 1682.5,1782.6 1682.0,1781.5 1681.5,1773.9 1681.0,1763.4 1680.5,1753.9 1680.0,1744.0 1679.5,1734.5 1679.0,1724.1 1678.5,1720.6 1678.0,1721.1 1677.5,1723.4 1677.0,1725.1 1676.5,1726.4 1676.0,1727.4 1675.5,1729.6 1675.0,1731.8 1674.5,1733.4 1674.0,1734.7 1673.5,1735.6 1673.0,1735.7 1672.5,1735.5 1672.0,1735.9 1671.5,1738.7 1671.0,1742.6 1670.5,1746.5 1670.0,1750.3 1669.5,1754.7 1669.0,1758.9 1668.5,1763.8 1668.0,1769.3 1667.5,1774.9 1667.0,1781.2 1666.5,1787.0 1666.0,1792.9 1665.5,1798.0 1665.0,1801.9 1664.5,1802.8 1664.0,1804.0 1663.5,1805.0 1663.0,1807.1 1662.5,1809.0 1662.0,1809.9 1661.5,1809.2 1661.0,1808.8 1660.5,1808.7 1660.0,1808.5 1659.5,1808.4 1659.0,1805.7 1658.5,1802.1 1658.0,1798.4 1657.5,1795.1 1657.0,1791.6 1656.5,1787.9 1656.0,1783.7 1655.5,1778.2 1655.0,1769.3 1654.5,1760.5 1654.0,1751.3 1653.5,1742.2 1653.0,1733.6 1652.5,1730.0 1652.0,1733.1 1651.5,1733.6 1651.0,1733.0 1650.5,1732.6 1650.0,1731.9 1649.5,1731.1 1649.0,1734.4 1648.5,1742.6 1648.0,1746.7 1647.5,1750.9 1647.0,1754.8 1646.5,1759.4 1646.0,1764.0 1645.5,1768.8 1645.0,1773.3 1644.5,1779.1 1644.0,1784.6 1643.5,1790.2 1643.0,1795.9 1642.5,1801.5 1642.0,1807.4 1641.5,1809.4 1641.0,1811.5 1640.5,1813.1 1640.0,1814.2 1639.5,1815.6 1639.0,1817.1 1638.5,1815.1 1638.0,1813.6 1637.5,1812.2 1637.0,1810.5 1636.5,1808.3 1636.0,1805.8 1635.5,1804.8 1635.0,1801.6 1634.5,1799.2 1634.0,1795.9 1633.5,1792.6 1633.0,1789.1 1632.5,1785.8 1632.0,1782.6 1631.5,1769.5 1631.0,1754.2 1630.5,1739.1 1630.0,1727.1 1629.5,1725.1 1629.0,1725.9 1628.5,1726.3 1628.0,1727.3 1627.5,1727.4 1627.0,1727.9 1626.5,1728.4 1626.0,1729.3 1625.5,1729.3 1625.0,1729.4 1624.5,1729.7 1624.0,1729.9 1623.5,1736.4 1623.0,1742.8 1622.5,1749.0 1622.0,1755.5 1621.5,1762.2 1621.0,1769.0 1620.5,1775.2 1620.0,1781.1 1619.5,1787.0 1619.0,1792.8 1618.5,1798.9 1618.0,1805.1 1617.5,1811.5 1617.0,1815.9 1616.5,1819.4 1616.0,1822.8 1615.5,1823.7 1615.0,1824.1 1614.5,1824.7 1614.0,1825.1 1613.5,1824.7 1613.0,1823.6 1612.5,1822.7 1612.0,1820.6 1611.5,1817.2 1611.0,1813.8 1610.5,1809.6 1610.0,1806.1 1609.5,1803.0 1609.0,1799.6 1608.5,1797.1 1608.0,1792.0 1607.5,1785.4 1607.0,1777.4 1606.5,1770.2 1606.0,1762.6 1605.5,1755.7 1605.0,1748.7 1604.5,1742.6 1604.0,1735.6 1603.5,1728.2 1603.0,1728.1 1602.5,1729.8 1602.0,1731.5 1601.5,1732.7 1601.0,1734.4 1600.5,1736.2 1600.0,1735.8 1599.5,1735.4 1599.0,1734.7 1598.5,1735.0 1598.0,1734.7 1597.5,1742.2 1597.0,1749.2 1596.5,1756.3 1596.0,1763.3 1595.5,1770.1 1595.0,1777.7 1594.5,1783.3 1594.0,1788.8 1593.5,1794.0 1593.0,1799.5 1592.5,1805.2 1592.0,1809.9 1591.5,1814.8 1591.0,1817.9 1590.5,1820.1 1590.0,1822.0 1589.5,1822.6 1589.0,1822.7 1588.5,1823.5 1588.0,1823.4 1587.5,1823.4 1587.0,1823.0 1586.5,1822.7 1586.0,1822.5 1585.5,1820.5 1585.0,1816.5 1584.5,1812.7 1584.0,1809.3 1583.5,1806.5 1583.0,1802.9 1582.5,1800.1 1582.0,1795.8 1581.5,1791.4 1581.0,1781.8 1580.5,1773.1 1580.0,1764.1 1579.5,1755.9 1579.0,1747.2 1578.5,1738.8 1578.0,1729.3 1577.5,1730.7 1577.0,1731.7 1576.5,1732.3 1576.0,1731.9 1575.5,1731.0 1575.0,1731.5 1574.5,1731.5 1574.0,1732.1 1573.5,1740.9 1573.0,1749.1 1572.5,1757.2 1572.0,1764.3 1571.5,1771.3 1571.0,1778.1 1570.5,1785.4 1570.0,1792.3 1569.5,1799.8 1569.0,1806.3 1568.5,1813.8 1568.0,1817.6 1567.5,1821.7 1567.0,1825.0 1566.5,1827.0 1566.0,1828.7 1565.5,1830.4 1565.0,1830.8 1564.5,1829.7 1564.0,1828.5 1563.5,1827.5 1563.0,1824.4 1562.5,1821.8 1562.0,1819.2 1561.5,1816.8 1561.0,1812.9 1560.5,1808.4 1560.0,1803.7 1559.5,1799.7 1559.0,1795.5 1558.5,1791.4 1558.0,1787.5 1557.5,1783.1 1557.0,1777.4 1556.5,1767.0 1556.0,1757.3 1555.5,1748.5 1555.0,1739.3 1554.5,1731.9 1554.0,1731.9 1553.5,1732.5 1553.0,1733.2 1552.5,1733.6 1552.0,1734.5 1551.5,1734.4 1551.0,1734.4 1550.5,1733.6 1550.0,1738.3 1549.5,1743.4 1549.0,1748.0 1548.5,1752.5 1548.0,1757.9 1547.5,1764.9 1547.0,1771.3 1546.5,1777.0 1546.0,1782.3 1545.5,1788.3 1545.0,1794.4 1544.5,1800.9 1544.0,1806.8 1543.5,1812.3 1543.0,1817.2 1542.5,1822.9 1542.0,1826.5 1541.5,1828.0 1541.0,1829.1 1540.5,1829.4 1540.0,1830.8 1539.5,1830.6 1539.0,1830.1 1538.5,1828.8 1538.0,1828.5 1537.5,1826.3 1537.0,1823.0 1536.5,1818.5 1536.0,1814.8 1535.5,1811.1 1535.0,1807.9 1534.5,1803.1 1534.0,1798.0 1533.5,1792.6 1533.0,1787.8 1532.5,1782.8 1532.0,1778.3 1531.5,1771.9 1531.0,1760.1 1530.5,1748.0 1530.0,1736.4 1529.5,1726.5 1529.0,1726.7 1528.5,1727.5 1528.0,1728.3 1527.5,1728.3 1527.0,1728.7 1526.5,1729.5 1526.0,1730.8 1525.5,1730.7 1525.0,1730.0 1524.5,1735.5 1524.0,1741.8 1523.5,1748.7 1523.0,1755.2 1522.5,1762.1 1522.0,1765.4 1521.5,1768.2 1521.0,1770.8 1520.5,1773.4 1520.0,1774.4 1519.5,1774.6 1519.0,1775.2 1518.5,1773.9 1518.0,1772.7 1517.5,1770.0 1517.0,1767.4 1516.5,1765.0 1516.0,1758.5 1515.5,1748.5 1515.0,1738.7 1514.5,1728.6 1514.0,1720.9 1513.5,1720.2 1513.0,1719.8 1512.5,1720.5 1512.0,1720.6 1511.5,1721.7 1511.0,1722.2 1510.5,1723.4 1510.0,1723.7 1509.5,1724.3 1509.0,1724.5 1508.5,1725.6 1508.0,1726.7 1507.5,1728.3 1507.0,1730.0 1506.5,1732.0 1506.0,1734.3 1505.5,1733.8 1505.0,1733.1 1504.5,1731.4 1504.0,1731.8 1503.5,1731.5 1503.0,1731.7 1502.5,1739.6 1502.0,1747.9 1501.5,1756.4 1501.0,1764.0 1500.5,1770.8 1500.0,1777.7 1499.5,1786.0 1499.0,1794.3 1498.5,1802.4 1498.0,1810.2 1497.5,1814.4 1497.0,1818.9 1496.5,1822.9 1496.0,1827.8 1495.5,1831.6 1495.0,1835.1 1494.5,1835.5 1494.0,1835.9 1493.5,1837.1 1493.0,1838.2 1492.5,1839.4 1492.0,1840.0 1491.5,1841.0 1491.0,1840.8 1490.5,1839.8 1490.0,1838.2 1489.5,1837.1 1489.0,1836.1 1488.5,1835.4 1488.0,1831.8 1487.5,1827.2 1487.0,1822.3 1486.5,1817.1 1486.0,1812.2 1485.5,1807.7 1485.0,1802.6 1484.5,1797.9 1484.0,1797.6 1483.5,1805.0 1483.0,1812.0 1482.5,1817.4 1482.0,1822.8 1481.5,1826.9 1481.0,1827.6 1480.5,1828.3 1480.0,1829.7 1479.5,1830.3 1479.0,1831.1 1478.5,1831.2 1478.0,1830.9 1477.5,1830.9 1477.0,1830.1 1476.5,1829.4 1476.0,1828.3 1475.5,1827.6 1475.0,1826.5 1474.5,1825.1 1474.0,1825.6 1473.5,1826.5 1473.0,1827.1 1472.5,1827.3 1472.0,1827.4 1471.5,1828.1 1471.0,1828.0 1470.5,1827.3 1470.0,1827.1 1469.5,1826.3 1469.0,1823.8 1468.5,1820.2 1468.0,1816.4 1467.5,1808.5 1467.0,1800.2 1466.5,1793.0 1466.0,1785.8 1465.5,1777.7 1465.0,1767.1 1464.5,1755.7 1464.0,1744.9 1463.5,1733.4 1463.0,1726.8 1462.5,1720.1 1462.0,1718.0 1461.5,1717.7 1461.0,1716.9 1460.5,1717.2 1460.0,1716.6 1459.5,1716.9 1459.0,1717.1 1458.5,1717.2 1458.0,1716.9 1457.5,1717.2 1457.0,1717.6 1456.5,1717.3 1456.0,1716.9 1455.5,1717.1 1455.0,1717.7 1454.0,1717.4 1453.0,1716.6 1452.0,1717.1 1451.0,1717.0 1450.0,1716.5 1449.0,1716.5 1448.0,1716.4 1447.0,1716.4 1446.0,1716.9 1445.0,1716.6 1444.0,1717.0 1443.0,1716.5 1442.0,1717.3 1441.0,1717.0 1440.0,1717.1 1439.0,1717.1 1438.0,1716.7 1437.0,1716.5 1436.0,1716.4 1435.0,1716.6 1434.0,1716.8 1433.0,1716.4 1432.0,1716.5 1431.0,1717.0 1430.0,1716.2 1429.0,1716.5 1428.0,1716.6 1427.0,1717.4 1426.0,1717.0 1425.0,1717.4 1424.0,1716.3 1423.0,1716.7 1422.0,1716.2 1421.0,1716.1 1420.0,1716.8 1419.0,1716.1 1418.0,1716.3 1417.0,1716.0 1416.0,1716.0 1415.0,1715.8 1414.0,1715.9 1413.0,1715.8 1412.0,1716.1 1411.0,1716.4 1410.0,1716.2 1409.0,1716.5 1408.0,1716.0 1407.0,1715.9 1406.0,1716.0 1405.0,1716.4 1404.0,1716.1 1403.0,1715.5 1402.0,1715.3 1401.0,1715.9 1400.0,1715.7 1399.0,1715.6 1398.0,1714.9 1397.0,1715.1 1396.0,1715.1 1395.0,1715.3 1394.0,1715.6 1393.0,1715.6 1392.0,1715.6 1391.0,1715.7 1390.0,1715.7 1389.0,1714.6 1388.0,1714.3 1387.0,1715.4 1386.0,1715.5 1385.0,1715.1 1384.0,1713.8 1383.0,1714.3 1382.0,1713.8 1381.0,1714.1 1380.0,1714.2 1379.0,1714.3 1378.0,1714.6 1377.0,1714.2 1376.0,1713.7 1375.0,1714.8 1374.0,1713.5 1373.0,1713.7 1372.0,1715.6 1371.0,1714.7 1370.0,1714.5 1369.0,1713.6 1368.0,1713.9 1367.0,1714.0 1366.0,1713.7 1365.0,1713.4 1364.0,1713.3 1363.0,1713.4 1362.0,1713.5 1361.0,1713.8 1360.0,1714.1 1359.0,1714.3 1358.0,1713.5 1357.0,1714.0 1356.0,1714.2 1355.0,1713.6 1354.0,1714.0 1353.0,1714.4 1352.0,1714.2 1351.0,1714.2 1350.0,1715.0 1349.0,1714.9 1348.0,1714.2 1347.0,1714.2 1346.0,1714.7 1345.0,1714.7 1344.0,1714.7 1343.0,1714.6 1342.0,1714.4 1341.0,1716.8 1340.0,1714.7 1339.0,1715.2 1338.0,1714.7 1337.0,1715.5 1336.0,1715.4 1335.0,1714.9 1334.0,1715.0 1333.0,1715.5 1332.0,1715.6 1331.0,1715.6 1330.0,1715.9 1329.0,1715.5 1328.0,1715.6 1327.0,1715.6 1326.0,1716.2 1325.0,1715.5 1324.0,1716.5 1323.0,1716.8 1322.0,1716.1 1321.0,1716.2 1320.0,1716.5 1319.0,1716.2 1318.0,1716.1 1317.0,1716.8 1316.0,1717.1 1315.0,1717.5 1314.0,1716.8 1313.0,1716.8 1312.0,1717.3 1311.0,1717.5 1310.0,1717.6 1309.0,1717.3 1308.0,1717.3 1307.0,1716.9 1306.0,1717.0 1305.0,1716.7 1304.0,1717.4 1303.0,1717.2 1302.0,1718.6 1301.0,1718.0 1300.0,1717.5 1299.0,1717.0 1298.0,1717.6 1297.0,1717.2 1296.0,1717.1 1295.0,1717.7 1294.0,1717.4 1293.0,1717.7 1292.0,1717.6 1291.0,1718.2 1290.0,1717.8 1289.0,1718.5 1288.0,1719.2 1287.0,1718.6 1286.0,1718.2 1285.0,1718.1 1284.0,1718.0 1283.0,1718.3 1282.0,1718.4 1281.0,1718.5 1280.0,1718.0 1279.0,1718.1 1278.0,1718.8 1277.0,1718.9 1276.0,1718.4 1275.0,1718.4 1274.0,1718.0 1273.0,1718.2 1272.0,1718.6 1271.0,1718.7 1270.0,1718.4 1269.0,1718.9 1268.0,1718.2 1267.0,1718.9 1266.0,1719.1 1265.0,1718.5 1264.0,1718.6 1263.0,1719.2 1262.0,1718.5 1261.0,1718.5 1260.0,1719.5 1259.0,1718.6 1258.0,1719.1 1257.0,1720.1 1256.0,1720.3 1255.0,1720.4 1254.0,1718.8 1253.0,1719.2 1252.0,1719.5 1251.0,1719.3 1250.0,1720.1 1249.0,1719.5 1248.0,1719.5 1247.0,1719.2 1246.0,1719.4 1245.0,1719.8 1244.0,1720.0 1243.0,1720.5 1242.0,1720.1 1241.0,1719.5 1240.0,1720.4 1239.0,1719.9 1238.0,1719.7 1237.0,1720.0 1236.0,1721.3 1235.0,1721.6 1234.0,1720.5 1233.0,1719.9 1232.0,1720.0 1231.0,1720.2 1230.0,1720.7 1229.0,1721.0 1228.0,1720.6 1227.0,1720.1 1226.0,1720.5 1225.0,1720.9 1224.0,1721.3 1223.0,1720.6 1222.0,1720.4 1221.0,1720.4 1220.0,1720.9 1219.0,1720.3 1218.0,1720.2 1217.0,1720.5 1216.0,1720.2 1215.0,1720.8 1214.0,1720.1 1213.0,1720.3 1212.0,1720.2 1211.0,1720.8 1210.0,1720.7 1209.0,1720.7 1208.0,1720.4 1207.0,1721.1 1206.0,1721.3 1205.0,1720.8 1204.0,1720.5 1203.0,1720.0 1202.0,1720.4 1201.0,1720.9 1200.0,1720.2 1199.0,1719.9 1198.0,1720.7 1197.0,1719.9 1196.0,1720.6 1195.0,1719.9 1194.0,1719.9 1193.0,1719.7 1192.0,1719.9 1191.0,1719.5 1190.0,1719.9 1189.0,1719.9 1188.0,1719.5 1187.0,1719.6 1186.0,1720.3 1185.0,1719.9 1184.0,1719.6 1183.0,1719.2 1182.0,1719.3 1181.0,1719.1 1180.0,1719.8 1179.0,1719.6 1178.0,1720.3 1177.0,1719.8 1176.0,1719.7 1175.0,1719.4 1174.0,1719.7 1173.0,1719.4 1172.0,1719.6 1171.0,1721.4 1170.0,1719.2 1169.0,1718.6 1168.0,1718.4 1167.0,1718.8 1166.0,1719.1 1165.0,1718.3 1164.0,1718.7 1163.0,1719.0 1162.0,1718.9 1161.0,1719.1 1160.0,1718.0 1159.0,1718.0 1158.0,1718.1 1157.0,1718.3 1156.0,1718.6 1155.0,1718.4 1154.0,1718.0 1153.0,1717.5 1152.0,1717.6 1151.0,1718.1 1150.0,1720.2 1149.0,1717.3 1148.0,1717.4 1147.0,1717.7 1146.0,1718.2 1145.0,1718.4 1144.0,1717.4 1143.0,1718.0 1142.0,1717.3 1141.0,1717.6 1140.0,1718.2 1139.0,1718.0 1138.0,1717.2 1137.0,1717.5 1136.0,1717.5 1135.0,1718.1 1134.0,1717.6 1133.0,1718.2 1132.0,1717.8 1131.0,1717.1 1130.0,1717.5 1129.0,1718.6 1128.0,1717.0 1127.0,1717.0 1126.0,1718.0 1125.0,1717.4 1124.0,1717.3 1123.0,1717.7 1122.0,1717.5 1121.0,1717.5 1120.0,1716.7 1119.0,1717.0 1118.0,1717.1 1117.0,1717.5 1116.0,1717.8 1115.0,1717.6 1114.0,1717.2 1113.0,1717.7 1112.0,1717.2 1111.0,1717.0 1110.0,1717.3 1109.0,1717.5 1108.0,1717.0 1107.0,1717.2 1106.0,1717.3 1105.0,1717.1 1104.0,1717.0 1103.0,1717.6 1102.0,1717.5 1101.0,1717.2 1100.0,1717.9 1099.0,1717.5 1098.0,1717.7 1097.0,1718.1 1096.0,1718.2 1095.0,1717.5 1094.0,1718.3 1093.0,1717.5 1092.0,1717.4 1091.0,1717.9 1090.0,1717.5 1089.0,1718.3 1088.0,1717.4 1087.0,1718.1 1086.0,1718.9 1085.0,1718.1 1084.0,1717.9 1083.0,1717.6 1082.0,1717.5 1081.0,1718.6 1080.0,1717.8 1079.0,1717.9 1078.0,1717.8 1077.0,1717.3 1076.0,1717.8 1075.0,1717.8 1074.0,1717.5 1073.0,1717.4 1072.0,1717.6 1071.0,1717.3 1070.0,1717.4 1069.0,1717.6 1068.0,1717.8 1067.0,1717.3 1066.0,1717.7 1065.0,1717.3 1064.0,1717.0 1063.0,1717.3 1062.0,1718.1 1061.0,1718.6 1060.0,1718.6 1059.0,1717.9 1058.0,1717.6 1057.0,1716.9 1056.0,1716.8 1055.0,1718.4 1054.0,1718.9 1053.0,1718.4 1052.0,1718.2 1051.0,1717.6 1050.0,1717.7 1049.0,1717.5 1048.0,1717.2 1047.0,1717.6 1046.0,1716.9 1045.0,1717.3 1044.0,1717.5 1043.0,1717.9 1042.0,1717.7 1041.0,1717.1 1040.0,1717.0 1039.0,1717.5 1038.0,1717.4 1037.0,1717.5 1036.0,1717.4 1035.0,1717.6 1034.0,1717.3 1033.0,1717.8 1032.0,1717.2 1031.0,1717.3 1030.0,1718.1 1029.0,1718.1 1028.0,1717.8 1027.0,1717.5 1026.0,1717.5 1025.0,1717.5 1024.0,1717.8 1023.0,1718.6 1022.0,1718.2 1021.0,1718.3 1020.0,1718.5 1019.0,1719.0 1018.0,1719.0 1017.0,1717.7 1016.0,1719.0 1015.0,1719.7 1014.0,1719.1 1013.0,1718.1 1012.0,1717.8 1011.0,1717.7 1010.0,1717.8 1009.0,1717.8 1008.0,1718.3 1007.0,1718.4 1006.0,1718.0 1005.0,1718.9 1004.0,1719.4 1003.0,1719.2 1002.0,1718.0 1001.0,1718.5 1000.0,1718.2 999.0,1718.6 998.0,1718.1 997.0,1718.6 996.0,1719.7 995.0,1719.4 994.0,1719.0 993.0,1718.8 992.0,1718.9 991.0,1719.2 990.0,1718.4 989.0,1718.6 988.0,1718.4 987.0,1718.7 986.0,1719.5 985.0,1719.8 984.0,1719.2 983.0,1719.0 982.0,1718.8 981.0,1718.8 980.0,1718.4 979.0,1719.0 978.0,1719.7 977.0,1720.3 976.0,1719.9 975.0,1718.9 974.0,1719.1 973.0,1718.4 972.0,1718.5 971.0,1718.8 970.0,1719.1 969.0,1718.4 968.0,1718.6 967.0,1718.3 966.0,1718.5 965.0,1718.4 964.0,1719.1 963.0,1719.3 962.0,1718.6 961.0,1719.1 960.0,1719.8 959.0,1718.9 958.0,1718.4 957.0,1718.1 956.0,1718.1 955.0,1717.9 954.0,1718.0 953.0,1718.7 952.0,1718.6 951.0,1718.4 950.0,1718.0 949.0,1717.8 948.0,1717.8 947.0,1718.3 946.0,1718.5 945.0,1718.6 944.0,1718.7 943.0,1718.5 942.0,1718.8 941.0,1717.8 940.0,1717.7 939.0,1719.4 938.0,1719.1 937.0,1719.5 936.0,1717.8 935.0,1717.8 934.0,1717.9 933.0,1717.8 932.0,1717.9 931.0,1717.5 930.0,1718.5 929.0,1717.9 928.0,1717.3 927.0,1718.0 926.0,1717.3 925.0,1717.8 924.0,1718.5 923.0,1717.6 922.0,1717.2 921.0,1717.9 920.0,1717.2 919.0,1717.6 918.0,1717.0 917.0,1717.4 916.0,1717.1 915.0,1718.0 914.0,1717.5 913.0,1717.5 912.0,1716.8 911.0,1717.4 910.0,1716.8 909.0,1716.7 908.0,1716.8 907.0,1717.1 906.0,1716.9 905.0,1716.2 904.0,1716.7 903.0,1716.8 902.0,1716.3 901.0,1716.0 900.0,1716.3 899.0,1716.0 898.0,1716.0 897.0,1717.0 896.0,1717.8 895.0,1717.3 894.0,1716.4 893.0,1715.9 892.0,1716.0 891.0,1716.1 890.0,1715.8 889.0,1715.7 888.0,1715.9 887.0,1715.9 886.0,1716.3 885.0,1716.1 884.0,1716.1 883.0,1715.8 882.0,1715.3 881.0,1715.4 880.0,1715.9 879.0,1716.0 878.0,1715.6 877.0,1716.0 876.0,1716.0 875.0,1716.5 874.0,1716.8 873.0,1716.5 872.0,1716.9 871.0,1715.7 870.0,1715.8 869.0,1715.6 868.0,1715.6 867.0,1716.2 866.0,1716.9 865.0,1717.0 864.0,1716.5 863.0,1715.9 862.0,1716.3 861.0,1716.0 860.0,1716.0 859.0,1716.0 858.0,1716.5 857.0,1716.5 856.0,1716.6 855.0,1716.4 854.0,1717.0 853.0,1716.5 852.0,1717.2 851.0,1717.5 850.0,1716.7 849.0,1716.9 848.0,1717.0 847.0,1717.2 846.0,1717.5 845.0,1718.2 844.0,1717.7 843.0,1717.3 842.0,1718.0 841.0,1717.4 840.0,1717.5 839.0,1717.8 838.0,1717.9 837.0,1717.9 836.0,1717.5 835.0,1719.1 834.0,1718.3 833.0,1717.6 832.0,1718.2 831.0,1718.0 830.0,1717.9 829.0,1718.4 828.0,1718.8 827.0,1718.5 826.0,1718.3 825.0,1718.2 824.0,1718.7 823.0,1718.3 822.0,1718.5 821.0,1718.8 820.0,1718.8 819.0,1718.9 818.0,1719.1 817.0,1718.8 816.0,1719.5 815.0,1718.9 814.0,1719.3 813.0,1718.8 812.0,1719.5 811.0,1719.7 810.0,1718.8 809.0,1719.3 808.0,1719.0 807.0,1719.3 806.0,1718.9 805.0,1719.2 804.0,1719.1 803.0,1719.2 802.0,1718.9 801.0,1719.0 800.0,1719.6 799.0,1719.4 798.0,1719.1 797.0,1719.1 796.0,1719.0 795.0,1718.9 794.0,1719.7 793.0,1718.9 792.0,1719.4 791.0,1719.6 790.0,1718.9 789.0,1718.7 788.0,1719.0 787.0,1719.1 786.0,1719.2 785.0,1718.8 784.0,1719.0 783.0,1719.2 782.0,1718.5 781.0,1718.9 780.0,1718.4 779.0,1718.7 778.0,1718.9 777.0,1718.3 776.0,1718.3 775.0,1718.2 774.0,1718.5 773.0,1717.8 772.0,1718.3 771.0,1718.5 770.0,1719.5 769.0,1718.4 768.0,1717.7 767.0,1718.0 766.0,1718.2 765.0,1718.1 764.0,1718.7 763.0,1718.1 762.0,1718.4 761.0,1718.0 760.0,1718.1 759.0,1717.6 758.0,1717.1 757.0,1717.2 756.0,1717.1 755.0,1717.2 754.0,1717.1 753.0,1717.1 752.0,1716.9 751.0,1717.1 750.0,1716.9 749.0,1716.8 748.0,1716.7 747.0,1718.0 746.0,1717.2 745.0,1717.3 744.0,1717.4 743.0,1716.6 742.0,1716.7 741.0,1716.6 740.0,1717.0 739.0,1717.0 738.0,1717.6 737.0,1716.8 736.0,1717.0 735.0,1716.6 734.0,1716.5 733.0,1716.8 732.0,1716.7 731.0,1717.3 730.0,1716.5 729.0,1717.2 728.0,1716.5 727.0,1716.8 726.0,1716.6 725.0,1716.4 724.0,1716.6 723.0,1716.4 722.0,1716.3 721.0,1716.6 720.0,1716.3 719.0,1716.3 718.0,1716.5 717.0,1716.6 716.0,1716.7 715.0,1716.8 714.0,1716.6 713.0,1717.6 712.0,1717.5 711.0,1717.5 710.0,1716.3 709.0,1717.3 708.0,1717.0 707.0,1717.2 706.0,1716.4 705.0,1716.6 704.0,1717.5 703.0,1716.6 702.0,1716.7 701.0,1717.3 700.0,1717.1 699.0,1717.4 698.0,1716.8 697.0,1716.8 696.0,1716.8 695.0,1717.0 694.0,1717.3 693.0,1716.8 692.0,1717.4 691.0,1717.4 690.0,1717.4 689.0,1716.9 688.0,1716.8 687.0,1716.6 686.0,1716.5 685.0,1716.6 684.0,1717.0 683.0,1716.7 682.0,1716.4 681.0,1716.3 680.0,1717.2 679.0,1717.1 678.0,1716.6 677.0,1716.6 676.0,1717.1 675.0,1717.2 674.0,1716.9 673.0,1716.7 672.0,1717.3 671.0,1717.6 670.0,1718.7 669.0,1717.8 668.0,1717.4 667.0,1717.0 666.0,1717.1 665.0,1718.0 664.0,1716.1 663.0,1715.7 662.0,1716.7 661.0,1716.0 660.0,1715.7 659.0,1716.3 658.0,1716.1 657.0,1716.1 656.0,1715.4 655.0,1715.6 654.0,1715.8 653.0,1715.7 652.0,1716.2 651.0,1715.5 650.0,1716.2 649.0,1715.5 648.0,1715.4 647.0,1715.9 646.0,1715.6 645.0,1715.8 644.0,1716.3 643.0,1716.1 642.0,1715.7 641.0,1715.5 640.0,1715.3 639.0,1716.1 638.0,1716.0 637.0,1715.2 636.0,1715.7 635.0,1715.9 634.0,1715.5 633.0,1715.6 632.0,1715.5 631.0,1715.7 630.0,1715.9 629.0,1716.1 628.0,1715.8 627.0,1715.5 626.0,1715.7 625.0,1716.2 624.0,1716.0 623.0,1716.9 622.0,1716.7 621.0,1716.3 620.0,1716.0 619.0,1715.8 618.0,1716.0 617.0,1716.1 616.0,1716.2 615.0,1716.1 614.0,1717.5 613.0,1717.2 612.0,1717.1 611.0,1716.3 610.0,1717.0 609.0,1718.0 608.0,1717.8 607.0,1717.2 606.0,1716.9 605.0,1716.8 604.0,1716.5 603.0,1716.6 602.0,1717.8 601.0,1717.9 600.0,1717.1 599.0,1717.5 598.0,1717.6 597.0,1717.6 596.0,1717.0 595.0,1717.9 594.0,1718.3 593.0,1717.5 592.0,1716.8 591.0,1716.7 590.0,1716.9 589.0,1717.9 588.0,1717.3 587.0,1716.8 586.0,1717.2 585.0,1717.3 584.0,1717.1 583.0,1717.2 582.0,1717.0 581.0,1717.1 580.0,1717.5 579.0,1718.0 578.0,1717.9 577.0,1717.3 576.0,1717.5 575.0,1718.0 574.0,1717.8 573.0,1718.3 572.0,1717.9 571.0,1718.9 570.0,1719.5 569.0,1719.0 568.0,1718.1 567.0,1717.8 566.0,1717.6 565.0,1717.5 564.0,1717.3 563.0,1717.6 562.0,1717.0 561.0,1717.5 560.0,1717.8 559.0,1718.7 558.0,1718.9 557.0,1717.5 556.0,1716.9 555.0,1718.5 554.0,1717.9 553.0,1717.9 552.0,1717.1 551.0,1717.4 550.0,1717.0 549.0,1716.7 548.0,1717.3 547.0,1717.0 546.0,1716.9 545.0,1717.2 544.0,1716.7 543.0,1716.6 542.0,1717.2 541.0,1717.5 540.0,1716.7 539.0,1717.3 538.0,1717.0 537.0,1716.6 536.0,1716.9 535.0,1716.9 534.0,1717.1 533.0,1717.8 532.0,1717.6 531.0,1717.5 530.0,1716.7 529.0,1716.5 528.0,1716.8 527.0,1716.9 526.0,1716.9 525.0,1716.6 524.0,1717.2 523.0,1717.6 522.0,1717.6 521.0,1716.9 520.0,1717.6 519.0,1717.1 518.0,1717.5 517.0,1718.2 516.0,1717.8 515.0,1717.5 514.0,1717.4 513.0,1717.4 512.0,1717.6 511.0,1718.0 510.0,1717.8 509.0,1717.4 508.0,1718.3 507.0,1718.5 506.0,1717.7 505.0,1717.7 504.0,1717.6 503.0,1717.5 502.0,1717.8 501.0,1718.2 500.0,1718.4 499.0,1719.5 498.0,1718.4 497.0,1718.4 496.0,1718.6 495.0,1718.6 494.0,1718.2 493.0,1718.2 492.0,1718.3 491.0,1718.0 490.0,1719.0 489.0,1718.0 488.0,1718.3 487.0,1718.9 486.0,1718.1 485.0,1718.5 484.0,1718.8 483.0,1718.4 482.0,1718.2 481.0,1718.4 480.0,1718.8 479.0,1718.1 478.0,1718.4 477.0,1719.2 476.0,1718.3 475.0,1718.4 474.0,1718.6 473.0,1718.6 472.0,1718.9 471.0,1718.9 470.0,1718.0 469.0,1718.2 468.0,1718.1 467.0,1718.0 466.0,1718.5 465.0,1718.3 464.0,1718.0 463.0,1718.1 462.0,1718.4 461.0,1717.9 460.0,1717.6 459.0,1717.8 458.0,1718.0 457.0,1718.1 456.0,1718.7 455.0,1717.8 454.0,1717.7 453.0,1717.9 452.0,1717.5 451.0,1717.7 450.0,1717.7 449.0,1718.2 448.0,1717.2 447.0,1717.4 446.0,1717.4 445.0,1717.0 444.0,1716.7 443.0,1718.4 442.0,1716.6 441.0,1716.8 440.0,1717.1 439.0,1716.9 438.0,1716.4 437.0,1716.6 436.0,1716.5 435.0,1716.7 434.0,1716.3 433.0,1716.2 432.0,1716.3 431.0,1716.6 430.0,1717.2 429.0,1717.0 428.0,1716.5 427.0,1716.2 426.0,1716.2 425.0,1717.2 424.0,1716.1 423.0,1716.5 422.0,1716.7 421.0,1716.7 420.0,1716.8 419.0,1716.4 418.0,1716.6 417.0,1716.9 416.0,1716.2 415.0,1716.4 414.0,1716.7 413.0,1716.3 412.0,1716.3 411.0,1716.2 410.0,1717.0 409.0,1717.7 408.0,1717.7 407.0,1717.9 406.0,1716.9 405.0,1716.6 404.0,1716.3 403.0,1716.3 402.0,1716.4 401.0,1716.7 400.0,1716.7 399.0,1716.5 398.0,1717.2 397.0,1716.4 396.0,1716.6 395.0,1716.6 394.0,1717.2 393.0,1717.5 392.0,1717.4 391.0,1717.3 390.0,1716.8 389.0,1716.3 388.0,1716.8 387.0,1717.0 386.0,1716.6 385.0,1717.1 384.0,1716.9 383.0,1716.5 382.0,1716.5 381.0,1716.4 380.0,1716.7 379.0,1717.3 378.0,1717.0 377.0,1716.5 376.0,1717.0 375.0,1717.6 374.0,1717.6 373.0,1717.2 372.0,1717.7 371.0,1717.9 370.0,1717.0 369.0,1716.9 368.0,1717.1 367.0,1717.9 366.0,1717.2 365.0,1718.1 364.0,1718.2 363.0,1718.2 362.0,1718.8 361.0,1718.5 360.0,1717.1 359.0,1717.2 358.0,1717.7 357.0,1717.4 356.0,1717.2 355.0,1718.1 354.0,1718.2 353.0,1718.7 352.0,1717.7 351.0,1718.2 350.0,1718.2"/>
<line x1="350.0" y1="1713.0" x2="3086.0" y2="1713.0" stroke="#7f7f7f" stroke-width="3.125" stroke-dasharray="12.5 12.5" stroke-linecap="round"/>
<g stroke="#000" stroke-width="3.125" fill="none" stroke-linecap="round" stroke-linejoin="round">
<rect x="350.0" y="50.0" width="2736.0" height="1524.0"/>
<rect x="350.0" y="1574.0" width="2736.0" height="276.0"/>
<line x1="350.0" y1="1850.0" x2="350.0" y2="1825.0"/>
<line x1="1034.0" y1="1850.0" x2="1034.0" y2="1825.0"/>
<line x1="1718.0" y1="1850.0" x2="1718.0" y2="1825.0"/>
<line x1="2402.0" y1="1850.0" x2="2402.0" y2="1825.0"/>
<line x1="3086.0" y1="1850.0" x2="3086.0" y2="1825.0"/>
</g>
<g font-size="62.5">
<text x="300.5" y="1597.5" text-anchor="end">2</text>
<text x="300.5" y="1216.5" text-anchor="end">3</text>
<text x="300.5" y="835.5" text-anchor="end">4</text>
<text x="300.5" y="454.5" text-anchor="end">5</text>
<text x="300.5" y="73.5" text-anchor="end">6</text>
<text x="350.0" y="1942" text-anchor="middle">27.5</text>
<text x="1034.0" y="1942" text-anchor="middle">28.0</text>
<text x="1718.0" y="1942" text-anchor="middle">28.5</text>
<text x="2402.0" y="1942" text-anchor="middle">29.0</text>
<text x="3086.0" y="1942" text-anchor="middle">29.5</text>
</g>
<text font-size="75" x="1718" y="2040" text-anchor="middle">Time (s)</text>
<text font-size="71" transform="translate(240,812) rotate(-90)" text-anchor="middle">Frequency (kHz)</text>
<text font-size="75" transform="translate(190.5,1712) rotate(-90)" text-anchor="middle">Amplitude</text>
<g id="scale">
<rect x="3171.0" y="1529.00" width="164.0" height="45.30" fill="#FFFFFF"/>
<rect x="3171.0" y="1484.00" width="164.0" height="45.30" fill="#E3F8FF"/>
<rect x="3171.0" y="1439.00" width="164.0" height="45.30" fill="#C6EAFF"/>
<rect x="3171.0" y="1394.00" width="164.0" height="45.30" fill="#AAD4FF"/>
<rect x="3171.0" y="1349.00" width="164.0" height="45.30" fill="#8EB7FF"/>
<rect x="3171.0" y="1304.00" width="164.0" height="45.30" fill="#7192FF"/>
<rect x="3171.0" y="1259.00" width="164.0" height="45.30" fill="#5566FF"/>
<rect x="3171.0" y="1214.00" width="164.0" height="45.30" fill="#3F39FF"/>
<rect x="3171.0" y="1169.00" width="164.0" height="45.30" fill="#421CFF"/>
<rect x="3171.0" y="1124.00" width="164.0" height="45.30" fill="#4C00FF"/>
<rect x="3171.0" y="1079.00" width="164.0" height="45.30" fill="#00800D"/>
<rect x="3171.0" y="1034.00" width="164.0" height="45.30" fill="#058800"/>
<rect x="3171.0" y="989.00" width="164.0" height="45.30" fill="#189000"/>
<rect x="3171.0" y="944.00" width="164.0" height="45.30" fill="#2E9900"/>
<rect x="3171.0" y="899.00" width="164.0" height="45.30" fill="#46A200"/>
<rect x="3171.0" y="854.00" width="164.0" height="45.30" fill="#60AA00"/>
<rect x="3171.0" y="809.00" width="164.0" height="45.30" fill="#7DB300"/>
<rect x="3171.0" y="764.00" width="164.0" height="45.30" fill="#9CBB00"/>
<rect x="3171.0" y="719.00" width="164.0" height="45.30" fill="#BDC400"/>
<rect x="3171.0" y="674.00" width="164.0" height="45.30" fill="#CCB800"/>
<rect x="3171.0" y="629.00" width="164.0" height="45.30" fill="#FFE680"/>
<rect x="3171.0" y="584.00" width="164.0" height="45.30" fill="#FFD871"/>
<rect x="3171.0" y="539.00" width="164.0" height="45.30" fill="#FFC863"/>
<rect x="3171.0" y="494.00" width="164.0" height="45.30" fill="#FFB555"/>
<rect x="3171.0" y="449.00" width="164.0" height="45.30" fill="#FFA147"/>
<rect x="3171.0" y="404.00" width="164.0" height="45.30" fill="#FF8A39"/>
<rect x="3171.0" y="359.00" width="164.0" height="45.30" fill="#FF712B"/>
<rect x="3171.0" y="314.00" width="164.0" height="45.30" fill="#FF561C"/>
<rect x="3171.0" y="269.00" width="164.0" height="45.30" fill="#FF390E"/>
<rect x="3171.0" y="224.00" width="164.0" height="45.30" fill="#FF1900"/>
</g>
<g stroke="#000" stroke-width="3.125" fill="none" stroke-linecap="round" stroke-linejoin="round">
<rect x="3171.0" y="224.0" width="164.0" height="1350.0"/>
<line x1="3335.0" y1="224.0" x2="3360.0" y2="224.0"/>
<line x1="3335.0" y1="449.0" x2="3360.0" y2="449.0"/>
<line x1="3335.0" y1="674.0" x2="3360.0" y2="674.0"/>
<line x1="3335.0" y1="899.0" x2="3360.0" y2="899.0"/>
<line x1="3335.0" y1="1124.0" x2="3360.0" y2="1124.0"/>
<line x1="3335.0" y1="1349.0" x2="3360.0" y2="1349.0"/>
<line x1="3335.0" y1="1574.0" x2="3360.0" y2="1574.0"/>
</g>
<g font-size="62.5">
<text x="3388" y="248.0">0</text>
<text x="3388" y="473.0">-5</text>
<text x="3388" y="698.0">-10</text>
<text x="3388" y="923.0">-15</text>
<text x="3388" y="1148.0">-20</text>
<text x="3388" y="1373.0">-25</text>
<text x="3388" y="1598.0">-30</text>
</g>
<text font-size="37.5" x="3171" y="94.3">Amplitude</text>
<text font-size="37.5" x="3171" y="137.8">(dB)</text>
</svg></body></html>
